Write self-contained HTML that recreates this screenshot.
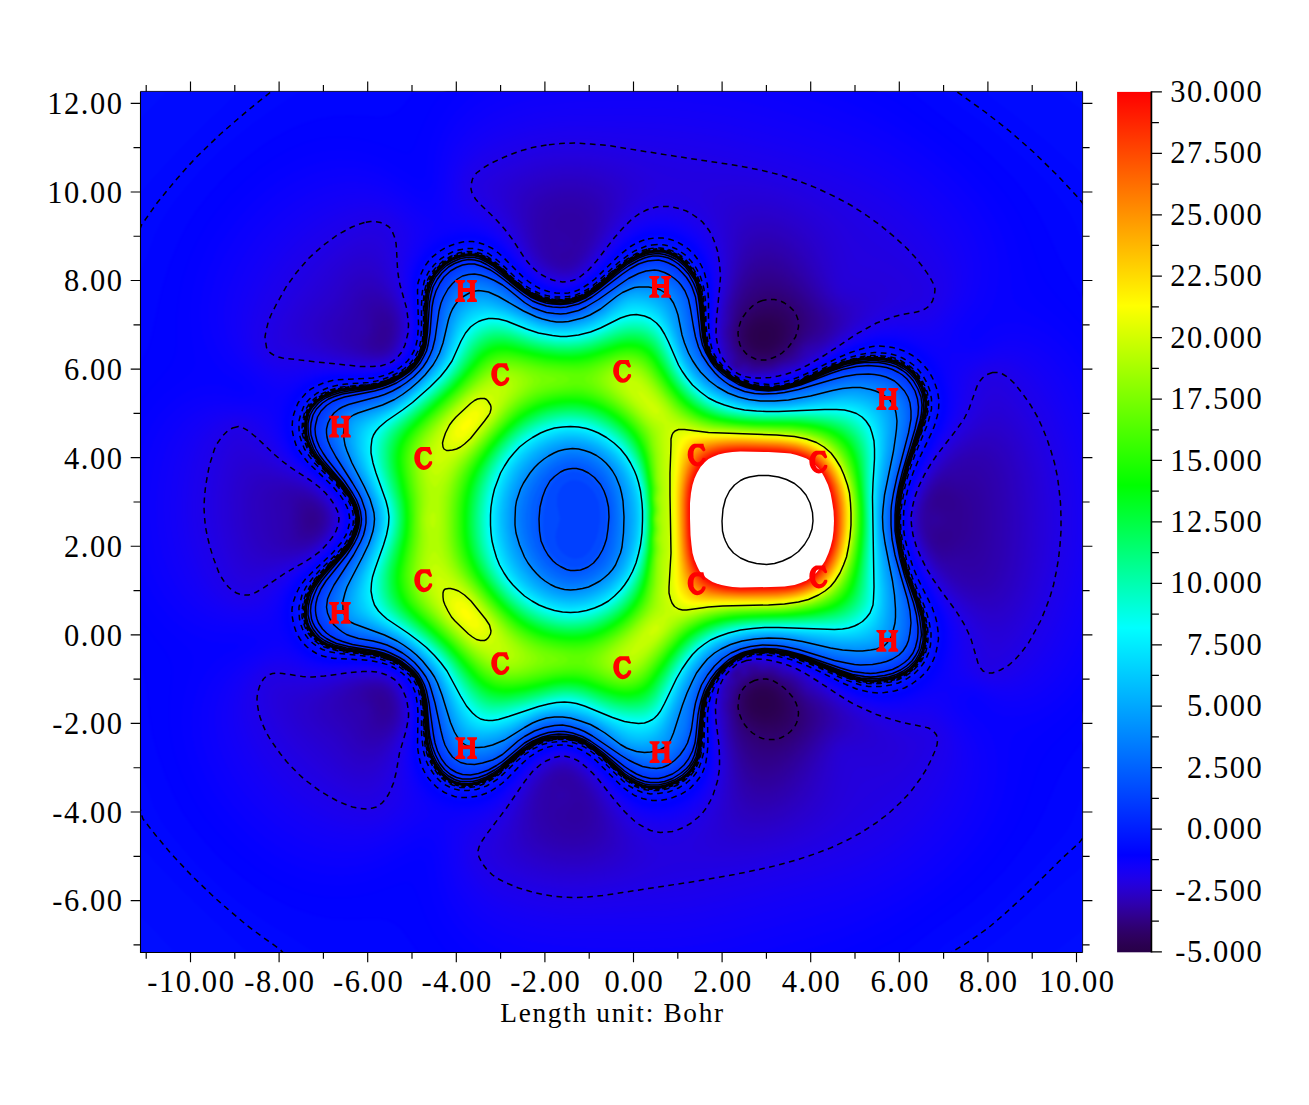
<!DOCTYPE html>
<html><head><meta charset="utf-8"><title>plot</title>
<style>html,body{margin:0;padding:0;background:#fff}svg{display:block}text{font-family:"Liberation Serif",serif;font-size:30.5px;fill:#000;letter-spacing:1.55px}</style>
</head><body>
<svg width="1309" height="1105" viewBox="0 0 1309 1105">
<defs>
<clipPath id="cp"><rect x="140.5" y="91.4" width="942.0999999999999" height="861.1"/></clipPath>
<filter id="bl" x="-5%" y="-5%" width="110%" height="110%" color-interpolation-filters="sRGB"><feGaussianBlur stdDeviation="1.2"/></filter>
<linearGradient id="cb" x1="0" y1="0" x2="0" y2="1"><stop offset="0.0000" stop-color="#ff0000"/><stop offset="0.2486" stop-color="#ffff00"/><stop offset="0.4571" stop-color="#00ff00"/><stop offset="0.6229" stop-color="#00ffff"/><stop offset="0.8871" stop-color="#0000ff"/><stop offset="0.8929" stop-color="#0800fe"/><stop offset="0.9000" stop-color="#1100f9"/><stop offset="0.9071" stop-color="#1800f2"/><stop offset="0.9143" stop-color="#1f00e8"/><stop offset="0.9214" stop-color="#2400dc"/><stop offset="0.9286" stop-color="#2800ce"/><stop offset="0.9357" stop-color="#2b00bf"/><stop offset="0.9429" stop-color="#2e00b0"/><stop offset="0.9500" stop-color="#2f00a0"/><stop offset="0.9571" stop-color="#300090"/><stop offset="0.9643" stop-color="#300080"/><stop offset="0.9714" stop-color="#2f0071"/><stop offset="0.9786" stop-color="#2e0064"/><stop offset="0.9857" stop-color="#2d0059"/><stop offset="0.9929" stop-color="#2a004f"/><stop offset="1.0000" stop-color="#280048"/></linearGradient>
</defs>
<rect width="1309" height="1105" fill="#fff"/>
<g clip-path="url(#cp)">
<rect x="120" y="70" width="990" height="910" fill="#0001ff"/>
<g filter="url(#bl)"><g transform="scale(0.5)" fill-rule="evenodd">
<path fill="#0004ff" d="M257 158l591 0-43 54-11 10-9 6-12 3-12 2-64-3-32 2-28 5-32 10-20 8-24 13-20 11-20 14-20 15-20 16-20 18-20 20-25 28-25 32-20 32-14 28-18 44-15 48-8 32-13 64-7 24-13 28-26 45zM1785 158l404 0 0 468-40-56-17-28-14-28-26-60-17-32-21-32-25-32-35-36-41-37-77-59-51-41-20-15zM1312 470l13 0 12 2 16 5 12 6 10 7 10 8 10 12 8 12 6 12 4 12 5 24 2 24-1 64 2 20 4 16 6 16 10 16 7 8 9 8 16 11 16 7 24 6 24 1 24-3 24-7 16-6 24-11 56-29 28-12 28-9 24-3 16 1 12 2 12 3 16 6 12 7 12 9 11 11 10 12 11 20 7 20 4 20 0 12-1 12-4 16-5 16-39 80-15 40-7 24-2 16-2 20 0 16 2 16 2 16 6 20 5 16 15 36 30 60 8 20 4 16 2 16 0 12-2 16-5 20-6 16-11 16-11 12-15 12-20 11-20 6-20 3-16 1-16-2-16-3-12-4-28-13-48-25-24-11-28-11-24-7-28-4-20 0-20 4-8 3-12 5-15 11-14 16-13 20-8 20-4 20-2 16 1 64-1 20-4 24-6 16-10 16-8 9-8 7-8 6-12 7-20 8-20 3-16 0-20-3-16-7-12-8-12-9-48-49-12-11-16-12-12-7-16-5-16-2-16 1-16 4-16 8-18 12-17 16-26 28-11 10-12 9-16 10-20 7-20 3-20 0-20-5-8-4-12-7-16-14-13-17-10-20-4-16-3-20 3-64-1-16-2-16-3-16-5-12-7-12-7-8-12-10-12-7-12-5-16-5-28-4-60-2-24-4-12-5-12-6-11-8-8-8-6-8-8-12-5-12-3-12-2-12 0-16 2-12 4-12 10-20 12-16 12-12 40-36 11-12 10-12 7-12 7-16 3-12 0-12-1-8-4-12-6-12-8-12-17-20-51-48-10-12-8-12-7-16-4-16-2-16 1-16 6-20 6-12 6-8 12-13 9-7 11-6 16-6 20-5 20-2 48-1 16-1 12-3 16-5 12-6 14-9 10-10 8-10 6-12 3-12 2-12 2-32-3-64 2-16 3-12 4-12 4-8 12-16 17-15 16-10 20-8 20-4 20 0 12 3 8 3 16 8 15 11 47 48 22 17 12 7 16 6 16 3 16 1 12-2 12-4 12-5 10-7 22-19 44-44 12-10 12-8 12-6 12-5 12-3zM257 1282l19 36 10 28 5 24 7 64 5 32 11 40 17 48 17 40 17 32 22 32 31 36 19 20 20 19 24 20 20 15 24 17 20 11 20 11 24 11 36 12 20 5 16 3 32 2 64-1 16 2 12 5 11 8 9 9 34 47 14 17 2 3-598 0zM2187 1454l2-3 0 479-416 0-6 0 26-15 24-16 52-40 48-34 24-18 37-33 20-20 18-20 28-36 25-36 19-36 25-60 14-28 18-28z"/>
<path fill="#0007ff" d="M257 158l390 0-26 13-24 14-56 37-32 23-28 22-32 27-28 27-24 25-24 28-23 28-19 28-12 20-8 16-17 48-27 60-10 24zM1861 158l328 0 0 376 0 2-5-10-12-24-23-56-10-20-16-24-29-36-34-36-39-37-26-23-26-21-70-51-13-12zM1310 474l11 0 16 2 12 4 12 5 12 8 11 9 9 11 8 12 9 21 4 12 2 16 2 24 0 64 2 16 3 16 7 16 10 16 7 8 10 9 16 10 12 6 12 4 20 4 20 1 24-3 16-4 24-9 76-37 28-12 28-9 12-2 16-1 16 1 12 2 12 3 16 7 12 8 12 9 9 9 9 12 11 20 7 20 3 20-1 20-4 16-5 16-33 68-10 24-9 28-6 24-3 16-1 20 0 16 3 28 3 16 8 24 16 40 27 56 8 20 3 12 2 16 0 16-1 12-4 20-7 16-9 15-12 13-16 13-16 9-20 7-20 4-16 0-16-1-16-3-12-4-28-12-44-22-28-14-28-10-28-8-24-3-24 1-20 4-16 8-15 11-15 16-13 20-8 20-4 20-2 16 0 64-1 20-3 20-6 16-10 16-7 8-8 8-8 6-12 7-20 8-20 3-16 1-20-4-16-6-12-8-12-10-58-57-14-11-12-7-16-6-16-3-20 1-16 4-16 7-20 14-19 17-29 30-12 10-16 10-20 9-20 4-20 0-20-5-12-5-8-5-16-13-12-15-11-20-5-17-3-19 0-16 1-56-2-28-3-12-5-12-6-12-7-8-9-8-14-9-12-6-16-5-16-3-16-2-60-3-12-2-12-3-12-4-11-7-9-7-8-8-7-9-7-12-4-12-3-12-2-12 1-12 1-12 4-12 10-20 12-16 11-12 40-37 10-11 10-12 10-16 4-12 3-12 0-12-2-12-3-8-6-12-8-12-18-21-45-43-10-12-9-12-8-16-5-16-2-16 1-16 5-20 6-12 5-8 7-8 8-8 11-8 8-4 16-6 20-5 16-1 48-2 12-1 16-3 16-5 12-6 16-11 9-8 6-8 7-12 4-12 3-12 1-12 1-20-3-64 2-16 4-16 7-16 12-16 15-14 20-12 20-7 20-4 20 1 16 5 14 7 14 10 12 11 36 37 12 10 12 8 12 6 16 6 12 3 16 1 12-1 12-3 8-3 12-7 20-15 48-46 20-17 16-9 12-6 12-3zM257 1494l0-3 36 79 17 48 8 16 13 20 22 28 24 28 22 24 26 25 28 26 28 22 28 21 28 19 45 27 51 34 20 10 28 12-424 0zM2188 1542l1-2 0 390-332 0-7 0 26-28 12-12 11-8 34-22 24-17 26-21 26-24 47-48 61-68 16-20 9-16 27-68z"/>
<path fill="#000aff" d="M257 158l248 0-84 80-45 44-38 40-33 36-30 36-18 24zM1935 158l254 0 0 216-16-18-19-18-62-56-55-45-83-63zM1307 478l14 0 12 1 12 3 12 5 12 8 9 7 11 11 8 11 5 10 5 12 4 12 3 16 2 24 1 68 2 16 5 16 3 8 7 12 12 16 14 12 17 10 20 8 24 4 20 1 22-3 22-6 16-6 72-36 28-11 28-9 16-3 12-1 16 1 12 2 12 3 16 7 12 7 11 8 9 9 9 11 11 20 8 20 3 20-1 20-3 12-5 16-33 72-9 24-8 24-4 16-5 24-2 16 0 24 4 32 9 36 11 28 32 68 7 20 3 12 2 16 0 16-1 12-4 20-7 16-11 16-12 12-16 12-18 9-16 5-20 4-12 0-16-1-16-3-12-4-28-11-45-23-27-12-28-10-28-8-24-3-20 1-20 4-8 2-12 6-16 12-15 16-13 20-8 20-5 20-1 16-1 64-1 20-3 16-5 16-10 16-14 15-8 6-12 8-20 8-20 4-16 0-20-3-16-7-12-7-12-10-46-46-18-16-16-10-13-6-19-4-20 0-20 4-16 7-15 9-15 12-36 36-14 12-16 10-16 7-16 5-16 1-16-1-16-4-16-8-8-6-9-8-13-16-11-20-4-16-3-20 0-68-3-28-2-12-4-12-7-12-6-8-9-8-12-8-13-7-12-4-16-5-16-2-64-4-20-4-12-4-12-5-12-9-8-8-6-8-7-12-5-12-3-12-2-12 0-12 2-12 4-12 9-20 12-16 11-12 41-39 18-21 10-16 5-12 2-12 1-12-3-12-3-8-6-12-8-13-17-19-45-44-13-16-8-12-7-16-3-12-2-16 1-16 6-20 6-12 5-8 13-14 16-10 16-7 20-5 20-2 44-1 12-2 16-3 16-5 16-8 12-9 11-10 7-8 6-12 4-12 3-12 1-28-1-68 2-16 3-12 8-18 12-16 16-14 16-9 20-8 20-4 12 0 8 1 16 5 14 7 14 10 46 46 22 17 14 7 14 5 16 4 16 1 12-1 12-3 8-3 12-6 12-9 10-8 46-44 20-16 12-8 12-5 12-4zM257 1662l0-3 12 17 18 22 33 36 39 40 54 53 85 79 23 24-264 0zM2186 1714l3-4 0 220-252 0-8 0 4-3 52-39 32-26 92-82 60-51z"/>
<path fill="#000dff" d="M257 158l101 0-50 52-51 53zM2082 158l107 0 0 80 0 2zM1304 482l13-1 12 1 12 3 16 6 12 8 8 7 12 12 8 12 9 20 6 24 3 24 1 68 2 16 5 16 7 16 12 16 15 14 16 11 20 8 24 6 20 1 24-2 16-4 24-9 72-35 28-11 28-8 16-3 12 0 16 0 12 3 12 3 12 5 12 7 12 9 9 9 10 12 11 20 6 16 3 20-1 20-3 12-5 16-30 68-16 44-6 24-4 24-2 16 0 24 1 16 4 24 4 16 7 24 12 31 25 53 8 24 2 12 2 16 0 12-1 12-3 16-7 16-10 16-12 13-16 12-16 8-20 7-20 2-24 0-16-3-12-3-24-10-48-23-28-13-28-10-24-6-24-3-24 0-20 4-8 3-12 6-16 11-9 9-7 8-12 20-9 20-5 20-2 16 0 60-2 20-3 20-6 16-10 16-15 14-16 11-20 8-20 4-16 1-20-4-16-6-12-8-16-13-52-51-12-9-12-8-16-6-20-4-20 1-16 4-16 6-20 13-18 15-37 36-13 10-12 7-20 7-20 3-20-1-16-4-16-8-16-14-13-16-9-20-5-16-3-20 0-64-3-28-2-12-4-12-7-12-6-8-8-8-12-8-12-7-16-6-16-5-16-2-60-5-20-3-12-3-12-6-11-7-9-9-6-7-7-12-5-12-4-12-1-12 0-12 2-12 3-12 10-20 11-16 12-12 41-40 17-20 9-16 5-12 2-12 1-12-3-12-2-8-6-12-8-12-17-20-45-44-10-12-8-12-6-12-6-16-2-16 0-16 5-20 6-12 5-8 6-8 9-8 16-10 16-7 16-4 20-2 48-3 12-1 16-4 16-6 13-7 15-10 10-10 6-8 6-12 4-12 3-12 1-28-1-64 2-16 3-12 7-16 11-16 16-15 16-10 20-8 16-4 20 0 16 4 16 8 12 8 12 11 36 36 12 10 12 8 16 7 14 5 14 3 16 1 12-1 12-3 10-4 10-5 21-15 47-45 16-13 12-8 12-6 12-5zM257 1810l0-2 56 57 60 65-116 0zM2188 1842l1-1 0 89-104 0-7 0 49-40z"/>
<path fill="#0010ff" d="M1301 486l12-1 12 0 16 4 12 4 12 7 12 10 8 9 8 11 7 12 5 12 6 24 2 24 2 64 2 16 4 16 8 16 12 16 16 15 16 10 20 9 24 6 24 1 20-2 16-4 20-7 72-34 28-12 32-8 24-3 16 1 12 1 12 3 12 5 12 7 12 8 8 8 10 12 10 16 8 20 3 20-1 20-3 12-5 16-30 71-8 22-8 27-4 16-4 24-1 16-1 20 2 20 2 16 4 20 6 23 12 34 27 59 6 20 3 12 1 16 1 12-1 12-4 16-7 16-10 15-12 13-16 11-16 8-16 5-20 3-16 0-12-1-24-5-24-9-50-24-29-12-25-9-28-7-24-3-20 1-20 4-12 5-8 4-16 11-8 8-9 10-12 20-9 20-4 16-3 20-1 60-2 20-4 20-6 16-10 14-8 9-8 6-16 10-20 7-20 4-16 0-16-3-16-7-12-7-12-10-44-43-16-14-16-11-16-7-20-4-20 0-20 3-16 7-18 10-15 12-39 37-12 10-12 8-16 7-16 4-16 2-16-1-16-5-16-9-15-13-12-16-9-20-5-16-2-16-2-68-2-28-3-12-5-12-5-9-8-10-8-7-12-8-12-7-16-6-16-4-16-3-60-5-20-4-12-4-12-6-10-7-8-8-6-8-7-12-4-8-3-12-2-12 0-12 2-12 4-12 9-20 12-16 15-16 36-36 18-22 8-14 5-12 2-12 1-12-1-8-4-12-6-12-9-14-16-18-44-44-10-12-8-12-8-16-3-12-3-16 1-16 5-20 8-16 6-8 8-8 16-11 16-7 20-5 16-2 48-3 12-1 16-4 16-6 16-9 12-8 12-12 6-8 6-11 3-9 3-12 2-28-1-64 2-16 4-16 7-16 12-15 14-13 18-11 16-6 20-4 16 0 16 4 12 5 16 11 46 45 10 8 12 8 15 8 17 6 16 3 16 1 12-1 12-3 12-5 10-5 22-16 40-38 20-16 12-8 12-6 12-5z"/>
<path fill="#0012ff" d="M1298 490l15-2 12 1 12 2 12 4 12 7 11 8 9 9 8 11 8 12 4 9 4 12 4 15 2 24 2 48 1 20 3 16 5 16 8 16 15 18 16 13 20 11 20 7 20 4 20 1 22-2 18-5 19-7 65-30 28-12 28-8 16-3 12-1 16 1 16 2 12 3 12 5 12 7 11 8 9 9 9 11 9 16 7 20 2 16-1 20-4 16-4 12-26 64-16 49-4 15-5 28-2 24 0 16 1 16 3 24 3 16 8 28 12 35 22 49 8 24 3 16 1 12 0 12-1 12-4 16-7 16-8 12-11 12-15 11-16 8-16 5-20 4-16 0-12-1-24-5-24-9-55-25-25-10-28-9-24-6-24-2-20 0-20 4-12 5-8 4-16 11-8 8-10 11-12 20-9 20-5 16-3 20-1 60-2 20-3 16-6 16-5 8-6 8-14 13-16 10-20 8-20 4-16 0-16-3-16-7-12-7-12-10-44-43-15-13-18-12-19-7-16-3-16-1-16 2-16 5-17 8-18 12-17 14-32 31-12 9-12 7-20 8-16 3-20 0-16-4-16-8-8-6-8-8-12-16-9-18-5-16-3-20-2-68-3-28-4-12-5-12-5-9-6-7-9-8-12-8-13-7-12-5-16-4-16-4-64-6-20-4-12-4-11-6-9-7-8-8-7-9-5-9-4-11-3-12-1-12 0-12 2-12 4-12 8-16 12-16 15-16 35-35 17-21 7-12 5-12 4-12 1-12-1-12-4-12-6-12-7-12-17-20-44-44-12-16-8-12-5-12-5-16-2-16 1-12 6-20 8-16 7-8 7-7 16-10 16-7 16-4 20-3 44-2 16-3 12-3 16-6 16-9 15-10 9-9 8-10 5-9 4-12 3-12 2-28 0-64 2-16 3-12 7-16 11-16 15-13 16-10 16-7 20-4 16 0 16 4 12 6 12 8 12 11 34 33 14 11 12 8 16 8 16 5 16 3 16 1 12-1 12-3 12-4 12-7 20-15 40-36 20-17 12-8 12-6z"/>
<path fill="#0015ff" d="M1295 494l14-2 12-1 12 2 12 4 12 6 12 9 10 10 10 12 10 20 5 12 3 12 3 24 3 68 3 16 5 16 6 12 5 8 13 15 16 13 20 11 24 8 24 4 16 0 24-3 14-4 21-8 61-29 28-11 28-8 16-2 12-1 16 1 12 1 12 3 12 5 12 6 12 9 8 7 9 11 10 16 6 16 3 16-1 20-5 24-30 77-15 47-5 24-2 16-3 24 0 16 1 16 3 24 9 38 10 30 25 60 7 24 4 16 1 12 0 12-1 12-4 16-7 16-9 12-12 12-14 10-16 7-16 5-20 3-24 0-12-2-16-4-20-8-52-23-28-11-28-9-24-6-20-2-24 0-20 5-12 4-8 4-16 12-8 7-11 12-12 20-9 20-5 16-3 20-2 60-2 20-4 18-6 14-10 14-12 11-16 10-20 8-20 4-16 0-16-3-16-6-12-8-12-9-56-53-17-12-18-8-17-4-16-1-20 2-16 5-16 7-18 11-18 15-36 33-12 9-12 6-16 7-20 3-16 0-16-4-16-9-14-12-12-16-9-20-5-16-3-20-2-64-3-28-4-12-4-11-5-9-7-8-9-8-11-8-15-8-13-6-16-4-16-4-60-6-21-4-12-4-11-6-9-6-8-8-7-9-6-11-3-8-3-12-1-12 0-12 3-12 4-12 8-16 11-16 14-16 36-36 16-20 7-12 5-12 4-12 1-12-2-12-3-12-6-12-7-12-18-21-42-43-12-16-7-12-6-12-5-16-1-12 1-16 4-16 3-8 5-9 12-14 16-11 16-7 16-4 20-3 44-3 16-3 12-4 16-5 16-9 12-8 13-12 7-8 5-8 5-12 3-12 3-28 0-64 2-16 4-16 7-16 11-14 16-14 16-10 16-6 16-3 16 1 16 4 12 6 12 8 12 11 35 33 10 8 12 8 16 8 19 6 16 3 16 1 12-1 12-3 12-4 12-7 21-15 39-35 20-16 20-13 12-5z"/>
<path fill="#0018ff" d="M1293 498l12-3 12 0 12 1 12 3 12 6 12 8 10 9 10 12 5 8 7 13 4 11 4 15 3 25 4 64 2 16 5 16 7 12 5 8 14 16 12 10 12 8 12 6 16 6 20 5 12 1 12 1 16-2 16-3 24-8 68-31 28-11 28-7 16-2 12-1 16 1 12 2 12 3 12 4 12 7 10 7 10 10 8 10 9 16 6 16 2 16-1 20-6 24-30 79-12 40-8 41-2 24 0 16 2 28 2 12 6 28 4 16 8 25 26 63 6 20 3 24 0 24-3 16-7 16-8 12-11 12-14 10-16 8-16 5-20 3-16 0-12-1-24-5-20-7-52-23-28-11-28-8-28-6-24-2-20 1-20 5-16 8-12 8-9 7-15 16-12 20-9 20-5 16-4 24-2 52-2 20-4 20-6 14-10 14-14 12-16 10-20 7-16 3-16 0-16-3-16-6-12-8-12-9-53-50-17-12-16-8-18-5-20-2-20 2-16 4-16 7-16 10-20 16-36 33-12 8-12 7-16 6-20 4-16 0-16-5-16-9-13-12-11-16-10-20-4-16-3-16-3-68-3-24-3-12-5-12-5-9-8-10-12-10-11-7-13-7-12-4-16-5-16-4-60-7-20-4-12-4-10-5-10-8-8-8-6-8-6-12-3-8-2-12 0-20 2-12 4-12 8-16 11-16 14-16 34-34 16-20 6-10 6-12 4-14 1-14-1-12-3-12-6-12-7-12-16-20-43-44-12-16-7-12-7-16-3-12-2-12 1-16 4-16 3-8 6-9 12-13 16-10 16-7 16-4 16-3 48-4 12-2 16-5 16-6 16-9 12-9 12-11 8-11 4-8 4-9 3-12 2-24 1-68 2-16 4-13 8-17 11-14 13-12 16-10 16-6 16-4 16 1 16 4 12 7 12 8 44 40 15 12 13 8 16 8 16 5 16 2 16 1 12-1 12-3 12-4 12-6 19-14 45-40 16-12 20-12z"/>
<path fill="#001bff" d="M1310 498l11 0 12 2 12 4 8 4 8 6 10 8 7 8 9 12 10 19 6 21 4 24 3 64 3 16 5 16 9 16 14 17 16 14 20 12 20 8 20 5 24 2 16-2 24-5 16-6 68-30 28-11 28-7 28-2 16 1 12 2 12 3 12 5 11 6 9 6 8 8 8 10 10 16 6 16 2 16-1 20-2 12-5 16-26 70-13 42-3 16-5 28-2 24 0 16 3 40 8 35 12 38 22 55 8 28 3 24 0 12-2 12-4 16-5 12-10 14-12 11-12 8-16 7-16 4-20 3-24 0-24-5-24-9-48-20-28-11-28-9-24-5-20-2-24 1-16 3-20 8-8 4-12 9-17 17-14 20-10 20-5 16-4 16-1 16-3 48-2 20-4 18-6 14-10 14-12 10-16 10-20 8-16 3-16 0-16-3-12-5-12-6-16-12-41-39-23-19-12-7-12-5-20-5-20-1-16 2-16 4-16 7-13 8-15 11-48 41-12 8-16 8-16 5-16 2-16-1-12-4-8-4-8-6-12-12-11-16-8-16-4-16-4-20-3-64-3-24-3-12-5-12-7-12-7-8-9-8-12-8-15-8-13-5-16-5-16-3-60-8-20-5-12-4-8-5-8-5-8-8-11-16-5-12-1-8-2-8 1-12 1-12 4-12 7-16 13-20 14-16 35-36 15-20 5-8 7-16 3-12 1-12-1-12-4-12-6-14-6-10-18-22-40-42-12-16-7-12-7-16-3-12-2-16 1-12 4-16 4-8 5-8 12-12 13-9 16-7 16-5 16-2 48-5 28-7 16-6 19-11 13-10 10-10 6-8 6-12 6-20 3-24 1-64 2-16 5-16 7-16 10-13 16-14 15-9 13-5 16-3 16 0 12 3 12 6 16 10 41 37 15 12 12 8 16 8 16 6 16 3 20 1 12-1 12-3 20-8 21-14 47-41 24-17 12-7 12-5 12-4z"/>
<path fill="#001eff" d="M1303 502l10-1 12 1 8 1 12 5 11 6 9 7 9 9 10 12 11 20 4 12 3 12 3 24 4 60 4 20 4 12 6 12 6 8 14 16 14 12 12 7 12 6 24 9 24 4 16 0 24-3 12-3 22-8 58-26 24-9 28-8 16-2 16-1 16 0 16 3 12 3 12 5 12 7 8 6 8 8 8 10 8 16 6 16 1 16-1 16-6 28-27 76-12 40-5 24-2 16-2 12-1 28 1 13 3 27 9 40 9 28 23 60 7 24 3 24-1 24-3 16-6 13-8 12-12 12-12 8-16 8-16 4-20 3-24 0-24-5-24-8-46-19-30-11-28-9-24-5-20-2-24 1-20 4-8 3-12 6-16 11-18 18-9 12-8 12-9 20-4 14-4 22-5 72-3 16-7 16-9 13-12 12-16 10-20 8-16 3-16 0-16-3-12-5-12-7-12-8-47-43-20-16-14-8-11-5-11-3-17-2-16 0-16 2-16 5-16 7-13 8-20 16-35 30-12 9-12 7-20 7-16 3-16-1-12-3-8-4-8-5-12-11-12-16-7-16-6-16-3-20-2-20-2-44-4-27-4-13-4-10-6-10-7-8-7-6-12-9-12-7-16-8-16-5-16-4-56-7-24-6-12-4-8-4-11-8-8-8-6-8-4-8-3-8-3-12 0-8 0-12 2-12 4-12 8-16 11-16 14-16 32-33 16-21 6-10 6-14 4-14 1-12-1-12-4-13-5-11-7-12-16-21-41-43-9-12-10-16-7-16-3-12-2-16 1-12 5-16 6-12 12-13 16-11 16-6 16-5 60-7 28-7 17-7 15-8 16-12 12-12 8-12 4-8 6-20 3-24 2-64 2-16 5-16 8-16 9-12 13-11 16-10 16-6 12-2 16 0 12 3 16 8 12 9 52 44 20 14 16 7 16 5 16 2 16 1 12-2 12-2 20-8 12-7 12-9 44-38 20-15 12-7 12-6 12-4z"/>
<path fill="#0021ff" d="M1298 506l11-2 12 0 12 2 8 3 12 7 9 6 11 11 8 9 11 20 5 12 3 12 4 24 2 40 2 24 4 16 5 14 11 18 14 16 15 13 12 7 12 6 24 9 24 4 16 0 24-3 28-8 60-27 28-10 28-8 28-3 12 0 16 2 16 4 12 4 12 7 8 5 8 8 8 10 9 16 6 16 2 16-1 16-2 12-4 16-26 74-12 42-7 40-2 24-1 16 2 28 8 41 12 41 22 58 7 28 3 24-1 12-1 12-5 16-6 12-9 12-10 8-12 8-16 7-16 4-16 3-24 0-24-5-24-8-75-29-26-8-31-6-24-2-20 2-16 4-20 8-16 11-8 7-11 12-15 20-9 20-6 16-3 16-3 28-2 36-2 16-4 16-7 16-10 14-12 10-16 9-20 8-12 2-16 0-12-2-16-6-12-7-12-8-44-40-20-16-13-8-11-5-12-4-16-3-16 0-16 1-16 4-16 7-14 8-14 10-48 41-12 7-16 8-16 5-16 2-12-1-12-3-15-9-13-12-11-16-7-16-5-16-3-16-5-68-4-24-3-12-6-12-5-8-7-9-8-7-12-9-12-7-16-8-13-4-16-4-59-9-24-5-12-5-8-5-8-6-8-8-9-14-4-8-3-12 0-8 0-12 2-12 4-12 8-16 11-16 14-16 29-31 16-21 8-12 5-12 3-12 2-16-2-16-4-12-4-9-8-13-16-21-38-41-12-16-7-12-5-12-5-16-1-16 1-12 4-16 7-12 12-12 16-10 12-6 16-4 16-3 44-5 16-4 14-4 18-8 14-8 16-12 10-10 7-10 5-8 4-10 4-14 2-24 2-60 3-16 4-16 8-16 9-12 13-12 15-10 12-5 16-3 16 0 12 3 12 6 12 8 16 12 38 33 11 8 14 8 17 7 12 4 16 2 16 1 12-2 12-2 12-4 11-6 24-16 41-35 20-15 20-11z"/>
<path fill="#0024ff" d="M1292 510l13-3 12 0 12 1 8 3 12 5 8 6 12 10 9 10 5 8 7 12 5 12 3 12 4 24 3 44 2 20 4 16 6 16 4 8 8 11 12 14 16 13 12 7 12 6 16 6 20 5 12 2 12 0 16-1 15-3 26-8 63-27 28-10 24-6 28-3 16 1 12 1 12 3 12 4 12 6 8 6 8 7 9 10 10 16 5 16 3 16-1 16-3 16-5 16-22 66-12 42-8 40-2 28-1 16 3 32 4 24 4 17 8 28 22 59 8 28 3 24 0 24-4 16-4 12-8 12-12 12-13 9-12 6-20 6-16 2-12 1-16-1-24-5-24-8-56-22-24-8-30-8-18-3-24-2-20 2-16 4-20 8-16 11-9 8-12 12-14 20-9 19-6 17-3 16-3 25-3 39-2 16-4 16-5 12-10 14-12 11-16 9-16 7-16 3-16 0-12-2-16-6-12-7-12-8-42-37-20-16-14-9-16-7-16-4-20-2-20 1-18 5-18 8-13 8-15 11-36 31-16 11-12 7-16 6-20 4-16-1-12-4-12-6-12-11-12-16-7-16-6-16-4-20-4-60-4-28-4-12-5-12-6-9-8-10-16-13-12-8-17-8-27-9-18-3-42-6-24-6-11-4-9-5-10-7-8-8-6-8-4-8-3-8-2-12 0-8 1-12 5-20 8-16 11-16 44-49 16-22 8-15 4-11 2-11 1-12-1-12-3-12-7-16-7-12-17-21-38-43-9-12-7-12-7-16-3-12-1-12 0-12 4-16 6-12 11-12 16-11 12-6 16-5 64-9 28-8 19-9 13-7 12-9 12-12 12-17 5-11 3-12 4-28 2-60 3-16 5-16 8-16 10-12 12-11 12-8 16-6 12-2 16 0 12 3 12 6 12 7 16 12 36 31 24 16 16 8 13 4 15 3 16 1 12-1 14-3 12-4 14-7 20-13 48-39 16-12 20-11z"/>
<path fill="#0026ff" d="M1305 510l8-1 12 1 8 2 12 5 12 8 8 7 8 8 8 10 9 16 6 20 4 24 4 48 2 16 4 16 6 16 5 9 7 11 13 14 16 13 12 7 11 6 21 8 16 3 12 2 12 0 16-1 18-4 26-8 64-27 24-8 28-6 24-2 16 0 12 2 12 2 12 5 12 6 8 6 8 7 9 11 9 16 5 16 2 16-2 16-5 24-26 80-12 45-4 21-3 22-1 28 4 40 8 37 12 39 19 52 6 24 2 24 0 12-1 12-4 16-6 12-8 10-11 10-13 9-12 5-16 4-20 3-20 0-24-4-24-7-46-18-35-12-29-8-22-4-24-1-20 1-16 4-20 9-17 11-9 8-10 10-13 18-11 20-7 20-3 16-2 12-4 48-3 20-4 16-6 12-9 12-14 12-16 10-16 5-16 3-12 0-16-4-12-4-12-7-12-9-44-38-22-16-13-8-9-4-12-4-12-3-16-1-16 1-16 4-20 7-12 7-12 8-36 31-16 12-12 7-16 8-16 4-16 2-12-1-12-4-12-7-12-11-11-16-8-16-4-16-4-16-5-64-4-24-4-13-5-11-7-11-8-9-8-8-11-8-13-8-12-5-16-6-16-4-56-9-24-6-12-5-8-5-8-6-8-9-6-9-4-8-4-16 0-16 4-20 8-16 10-16 13-16 31-35 16-22 8-14 4-10 4-15 1-12-1-12-4-13-5-11-7-13-16-22-40-45-11-16-6-12-5-12-4-16-1-12 2-12 5-16 8-12 12-11 12-7 12-6 16-4 56-9 28-7 19-8 14-8 15-11 12-11 8-10 5-8 5-12 4-12 3-24 2-44 1-20 3-16 4-12 8-16 9-13 12-11 16-10 12-4 16-3 12 1 12 3 16 7 12 8 51 42 13 9 11 7 13 6 16 4 12 3 16 0 12 0 12-3 12-3 14-7 25-16 45-37 20-14 20-11 12-4z"/>
<path fill="#0029ff" d="M1296 514l9-2 12 0 8 1 12 3 8 4 12 8 11 10 9 10 11 18 4 12 4 12 3 20 6 63 4 17 4 12 11 20 14 16 19 16 12 7 12 6 19 7 18 4 23 1 18-1 19-4 19-6 68-27 24-8 24-6 28-3 16 1 12 2 12 3 12 4 12 7 7 5 9 8 6 8 9 16 6 16 2 16-1 16-3 16-5 16-22 69-12 44-4 19-3 24-1 32 0 16 4 28 8 36 8 27 19 53 7 28 4 24-1 24-4 16-6 12-8 12-11 10-12 8-16 7-16 4-16 2-24 0-24-4-24-8-73-27-27-8-24-4-28-2-20 2-18 4-18 8-18 12-18 17-14 19-11 20-7 20-3 16-6 60-3 16-4 16-5 12-11 15-12 11-16 9-16 6-12 2-16 0-12-2-16-6-12-7-12-8-42-36-21-16-21-12-16-6-16-3-16-1-16 2-16 4-19 8-14 8-15 12-36 30-12 8-16 9-16 6-16 3-16 0-12-3-12-6-12-10-10-13-9-16-5-16-5-20-6-68-5-24-8-21-7-11-7-8-10-9-12-9-12-7-15-7-26-8-55-9-24-6-11-5-9-5-10-7-7-8-6-8-4-8-4-16-1-8 1-12 6-20 7-16 8-12 13-16 33-38 16-23 7-15 4-12 2-8 1-12-2-15-4-13-12-23-16-22-37-43-9-12-7-12-5-12-5-16-1-12 1-12 4-16 7-12 12-12 12-8 12-5 16-5 59-10 28-8 17-7 15-9 13-9 12-11 9-12 7-12 7-20 3-24 4-60 3-16 4-16 8-16 10-12 13-12 12-7 16-6 12-2 12 1 12 3 12 5 16 11 49 39 24 16 15 7 15 5 13 2 16 1 12-1 12-2 12-4 16-7 25-17 43-35 16-11 20-12z"/>
<path fill="#002cff" d="M1289 518l12-3 12-1 12 1 12 4 12 6 8 6 8 7 11 12 7 12 4 8 7 20 4 24 4 40 2 20 4 16 6 16 7 12 5 8 15 16 16 13 12 7 12 6 16 6 20 5 24 1 21-2 19-4 16-5 64-25 24-9 28-6 28-3 24 2 12 3 12 4 12 6 8 5 9 8 7 9 9 15 6 16 2 16-1 16-6 28-22 70-12 43-5 23-3 24-1 32 2 28 7 40 12 42 19 54 6 24 3 24-1 24-4 16-6 12-9 12-8 7-12 8-16 8-16 4-16 2-24 0-24-4-24-7-59-22-24-8-17-4-24-5-28-2-20 2-20 5-18 8-18 12-16 16-15 20-11 20-6 17-4 17-6 58-3 20-5 16-6 12-8 12-12 11-16 9-16 6-16 3-12 0-16-3-12-5-12-7-12-9-40-33-21-16-21-12-21-8-17-3-16 0-16 2-16 5-16 7-15 9-49 40-16 11-12 6-16 6-16 3-16 0-12-4-12-6-12-11-10-13-8-16-5-16-4-16-6-64-5-24-3-12-6-12-5-9-9-11-7-7-12-10-12-7-16-8-12-5-16-4-52-9-24-6-20-9-10-7-8-8-6-8-4-8-5-16 0-16 5-20 7-16 10-16 12-16 31-36 16-23 8-16 4-12 2-9 1-12-1-12-2-8-4-11-8-16-16-23-42-50-12-20-7-16-3-12-1-12 1-12 4-16 8-12 12-12 12-7 12-6 12-3 60-11 16-4 15-5 17-8 13-8 11-8 13-12 7-8 7-12 5-10 4-14 4-24 3-56 3-16 4-16 8-16 8-12 13-12 13-8 12-5 16-3 16 1 12 4 12 6 16 10 49 39 11 8 12 7 12 6 16 5 13 2 15 1 12-1 16-4 12-4 16-8 23-16 53-42 20-11z"/>
<path fill="#002fff" d="M1297 518l12-2 12 1 12 3 8 3 8 5 12 9 8 8 7 9 10 16 6 20 4 20 5 48 2 16 4 16 6 16 12 19 12 14 18 15 22 13 17 7 19 5 20 2 24-2 24-4 15-5 69-27 24-7 24-6 28-2 16 1 12 2 20 6 12 6 8 6 8 7 8 10 7 12 6 16 2 16-1 16-5 28-25 80-10 40-6 33-2 23 0 16 2 28 8 43 8 29 22 64 5 20 3 28 0 12-1 12-3 12-5 12-8 12-9 9-12 8-12 6-20 6-16 2-24 0-12-1-16-3-24-8-52-19-25-8-31-8-16-2-24-1-20 1-20 5-20 9-17 12-16 16-15 19-11 21-6 16-3 16-3 20-4 36-3 20-4 16-6 13-8 11-12 12-16 10-16 6-12 2-16 1-16-4-12-5-12-6-12-9-48-39-17-12-23-12-20-6-16-3-20 2-16 3-20 7-12 7-12 8-32 27-16 13-16 9-16 7-16 5-12 1-12-1-12-3-12-7-12-11-10-14-7-16-5-16-4-16-6-60-5-24-3-12-5-12-7-11-8-10-8-8-12-9-12-8-12-6-16-6-16-5-48-8-24-6-12-4-12-7-8-6-8-8-9-14-5-16 0-16 4-20 7-16 10-16 41-50 16-23 8-15 4-11 3-13 1-12-1-12-3-11-4-11-8-15-16-23-40-48-8-12-6-12-5-12-3-12-1-12 1-12 3-12 7-12 11-12 13-9 12-5 12-4 60-11 16-5 16-5 18-9 13-8 13-10 10-10 7-8 7-11 4-9 4-12 4-24 5-64 4-16 3-12 8-15 9-13 14-12 13-8 16-5 12-1 12 1 12 4 12 6 16 10 52 41 20 13 16 7 12 3 16 3 12 0 12-1 12-2 12-4 15-7 25-16 44-35 16-11 20-11z"/>
<path fill="#0032ff" d="M1289 522l12-3 12-1 12 2 8 2 12 6 8 5 11 9 9 11 11 17 7 20 4 24 5 44 2 16 4 16 7 17 12 20 16 17 20 15 20 11 16 6 20 4 24 1 16-1 12-2 30-8 66-25 24-8 24-5 24-2 16 0 12 2 12 3 12 4 8 4 10 7 9 8 6 8 8 12 6 16 2 16 0 16-3 16-4 16-22 73-12 47-6 36-1 32 3 33 8 41 8 29 18 53 7 28 4 24-1 24-4 16-5 12-7 10-10 10-12 8-14 6-16 5-16 2-24 1-24-4-28-8-74-26-32-8-18-3-24-1-20 1-20 5-20 9-18 13-17 16-15 20-10 20-6 16-3 16-9 72-5 16-7 16-10 14-11 10-13 8-16 6-16 3-12-1-12-2-16-6-12-7-12-8-47-37-16-12-17-10-16-6-16-5-16-1-20 2-17 4-19 8-12 7-12 9-40 33-12 8-16 8-16 6-16 2-16 0-12-4-12-7-11-10-9-12-7-16-5-16-4-16-8-64-4-22-4-12-4-10-8-12-8-10-10-10-11-8-13-8-14-7-13-5-15-4-52-9-20-6-13-5-11-7-8-6-6-7-6-8-4-8-4-16 0-16 2-8 4-12 5-12 10-16 39-48 17-24 7-14 4-10 4-15 1-13-1-12-4-14-4-10-8-15-16-23-37-46-13-20-5-12-4-12-1-12 0-12 4-16 7-12 9-10 12-9 12-5 16-6 56-10 16-4 16-6 16-7 16-10 12-9 12-12 12-17 5-11 4-12 5-24 4-60 3-16 6-16 8-16 9-12 12-10 12-7 12-5 12-2 12 1 16 4 12 6 16 10 56 43 16 10 12 6 13 4 15 3 16 1 12-1 13-3 12-4 15-7 26-17 42-33 16-11 16-9z"/>
<path fill="#0035ff" d="M1297 522l12-2 8 1 12 2 8 3 12 6 8 6 8 8 8 9 11 19 7 20 3 20 7 58 4 18 7 16 9 16 16 19 20 17 20 11 16 6 20 5 24 2 20-2 15-2 29-8 60-23 24-7 28-7 24-2 24 2 12 2 12 4 12 6 8 6 8 7 8 9 9 15 5 16 2 16-1 16-6 28-25 85-8 32-6 39-2 32 4 38 7 34 9 33 18 55 6 24 3 24-1 24-4 16-5 12-9 12-8 7-12 8-12 5-16 5-16 3-24 0-12-1-16-3-20-6-75-26-31-8-22-4-24-1-20 2-20 5-20 9-19 13-17 16-12 16-12 22-6 18-4 16-7 56-3 16-4 16-8 16-9 12-11 10-12 8-16 6-12 2-16 0-16-3-12-5-24-15-45-35-23-16-16-9-20-7-16-3-16 0-16 2-16 5-19 8-13 8-44 37-12 8-16 9-20 7-16 2-16 0-12-4-12-7-8-8-9-12-8-16-6-16-3-16-8-64-6-24-4-12-6-12-6-10-8-10-8-7-12-10-12-7-15-8-25-8-52-10-20-5-12-5-12-7-8-6-7-7-8-12-4-8-2-8-1-16 1-8 3-12 7-16 10-16 41-51 16-25 6-12 4-12 3-12 1-12-2-16-4-12-4-10-7-14-17-24-35-44-8-12-7-12-4-12-3-12-1-12 0-8 5-16 7-12 10-10 12-9 12-5 12-4 60-12 28-9 16-7 16-10 12-9 12-12 8-10 7-11 5-12 3-12 4-24 4-52 3-16 5-16 8-16 9-12 12-12 12-7 12-5 12-2 12 1 16 4 12 5 16 10 54 42 18 12 12 5 16 5 12 2 16 1 12-1 12-2 12-4 13-6 26-16 49-38 16-11 20-10z"/>
<path fill="#0038ff" d="M1289 526l12-3 12-1 12 2 8 2 12 6 8 6 8 6 9 10 10 16 8 20 4 20 8 64 5 18 8 18 12 19 16 17 16 13 20 11 20 7 16 4 24 1 20-1 17-3 23-6 68-25 24-7 24-5 28-2 24 2 12 3 12 5 8 4 9 7 8 8 7 8 7 12 5 16 2 16 0 16-3 16-4 16-23 78-9 34-6 40-1 32 2 32 6 31 8 31 19 58 7 28 4 24-1 24-3 16-5 12-8 12-8 8-13 9-12 5-16 5-16 3-24 1-28-5-28-8-52-18-24-7-19-5-25-4-24-1-20 1-20 5-20 9-16 10-9 8-11 11-13 17-11 20-7 20-4 16-7 56-3 16-5 16-6 13-8 11-12 12-12 7-16 7-16 3-12-1-12-2-16-6-24-15-60-45-16-10-16-7-16-5-16-3-16 1-20 4-20 7-16 9-12 9-28 24-12 9-12 8-16 8-16 5-16 2-16-1-12-3-12-8-8-8-8-11-7-14-6-16-4-16-8-64-6-24-4-12-6-12-7-11-7-9-9-8-12-10-12-8-12-6-12-5-16-5-48-8-22-6-10-4-12-7-8-5-8-8-9-12-3-8-3-8-1-16 1-8 3-12 5-12 10-16 11-16 30-37 16-25 7-14 4-12 3-12 1-12-3-20-4-12-8-16-16-25-37-47-8-12-7-12-4-12-3-12-1-12 1-8 3-12 6-12 10-12 12-8 12-6 12-4 60-13 29-9 17-8 14-9 12-9 12-12 8-10 8-12 7-20 5-24 5-60 4-16 4-12 6-12 9-13 12-12 12-8 12-5 12-2 12 1 16 4 16 7 16 10 48 38 20 13 16 7 12 3 16 3 12 0 12-1 12-2 12-4 16-7 25-16 59-44 16-10z"/>
<path fill="#0040ff" d="M1301 526l12-1 8 1 8 2 12 5 16 12 8 7 8 10 8 16 6 16 4 20 8 60 4 16 6 16 12 20 16 18 16 13 21 13 19 7 20 5 24 1 19-1 22-4 19-5 68-24 20-6 28-6 24-2 24 2 12 3 12 4 17 10 9 8 6 8 8 12 6 16 2 16 0 16-6 28-25 88-9 40-4 32-1 32 2 28 7 36 8 30 18 58 6 24 2 12 2 16-2 24-3 12-5 12-9 12-9 8-12 8-12 5-16 4-16 3-24 0-28-5-20-5-78-26-18-5-28-4-24-1-20 1-21 5-19 8-18 12-17 16-13 16-12 21-7 19-5 18-7 54-3 16-5 16-5 12-8 12-12 12-12 8-16 7-12 2-12 1-16-3-12-4-12-6-16-11-51-38-19-12-22-11-20-6-16-2-16 2-20 4-16 6-13 7-11 8-32 27-16 12-12 7-16 7-16 4-12 1-12 0-12-3-12-7-8-7-8-10-8-15-6-16-4-16-10-64-5-24-4-12-6-12-5-8-9-12-11-10-12-10-12-7-12-7-15-6-13-4-48-8-20-6-12-5-9-5-10-8-8-8-8-12-3-8-2-8 0-16 4-16 5-12 9-16 38-51 17-25 7-15 4-10 3-15 1-12-1-12-3-12-4-12-8-15-16-24-34-45-8-12-6-12-5-12-3-12-1-12 1-8 3-12 7-12 10-11 12-8 20-8 60-14 16-4 16-6 16-8 12-8 12-9 12-12 8-9 8-13 5-10 4-12 4-24 6-56 4-16 5-16 6-12 10-13 12-11 12-7 12-4 12-2 12 1 16 5 12 6 16 10 20 14 32 26 18 11 10 5 16 4 16 3 12 0 12-1 12-2 12-4 12-5 26-16 50-38 16-10 20-11 12-3z"/>
<path fill="#004aff" d="M1291 534l10-2 8-1 8 1 12 3 12 6 8 5 8 6 9 10 10 16 6 16 5 20 9 60 6 20 7 16 12 20 16 18 20 16 19 10 17 6 20 4 24 1 16-1 16-2 28-7 68-22 24-7 24-4 24-2 24 3 20 6 16 9 9 8 7 8 8 13 6 15 2 16-1 16-6 32-22 80-9 36-4 32-2 20 0 16 3 28 6 32 10 40 15 48 6 24 3 24-1 24-2 12-5 12-7 12-8 9-12 8-12 6-16 5-16 2-24 1-28-4-24-6-76-24-28-6-16-3-28-1-20 3-20 4-20 9-18 13-17 16-13 17-11 19-6 16-5 20-8 52-3 16-5 16-6 12-9 12-12 12-12 8-15 6-12 1-12 0-12-2-16-6-28-17-42-30-22-15-17-9-19-7-16-3-12 0-16 1-18 5-18 7-15 9-13 10-32 27-12 8-12 6-20 6-16 3-16-1-12-4-8-4-8-7-10-12-6-12-6-16-4-16-10-60-6-24-4-12-6-12-7-12-9-11-8-8-12-10-12-8-13-7-15-7-16-5-44-8-20-5-12-6-8-5-10-8-7-8-7-12-4-8-1-8 0-12 3-16 5-12 9-16 36-50 16-26 8-16 4-12 2-12 1-12-1-12-3-12-4-12-7-14-16-26-34-48-12-20-5-12-2-8-1-12 1-8 3-12 6-12 8-10 12-9 8-4 12-4 60-15 28-10 16-8 16-10 12-10 12-12 8-10 6-10 6-12 4-12 4-20 7-56 4-16 4-12 8-16 9-12 8-8 12-8 12-5 12-2 12 1 16 4 16 8 20 12 44 35 18 11 10 5 16 4 16 3 12 0 12-1 15-3 13-5 12-5 22-14 62-44 16-9zM1141 961l-8 4-8 6-5 7-5 12-1 8 0 12 6 28-8 28-1 8 1 8 2 8 4 8 7 8 8 6 8 4 8 2 8-1 8-2 8-6 8-8 6-11 6-13 4-15 3-20 0-16-1-12-2-12-6-12-6-10-8-8-8-6-8-4-12-2z"/>
<path fill="#0054ff" d="M1297 538l12-1 7 1 17 5 8 4 9 7 7 6 8 9 8 13 6 16 5 20 8 52 7 24 7 16 12 20 15 17 17 15 19 12 20 8 20 4 16 1 28-1 16-2 28-7 72-21 20-6 24-4 24-1 24 3 19 6 9 5 8 6 12 13 8 12 5 16 2 16 0 16-6 32-23 84-7 32-4 36-1 28 3 28 6 32 10 40 14 48 6 24 2 24-2 24-3 12-4 12-6 9-8 8-12 8-12 6-16 4-16 3-24 0-28-3-24-6-72-23-28-6-16-2-24-1-20 2-24 5-20 8-18 12-18 16-12 16-12 20-7 16-6 24-7 48-4 16-4 13-8 15-9 12-11 11-12 8-12 5-12 2-12-1-12-2-16-6-28-16-64-43-20-11-20-7-16-2-16 0-16 3-20 7-16 8-13 8-31 27-12 9-12 6-16 7-16 4-12 1-12-1-12-3-11-6-9-8-6-8-6-12-4-12-5-16-12-60-6-24-10-24-7-12-10-12-10-10-12-10-12-9-13-7-15-7-16-5-40-7-20-6-16-8-9-7-8-8-8-12-4-8-1-8-1-12 3-16 5-12 9-16 38-56 14-24 5-12 4-12 2-12 1-12-1-12-3-12-10-24-12-21-39-59-10-20-4-12-2-8 1-16 3-12 7-12 7-8 9-7 8-4 12-5 56-14 28-10 16-8 16-10 12-10 12-12 8-9 8-12 6-11 4-12 5-20 8-56 4-16 4-12 9-16 8-11 9-9 11-7 12-5 12-1 12 1 16 5 16 8 16 9 12 9 32 26 18 11 10 4 16 5 16 3 13 0 11-1 12-2 12-4 12-5 26-16 46-33 20-13 20-9zM1133 946l-12 5-12 11-8 11-6 13-5 20-3 20-1 28 2 20 5 16 6 12 9 12 9 9 12 7 12 4 12 1 12-3 12-6 12-11 9-13 7-16 4-16 4-24 0-20-2-16-4-16-6-15-8-11-12-12-12-8-12-4-12-1z"/>
<path fill="#005eff" d="M1287 546l10-2 8-1 8 0 12 3 12 6 8 5 8 7 8 8 8 13 7 17 3 16 7 40 4 20 6 16 7 16 15 24 15 17 17 15 11 7 10 5 18 6 20 4 16 1 28-1 16-3 28-5 72-21 20-4 24-4 20-1 24 2 18 6 10 5 8 6 13 13 7 12 4 12 3 16 0 16-2 16-5 24-21 80-5 24-5 32-2 24 1 12 2 28 6 32 7 28 17 60 4 18 3 26-2 24-3 12-4 12-6 9-8 8-12 8-12 5-12 4-16 3-24 1-28-3-28-7-72-21-24-5-28-3-20 0-24 3-20 6-18 8-18 12-12 12-14 16-12 20-6 16-5 16-5 24-6 36-2 12-5 12-5 11-9 13-11 12-12 8-12 6-12 2-12-1-16-3-16-6-28-16-60-40-16-9-13-5-15-4-16-1-16 1-16 3-20 7-18 10-17 12-29 25-12 7-8 4-20 6-16 2-16-1-12-3-8-5-8-7-6-8-6-12-9-28-12-56-8-28-5-12-6-12-8-12-8-10-20-19-12-9-16-9-12-6-16-5-44-9-16-5-16-8-9-8-8-8-7-12-4-12-1-12 3-16 5-12 9-16 36-56 13-24 9-24 2-12 1-12-3-20-4-12-6-15-12-22-35-55-12-24-5-16-1-16 3-12 6-12 7-8 9-7 9-5 11-4 56-16 28-10 16-9 13-9 15-12 12-12 14-20 7-12 4-12 5-20 9-56 3-12 5-12 9-16 8-11 10-9 10-6 8-3 12-2 12 1 16 4 16 7 12 7 16 11 32 25 19 12 13 5 12 3 16 3 12 0 12-1 12-2 13-4 15-7 24-14 52-37 20-11zM1133 934l-16 7-12 9-11 12-9 16-8 20-4 20-1 24 1 20 3 16 5 16 9 16 11 14 12 10 16 8 16 4 12-1 12-3 8-4 8-5 12-11 10-16 8-20 4-24 2-24-1-24-3-17-7-19-9-16-11-12-13-10-16-7-12-1z"/>
<path fill="#0068ff" d="M1293 550l12-1 8 1 16 5 16 9 8 7 6 7 7 12 6 16 15 72 5 16 7 16 15 24 13 16 18 16 20 12 16 6 16 5 24 2 20 0 28-3 28-6 92-23 24-4 20 0 20 2 20 6 8 4 8 6 13 13 7 12 4 12 3 16-1 16-2 18-4 20-19 74-7 32-4 28-1 28 1 24 4 28 7 32 17 60 6 28 2 24-1 24-3 12-5 12-5 9-8 8-10 7-14 6-12 4-16 2-28 1-28-4-24-6-64-18-28-6-16-2-28 0-24 2-24 6-20 9-16 10-17 16-13 16-11 20-7 16-6 20-11 60-3 12-8 16-9 12-11 12-12 8-12 5-12 1-12-1-16-3-16-7-24-13-60-40-16-8-16-6-16-4-16-1-16 2-14 3-18 7-20 11-15 10-29 24-8 5-12 6-16 5-16 2-16 0-12-4-8-4-8-7-5-7-7-12-9-24-15-64-8-24-5-12-6-12-9-12-8-10-20-18-12-9-16-9-12-6-16-6-44-9-12-4-16-8-8-7-6-6-8-12-4-12-1-12 3-16 5-12 8-16 34-56 13-24 9-24 2-12 1-12-3-20-4-12-5-13-12-23-34-56-11-24-5-16-1-8 1-8 3-12 4-8 5-8 10-8 8-4 12-5 52-15 28-11 16-9 12-8 15-12 13-13 16-21 6-10 5-12 6-20 9-56 4-12 5-12 9-16 8-10 11-10 9-5 8-3 12-2 12 2 16 4 12 5 16 10 12 8 32 25 16 9 16 7 12 3 16 3 12 0 12 0 12-3 12-3 16-7 24-14 40-29 16-10 20-10zM1129 926l-16 7-13 9-14 16-10 16-9 20-5 20-1 20 0 20 4 20 6 20 10 19 12 16 16 13 15 8 15 4 16 0 18-5 16-9 12-10 6-8 6-10 8-22 4-24 2-28-1-28-5-23-7-17-9-16-12-12-16-11-16-6-16-2z"/>
<path fill="#0072ff" d="M1282 558l19-3 12 1 8 2 16 8 8 6 8 8 8 12 6 14 4 16 7 40 4 16 6 16 9 20 16 24 16 18 17 14 21 12 22 7 20 4 16 1 28-2 48-8 88-21 20-3 20 0 21 2 19 6 16 10 12 12 8 12 4 12 2 16 0 16-6 35-19 77-7 36-4 28 0 20 1 24 5 32 7 28 17 68 3 16 2 24-1 22-3 14-4 12-5 8-7 8-9 7-11 5-13 4-12 2-28 2-28-3-28-5-52-15-24-6-20-3-24-2-28 1-20 3-21 6-18 8-13 8-14 12-11 12-12 16-10 20-7 20-5 20-9 47-4 13-4 9-9 15-11 12-12 9-12 5-12 2-12 0-16-3-16-6-24-12-56-38-12-7-15-6-17-5-16-2-16 0-20 3-16 6-20 10-18 12-30 23-8 5-12 6-16 4-16 2-16-1-11-3-7-4-6-6-5-6-7-12-9-24-17-64-8-24-6-12-7-12-15-20-10-10-12-10-12-8-13-8-15-7-16-6-44-11-12-4-8-4-8-5-11-11-7-12-3-12 0-12 3-12 4-12 8-16 31-52 14-28 9-24 2-12 1-12-3-20-8-24-12-23-31-53-11-24-6-20 0-16 3-12 4-8 7-8 6-5 16-8 56-16 28-12 16-10 12-8 15-13 12-12 15-20 7-12 5-12 6-20 10-52 3-12 5-12 6-11 8-11 11-10 9-6 8-3 12-3 12 1 16 4 16 7 12 7 39 29 21 13 12 5 16 4 12 2 16 1 16-1 12-3 12-3 13-6 23-13 36-27 16-10 16-8zM1129 918l-16 6-16 11-15 15-13 19-10 21-5 20-3 20 1 24 5 24 7 20 11 20 12 16 14 12 16 10 16 5 8 1 12-1 12-2 8-2 12-6 8-5 14-12 6-8 5-8 8-20 4-24 3-28-1-32-4-24-7-20-8-16-6-8-8-8-16-12-7-4-11-4-12-2-8 0z"/>
<path fill="#007cff" d="M1290 562l17 0 15 4 15 8 8 6 5 6 7 11 5 13 4 16 11 52 6 16 9 20 16 24 14 16 18 16 21 12 16 7 20 5 24 2 20 0 28-3 32-5 68-17 20-4 20-2 16 0 20 2 20 6 16 10 12 12 7 11 4 12 2 16-1 16-6 40-17 72-7 32-3 24 0 24 2 28 4 28 19 79 5 25 2 28-1 24-2 12-4 12-5 8-7 8-8 6-12 6-12 4-12 2-28 1-28-3-24-5-72-18-24-4-24-2-24 1-24 3-24 7-20 9-14 9-14 12-10 12-11 16-10 20-8 20-6 24-7 36-4 13-5 11-6 12-9 12-12 10-12 5-12 3-16 0-16-3-16-6-12-6-12-7-48-33-20-10-16-6-16-4-16-1-16 0-16 3-16 6-16 8-21 13-35 25-16 7-16 5-16 1-12-1-12-3-8-5-6-5-6-8-4-8-10-24-17-60-8-24-6-12-7-12-16-21-11-11-13-11-13-9-14-8-13-6-16-6-40-11-14-5-14-8-9-8-5-8-4-12-1-12 3-16 4-12 7-16 30-52 14-28 8-24 2-12 1-12-3-20-8-24-10-20-29-52-12-28-6-20 0-16 3-12 5-8 6-7 7-5 17-8 52-15 24-11 16-10 16-11 14-13 12-12 15-20 7-12 5-12 6-20 10-48 3-12 5-12 7-11 8-10 8-8 12-8 9-3 11-2 12 1 12 4 12 4 12 7 43 30 22 12 15 6 16 4 16 2 12 0 24-4 24-8 24-13 36-27 16-10 20-9zM1137 909l-18 5-18 10-18 14-14 17-11 19-9 22-5 22-1 24 3 24 7 24 11 24 13 19 16 16 16 10 17 7 11 2 8 0 20-2 20-8 8-5 10-7 8-8 7-8 4-8 6-12 5-20 4-28 1-32-3-28-5-24-8-20-10-16-15-14-8-6-12-6-8-3-12-3-12-1z"/>
<path fill="#0086ff" d="M1273 570l20-2 12 0 8 2 8 3 10 5 6 4 8 8 7 12 5 11 5 17 7 36 4 16 8 21 8 15 16 24 15 16 21 16 20 11 20 7 24 5 16 2 28 0 28-3 28-5 80-19 20-2 16 0 20 2 20 7 16 9 7 6 5 6 6 10 3 12 2 16-1 16-6 44-20 92-4 28-1 24 1 16 4 28 19 88 4 24 2 28-1 24-3 12-3 12-4 8-7 8-7 6-8 4-12 4-12 2-28 1-28-2-28-5-64-16-24-3-20-2-28 0-28 4-24 6-21 9-15 9-13 11-11 12-11 16-9 16-10 24-9 28-12 44-7 20-8 12-6 7-8 6-12 5-12 2-16 0-16-3-12-4-20-10-48-33-12-7-16-7-16-5-20-3-20-1-16 2-16 5-16 7-16 10-40 26-20 9-16 5-12 1-12-1-12-3-8-4-5-4-7-8-5-8-10-24-18-60-9-24-6-12-7-12-16-20-22-20-11-8-16-9-28-13-56-18-12-7-10-9-4-8-3-12 0-12 3-16 10-24 28-51 14-29 8-24 2-12 1-12-3-20-8-24-10-20-26-48-12-28-5-20-1-12 0-8 2-8 4-8 6-8 5-4 17-8 50-15 24-11 16-10 12-9 16-14 14-13 16-20 7-12 6-12 7-20 11-52 8-20 7-12 8-9 8-7 12-7 8-3 12-1 8 0 12 3 20 9 48 31 24 12 16 6 12 3 12 1 12 1 16-1 12-3 12-3 16-6 24-14 31-24 13-8 12-7zM1125 906l-12 4-8 4-18 12-16 16-14 19-10 21-7 20-4 24 1 24 4 24 8 24 12 24 16 20 8 8 10 8 18 10 8 3 12 3 17 0 11-2 12-3 12-5 11-6 9-6 8-7 8-10 6-9 8-20 3-12 3-16 2-32-2-36-3-24-8-24-5-10-6-10-14-15-8-6-10-7-10-5-12-4-12-2-8 0-8 0z"/>
<path fill="#0090ff" d="M1277 574l16-1 12 2 8 2 8 3 8 5 10 9 8 12 5 12 17 68 8 20 8 15 16 22 18 19 16 12 22 12 20 8 20 5 24 3 28 0 44-5 92-20 20-2 16 0 20 3 20 8 12 8 12 12 4 8 4 12 1 16-1 16-6 44-18 88-3 28-1 16 1 24 4 28 15 76 4 28 2 28-1 28-2 12-4 12-3 8-6 8-6 5-8 4-8 3-12 2-28 2-28-2-28-4-52-12-24-5-16-2-28-1-28 2-25 4-23 7-19 9-13 8-14 12-10 12-11 16-9 16-11 24-9 25-17 55-5 12-6 9-7 7-9 5-7 3-13 3-12 0-16-2-12-4-20-10-44-31-15-8-17-7-16-5-20-3-20-1-16 2-16 5-12 5-56 34-24 10-16 4-12 2-12-1-12-4-8-5-4-4-7-8-5-9-8-20-17-55-9-24-6-12-8-12-16-20-12-12-12-10-14-10-13-8-25-12-60-22-8-4-8-7-5-7-3-12 1-12 3-16 8-24 28-52 13-28 8-24 2-12 0-12-2-20-6-20-11-24-25-48-10-24-6-24-1-12 0-8 4-12 5-8 5-4 14-8 50-16 24-11 16-10 16-12 16-14 13-13 16-20 7-12 6-12 7-20 11-47 8-21 5-8 7-9 8-7 12-8 8-3 12-2 8 1 12 2 20 9 50 29 25 12 13 4 16 4 12 1 12 0 12-1 16-3 12-3 14-6 22-12 32-25 12-8 16-7zM1137 898l-20 4-20 10-20 15-17 19-13 20-10 24-6 24-1 24 3 28 6 24 11 24 7 12 8 12 16 17 9 7 11 7 11 5 9 3 20 3 12-1 12-2 12-4 12-5 11-6 9-7 8-7 8-10 5-8 6-12 7-24 4-28 1-32-3-32-5-28-8-20-7-12-6-8-7-8-10-8-9-6-12-7-12-4-12-3-12-1z"/>
<path fill="#009aff" d="M1259 582l18-3 12 0 12 1 12 4 8 4 12 9 7 9 6 12 6 16 13 52 8 20 12 22 13 18 19 18 19 14 21 11 20 7 24 6 20 2 28 1 28-2 28-5 76-16 16-2 16 0 20 2 16 6 16 8 7 6 5 5 4 7 5 12 2 16 0 16-5 40-17 92-3 28 0 24 1 20 3 24 12 64 4 28 2 28 0 28-3 16-2 12-3 8-5 8-3 4-8 6-8 3-12 3-28 3-28-1-28-5-64-13-28-4-28-1-28 2-20 3-27 8-21 9-12 8-14 11-11 12-12 16-11 20-11 24-33 88-8 12-8 6-8 4-12 3-12 1-16-2-12-3-11-5-9-5-40-29-12-6-16-7-20-7-20-3-20-2-20 3-15 4-13 5-52 30-24 11-16 4-12 1-12 0-12-3-7-4-5-4-7-8-5-8-9-20-18-56-10-24-7-12-8-12-16-20-23-20-25-17-24-12-57-23-11-6-8-6-4-8-2-12 1-12 3-16 9-24 25-49 12-27 8-24 2-12 0-12-2-20-6-20-10-22-23-46-10-24-7-24-1-12 1-8 1-8 3-8 7-8 5-4 16-7 40-13 24-12 16-10 16-12 16-14 16-16 16-20 7-12 6-12 7-20 11-44 8-20 5-8 8-9 8-7 8-5 12-4 8-1 8 0 12 2 16 6 56 30 24 11 15 5 13 3 12 1 12 0 16-1 13-3 15-5 16-6 20-12 36-28 8-4zM1129 894l-12 3-12 5-20 11-19 17-16 20-13 23-8 23-5 26 0 24 4 28 9 27 13 25 15 21 11 11 9 7 8 6 12 6 20 6 12 2 12 0 12-2 12-3 12-5 12-6 11-7 10-8 7-8 8-11 10-21 4-12 3-16 3-28-1-40-4-32-7-24-10-20-6-8-8-9-8-8-12-9-12-6-9-4-11-3-12-2-12-1z"/>
<path fill="#00a4ff" d="M1259 586l10-2 8-1 20 2 12 4 8 3 12 10 7 8 6 12 6 16 12 44 5 14 8 18 12 20 12 16 17 16 16 12 23 12 22 8 22 5 24 3 28 1 28-2 24-3 80-16 16-2 16 0 16 3 16 5 16 9 9 9 6 8 4 12 2 16 0 16-3 36-16 92-2 28 0 24 4 44 10 64 4 28 2 28-2 24-2 16-3 12-3 8-5 8-5 5-8 5-16 5-24 3-28-1-24-3-77-14-23-2-24-1-32 2-24 5-24 7-19 9-13 8-14 12-11 12-11 15-10 17-10 21-30 75-7 16-3 6-5 6-7 5-8 4-12 3-12 1-12-1-12-3-18-9-40-28-15-8-15-6-20-7-20-3-20-1-16 1-16 4-12 5-15 7-37 21-12 6-16 6-16 3-12 2-12-1-12-4-7-5-5-4-11-16-9-21-16-47-10-24-14-23-17-21-22-20-25-17-24-13-58-26-10-6-7-6-4-8-1-8 0-12 3-16 8-24 25-50 12-28 7-26 2-20-2-20-6-20-9-21-24-47-9-24-5-24-1-12 0-8 4-12 5-8 5-4 16-8 41-15 24-12 16-11 16-13 16-14 15-15 16-20 12-20 7-20 12-44 9-20 5-8 8-9 8-6 8-5 8-3 8-1 8 0 12 2 20 7 56 28 24 10 24 6 24 2 16-2 16-3 16-5 12-5 21-12 37-28zM1125 889l-12 4-12 5-20 12-20 17-9 11-9 12-7 12-5 12-8 24-2 12-2 16 0 28 6 28 4 14 6 14 13 24 9 12 8 9 18 15 10 7 12 5 12 5 12 2 12 1 12-1 12-2 12-3 12-5 12-7 9-6 11-9 8-9 8-12 7-14 5-12 7-28 3-32-1-36-5-30-4-14-5-12-11-21-8-10-8-9-10-8-10-7-12-6-12-5-12-3-12-1-12 0z"/>
<path fill="#00aeff" d="M1260 590l9-2 8 0 17 2 11 3 8 4 12 9 8 10 7 14 24 72 9 18 8 14 12 16 16 16 20 14 20 11 24 9 24 5 24 3 28 1 44-3 88-16 16-1 12 0 16 2 16 6 12 6 12 11 5 8 5 12 2 16 0 16-3 36-13 86-2 30 0 24 2 36 14 96 1 24-1 24-4 24-4 12-4 8-6 7-6 5-9 4-9 3-24 2-24 0-24-3-80-13-24-2-24 0-28 2-28 6-24 7-20 10-12 8-12 10-12 13-9 13-11 18-11 22-26 64-11 23-4 6-6 7-6 4-8 4-8 2-12 2-12-1-12-3-16-7-30-21-13-8-16-8-13-5-20-7-20-3-20-1-16 2-12 2-16 6-13 6-39 22-24 9-16 4-12 1-12 0-12-4-7-4-5-4-7-8-5-8-8-18-19-50-9-22-13-22-17-20-21-20-25-18-20-11-56-27-14-8-6-6-4-6-3-12 1-12 3-16 8-24 23-48 11-28 7-24 2-20-2-20-6-20-8-19-22-45-9-24-6-24 0-20 2-12 5-8 5-4 14-8 43-17 24-14 16-11 16-13 16-15 14-14 16-20 12-20 6-16 13-44 9-20 10-14 8-6 8-5 8-3 8-2 8-1 12 2 20 7 60 28 20 8 24 6 12 1 16 0 13-1 15-3 16-5 12-4 12-7 12-7 36-27zM1121 886l-12 3-11 5-21 12-20 18-9 10-9 12-12 24-6 16-3 12-4 28 0 28 5 28 5 16 5 13 8 15 7 12 17 20 8 8 12 9 12 7 12 6 12 3 12 3 12 0 12 0 16-3 12-4 12-5 12-7 12-9 8-7 8-10 8-11 6-12 6-15 4-14 4-19 3-36-2-32-5-29-5-15-4-12-7-12-8-12-16-17-12-10-12-7-12-6-12-4-12-2-12-1-12 0z"/>
<path fill="#00b8ff" d="M1262 594l15-1 11 1 9 2 16 8 12 10 6 8 6 12 7 16 18 52 7 17 11 19 13 16 17 16 19 13 20 11 23 8 21 5 24 3 28 1 40-2 22-3 66-11 16-2 16 0 16 3 16 5 12 7 11 10 5 8 5 12 2 12 1 12-1 20-1 20-12 84-2 44 0 20 2 28 12 100 1 20-1 20-2 16-3 12-5 11-4 6-6 7-6 4-8 4-12 3-20 2-20 0-24-2-76-12-28-2-24 0-28 2-26 5-26 8-20 9-12 8-14 11-10 11-10 13-10 16-12 23-26 61-12 24-10 13-8 7-8 3-8 3-12 1-12-1-8-2-16-8-30-20-14-8-16-8-16-6-20-5-16-3-20-1-16 2-16 4-14 5-46 24-24 9-16 4-12 2-12 0-12-3-12-8-7-8-5-7-10-21-19-48-9-20-12-20-17-20-21-20-24-18-20-12-51-26-13-8-10-8-5-8-2-8 0-12 3-16 8-24 22-50 10-26 7-24 2-20-2-20-6-20-7-17-22-47-9-24-4-20-1-20 1-8 3-8 8-9 12-8 44-19 24-14 16-12 16-14 29-28 16-20 12-20 6-16 13-42 8-17 6-9 6-6 12-9 8-3 12-3 8 0 12 2 24 8 52 24 24 9 24 5 24 1 12-1 16-3 14-4 14-5 12-6 12-7 36-27 8-4zM1117 882l-12 4-12 5-12 7-12 8-9 8-11 11-16 21-12 25-8 27-4 28 0 16 1 16 5 28 5 16 5 12 8 16 8 12 17 20 11 10 12 8 12 7 12 5 12 4 12 2 12 1 14-1 14-3 12-3 13-6 14-8 11-8 10-10 8-10 8-12 6-12 6-15 4-14 4-19 3-36 0-16-2-20-5-28-6-16-6-14-8-14-6-8-10-11-8-8-12-9-12-7-12-5-12-4-12-2-12-1-12 0z"/>
<path fill="#00c2ff" d="M1265 598l16 0 16 4 12 6 12 9 8 11 8 14 24 65 8 17 8 14 13 16 16 16 16 12 22 12 21 8 20 5 24 4 28 2 20 0 24-2 28-3 64-9 16-2 16 1 16 3 12 4 12 7 11 10 5 8 4 10 2 10 2 16-1 32-11 84-2 44 2 50 11 102 0 20-1 20-2 12-4 12-3 8-5 8-4 5-8 6-8 4-12 4-20 2-20 0-104-12-28-2-24 1-28 3-24 4-24 8-19 9-12 8-13 11-9 9-11 14-9 14-11 20-28 64-12 23-7 9-5 6-8 5-8 4-8 2-12 1-11-2-9-3-12-6-40-24-16-8-18-7-18-5-16-3-16-1-20 1-16 3-16 6-52 25-24 8-16 3-12 1-12-2-8-3-12-8-10-13-10-20-20-48-8-17-11-19-17-20-20-20-20-15-20-13-38-20-20-12-11-8-8-8-4-8-2-8 0-12 2-16 8-24 22-52 9-24 6-20 2-20-3-20-5-20-28-64-9-24-4-20 0-12 0-8 4-12 3-5 7-7 13-8 40-19 21-13 15-11 20-17 28-28 16-20 10-16 6-16 14-40 7-16 11-15 8-7 8-5 8-3 12-2 8 1 12 2 24 8 52 22 20 8 24 5 24 1 28-4 16-4 12-5 24-13 36-25 12-6zM1117 878l-12 3-12 5-14 8-12 8-10 8-12 12-8 10-8 12-12 26-6 16-4 16-3 28 0 16 2 16 2 16 4 16 5 14 6 14 7 12 8 12 9 12 10 10 12 10 12 8 12 6 12 5 12 3 12 2 12 1 15-1 13-2 16-6 12-5 12-7 11-8 9-9 10-11 8-12 6-12 8-20 8-32 3-36 0-16-2-20-3-16-4-16-5-16-6-12-7-12-8-11-8-10-12-11-12-8-12-7-12-5-12-4-12-3-12-1-12 1z"/>
<path fill="#00ccff" d="M1254 606l7-2 8-1 16 1 8 2 9 4 7 4 8 6 8 10 10 16 6 15 20 52 8 16 8 13 13 16 17 16 18 13 20 10 20 7 23 6 25 4 24 1 40-1 92-11 16-2 16 1 16 3 12 4 12 7 11 10 5 8 4 12 3 12 1 16-1 36-9 72-2 44 2 52 9 100 0 32-2 12-3 12-5 12-5 8-4 5-8 6-8 4-12 4-16 2-20 0-104-10-28-2-24 1-24 2-28 5-22 7-22 10-12 8-13 10-11 12-10 12-10 16-11 20-26 60-11 20-12 15-8 6-8 4-8 2-8 1-8 0-12-3-16-7-44-24-28-12-20-6-16-3-16-1-20 2-16 3-16 5-52 24-20 7-16 4-12 0-12-1-8-3-12-8-5-5-7-10-10-18-19-44-10-20-12-20-17-20-17-16-20-16-23-15-45-25-17-12-8-8-5-8-3-12 0-12 2-12 8-28 20-48 9-24 5-20 2-20-1-16-5-20-8-20-19-44-8-24-5-20 0-20 2-8 3-8 9-10 9-6 43-23 20-13 35-28 29-28 15-20 9-16 7-16 13-36 8-17 5-7 7-8 12-9 8-3 12-3 8 0 12 2 24 7 51 22 21 7 24 5 24 1 16-1 16-3 16-5 11-4 21-11 32-22zM1117 873l-12 4-13 5-15 8-12 8-12 10-10 10-10 12-8 12-12 25-5 15-4 16-3 16-1 16 0 16 1 16 3 16 4 16 5 16 5 12 7 13 8 13 8 10 12 12 12 10 12 8 12 7 16 6 12 3 12 2 12 1 16-1 16-3 12-4 12-6 13-7 11-8 12-12 8-9 8-12 8-15 4-12 6-16 4-20 2-16 2-24-2-36-2-16-4-16-6-16-5-12-7-13-8-11-10-12-10-9-12-9-12-7-15-7-13-4-12-2-12-1-12 0z"/>
<path fill="#00d6ff" d="M1257 610l8-2 8 0 16 2 16 7 12 10 8 10 8 13 8 18 20 50 8 16 8 12 13 16 15 14 16 11 20 11 20 7 20 6 24 4 28 1 40 0 92-10 16-1 16 1 16 2 12 4 12 7 8 8 6 7 5 12 4 16 1 16 0 32-8 72-1 40 1 52 8 104 0 28-2 12-3 12-5 12-5 8-5 5-8 6-8 4-12 4-16 2-16 1-108-9-28-1-24 0-28 3-23 5-25 8-17 8-13 8-10 8-12 12-10 12-11 16-11 20-27 60-9 17-12 15-8 7-8 4-8 2-8 1-8 0-12-2-12-5-45-23-28-12-19-6-16-4-16-1-20 1-16 3-20 7-52 23-24 7-12 2-12 1-12-2-7-3-7-4-6-6-11-14-9-17-20-43-10-20-10-16-16-19-18-17-20-16-22-15-43-25-16-12-8-8-5-8-4-12-1-12 1-12 3-12 5-16 22-56 7-20 5-20 1-20-2-16-6-20-25-60-6-20-5-20 0-20 1-8 3-8 5-7 5-5 12-8 43-25 16-11 36-30 27-26 12-16 10-16 8-16 13-36 8-16 10-13 8-7 8-5 8-3 12-2 8 0 12 2 24 7 48 20 20 7 24 5 12 1 16 0 28-4 14-4 14-5 21-11 35-22zM1117 869l-12 4-14 5-14 7-12 8-12 9-9 8-10 12-9 12-8 14-6 14-6 16-4 16-3 16-2 16 0 16 1 20 2 16 4 16 10 28 8 15 8 12 10 13 10 10 12 10 12 8 14 8 14 6 12 3 16 3 12 1 15-1 13-2 16-5 12-5 12-7 12-9 9-8 11-12 8-12 8-14 7-18 9-31 3-21 1-16 1-20-1-20-3-16-3-16-5-16-5-13-8-15-8-12-10-12-10-10-12-9-12-8-12-6-16-6-12-3-16-1-12 0z"/>
<path fill="#00e0ff" d="M1262 614l15-1 16 4 12 6 12 10 8 10 8 14 27 65 9 16 8 12 14 16 14 13 16 11 16 9 19 7 21 6 24 4 27 2 45-1 96-8 28 1 12 2 12 4 11 6 9 8 6 8 6 12 3 16 2 16 0 28-6 64-2 40 1 56 7 108-1 28-2 12-4 12-3 8-6 8-5 6-8 5-9 5-11 3-16 3-16 0-104-7-28-1-28 1-28 3-24 5-20 7-20 9-12 8-11 9-12 12-10 12-10 16-12 20-23 52-10 19-12 15-8 7-8 4-8 3-12 1-8-1-12-3-16-6-48-23-24-10-16-4-16-3-16 0-16 1-16 3-17 5-55 23-20 6-12 3-12 0-12-1-8-3-12-8-12-15-12-21-27-56-13-19-14-17-17-16-19-16-22-15-47-29-10-8-8-8-5-8-5-12-1-12 1-16 3-12 5-16 20-52 7-22 4-18 1-20-2-16-4-16-24-60-6-20-5-20 0-20 1-8 3-9 4-7 8-8 11-8 41-25 16-11 38-32 24-24 12-16 10-16 8-16 12-32 8-15 6-9 6-6 12-9 8-3 12-3 8-1 12 2 24 6 44 19 24 8 24 5 28 0 28-3 24-7 20-10 40-24 8-3zM1117 866l-16 4-12 5-15 7-12 8-13 10-10 10-10 12-8 11-8 14-7 15-5 16-4 16-3 16-2 16 0 20 1 16 2 16 4 16 5 16 6 16 7 13 8 12 9 11 11 12 12 10 12 8 12 7 16 7 12 4 16 4 12 1 16-1 16-3 16-4 12-5 14-8 11-8 11-10 12-14 8-12 8-16 5-12 7-24 3-16 2-16 2-24-1-32-2-16-4-18-4-14-8-20-8-14-7-10-9-11-9-9-15-12-12-7-12-6-16-6-12-2-16-2-12 0z"/>
<path fill="#00eaff" d="M1253 622l8-2 8-1 16 1 8 3 8 3 12 9 8 9 9 14 7 14 23 54 9 16 8 11 12 14 16 15 16 11 18 9 18 7 21 5 23 4 24 2 48-1 88-6 32 0 12 2 12 4 12 7 9 8 8 12 5 12 3 16 1 16 0 24-5 56-2 40 2 60 4 108 0 24-2 12-3 11-4 9-6 8-6 6-8 6-8 4-12 4-12 2-16 1-108-6-28-1-24 1-28 3-24 5-21 7-19 9-12 7-12 10-10 10-11 12-11 16-11 20-26 56-9 16-6 8-7 8-13 8-8 2-12 1-8 0-12-3-20-7-60-27-20-6-16-3-16-1-16 1-16 3-20 5-56 22-20 6-12 2-12 1-8-1-8-3-8-4-5-4-7-7-6-9-12-20-29-56-11-16-13-16-16-16-20-16-21-15-45-29-10-8-8-8-7-12-4-12-1-12 1-16 7-28 20-52 6-20 4-20 1-16-2-16-4-16-23-60-7-20-3-20-1-16 1-8 3-9 4-7 6-8 15-12 35-22 20-14 37-32 24-24 12-16 10-16 19-44 8-16 10-12 8-7 8-4 8-4 12-2 8 0 12 1 20 6 45 18 23 8 24 4 28 1 28-3 24-7 16-7 40-23zM1117 862l-16 4-12 5-15 7-13 8-12 9-12 11-10 12-9 12-7 12-7 16-6 16-5 19-3 17-2 16 0 20 1 16 2 16 4 16 4 16 6 14 7 14 8 12 9 12 11 12 13 12 12 8 13 8 15 7 16 5 12 3 13 1 15 0 16-2 16-4 15-6 13-7 12-8 12-11 12-14 8-11 8-15 7-18 5-15 4-17 4-36 1-20-1-24-5-32-3-12-8-21-8-16-8-12-9-11-11-11-12-10-12-8-15-7-13-5-12-3-16-2-16 0z"/>
<path fill="#00f4ff" d="M1256 626l13-2 16 1 8 3 8 4 12 9 8 9 10 16 26 60 8 14 10 14 14 16 13 12 17 12 18 9 17 7 19 5 24 4 24 2 40 0 92-5 36 0 16 3 12 5 10 6 8 8 8 12 5 12 3 16 1 16 0 24-4 48-1 32 1 56 3 124 0 24-3 12-2 8-4 8-5 8-8 8-8 5-8 4-12 4-12 2-16 1-112-5-48 1-24 3-24 4-20 7-20 9-12 7-13 10-12 12-10 12-11 16-12 20-24 52-9 16-5 7-8 8-12 8-8 2-12 1-12-1-12-3-24-8-52-22-16-6-16-4-16-1-16 1-16 2-20 6-64 23-20 5-12 2-8 0-8-2-8-3-12-8-12-15-12-19-28-53-11-16-13-16-16-16-16-13-24-18-44-29-10-8-7-8-8-12-4-12-2-12 1-16 2-12 4-16 19-52 7-20 4-20 0-16-2-16-4-16-21-56-6-20-4-20 0-20 1-8 3-8 4-8 7-8 15-12 33-22 20-15 36-31 24-24 12-16 8-12 6-12 14-33 8-15 12-14 12-8 8-4 12-3 8 0 12 1 20 5 44 18 24 7 28 5 24 1 28-4 24-6 20-9 36-19zM1121 858l-16 3-14 5-17 8-13 8-12 8-12 11-11 13-9 12-8 13-7 15-6 16-5 16-3 16-3 20-1 20 1 16 5 32 4 16 6 16 8 16 7 12 9 12 11 12 10 10 13 10 15 9 14 7 14 5 16 4 16 2 12 1 16-2 16-3 16-6 12-6 12-7 14-12 10-10 11-14 9-16 5-12 7-19 4-17 4-20 2-24 1-16-1-24-2-20-3-16-5-19-4-11-8-17-8-13-9-12-11-11-12-11-12-8-12-7-16-6-16-5-12-1-16-1z"/>
<path fill="#00fdff" d="M1260 630l13-1 16 2 12 6 12 9 8 9 8 12 8 17 20 46 7 12 9 13 13 15 15 14 16 12 16 8 16 6 20 6 20 4 24 2 44 1 92-4 24 0 16 1 12 3 12 4 11 7 9 8 7 12 5 12 3 16 1 16 0 20-3 48-1 28 3 180 0 24-2 12-3 8-3 8-7 10-8 7-8 5-8 4-12 4-12 2-16 1-112-4-28 1-24 1-24 3-24 6-20 7-16 7-12 8-13 10-11 12-10 12-11 16-11 19-24 51-8 14-6 8-6 6-12 8-8 2-12 1-12-1-16-3-24-8-52-22-16-5-12-3-16-1-16 1-16 3-20 5-60 21-20 5-12 2-8 0-8-1-8-2-8-5-8-7-12-14-12-20-28-50-11-16-13-15-13-13-19-16-20-15-43-29-10-8-7-8-8-12-5-12-2-12 0-16 2-12 4-16 25-72 4-20 1-16-2-16-4-16-20-56-6-20-4-20 0-20 2-8 3-8 5-8 6-8 15-12 32-22 20-16 35-30 21-21 12-15 11-16 18-40 9-16 10-12 8-6 8-5 8-3 12-3 8 0 12 1 16 4 40 16 25 8 27 5 28 1 28-3 24-6 16-7 40-20zM1125 854l-16 3-16 4-12 5-16 9-12 8-13 11-12 12-10 12-9 14-7 14-7 16-6 16-4 18-3 18-1 16 0 20 3 32 4 16 5 16 7 16 8 16 8 12 10 12 12 12 14 12 13 8 14 8 14 6 16 5 16 3 16 1 16-1 16-3 16-5 12-5 15-9 11-8 10-9 12-15 8-12 8-15 8-21 4-14 4-19 3-23 1-24 0-20-4-39-4-17-4-13-4-11-8-16-8-13-13-15-12-12-15-11-16-9-12-5-12-4-16-3-16-1z"/>
<path fill="#00fff6" d="M1259 634l14-1 16 2 12 6 12 9 8 10 8 12 26 58 9 16 9 12 14 16 14 13 16 11 16 8 16 6 20 6 20 3 24 2 36 1 92-3 24 0 20 2 12 2 12 4 12 7 8 8 7 10 5 12 4 16 2 20 0 20-3 64 2 184-1 28-4 17-4 9-4 6-8 8-8 6-11 6-9 3-12 2-20 1-108-2-28 0-24 2-24 3-20 4-20 6-19 9-13 8-12 9-11 11-10 12-12 16-12 20-23 48-9 16-11 14-12 8-8 2-12 1-12 0-16-3-28-9-44-19-16-5-16-4-12-1-16 1-16 2-16 4-68 22-20 5-12 2-8 0-8-1-8-3-12-9-13-15-11-16-32-56-12-16-10-12-14-13-16-14-20-15-43-30-10-8-7-8-8-12-5-12-3-16 1-16 2-12 4-16 23-68 4-20 1-16-2-16-4-16-20-56-5-20-4-20 0-16 3-12 3-8 5-8 7-8 14-12 32-23 20-16 34-29 23-24 11-14 9-14 19-40 8-14 12-13 12-8 8-3 12-4 8 0 12 1 16 4 44 17 24 7 28 5 24 1 24-3 24-6 20-7 40-20zM1137 850l-16 1-16 4-16 5-14 6-14 8-12 8-14 12-11 12-11 15-8 13-8 16-7 16-5 17-4 19-2 16-1 20 0 20 2 16 3 16 4 16 6 16 7 16 7 12 10 13 12 14 12 11 12 10 16 10 12 6 16 7 16 4 16 2 16 1 16-2 16-3 16-6 15-7 13-8 12-10 12-13 12-17 8-15 8-20 4-13 4-17 4-27 2-32-1-24-2-20-3-18-4-16-4-12-8-19-8-13-8-12-12-13-12-10-15-11-13-7-12-5-16-5-16-2z"/>
<path fill="#00ffec" d="M1253 638l16-2 16 1 8 3 8 4 12 9 8 10 8 13 25 54 9 16 10 14 12 14 16 14 16 11 16 8 16 7 16 4 22 4 22 2 40 1 92-3 40 2 16 3 12 5 10 6 8 8 8 12 5 12 4 16 1 16 0 20-2 60 1 108 0 84-1 20-2 12-2 8-4 8-5 8-9 8-8 6-8 4-12 4-12 2-20 1-112-2-44 2-24 3-21 4-19 6-20 9-12 7-13 10-11 11-11 13-12 16-9 16-28 56-7 12-9 11-12 8-12 3-12 0-12-1-16-3-24-7-48-20-16-5-12-3-12-1-16 1-16 3-16 3-68 21-20 6-16 1-8 0-8-3-12-7-8-7-8-10-12-18-30-52-10-14-12-14-16-15-15-13-61-44-10-8-7-8-8-12-5-12-3-16 0-16 2-12 4-16 18-52 5-17 4-19 0-16-2-16-3-16-20-56-5-20-3-20 0-16 3-12 3-8 5-8 7-8 14-12 29-21 20-16 36-31 20-21 12-14 8-13 20-40 10-16 11-12 7-6 8-4 16-5 8-1 12 1 16 4 40 15 25 8 27 5 28 1 24-2 24-6 20-7 36-18zM1117 850l-16 4-16 5-14 7-14 8-12 9-12 11-12 13-11 15-9 14-8 17-6 17-5 16-3 16-3 20 0 20 0 16 2 20 4 16 4 16 6 16 8 16 8 12 8 12 11 12 13 12 13 10 15 10 13 6 16 7 16 4 16 2 13 1 15-1 16-3 16-5 16-7 16-10 12-10 12-12 9-12 7-12 8-17 8-23 4-16 3-20 3-24 0-20 0-28-2-17-4-22-9-29-7-16-8-13-8-11-12-13-12-11-16-11-12-6-16-7-16-4-16-2-16 0z"/>
<path fill="#00ffe2" d="M1248 642l17-3 16 0 8 2 8 3 12 9 8 8 9 13 7 13 21 47 10 16 9 12 14 16 14 12 16 11 16 8 16 6 20 5 20 3 20 2 40 1 88-2 24 0 20 2 12 3 12 4 12 7 8 7 8 11 5 12 4 16 2 20-2 72 1 96-2 116-3 20-4 8-5 9-7 7-9 7-10 5-10 4-16 2-20 1-112-1-44 2-24 3-21 5-19 6-20 10-13 8-11 9-11 11-10 12-11 16-10 16-26 53-6 11-10 12-5 4-7 4-8 3-12 1-12-1-16-2-28-8-40-17-16-6-16-4-12-1-16 0-16 2-16 4-72 21-20 5-16 2-8-1-8-3-12-7-8-8-8-9-12-18-28-49-12-16-12-13-28-26-20-15-41-30-10-8-8-8-8-12-5-12-3-16 0-16 2-12 4-16 22-68 4-20 1-16-2-16-4-16-18-52-5-20-4-20 0-16 2-12 3-8 4-8 6-8 13-12 35-26 20-17 29-25 19-18 12-14 12-16 7-12 17-35 8-12 12-13 12-7 16-5 8-1 12 0 16 4 44 16 24 7 28 5 24 1 24-2 24-6 20-7 32-15zM1137 846l-16 1-16 4-16 5-15 6-14 8-15 10-12 11-11 11-9 12-11 16-8 16-7 16-6 20-4 16-2 16-1 20 0 20 1 16 3 20 5 16 5 16 8 16 9 16 8 11 11 13 13 12 12 10 15 10 16 8 13 5 16 5 16 3 16 1 16-1 16-3 16-5 16-7 12-7 12-9 12-11 8-10 9-13 7-13 8-19 5-16 5-20 2-16 3-28 0-28 0-16-3-23-4-21-5-16-7-19-8-15-8-12-12-14-12-11-12-9-16-9-16-7-16-5-16-2z"/>
<path fill="#00ffd8" d="M1259 642l14-1 16 3 12 5 12 10 8 10 6 9 26 56 8 14 10 14 14 16 12 11 16 11 16 8 16 7 20 5 20 4 20 2 40 1 88-2 24 1 20 2 16 3 12 5 10 6 9 8 8 12 5 12 3 16 2 20-1 72 1 104-3 104-1 12-3 8-3 8-6 8-5 5-8 7-8 4-12 5-15 3-21 1-112 0-48 2-20 3-20 5-20 6-16 7-12 7-12 9-12 11-11 13-12 16-10 16-27 53-8 14-7 9-5 4-12 7-8 2-12 0-12 0-16-3-24-7-44-18-16-6-12-2-12-2-16 1-16 2-16 3-68 20-20 5-12 2-8 0-8-1-8-3-12-8-8-7-8-10-12-18-28-47-10-14-14-15-27-25-60-44-17-16-8-12-5-12-3-16-1-16 2-12 4-16 17-52 6-20 3-16 0-16-2-16-3-16-18-52-5-20-3-20 0-16 2-12 3-8 4-8 6-8 12-12 33-25 24-19 28-25 20-19 12-15 9-13 23-43 8-13 12-12 12-8 16-6 8-1 12 0 16 4 44 16 24 7 28 5 28 0 24-2 20-5 20-7 36-17 12-4zM1117 846l-16 4-16 5-15 7-14 8-15 11-12 11-12 14-9 12-10 16-8 16-6 16-5 16-4 16-2 20-2 20 1 20 2 20 3 16 5 16 6 16 8 16 7 12 10 14 12 13 14 13 14 11 14 9 14 7 16 6 16 4 16 2 14 1 18-1 16-4 16-5 16-8 16-10 12-11 12-13 8-11 8-15 8-18 5-16 5-20 3-16 3-28 0-44-3-24-2-16-5-20-6-16-8-18-8-13-8-10-10-11-14-12-12-9-16-8-16-7-16-4-16-2-16 0z"/>
<path fill="#00ffce" d="M1251 646l18-2 16 1 12 5 12 8 8 9 8 11 8 16 18 40 10 16 8 12 14 16 14 12 16 12 16 8 16 6 16 5 20 3 20 3 40 1 88-2 24 1 20 2 16 3 12 4 12 7 8 8 8 11 5 12 4 16 3 20-1 72 1 92-3 112-4 20-3 8-6 9-8 9-8 5-8 5-12 4-16 3-24 1-108 0-44 2-24 4-20 4-20 7-16 8-12 7-12 10-11 10-10 12-12 16-10 16-33 63-7 9-5 5-12 7-8 2-12 1-12-1-16-2-24-7-42-17-14-5-16-4-12-1-16 0-28 5-68 19-24 6-12 1-8 0-8-1-8-3-13-9-15-17-12-17-28-46-12-16-11-12-26-24-59-44-17-16-8-12-6-12-3-16-1-16 2-12 3-16 18-53 5-19 3-16 1-16-2-16-4-16-17-52-5-20-3-20 0-16 2-12 3-8 5-8 6-8 12-12 34-26 28-23 24-22 16-16 12-13 11-16 21-39 8-13 12-13 12-8 16-6 8-2 12 1 16 3 44 16 24 7 28 4 28 1 24-3 20-4 20-8 36-16zM1141 842l-16 1-16 2-16 5-16 6-16 9-14 9-14 12-12 12-12 15-9 13-8 16-7 16-6 16-5 20-3 16-1 20 0 20 1 16 2 18 4 18 5 16 7 16 8 14 9 14 11 13 12 13 12 10 16 12 16 9 16 7 16 5 16 3 16 2 16-1 16-2 16-4 16-7 15-8 13-9 12-11 12-15 8-12 8-16 5-13 7-22 4-18 4-40 0-44-4-40-5-20-7-20-8-16-8-13-12-15-12-12-12-9-16-10-16-8-16-5-16-3z"/>
<path fill="#00ffc4" d="M1245 650l20-4 16 1 8 2 8 4 12 8 8 9 8 12 27 56 9 15 10 13 14 15 12 11 16 11 16 8 16 6 17 5 19 3 20 3 36 1 92-1 24 1 20 2 16 3 12 5 11 7 9 8 8 12 4 12 4 16 2 20 0 64 1 92-4 112-1 12-3 12-4 8-5 8-6 6-8 7-8 4-12 5-16 3-24 1-116 1-40 3-24 4-20 4-16 6-17 8-13 8-10 8-12 11-11 13-11 16-10 16-32 60-6 8-6 6-12 7-8 3-12 1-12-1-16-2-24-7-37-15-15-6-16-4-12-2-16 0-16 2-16 3-64 18-28 7-12 1-8 0-8-2-8-3-12-8-13-14-11-15-30-49-10-13-13-15-27-25-57-43-17-16-9-12-5-12-4-16 0-16 1-16 4-16 16-48 6-20 3-20 0-16-2-12-3-16-16-48-5-20-4-20 0-16 2-12 2-8 6-12 6-8 13-12 35-27 28-24 35-33 13-14 10-14 8-12 17-32 8-12 11-12 13-8 9-4 8-2 8 0 12 0 16 4 40 15 24 6 28 5 24 1 24-2 24-6 16-5 32-14zM1117 842l-16 3-16 6-16 7-14 8-14 10-12 11-12 13-12 16-9 14-8 16-7 16-6 20-4 16-2 20-2 20 1 20 2 20 3 16 5 16 6 16 7 16 10 16 9 12 11 12 12 12 15 12 13 9 16 8 16 7 16 4 16 3 16 1 16-1 16-3 16-5 17-7 15-9 14-11 12-12 10-14 8-14 8-17 7-23 5-20 5-44 0-44-4-40-5-19-5-17-7-15-8-15-8-11-12-14-12-10-16-12-16-8-16-7-16-4-16-2-16 0z"/>
<path fill="#00ffba" d="M1254 650l15-1 16 2 12 4 12 9 8 9 8 12 26 53 9 16 9 12 15 16 13 12 16 11 16 8 14 5 18 5 20 3 20 3 36 1 88-1 24 1 20 2 16 4 12 4 11 6 9 8 8 10 6 14 4 16 3 20 2 152-2 52-4 64-3 20-3 8-5 8-6 7-8 7-11 6-9 4-16 3-28 2-112 1-44 3-20 3-20 5-19 7-16 8-13 8-10 8-12 12-10 11-12 17-10 16-26 50-6 10-10 11-12 8-8 2-12 1-12 0-16-2-12-3-16-5-39-16-17-6-12-2-12-2-16 1-28 5-60 16-28 7-20 1-8-1-8-2-8-4-6-5-14-14-12-17-28-45-12-15-12-14-25-23-58-44-17-16-8-12-7-16-3-16 0-16 1-12 4-16 16-48 5-20 3-20 0-16-1-12-4-16-15-48-6-20-3-20 0-16 2-12 3-8 6-12 6-8 12-12 33-26 35-30 30-28 11-12 12-16 24-43 8-11 12-12 12-8 16-5 8-1 12 1 16 3 40 14 24 7 28 4 28 1 24-2 20-5 20-7 36-15zM1109 842l-16 4-16 6-16 8-15 10-13 11-12 12-12 14-10 15-10 16-7 16-6 16-5 20-3 16-2 20-1 20 2 20 2 18 4 18 5 16 7 16 8 14 9 14 11 14 13 14 14 12 13 10 16 9 16 8 16 5 16 4 16 2 16 0 16-2 20-5 16-7 15-8 13-9 12-11 12-14 9-14 7-13 8-20 6-23 4-20 3-28 1-16 0-28-2-31-3-21-5-19-4-13-7-16-9-16-8-12-8-9-12-11-12-10-16-9-16-8-16-5-16-3-16-1-16 1z"/>
<path fill="#00ffb0" d="M1247 654l18-3 16 1 8 2 8 4 11 8 9 10 7 10 25 52 10 16 10 14 13 14 15 13 16 11 16 8 16 6 16 4 20 3 20 3 36 1 80-1 24 1 20 2 20 4 12 3 12 7 9 7 9 12 6 12 4 16 3 20 3 148-2 44-3 64-2 16-2 12-3 8-4 8-6 8-8 7-8 5-12 5-16 4-28 3-116 2-40 2-20 3-20 5-20 7-16 8-12 8-12 9-8 8-12 13-11 15-10 16-27 50-8 13-8 9-12 8-8 3-12 1-24-2-24-5-33-13-19-8-16-4-16-3-16 0-28 4-64 17-28 7-20 1-8-1-8-3-12-7-8-7-8-9-12-17-29-46-11-13-12-14-24-22-56-43-17-16-9-12-7-16-3-16 0-16 1-12 4-16 15-48 6-20 3-20 0-16-2-12-3-16-15-48-6-20-3-20 0-16 2-12 3-8 6-12 7-8 12-12 34-27 36-31 27-26 13-15 10-13 22-39 8-12 12-12 12-8 16-6 8-1 12 1 16 3 40 14 24 7 28 4 28 1 24-3 20-4 16-6 36-15zM1121 837l-16 3-16 5-16 7-16 9-14 9-14 12-12 13-12 15-11 16-9 16-7 16-5 16-4 16-3 20-2 20 0 20 1 20 2 16 4 16 5 16 7 16 9 16 9 14 12 15 12 12 16 14 12 9 16 9 16 8 16 5 16 4 16 2 20-1 16-2 16-4 16-7 16-8 14-10 13-12 10-12 10-16 8-16 6-16 6-24 4-20 3-28 1-44-4-44-3-16-7-24-5-13-8-15-8-13-12-14-12-12-16-11-16-9-16-7-16-5-16-2-16-1z"/>
<path fill="#00ffa6" d="M1258 654l15 0 12 2 12 5 12 9 8 9 7 11 26 52 10 16 9 12 12 13 12 11 16 11 16 9 16 6 16 4 16 3 21 3 39 2 84-1 24 1 20 3 18 3 14 5 12 7 9 8 9 12 6 15 4 17 2 20 3 140-2 48-4 64-5 24-3 8-4 8-7 8-8 7-9 5-11 4-18 4-26 2-116 3-40 3-20 3-20 5-16 6-16 8-12 7-12 9-10 10-11 12-12 16-10 16-25 47-8 13-8 9-12 8-8 3-12 2-12 0-16-2-24-6-36-15-16-6-16-4-12-2-16 0-28 5-60 16-32 6-20 1-8-1-8-3-12-7-8-8-8-9-12-16-28-43-12-15-12-13-24-22-54-42-17-16-9-12-7-16-3-16 0-16 1-12 4-16 15-48 5-20 3-20 0-16-1-12-4-16-15-48-5-20-3-20 1-16 2-12 3-8 6-12 6-8 13-12 31-26 36-31 28-26 12-14 11-15 21-35 8-13 12-12 12-9 16-5 8-1 12 0 16 3 40 14 24 6 28 4 28 1 24-2 20-4 19-7 37-15zM1109 838l-16 4-16 6-16 8-15 10-13 10-14 14-10 12-12 16-9 16-8 16-7 18-5 18-4 20-2 20 0 20 1 20 2 20 4 16 5 16 7 16 9 16 11 16 12 15 12 13 14 12 14 10 12 7 16 8 16 6 16 4 16 2 16 1 18-2 18-4 16-6 16-8 16-11 12-10 12-14 10-15 10-20 6-16 6-23 4-21 4-44 0-32-3-28-2-16-5-24-6-18-6-14-9-16-9-12-8-10-12-11-12-9-16-9-16-8-16-5-16-3-16-1-16 1z"/>
<path fill="#00ff9c" d="M1248 658l17-2 16 1 12 4 12 8 8 8 8 11 8 14 20 40 10 16 10 14 13 14 14 12 13 9 16 8 16 6 16 4 36 6 36 2 88-1 40 4 16 3 16 4 12 7 10 8 9 12 6 12 4 16 3 20 4 132-1 40-3 52-4 40-5 20-4 8-7 9-8 7-12 7-8 3-12 3-32 4-36 2-80 1-32 2-28 4-24 6-20 8-16 9-16 12-16 15-12 15-12 17-36 64-8 10-8 7-8 3-12 3-12 1-12-1-12-2-16-4-32-12-20-8-16-5-12-2-16 0-12 1-16 2-64 17-32 6-20 1-8-2-8-3-13-8-15-16-12-16-26-40-13-16-11-12-22-21-55-43-17-16-9-12-7-16-4-16 0-16 1-12 3-16 15-48 5-20 3-20 0-16-1-12-3-16-15-48-5-20-2-16-1-16 2-12 4-12 6-12 7-8 12-12 69-58 24-23 13-15 9-12 26-42 7-10 9-9 12-9 8-4 8-2 8-1 12 0 16 3 40 13 24 7 28 4 28 1 24-2 20-5 20-6 32-13zM1121 834l-16 3-16 4-16 7-16 8-14 10-14 12-12 12-14 16-10 16-10 16-7 16-7 20-4 16-3 20-2 20 0 20 1 20 2 16 5 20 6 16 7 16 9 16 11 15 10 13 14 14 16 14 12 8 16 10 16 7 16 5 16 4 16 1 20 0 16-2 16-4 16-7 16-8 16-12 12-11 12-15 8-12 8-17 7-19 5-20 4-20 4-32 0-44-3-44-4-20-5-17-5-15-8-16-10-16-9-12-13-12-15-12-16-9-16-8-16-5-16-2-16-2z"/>
<path fill="#00ff92" d="M1264 658l13 1 12 3 12 6 8 7 12 16 26 51 10 16 9 12 14 16 13 11 12 9 16 9 16 6 16 5 20 3 20 3 36 2 84-1 24 2 20 2 20 5 13 4 11 6 11 10 8 12 7 16 3 16 2 20 4 132-2 48-5 64-3 16-3 12-4 8-5 8-5 6-8 6-8 5-12 4-20 4-28 3-36 2-76 1-40 3-20 4-20 5-16 6-14 7-13 8-10 8-20 20-12 16-11 16-32 57-12 14-12 7-8 2-12 1-12 0-16-2-24-7-36-14-16-5-12-3-12-2-16 0-28 5-56 14-32 7-12 1-12-1-8-1-8-3-14-10-14-15-36-53-12-15-12-13-28-26-53-42-16-16-8-12-5-12-4-16 0-16 1-12 3-16 15-48 5-20 3-20 0-16-2-12-3-16-14-48-5-20-2-20 0-16 2-12 3-8 7-12 6-8 13-12 70-60 21-20 11-12 12-16 24-39 8-11 12-12 12-7 16-5 8-1 12 1 16 3 36 12 24 6 28 5 28 1 20-2 20-4 20-6 44-17 12-3zM1109 834l-16 4-16 6-16 8-16 10-14 12-14 13-13 15-11 16-9 16-8 16-7 18-5 18-4 20-2 20 0 20 1 20 3 20 3 16 5 16 7 16 9 16 10 16 13 16 12 12 13 12 15 12 16 9 13 7 19 7 16 4 16 2 16 0 20-1 16-4 20-8 16-8 16-11 12-12 11-13 9-14 8-16 8-22 5-20 4-20 4-44 0-36-2-28-3-20-4-19-5-17-7-17-8-15-8-12-8-10-12-12-13-10-15-9-16-8-16-5-16-4-16-1-16 0z"/>
<path fill="#00ff88" d="M1250 662l15-2 16 2 12 4 12 8 8 8 8 12 27 52 9 14 11 14 13 14 12 11 16 11 16 8 16 5 16 5 36 5 36 1 80 0 40 4 16 2 16 5 12 5 12 8 10 12 7 12 5 16 3 20 5 124 0 36-3 44-5 52-3 12-3 11-4 9-6 8-8 8-10 6-8 4-12 4-24 3-40 3-80 2-32 2-32 4-28 7-20 8-15 9-16 12-13 12-12 15-12 17-37 64-11 12-8 5-8 4-12 2-12 0-12-1-12-2-16-4-31-12-17-7-16-4-12-2-16-1-12 1-16 3-60 15-28 6-12 1-12 1-8-2-8-2-8-4-7-5-13-13-12-16-30-43-13-16-11-12-26-23-51-41-13-13-8-11-8-16-4-16 0-16 1-12 3-16 14-48 5-20 3-20 0-16-1-12-3-16-14-48-5-20-2-16 0-16 2-12 4-12 6-12 7-8 12-12 68-59 23-21 13-15 10-13 22-35 8-12 12-12 12-8 8-3 8-2 8-1 12 1 16 3 44 14 20 5 28 4 24 0 24-2 20-4 20-7 32-12zM1121 830l-16 3-16 4-16 7-16 8-15 10-13 11-13 13-14 16-11 16-9 16-9 18-7 18-4 16-4 20-2 20 0 20 1 20 2 16 4 20 5 16 7 16 9 16 10 16 11 14 13 14 15 14 13 10 15 9 16 8 16 7 17 4 19 3 20 0 16-2 20-4 16-7 16-8 16-11 12-11 12-15 8-12 8-17 8-21 6-23 4-20 3-32 1-44-4-48-5-24-5-16-6-16-6-12-8-13-12-15-12-12-16-12-16-9-16-7-16-5-16-3-16-1z"/>
<path fill="#00ff7e" d="M1242 666l19-3 16 0 8 2 8 3 12 9 8 8 6 9 28 52 10 16 12 16 12 12 14 12 14 9 16 8 16 6 16 4 36 5 36 1 76 0 40 3 20 4 14 4 10 4 12 8 11 12 7 12 6 16 3 16 2 24 4 88 0 28 0 28-7 72-2 20-4 16-4 11-6 9-7 8-11 8-8 4-12 4-24 4-44 3-80 2-32 2-32 5-28 7-16 7-18 10-14 11-13 13-14 16-11 16-34 59-8 10-8 7-8 5-8 2-12 2-12 0-24-4-28-9-24-9-16-6-16-3-16-1-16 1-16 3-56 14-32 6-12 1-12 0-8-1-8-3-12-7-8-7-8-8-12-16-28-40-12-15-12-13-24-22-53-42-12-12-9-12-6-12-4-12-2-16 0-12 2-16 4-16 15-52 4-20 1-16-1-16-3-17-16-55-3-16-2-16 0-12 1-12 3-12 6-12 9-12 12-12 70-60 20-20 12-13 12-15 28-44 12-12 12-8 8-4 8-2 8-1 12 1 16 3 40 13 24 5 28 4 24 1 24-2 20-5 16-5zM1113 829l-16 4-16 5-16 8-16 9-14 11-14 12-14 16-12 16-11 16-8 16-7 16-7 20-4 20-3 20-1 20 0 20 2 20 3 16 5 16 6 16 7 16 12 19 12 16 12 14 12 12 16 13 14 10 15 8 15 7 16 5 20 4 16 1 20-1 16-2 20-6 16-8 16-9 14-11 12-12 10-14 8-13 8-19 7-22 5-21 3-19 3-32 0-48-4-40-5-24-5-20-8-19-8-14-8-12-12-13-12-11-16-11-16-9-20-8-16-4-16-2-16 0z"/>
<path fill="#00ff74" d="M1251 666l14-1 16 1 12 5 12 8 8 9 7 10 25 48 10 16 10 13 14 15 14 12 12 8 16 9 16 6 16 4 36 5 36 2 80 0 40 4 20 4 16 5 12 6 9 7 11 12 6 12 5 16 4 20 5 112 0 32-2 36-6 60-3 16-3 12-5 12-5 8-8 8-12 8-8 3-12 4-24 4-44 3-76 2-32 2-32 4-28 8-16 7-16 9-14 10-14 13-13 15-12 16-39 65-8 9-8 6-8 4-12 3-12 0-12-1-24-5-32-11-20-8-16-4-12-2-16-1-28 4-56 14-32 6-12 1-12 0-8-2-8-2-12-8-16-15-12-15-26-38-13-16-12-12-25-23-50-41-16-16-8-12-6-12-3-16-1-16 0-12 3-16 14-48 5-20 3-20 0-16-4-28-14-48-4-20-2-16 0-16 2-12 4-12 7-12 7-8 12-12 68-60 21-20 21-24 25-39 7-9 9-9 12-9 8-3 8-2 8-1 12 0 16 3 40 12 24 6 28 4 28 0 20-2 20-4 16-5 36-13zM1125 826l-20 3-16 4-16 7-16 8-15 10-13 11-14 13-13 16-12 16-10 16-8 16-8 20-5 16-4 20-2 20-1 20 1 20 1 16 4 20 5 16 7 16 8 16 10 16 12 16 13 15 13 13 15 12 16 11 16 9 16 6 16 5 16 3 20 1 16-1 16-2 16-5 16-7 16-9 16-11 12-12 10-12 7-12 8-16 7-18 6-22 5-24 4-48 0-40-3-35-4-22-5-19-7-21-8-16-9-15-11-13-16-14-16-11-20-11-16-6-20-4-16-2z"/>
<path fill="#00ff6a" d="M1242 670l15-3 16 0 8 2 8 2 12 8 8 7 8 11 29 53 11 16 9 12 11 12 14 12 14 10 16 8 16 6 16 4 36 5 36 2 76 0 40 4 20 3 16 5 12 6 10 7 10 10 8 14 5 16 4 16 2 24 4 80 1 28-1 28-6 68-4 24-3 16-5 12-5 8-8 9-10 7-7 4-11 4-28 6-44 3-80 3-32 2-32 4-28 8-16 7-16 10-16 12-12 12-12 15-13 18-35 58-8 9-8 7-8 3-8 3-20 1-24-3-28-9-24-10-16-5-16-3-16-1-12 0-16 3-60 14-32 6-12 1-12 0-8-2-8-3-14-9-14-14-40-54-21-24-21-20-49-40-17-16-9-12-7-12-4-12-2-16 0-12 1-16 4-16 15-52 3-20 1-16-1-16-3-20-13-48-4-20-2-16 0-12 1-12 4-12 6-12 9-12 12-12 64-56 21-20 12-13 12-15 24-36 8-10 12-12 10-6 10-4 8-2 16 0 16 3 40 12 24 6 28 3 24 1 24-2 20-4zM1113 826l-16 3-16 5-16 8-16 9-15 11-13 12-15 16-13 17-10 15-10 18-8 18-5 16-5 20-3 20-2 20 0 20 2 20 3 16 5 20 6 16 8 16 9 16 12 16 13 16 13 13 16 14 12 9 16 10 16 7 16 5 16 4 20 3 20 0 16-3 20-5 16-7 16-9 16-11 12-12 12-15 8-13 8-17 7-21 5-21 4-23 3-36 1-44-4-44-5-24-5-20-6-16-8-16-8-12-12-15-12-11-16-12-16-9-20-9-16-4-20-3-16 0z"/>
<path fill="#00ff60" d="M1252 670l17-1 12 2 12 5 12 9 12 15 27 50 11 16 10 13 14 15 14 11 13 9 15 7 13 5 15 4 20 4 20 2 36 2 76 0 40 4 16 3 17 5 11 5 12 8 11 11 7 12 6 16 3 16 3 28 4 76 1 32-2 32-6 64-3 20-4 15-4 10-7 11-7 8-10 7-10 5-10 3-28 6-44 3-80 3-28 2-32 4-25 7-19 8-14 8-14 10-15 14-13 15-12 17-36 59-8 9-8 7-8 4-8 2-12 2-12 0-24-4-28-10-20-8-16-5-16-3-16-1-12 1-16 2-60 15-32 5-12 1-12-1-8-2-8-3-12-7-16-16-38-51-22-25-24-22-49-41-16-16-9-12-5-12-4-12-1-12-1-12 2-16 4-16 14-52 4-20 1-16-1-16-3-18-14-54-4-16-1-16 0-12 1-12 4-12 6-12 9-12 12-12 63-55 22-21 21-24 33-47 12-12 12-7 8-4 8-1 16-1 16 3 44 13 24 5 28 3 24 1 20-2 20-4 16-5 36-13zM1129 822l-20 2-16 4-16 6-16 8-13 8-15 11-16 15-13 14-12 16-11 16-9 16-9 20-5 16-5 20-3 20-2 24 1 20 2 20 4 20 4 16 7 16 8 16 10 16 12 16 14 16 15 15 16 13 12 9 16 9 16 6 16 5 20 4 20 2 16-1 20-3 16-6 16-7 16-9 16-13 12-12 9-12 10-16 6-16 6-16 5-21 4-23 4-48 0-36-2-32-2-16-4-20-5-20-7-19-8-16-8-12-12-14-16-14-16-11-16-9-16-6-20-6-16-1z"/>
<path fill="#00ff56" d="M1243 674l18-3 16 1 12 4 12 8 8 8 8 10 28 51 8 13 12 15 12 13 15 12 13 9 16 7 12 5 16 4 20 4 20 2 36 2 72 0 40 4 20 4 16 5 14 6 10 8 8 8 8 13 6 15 4 16 3 28 4 64 1 32-1 28-5 60-4 29-4 19-4 12-6 12-7 8-11 9-8 4-12 5-16 3-16 3-44 4-76 2-32 2-32 5-24 7-16 7-17 9-15 12-12 11-12 14-14 19-34 56-8 9-8 7-8 5-8 2-8 1-12 1-24-3-24-8-28-11-16-5-16-3-16-1-12 1-16 2-60 15-28 5-12 1-12 0-16-4-8-4-8-6-12-11-12-15-31-42-22-24-23-21-47-39-12-12-10-12-6-12-5-12-2-16-1-12 2-16 3-16 15-52 3-20 1-16-2-28-5-20-12-48-3-16-1-16 2-12 3-12 5-12 8-12 16-16 64-57 20-19 21-24 31-44 12-12 12-8 8-3 8-2 16-1 16 3 44 13 24 5 28 3 24 0 20-2 20-4zM1113 822l-16 3-16 5-16 8-16 9-16 12-16 15-15 16-12 16-11 16-9 16-7 16-7 20-5 20-3 20-1 20 0 20 1 20 4 20 4 16 6 16 8 16 9 16 12 16 14 17 14 15 14 12 16 12 16 10 16 7 16 5 16 4 20 2 20 0 16-2 20-5 16-7 16-9 16-11 12-11 12-15 8-12 8-17 7-19 6-24 5-28 2-36 1-44-4-44-5-28-4-16-6-16-7-16-10-16-10-12-15-14-16-12-16-9-20-8-16-5-20-2-16 0z"/>
<path fill="#00ff4c" d="M1253 674l16-1 12 3 12 5 8 5 8 8 8 11 27 49 11 16 9 12 13 13 12 11 12 8 16 8 12 5 16 4 20 4 20 3 36 2 76 0 20 2 20 2 20 4 16 5 12 6 9 7 11 11 7 13 6 16 4 16 3 32 5 64 0 32-1 28-6 56-4 28-4 16-4 12-7 12-7 8-11 8-9 5-12 4-32 6-40 4-80 2-28 2-32 5-24 7-16 6-16 9-14 10-14 13-13 15-11 16-36 57-8 10-8 7-8 4-8 3-8 1-12 1-24-3-25-8-39-14-16-4-16-1-16 0-16 3-60 14-28 5-12 1-12-1-16-4-13-7-15-14-12-14-30-40-22-25-24-22-45-37-16-16-8-12-6-12-4-12-2-16 0-12 2-16 17-64 3-20 1-16 0-16-3-20-14-52-3-16-2-16 1-12 2-12 3-12 7-12 9-12 16-16 59-52 21-20 21-24 31-44 10-9 12-8 8-4 8-2 8-1 12 1 16 3 44 12 20 4 28 4 24 0 20-2 20-4 52-17zM1133 818l-20 2-16 3-16 6-16 7-16 9-16 12-14 13-14 14-14 18-11 16-12 20-7 16-6 16-5 20-3 20-2 20 0 20 1 20 3 20 4 16 6 16 7 16 9 16 11 16 12 16 15 16 16 15 16 12 16 10 16 8 16 6 20 5 20 2 20 0 20-3 16-4 20-9 16-9 16-13 12-11 10-13 9-16 7-16 6-16 4-17 5-27 4-48 1-40-3-36-3-21-5-23-7-23-8-17-8-14-11-14-13-13-16-12-20-12-20-8-16-5-16-2z"/>
<path fill="#00ff42" d="M1243 678l18-3 16 2 12 4 12 8 8 8 6 9 27 48 11 16 10 12 11 12 13 12 14 9 16 8 12 5 16 4 36 6 36 3 80 0 36 4 20 4 16 5 12 5 10 7 12 12 7 12 7 16 3 16 4 28 4 56 1 32 0 28-2 32-4 32-5 28-4 20-5 12-7 12-8 8-9 7-8 4-12 4-16 4-16 3-44 4-76 2-32 2-32 6-24 7-16 7-16 9-12 9-12 12-14 16-12 16-36 56-6 8-10 8-6 4-8 3-8 1-12 1-20-2-24-7-44-16-16-4-16-1-16 1-16 2-60 14-28 5-12 1-12-1-16-4-14-9-14-13-12-14-28-37-24-26-20-19-46-39-13-12-9-12-8-14-5-14-2-16 0-12 2-16 17-64 3-20 1-16-1-16-3-20-15-64-2-16-1-12 2-12 3-12 6-12 8-12 15-16 64-57 19-19 21-24 32-43 10-9 10-7 8-3 8-2 8-1 12 0 16 3 40 11 24 5 28 3 24 1 20-2 20-4zM1117 817l-20 4-16 6-16 7-16 9-16 12-16 14-15 17-13 16-12 18-11 18-7 16-6 16-4 16-4 20-2 20 0 24 1 20 3 20 4 16 6 16 7 16 12 20 11 16 14 17 14 15 14 13 16 12 16 10 16 8 16 6 16 4 20 3 20 0 20-2 20-5 16-7 18-10 16-12 14-13 12-15 8-14 8-19 6-19 5-24 4-24 3-36 0-44-3-44-5-28-6-23-5-13-7-16-8-13-12-14-12-12-16-12-16-10-20-9-16-5-20-3-16 0z"/>
<path fill="#00ff38" d="M1254 678l15 0 12 2 12 5 8 6 12 15 30 52 10 14 11 14 13 13 12 10 14 9 14 7 15 5 13 4 36 5 36 2 80 1 36 4 20 4 16 6 13 6 11 8 11 12 6 12 6 16 4 16 4 32 4 56 1 32-1 28-6 56-4 24-5 20-4 12-7 12-7 8-10 8-8 5-12 5-16 4-16 3-44 4-80 3-28 2-32 5-24 7-16 7-16 9-14 10-12 12-11 12-12 16-39 60-8 9-8 6-8 4-8 2-8 1-12 1-20-3-26-8-38-14-16-3-16-2-16 1-16 2-56 14-28 5-12 1-12-1-12-2-8-3-12-7-16-14-41-53-23-24-20-19-44-37-16-16-9-12-6-12-4-12-2-16 0-12 2-16 16-64 3-20 1-16-1-16-2-20-16-64-2-16 0-12 3-16 4-12 6-12 10-12 16-16 74-68 22-24 33-44 12-11 12-7 8-3 8-2 16 0 16 3 40 11 24 5 28 3 24 0 20-1 16-3 20-6 36-12zM1137 814l-20 2-16 3-16 4-16 7-16 8-16 12-14 12-14 14-16 18-12 17-12 19-10 20-6 16-6 20-3 20-2 20-1 20 1 20 3 20 3 16 5 16 7 16 9 16 12 18 14 18 14 16 16 16 16 13 16 10 16 8 16 7 20 5 20 3 20 0 20-2 16-4 20-8 16-9 16-11 16-15 11-13 7-12 8-16 6-18 6-22 5-28 3-44 1-44-2-36-3-16-5-28-6-20-7-18-10-18-10-13-15-15-17-13-16-10-16-7-20-7-16-2z"/>
<path fill="#00ff2e" d="M1242 682l15-2 16 0 12 4 12 7 8 7 8 10 29 50 11 16 10 12 11 12 14 12 13 8 16 8 12 4 16 5 36 5 36 2 76 1 36 4 20 4 16 5 14 6 10 7 9 9 8 12 7 15 4 17 5 28 4 48 2 36-1 28-2 28-3 32-6 32-5 20-4 12-7 12-7 8-11 8-9 5-12 4-16 4-17 3-43 4-76 3-28 2-28 4-28 7-16 7-16 9-12 9-12 11-15 16-12 16-37 57-8 9-8 6-8 5-8 2-16 2-20-2-24-7-44-16-16-3-16-1-16 0-16 3-56 13-28 5-12 1-12-1-12-2-8-3-13-8-15-14-40-50-22-24-22-20-42-36-16-16-8-12-7-12-3-12-3-16 0-12 2-16 16-64 2-20 1-16 0-16-3-20-15-64-2-16 0-12 3-16 4-12 7-12 9-12 16-16 74-68 22-24 31-41 12-11 12-8 8-3 8-2 16 0 16 3 40 10 24 5 28 4 24 0 20-2 20-4zM1117 814l-20 4-16 5-16 7-16 9-16 12-16 14-16 17-13 16-11 16-12 20-8 16-7 20-5 16-3 20-2 20-1 24 2 20 3 20 3 16 6 16 7 16 9 16 14 20 14 17 16 17 16 15 14 11 14 9 16 8 16 6 16 5 20 3 20 1 20-1 20-5 16-6 20-11 16-11 16-15 12-14 8-13 8-18 6-18 5-24 5-32 3-40 0-36-3-48-4-28-5-20-5-16-7-16-10-16-9-12-16-15-16-12-16-10-20-9-16-4-20-4-16 0z"/>
<path fill="#00ff24" d="M1255 682l14 0 12 3 11 5 9 7 12 14 27 47 11 16 10 12 12 13 13 11 12 8 16 8 11 4 16 5 36 6 40 2 76 1 36 4 20 4 16 5 12 6 10 7 12 12 7 12 7 16 4 17 4 31 5 48 1 32-1 32-2 28-5 32-4 24-5 20-5 12-8 12-7 8-9 7-10 5-14 5-32 6-40 4-80 3-28 2-28 4-26 8-14 6-16 9-13 9-13 12-11 12-12 16-39 58-8 9-8 7-8 4-8 3-16 2-20-2-24-7-44-15-16-4-16-1-16 1-16 2-56 13-28 5-12 1-12-1-16-4-13-7-14-12-13-14-30-38-18-20-24-23-43-37-16-16-9-12-6-12-4-12-3-16 0-12 2-16 15-64 2-16 2-20-1-20-3-16-14-64-2-16 0-12 3-16 4-12 7-12 9-12 20-20 69-63 23-25 31-40 10-10 12-7 8-3 8-2 16-1 16 3 40 10 24 5 28 3 28 1 16-2 16-3 16-4 40-14zM1141 810l-16 1-20 3-16 4-16 6-16 8-16 10-12 10-16 15-16 18-14 17-13 20-11 20-7 16-7 20-4 20-2 20-1 24 0 20 2 20 3 16 5 16 7 16 8 16 10 16 15 20 13 16 20 20 16 14 16 11 16 8 16 7 20 6 20 3 16 1 20-1 16-3 16-5 16-7 16-9 16-12 12-11 8-10 9-12 8-16 7-18 5-18 8-48 3-40-1-20 1-16-2-44-6-32-4-19-7-21-7-16-10-16-12-14-16-14-20-14-16-9-20-7-20-5z"/>
<path fill="#00ff1a" d="M1242 686l15-2 16 1 12 3 12 8 8 8 8 10 28 48 20 26 12 13 12 10 12 8 16 8 12 4 16 5 36 6 40 2 72 1 36 3 20 5 16 5 12 5 11 7 9 8 9 12 7 14 6 18 4 24 4 40 3 36 0 32-2 28-3 32-5 28-5 24-6 16-7 12-7 8-10 8-12 7-12 4-32 7-44 4-76 3-28 2-31 5-27 8-14 6-16 10-12 9-12 11-11 12-12 16-37 55-8 10-8 6-12 6-16 4-20-1-20-5-52-18-12-3-16-2-16 1-16 2-60 14-28 4-12 1-12-1-16-4-12-7-12-9-12-13-32-40-18-20-18-17-45-39-16-16-10-12-9-15-4-13-3-16 0-12 1-16 15-64 3-16 1-20-1-16-1-16-15-64-2-16 0-12 2-16 4-12 6-12 8-12 19-20 71-65 21-23 35-44 9-8 11-7 8-3 8-2 8-1 12 1 16 3 40 10 20 4 28 3 24 1 20-2 20-4zM1117 810l-20 4-16 5-16 7-16 9-16 12-16 14-16 17-16 20-14 20-10 16-8 16-7 20-4 16-4 20-2 20 0 24 1 20 3 20 5 20 6 16 8 16 9 16 15 20 14 18 16 17 16 14 12 10 16 10 16 8 20 8 16 4 20 2 20 1 20-2 16-4 20-8 20-11 16-12 12-11 13-16 10-16 7-16 6-20 4-20 6-36 2-40 0-20 1-20-3-44-6-32-4-20-5-16-7-16-8-13-12-15-16-15-16-12-16-10-20-9-16-4-20-4-16 0z"/>
<path fill="#00ff10" d="M1256 686l9 0 12 2 12 5 8 5 8 8 6 8 29 48 11 16 10 12 12 12 12 10 15 10 13 6 12 5 16 4 36 5 36 3 76 1 36 4 20 4 16 5 12 6 12 8 12 12 8 13 6 16 4 16 5 32 4 44 1 32-1 32-2 28-4 28-5 25-5 19-5 12-7 12-7 8-12 9-12 6-12 4-32 7-44 4-72 2-28 2-32 5-24 7-16 7-16 9-12 9-12 11-12 14-13 16-35 52-8 10-8 7-8 4-8 3-16 3-20-2-24-6-44-16-16-3-12-1-16 0-20 3-56 13-24 4-12 1-12-1-12-2-8-3-12-6-12-10-12-13-30-37-18-20-24-23-43-37-16-16-9-12-6-12-4-12-3-16 0-12 1-16 15-64 2-16 1-20-1-20-2-16-13-64-2-16 0-12 3-16 4-12 7-12 10-12 20-20 65-60 22-24 33-41 8-7 12-8 8-4 8-2 8-1 12 1 16 3 36 9 24 5 28 3 28 0 16-1 16-3 16-4 40-14 12-3zM1105 810l-20 5-16 7-16 8-16 11-16 14-16 16-16 19-15 20-12 20-9 16-6 16-5 16-5 20-2 20-1 24 0 20 3 20 4 20 5 16 7 16 9 16 13 20 14 18 16 18 16 16 16 14 12 8 16 9 16 8 16 5 16 3 20 3 20 0 20-3 16-4 20-9 20-12 18-14 14-15 12-17 8-16 8-24 5-24 5-32 3-44-1-20 1-20-2-20 0-16-1-12-6-36-5-20-6-16-8-16-8-12-9-10-12-12-16-12-16-11-20-9-16-5-16-4-16-1-20 1z"/>
<path fill="#00ff06" d="M1242 690l15-2 16 1 12 4 12 8 12 13 32 52 20 26 12 12 12 10 12 8 16 8 12 4 16 4 36 5 36 3 76 1 32 3 20 4 16 5 12 5 12 8 11 10 9 12 7 16 5 16 5 28 4 36 2 36 0 28-2 28-3 32-5 28-7 24-4 12-7 12-7 9-12 10-12 6-12 4-32 7-44 5-76 2-28 3-28 4-28 8-16 8-12 7-12 8-12 11-11 12-13 16-36 53-8 10-8 7-12 7-16 3-16 0-21-4-51-18-16-4-16-1-16 0-16 2-60 14-24 4-12 1-12-1-12-2-8-3-12-7-12-10-12-12-29-35-19-21-20-20-40-35-17-16-11-14-8-14-4-12-3-16 0-12 1-16 14-64 3-16 1-20-2-32-14-64-2-16 0-12 2-16 4-12 6-12 9-12 19-20 73-68 18-20 33-40 10-9 8-5 8-3 8-2 8-1 12 0 16 3 40 9 24 5 28 3 24 0 20-2 16-3zM1117 806l-20 4-16 5-16 7-16 9-16 11-16 15-16 17-17 20-14 20-10 16-9 16-8 20-4 16-4 20-2 20-1 24 1 20 2 20 5 20 6 16 7 16 9 16 14 20 13 17 16 18 16 15 16 14 16 11 16 8 16 7 16 5 20 4 20 1 20-1 20-4 16-5 20-10 20-14 16-14 14-16 10-16 7-16 5-16 5-24 6-40 1-20 2-20-1-20 1-16-3-48-5-32-4-20-5-16-6-16-10-16-9-12-16-16-16-12-16-11-20-9-16-5-20-4-20-1z"/>
<path fill="#04ff00" d="M1258 690l11 1 12 3 8 4 8 6 12 13 30 49 12 16 10 12 12 12 10 8 12 8 14 7 13 5 15 4 36 6 40 3 72 1 36 3 20 5 16 5 12 5 12 8 12 12 8 12 7 16 5 20 5 32 4 40 2 32-1 32-3 28-4 28-5 24-6 19-6 13-6 10-10 10-10 7-12 6-12 4-32 7-40 4-76 3-28 2-28 4-25 7-15 6-16 9-12 9-12 10-13 14-12 16-39 56-8 8-8 6-8 4-8 3-16 2-20-3-24-7-40-14-12-3-16-1-16 0-16 2-60 14-24 4-12 1-12-1-12-2-8-3-12-7-12-10-12-13-30-36-18-19-20-20-42-37-16-16-10-13-7-15-4-12-2-16 0-12 2-16 14-64 2-32-1-20-2-16-13-64-1-16 0-12 3-16 5-12 7-12 9-12 20-20 69-64 14-16 25-30 12-13 11-9 9-5 8-3 8-2 16 0 16 3 40 9 24 5 28 3 24 0 16-1 16-3 16-5 40-13 12-3zM1105 806l-20 5-16 7-16 8-16 11-16 14-19 19-17 20-14 20-13 20-8 16-7 16-5 16-4 16-2 20-2 20 1 24 1 20 4 20 5 16 6 16 8 16 13 20 15 20 18 20 16 17 16 14 12 9 16 10 16 7 16 6 16 4 20 2 20 1 20-2 20-5 20-9 20-12 18-14 16-16 11-16 8-16 7-20 6-28 5-32 1-28 2-20 0-20 1-20-2-20 0-16-7-48-5-20-6-16-7-16-8-12-9-12-13-12-18-15-16-10-20-9-16-6-16-3-16-1-20 1z"/>
<path fill="#0eff00" d="M1245 694l16-1 12 1 12 4 11 8 13 15 28 45 12 16 10 12 10 11 12 10 12 8 16 8 12 4 16 5 36 5 40 3 72 1 32 3 20 4 16 5 12 5 12 8 12 11 10 13 6 14 6 18 4 24 5 36 2 32 0 28-1 28-3 28-5 28-6 24-6 16-6 12-10 12-11 8-13 7-12 4-32 8-44 4-76 3-28 2-28 4-28 9-15 7-13 8-12 9-12 11-23 28-34 48-7 9-8 7-12 7-12 4-16 1-20-3-16-5-40-15-16-3-12-1-16 0-20 2-60 14-24 3-20 1-12-2-8-3-15-8-13-10-58-66-73-68-13-16-7-12-5-12-3-16 0-12 1-16 14-64 2-16 1-20-2-32-13-64-2-24 2-16 3-12 8-16 9-12 23-24 68-64 49-56 10-8 10-6 8-3 8-2 16 0 16 2 40 10 24 4 28 3 24 1 20-2 16-4 48-15zM1113 802l-20 4-16 6-16 7-16 10-16 12-16 15-20 22-16 20-14 20-10 16-8 16-6 16-5 20-4 20-2 20 0 24 1 20 3 20 5 20 6 16 8 16 10 16 14 20 14 18 16 17 16 16 16 14 16 11 16 8 16 7 16 4 20 4 20 2 20-1 20-4 20-8 20-10 20-14 16-15 14-17 9-16 7-16 4-16 5-24 6-40 0-20 2-20-1-20 1-20-1-16-1-28-6-36-5-24-5-16-7-16-7-12-10-12-16-16-17-13-20-12-20-9-16-5-20-3-20 0z"/>
<path fill="#18ff00" d="M1238 698l15-3 16 1 12 3 12 8 8 7 6 8 31 48 11 15 11 13 12 12 11 8 12 8 14 7 12 4 16 4 35 5 37 2 76 2 32 4 16 3 16 4 12 5 13 8 11 9 9 11 8 16 6 16 5 24 5 32 3 32 1 28-2 28-2 28-6 32-6 24-5 16-8 15-8 10-12 10-12 6-12 5-16 4-20 4-40 4-76 3-28 2-32 5-25 8-15 7-12 7-12 8-12 11-23 27-37 53-12 12-12 7-12 4-16 1-16-2-16-4-44-16-16-4-12-1-16 0-20 3-60 13-24 4-20 0-12-2-8-3-16-9-12-10-56-62-72-68-12-14-8-14-5-12-3-16-1-12 2-16 13-64 2-16 0-20 0-20-2-16-11-60-2-24 1-16 4-12 6-13 11-15 23-24 67-64 47-52 9-8 11-7 8-3 8-2 16-1 16 3 40 9 24 5 28 3 24 0 16-1 20-4zM1125 798l-20 3-16 4-20 7-16 9-16 11-12 10-16 15-18 21-16 20-14 20-12 20-8 16-6 16-5 20-3 20-1 24 0 20 1 20 3 20 5 16 6 16 7 16 10 16 15 20 16 20 20 22 16 15 16 13 16 11 16 8 16 6 22 5 22 3 20 0 16-1 16-5 20-8 20-11 20-15 16-15 12-15 7-13 7-16 5-16 6-28 4-32 1-28 2-20-1-20 1-20-2-20 0-20-5-36-4-24-6-20-7-16-8-13-16-19-16-15-20-14-20-11-16-7-20-5-20-1z"/>
<path fill="#22ff00" d="M1254 698l11 0 12 3 8 3 8 6 8 8 7 8 28 44 21 28 12 11 11 9 12 8 13 7 15 5 13 3 32 5 44 4 76 1 32 4 16 3 16 5 15 7 12 8 12 12 8 12 8 16 6 20 5 28 4 36 1 32 0 28-2 24-4 28-6 28-6 20-5 12-8 13-8 9-12 9-12 6-12 4-16 4-20 4-40 4-72 2-28 2-28 5-28 8-14 6-15 8-11 8-12 11-12 13-13 16-35 49-8 9-8 7-12 6-16 4-20-1-20-6-44-16-12-3-16-2-16 1-20 2-60 14-24 3-20 0-12-2-8-3-12-6-16-13-56-61-57-54-16-16-11-14-7-14-4-12-3-16 0-12 1-12 12-60 2-20 1-20-1-32-3-20-9-44-2-16 0-12 3-16 4-12 7-12 12-16 24-24 59-56 48-53 12-10 8-5 8-3 8-2 8-1 12 0 16 3 36 9 24 4 32 3 24 1 12-1 16-3 56-18zM1141 794l-20 1-16 3-16 4-16 6-16 8-16 10-12 10-16 15-20 21-18 22-17 24-12 20-7 16-7 20-5 20-2 20-2 20 1 24 1 20 3 16 4 16 6 16 6 12 9 16 17 24 19 23 20 22 20 19 16 12 16 10 20 9 18 5 22 4 20 2 16 0 16-2 16-5 20-9 20-12 16-12 15-14 10-12 8-12 7-14 6-18 4-16 9-56 0-24 2-20-1-20 1-16-2-24 0-24-5-36-5-24-6-20-7-16-10-16-15-16-19-17-20-13-20-11-20-7-16-3z"/>
<path fill="#2cff00" d="M1243 702l14-1 12 1 12 3 12 8 12 13 31 48 21 26 12 12 12 9 12 8 12 5 24 8 36 6 44 3 72 1 32 4 20 4 16 5 12 6 12 7 12 11 8 11 8 16 6 18 5 24 4 28 3 28 0 28-1 28-3 28-5 28-6 24-7 19-7 13-9 11-11 9-13 7-12 4-16 5-20 4-40 4-76 3-28 2-28 4-28 9-14 6-14 8-11 8-9 8-24 28-36 49-8 9-8 7-8 5-12 5-12 1-16-1-20-5-44-17-16-3-12-1-16 0-20 3-56 12-24 4-20 1-12-2-8-2-16-8-16-13-55-60-67-64-14-16-7-12-6-16-2-16-1-12 2-16 9-44 3-20 2-36-2-32-10-56-2-24 1-16 4-16 6-12 12-16 22-24 63-60 46-50 12-10 8-5 8-3 8-2 8-1 12 0 16 3 40 9 20 4 28 3 28 1 16-2 12-2 50-17zM1113 794l-16 3-20 6-20 10-16 10-16 13-16 16-20 22-19 24-14 20-10 16-8 16-6 16-6 20-3 20-2 20 0 24 1 20 3 20 5 20 6 16 8 16 10 16 14 20 17 21 16 18 20 20 12 11 16 11 16 9 16 7 20 6 20 4 20 2 20 0 20-4 20-8 24-14 20-14 18-17 12-16 8-12 6-16 6-20 4-24 6-40-1-24 3-20-2-20 2-20-2-20 0-16 0-8-5-36-5-28-6-18-6-14-7-12-9-12-16-16-18-14-24-15-20-10-20-6-16-2-20 0z"/>
<path fill="#36ff00" d="M1237 706l16-3 12 1 12 3 12 6 8 7 8 10 29 44 12 16 11 13 12 11 10 8 13 8 13 6 24 7 36 6 40 3 76 2 32 3 16 3 16 5 12 5 12 8 10 8 10 12 8 14 7 18 5 20 5 28 3 28 1 28 0 28-3 28-4 28-7 28-7 19-7 13-9 12-12 10-12 7-12 5-16 4-20 4-40 5-80 3-28 2-28 5-28 9-24 12-12 9-10 9-24 28-34 46-8 9-8 7-10 6-10 4-12 1-12 0-21-5-47-18-12-3-12-1-16 0-24 3-60 14-24 3-12 0-12-1-12-3-8-4-12-7-12-11-53-56-59-56-14-16-10-13-7-15-5-16-1-16 2-24 11-56 2-36-1-20-1-20-11-64-1-12 1-12 4-16 5-12 10-16 14-16 75-72 47-50 12-9 12-6 13-3 17 0 14 2 36 9 24 5 32 3 24 1 16-2 16-3zM1121 790l-20 3-20 6-16 7-16 9-12 8-16 14-16 17-20 22-17 22-17 24-10 16-7 16-6 16-5 20-3 20-1 24 0 20 1 20 3 20 4 16 6 16 8 16 10 16 12 16 19 24 19 22 20 20 16 14 16 11 20 10 16 6 20 5 24 4 20 1 16-2 16-5 20-8 24-14 20-16 16-16 12-15 8-13 5-12 5-20 5-28 6-40-1-24 3-20-2-20 2-16-3-24 1-20-5-40-4-24-5-20-7-16-8-14-16-19-20-18-20-14-24-13-20-8-16-4-16 0z"/>
<path fill="#40ff00" d="M1256 706l9 1 12 3 8 4 8 6 12 14 33 48 19 24 9 8 11 9 12 7 12 6 12 5 16 4 32 4 44 4 72 2 33 3 19 4 16 5 12 5 12 8 11 10 10 12 8 16 7 20 6 24 4 32 2 32 0 28-2 24-3 28-5 24-7 24-7 15-8 13-8 9-12 10-12 6-12 5-16 4-20 4-40 4-76 2-28 3-28 4-24 7-16 7-12 7-12 8-9 8-11 12-14 16-38 51-8 8-8 7-12 6-12 2-12 1-16-3-16-5-40-16-12-3-12-2-16 1-24 3-60 14-20 3-20 0-12-2-8-2-16-9-16-13-54-57-62-60-14-16-7-12-6-16-3-16-1-12 2-16 8-44 3-20 2-36-2-32-10-60-1-24 2-16 6-16 7-12 12-16 23-24 58-56 41-43 12-10 12-7 8-3 8-2 16 0 16 2 40 10 20 3 36 4 24 1 12-1 12-3 55-19 13-3zM1125 786l-20 3-20 5-16 7-16 8-16 11-12 11-16 16-20 22-17 21-21 28-10 16-8 16-6 16-6 20-3 20-2 24 0 24 1 20 3 16 3 16 4 12 7 16 9 16 11 16 22 28 17 20 24 25 16 14 16 12 20 11 16 7 20 5 24 5 20 1 16-1 12-3 20-7 20-11 20-13 20-17 11-12 10-12 7-12 5-12 5-16 4-16 8-64-1-20 2-20-1-20 2-16-3-24 1-16 0-8-9-64-7-24-8-16-11-16-19-20-24-19-24-15-20-9-20-6-16-1z"/>
<path fill="#4aff00" d="M1243 710l14-1 12 1 11 4 9 6 13 14 33 48 22 26 10 10 10 7 12 7 12 6 24 7 32 5 48 4 72 2 32 3 16 3 16 5 12 5 12 7 13 11 9 12 9 16 6 16 7 24 4 28 3 28 0 28-1 28-3 28-5 24-6 24-8 19-7 13-9 11-11 9-13 7-12 5-16 5-20 4-40 4-76 2-28 2-28 5-28 8-16 7-12 7-11 8-9 8-21 24-39 51-8 9-8 6-8 5-12 4-12 1-16-2-19-6-41-17-12-3-12-2-16 1-24 4-56 13-22 4-22 0-12-2-8-2-16-9-16-13-52-54-61-60-13-16-8-12-6-16-3-16-1-12 1-16 9-44 2-20 2-40-2-32-9-52-2-24 2-16 5-16 6-12 12-16 22-24 58-56 42-43 12-11 12-7 8-3 8-2 8-1 12 1 13 2 39 10 20 4 40 4 20 1 12-1 12-3 48-18zM1129 782l-20 3-20 5-16 6-16 8-16 10-16 13-16 17-20 22-16 20-22 28-13 20-8 16-6 16-5 20-4 20-1 24 0 24 1 20 2 16 4 16 5 16 6 12 9 16 11 16 22 28 19 22 24 26 16 15 16 11 20 11 20 8 20 6 24 4 16 1 16-1 16-4 20-9 20-11 20-14 19-17 11-12 9-12 7-12 5-12 8-32 8-64-1-20 2-20-1-20 2-20-3-20 1-16 0-8-9-64-6-24-7-16-13-18-20-21-24-19-24-15-20-9-20-7-16-1z"/>
<path fill="#54ff00" d="M1237 714l16-2 12 0 12 4 10 6 6 5 8 9 35 50 20 24 9 8 12 9 12 7 12 6 24 7 32 4 44 3 76 3 28 3 16 3 16 4 12 5 12 7 14 11 10 12 8 13 8 19 6 24 5 24 2 24 1 28 0 28-3 28-5 28-6 22-6 18-9 16-9 12-12 10-12 7-12 5-16 5-20 4-20 3-24 2-76 2-28 2-28 5-28 9-24 12-12 9-8 7-23 26-37 47-12 13-8 6-12 5-12 2-12 0-12-3-12-4-44-20-12-3-8-1-16 1-28 4-60 15-20 3-12 1-12-1-12-3-8-3-12-7-16-14-52-53-50-49-15-16-12-16-7-16-4-16-1-16 2-20 9-56 1-44 0-20-1-16-9-60-1-12 1-12 4-16 8-16 12-16 18-20 105-103 16-13 12-5 12-2 16 0 16 3 36 9 20 4 44 6 16 0 12-1 12-3 44-18zM1129 778l-28 5-12 3-16 6-16 8-16 11-16 13-16 17-20 22-22 27-21 28-10 16-9 16-6 16-5 20-3 20-2 24 0 24 1 20 2 16 4 16 5 16 8 16 7 12 12 16 23 30 20 23 24 26 16 15 20 14 20 11 20 7 20 5 28 5 12 1 16-2 12-4 24-12 28-17 22-18 19-20 11-15 6-13 4-12 5-20 9-68-1-24 2-20-2-20 3-16-3-24 2-20-8-60-7-32-5-12-7-12-14-18-20-19-24-18-24-15-20-10-16-5-16-2z"/>
<path fill="#5eff00" d="M1233 718l16-3 12 0 12 2 12 7 8 7 8 9 32 46 13 16 11 12 9 8 11 8 12 6 12 5 24 7 28 4 48 3 72 3 32 3 16 3 16 5 12 5 12 7 12 10 12 14 8 14 8 19 6 24 4 24 3 24 0 28-1 28-3 28-4 24-7 24-6 16-9 16-10 12-13 11-12 6-12 5-16 5-20 4-40 4-76 2-28 2-29 5-26 8-25 12-12 8-8 7-23 25-37 48-8 8-8 7-8 5-12 5-12 1-16-2-12-3-11-5-41-21-8-3-8-1-12 1-40 9-48 13-20 4-12 1-12-1-12-2-12-5-16-10-16-14-91-91-19-20-11-16-8-16-4-16-1-16 1-20 7-36 2-20 2-52-2-32-9-56 0-12 1-12 4-16 8-16 12-16 18-20 102-100 16-12 12-6 16-2 16 0 16 4 48 12 64 10 8-1 12-3 39-18zM1145 770l-48 10-24 8-16 9-12 8-12 9-12 11-44 50-28 35-14 20-9 16-8 20-5 20-3 20-1 20-1 24 1 20 2 16 3 16 5 16 7 16 7 12 14 20 30 38 32 36 16 16 16 13 16 11 16 8 20 8 52 13 12 1 8-2 20-8 28-16 24-16 16-13 13-13 14-16 8-12 6-12 5-16 4-20 5-48 2-16-1-24 3-20-3-20 3-16-1-8-2-16 2-16-1-8-2-16-1-16-4-32-6-24-6-16-10-16-16-18-20-18-20-15-24-15-24-13-16-5-8-1z"/>
<path fill="#68ff00" d="M1247 718l10 0 12 1 8 3 11 8 13 14 30 42 22 27 10 9 10 7 12 7 12 6 24 7 28 4 52 4 72 2 24 2 28 6 12 3 12 6 11 6 9 7 8 8 7 9 10 20 10 28 6 32 3 32 0 36-3 36-7 32-8 28-6 12-7 12-13 15-12 8-12 6-16 6-20 5-20 3-24 3-84 2-32 3-32 6-16 5-16 7-18 11-14 12-21 24-31 39-11 13-13 11-12 5-8 2-12 1-12-2-12-4-12-5-20-12-11-8-5-4-3-4 1-4 3-4 10-8 41-26 16-12 20-17 15-17 12-16 7-12 5-16 5-28 4-44 3-16 0-8-2-16 3-20-3-20 2-12 1-8-3-20 2-20-3-20-1-16-4-32-7-32-6-12-8-12-10-12-12-13-16-14-16-12-54-37-4-4-2-4 2-4 5-4 27-16 26-12zM1000 726l13-1 20 2 56 16 38 7 9 4 3 4-2 4-7 4-12 4-25 6-20 8-20 11-16 12-20 19-32 36-29 36-21 28-9 16-8 16-6 20-4 20-2 24 0 32 1 24 3 20 5 16 4 12 9 16 7 12 42 52 44 50 20 17 24 15 24 11 36 11 7 4 4 4-1 4-5 4-10 4-27 6-44 14-20 3-16 1-16-3-12-5-16-10-16-14-99-100-13-15-8-12-6-13-4-12-1-12 0-16 8-56 2-28 0-60-8-52-1-16 1-20 4-16 6-12 11-16 17-20 24-24 83-80 16-11z"/>
<path fill="#72ff00" d="M1242 722l11-1 12 1 12 4 8 5 8 7 8 10 30 42 18 22 16 15 19 11 25 9 24 5 56 5 96 4 24 3 24 7 12 4 12 7 10 8 8 8 6 8 8 12 7 16 5 15 7 29 4 36 0 36-3 36-6 32-8 28-6 13-6 11-6 8-8 8-12 9-16 9-16 5-20 5-20 3-24 2-80 2-28 2-32 6-28 9-12 5-12 7-15 12-18 20-46 56-13 11-9 5-11 3-8 1-12-1-12-4-15-7-13-8-9-8-3-4-1-4 0-4 2-4 8-8 47-35 20-17 19-20 11-16 8-16 7-32 4-36 0-16 2-12 1-12-2-16 3-20-3-20 3-20-3-20 2-20-3-20-1-16-3-32-5-24-3-12-4-8-7-12-22-24-24-21-46-35-8-8-2-4-1-4 2-4 3-4 9-8 21-12 10-4zM997 730l16-2 20 3 24 7 28 10 20 6 10 4-4 4-26 10-20 11-20 14-16 13-16 16-37 44-35 44-14 20-8 16-7 16-4 16-3 16-2 24 0 32 1 20 2 20 4 16 5 12 7 16 8 12 43 55 40 46 16 16 20 15 28 17 34 15 6 4-2 4-9 4-44 16-13 4-16 3-12 1-12 0-12-3-12-4-16-11-20-17-65-65-27-28-13-16-8-12-7-15-3-13-2-12 1-16 8-48 2-24 0-68-8-56-1-16 1-16 4-16 6-12 11-16 17-20 24-24 80-76 16-11z"/>
<path fill="#7cff00" d="M1239 726l14-2 12 1 12 4 8 6 12 12 35 47 17 21 16 14 16 10 24 9 28 6 56 4 92 4 24 3 24 6 12 4 13 7 11 8 8 8 8 10 6 10 10 24 9 32 4 32 1 36-2 36-6 36-8 28-6 14-6 10-12 16-14 12-16 8-20 7-20 4-20 3-24 2-100 4-24 3-23 5-17 6-14 6-10 5-12 9-16 16-52 63-8 7-12 8-8 3-12 2-8-1-12-3-11-5-13-8-8-8-2-4-1-4 0-4 4-8 13-12 34-26 16-14 22-24 9-12 4-8 6-16 6-28 3-36 1-16 2-16 0-8-2-16 3-20-3-20 3-12 0-8-3-20 3-20-3-20-1-16-3-32-8-36-5-12-5-8-17-20-24-22-42-34-8-8-4-8-1-4 2-4 2-4 8-8 15-9zM996 734l9-2 12 0 12 2 16 4 27 12 6 4 3 4 1 4-3 4-4 4-38 29-20 19-40 48-39 48-17 24-6 12-6 16-4 16-3 16-2 20 0 28 0 20 2 20 5 24 8 20 9 16 15 20 39 48 43 49 24 21 33 22 10 8 2 4-1 4-4 4-8 4-17 8-12 4-15 4-12 1-12-1-12-2-8-3-12-7-16-12-28-26-50-50-26-28-13-16-7-12-5-12-4-16-1-12 1-12 7-48 2-20 0-72-2-20-5-36-1-16 1-16 5-16 6-12 11-16 17-20 23-24 41-40 36-32 12-9z"/>
<path fill="#87ff00" d="M1237 730l12-3 12 1 12 3 11 7 13 13 35 47 17 21 13 11 19 11 24 9 24 4 56 5 96 4 24 3 20 5 12 4 12 6 8 5 10 8 7 8 7 9 6 11 6 12 9 28 6 32 2 36-1 36-5 36-8 32-10 24-7 12-6 7-12 12-16 10-19 7-21 5-20 4-24 2-88 2-32 3-24 4-20 6-20 8-16 10-8 6-10 10-54 64-12 11-12 7-8 2-8 1-8-1-8-1-12-6-8-5-5-4-5-8-1-8 1-4 6-8 13-12 27-22 16-15 21-23 9-12 5-8 4-12 6-32 3-52 3-16 0-8-3-16 3-12 0-8-3-20 3-12 1-8-4-20 3-12 0-12-3-16 0-16-3-32-7-36-7-16-16-20-23-23-43-37-7-8-4-8 0-4 1-4 6-8 10-8zM995 738l10-2 12 0 12 2 14 4 8 4 12 8 3 4 1 4-1 4-6 8-31 28-16 17-81 99-9 12-7 12-6 12-6 16-5 28-2 44 1 40 4 20 4 16 8 16 7 12 11 16 85 101 16 15 29 24 9 8 3 4 1 4-2 4-3 4-6 4-15 7-12 4-12 2-12 0-9-1-11-3-10-5-10-7-16-12-24-22-43-43-26-28-13-16-10-16-6-12-3-16-1-12 0-12 7-48 2-20-1-32 2-28-1-16-7-52-1-16 1-16 4-13 7-15 9-13 16-19 22-24 42-41 32-28 16-12z"/>
<path fill="#91ff00" d="M1237 734l12-3 12 0 10 3 10 6 8 7 8 9 38 50 13 16 13 11 17 9 27 9 24 5 56 4 92 4 24 3 20 4 12 4 12 5 9 6 10 8 14 16 8 12 5 12 10 28 6 32 2 32-1 36-4 36-8 32-10 24-6 12-7 9-12 12-16 10-20 8-24 6-20 3-24 2-84 2-32 3-24 4-19 5-21 8-16 8-8 7-8 7-60 70-9 8-11 6-12 3-8 0-8-1-9-4-7-4-5-4-5-8-1-8 1-4 5-8 7-8 30-25 16-16 24-27 10-16 4-12 5-32 3-52 3-16 0-8-3-16 3-16 0-8-3-16 3-12 0-8-3-20 3-20-3-20-3-48-5-32-5-16-5-8-10-12-26-27-37-33-7-8-5-8-2-8 4-8 8-8zM995 742l10-2 8-1 12 2 12 4 9 5 5 4 4 4 1 4 0 4-2 4-6 8-31 32-29 36-60 72-9 12-7 12-10 24-3 12-4 16-2 32 1 52 3 20 6 20 7 16 10 16 70 84 27 33 12 13 24 22 7 8 2 4 0 4-1 4-4 4-8 5-8 4-13 3-11 1-12-1-12-3-8-4-12-8-12-9-24-20-37-36-19-20-17-20-12-16-9-16-6-15-2-13 0-20 6-44 2-20-1-36 2-28 0-16-2-16-6-36-1-16 2-16 3-12 8-16 11-16 20-24 19-20 35-34 28-24 20-15z"/>
<path fill="#9bff00" d="M1237 738l12-3 12 0 10 3 10 6 8 8 8 9 48 61 13 12 19 10 24 8 24 5 56 4 96 4 24 3 20 4 12 4 12 6 17 12 8 8 7 9 7 11 6 12 10 28 6 32 2 32-1 36-4 36-8 32-10 24-7 12-6 8-13 12-14 9-20 9-20 5-24 4-24 2-80 2-28 2-25 3-23 5-28 10-16 9-12 10-60 69-10 9-10 6-12 3-13-1-10-4-5-3-4-5-3-4-1-8 1-4 4-8 8-8 27-25 16-16 24-27 5-8 5-8 3-12 5-36 2-44 3-20 0-8-3-16 3-16 0-8-3-16 3-12 0-8-3-20 2-12 1-8-3-20-2-48-5-36-3-8-4-8-9-12-25-28-39-36-10-12-2-8 1-8 6-8 5-4zM996 746l9-2 8 0 11 2 10 4 6 4 4 4 1 4 1 4-1 4-5 8-27 31-24 33-40 49-28 31-8 12-7 12-9 24-6 24-1 24 0 60 3 20 6 20 7 16 10 16 33 38 38 46 26 34 29 30 6 8 3 8 0 4-3 4-3 3-8 5-12 4-12 1-8-1-12-3-9-5-11-7-32-25-49-48-30-36-11-16-6-12-5-12-2-16 1-20 6-36 1-20-2-40 3-28 0-16-1-16-6-36-1-16 1-16 4-12 8-16 11-16 19-24 19-20 29-28 19-16 31-24z"/>
<path fill="#a5ff00" d="M1240 742l9-3 12 0 9 3 11 7 8 8 8 9 47 60 13 11 12 6 28 10 24 5 52 3 100 5 24 2 20 5 12 3 12 6 8 4 11 8 14 16 8 12 6 12 11 28 5 28 3 32 0 36-4 32-7 32-5 16-6 12-6 12-6 8-12 13-16 11-19 8-21 6-24 4-24 2-100 3-28 3-24 5-31 9-17 8-8 6-6 6-22 26-36 40-12 10-8 5-12 4-10-1-9-4-5-4-3-4-2-8 1-4 4-8 7-8 25-23 16-17 27-32 7-12 3-12 4-36 2-44 3-20-3-24 2-16 0-8-2-16 2-20-2-20 3-20-3-20-2-48-5-40-5-12-9-12-30-32-33-32-9-12-2-8 1-8 7-8zM999 750l6-1 8 0 8 2 6 3 5 4 3 4 1 4-2 8-4 8-21 27-20 29-40 49-32 35-8 12-7 12-10 24-6 24-1 16 0 64 2 20 4 16 8 20 10 16 9 12 31 33 35 43 25 34 25 30 5 8 1 8-1 4-6 6-8 3-8 2-12 0-8-2-8-3-12-7-20-14-16-12-12-11-37-38-14-16-15-20-10-16-6-12-3-12-2-12 1-20 6-36 2-16 0-12-3-32 4-32 0-16-1-12-7-36-1-16 1-16 4-12 9-17 16-23 16-20 19-20 25-24 20-16 28-20 8-4z"/>
<path fill="#afff00" d="M1244 746l9-2 8 0 8 3 12 7 16 18 46 58 9 8 13 6 29 10 27 5 152 8 24 3 20 4 22 8 10 6 8 6 9 8 7 9 8 11 6 12 10 27 6 29 3 32 0 36-4 32-7 32-10 26-12 20-12 13-16 11-16 8-20 6-24 4-28 3-84 2-32 2-24 3-28 7-28 9-8 4-8 6-28 34-32 34-14 12-10 5-12 2-9-3-5-4-2-4 0-8 1-4 6-8 33-34 33-38 9-12 2-8 1-8 1-20 3-20 1-40 3-20-3-24 2-20-2-16 2-24-2-20 2-16 0-8-2-20-1-44-5-44-3-8-6-8-35-37-27-27-10-12-3-8 0-8 4-7zM992 758l13-3 8 1 5 2 5 4 2 4 1 8-6 12-34 52-41 50-33 34-8 12-9 16-11 24-5 20 0 12 1 36-2 36 3 16 6 20 7 16 10 16 9 12 32 32 36 44 10 12 18 29 16 23 4 8 1 4-1 4-4 4-7 4-9 1-8 0-16-7-36-22-12-10-12-11-34-35-24-32-9-16-6-12-4-12-1-12 1-20 9-44 0-16-5-28 0-8 7-40-2-16-8-38-2-14 1-16 3-12 8-16 12-20 18-24 15-16 25-25 16-13 32-22z"/>
<path fill="#b9ff00" d="M1255 750l6 0 8 3 8 4 5 5 11 11 24 29 23 32 9 7 8 4 36 11 24 4 152 8 28 3 20 4 12 4 12 6 16 11 8 7 8 10 12 21 6 12 5 16 6 28 3 32 0 32-3 32-7 32-10 27-12 20-12 14-15 11-17 8-20 6-24 5-24 3-28 1-52 1-36 1-28 4-28 6-36 10-8 5-4 3-16 23-8 9-32 32-12 11-12 6-8 2-4-1-4-3-2-4-1-4 1-4 5-8 25-27 24-29 16-16 7-8 3-12 0-24 3-28 1-36 3-20-2-24 1-20-1-16 1-24-1-20 1-24-2-24-1-40-4-48-3-8-3-4-23-21-40-43-9-12-3-8-1-4 2-4 3-4 4-3zM990 766l11-3 8 2 4 3 2 6 0 4-3 8-21 40-11 16-35 43-12 12-19 17-11 12-28 44-2 3-4 1-4-4-4-7-4-11-4-22-1-12 2-8 4-12 8-16 12-20 15-20 12-14 24-23 12-11 12-8 28-16zM864 1026l1-2 4 1 2 5 1 12-3 13-4 1-4-6-1-4 0-12 1-4zM864 1106l1-1 4-2 4 3 22 36 9 12 41 39 40 50 7 11 24 44 1 8-1 4-3 3-4 2-4 0-8-1-12-4-24-13-16-10-16-14-27-27-10-12-12-16-10-16-9-16-5-12-3-12-1-12 2-16 3-12 4-10z"/>
<path fill="#c3ff00" d="M1253 762l4-3 8 0 8 4 8 6 36 40 6 9 10 20 4 4 4 2 12 4 36 9 24 4 20 2 132 5 24 3 20 3 20 7 12 5 8 5 8 7 8 8 12 16 12 23 8 25 5 28 2 28-1 36-4 32-8 32-10 24-10 16-11 12-15 11-16 8-20 6-24 5-28 3-32 1-60 1-36 3-24 3-53 11-11 3-7 5-9 20-6 8-6 7-40 34-8 4-5-1-1-4 2-4 32-44 12-13 22-15 3-8-2-40 7-84-2-120-4-96 0-24-1-8-3-4-16-10-8-6-40-44-8-12-2-8zM980 778l9-2 8 0 3 2 1 4-1 8-8 24-7 16-8 12-32 39-12 12-30 25-23 28-3 3-4 1-4 0-4-4-4-10-2-14 1-12 4-12 17-32 10-16 10-13 12-13 24-23 16-11zM867 1130l2-1 4 0 4 2 23 27 37 31 12 13 32 40 9 16 12 32 1 8-2 3-4 2-8 0-8-3-20-8-12-6-12-9-16-16-15-15-11-12-11-16-9-16-9-20-5-12-2-12 1-12 2-8 3-6z"/>
<path fill="#cdff00" d="M1275 782l2-1 8 5 24 23 8 9 1 4 0 4-1 1-4 2-4-2-7-5-21-28-5-8zM964 790l9-1 8 0 4 2 2 3 1 8 0 12-3 8-3 8-29 37-16 19-12 10-23 14-13 10-8 7-4 1-4-1-3-5-1-8 3-12 5-16 7-16 6-12 8-12 7-9 28-28 16-13 8-4zM1348 854l17 1 36 6 16 2 140 6 40 4 21 5 19 8 13 8 14 12 9 12 10 16 7 16 6 20 4 20 3 20 0 20 0 24-2 24-4 20-5 20-5 16-8 16-7 12-11 13-12 10-16 9-16 6-20 5-24 3-32 3-72 1-28 1-24 3-40 7-12 1-8 0-8-1-4-2-3-3-4-8-3-8-2-20 6-88-3-216 0-8 2-8 3-5 4-2zM873 1154l4-2 4 2 17 12 23 14 12 9 16 17 29 36 7 12 2 8 2 12-1 8-3 5-4 2-4 1-8-1-12-3-8-4-16-13-28-28-9-11-7-12-6-12-5-12-7-24 0-8zM1311 1250l2-1 4 1 1 4 0 4-5 6-8 6-4 1-3-1 0-4 3-7 4-5z"/>
<path fill="#d7ff00" d="M955 798l6-1 8 0 4 2 3 3 5 8 1 4 0 4-2 8-11 16-28 35-12 11-8 6-8 4-8 2-8 1-4 0-5-3-2-4-1-8 2-8 4-12 8-16 13-16 29-27 8-6zM1350 862l7-3 12 0 48 6 136 5 36 3 24 5 20 7 15 9 14 12 9 12 10 16 7 16 7 20 4 16 2 20 1 20 0 24-2 24-3 20-4 20-6 16-7 16-10 16-9 11-11 9-13 8-20 9-20 5-28 4-32 2-92 2-28 2-44 6-8 0-8-2-8-5-5-7-3-8-3-12 0-12 4-68-2-116 2-100 0-12 2-8 2-4zM891 1178l6-1 4 0 8 2 8 3 12 8 13 12 29 36 8 12 3 12-1 6-4 7-4 4-4 2-8 0-8-2-8-5-8-6-27-26-7-8-7-12-9-20-1-8 0-8 1-4z"/>
<path fill="#e1ff00" d="M950 806l7-3 4 0 4 1 4 3 6 7 1 4-1 8-10 16-24 31-12 11-11 6-5 1-8 1-4-1-4-3-3-6 0-4 1-8 3-8 6-12 9-12 24-23zM1356 866l9-3 12-1 40 4 132 5 36 2 24 5 20 7 16 8 15 13 10 12 10 16 7 16 6 16 4 17 3 19 1 20 0 20-1 24-2 20-4 20-7 20-6 16-8 14-8 10-12 12-16 11-20 8-24 6-24 4-36 2-88 1-68 7-8-1-8-2-8-6-5-6-3-8-2-8-1-12 2-80-2-120 2-52 3-36 3-12 2-4zM904 1186l5 0 8 2 8 4 8 6 12 12 24 32 6 12 0 8-1 4-4 4-5 4-4 1-8-1-12-8-24-21-12-15-8-16-3-12 1-8 2-4 4-3z"/>
<path fill="#ebff00" d="M947 814l6-3 4 0 4 1 4 2 2 4 2 4-2 8-10 16-12 16-12 13-11 7-9 2-4 0-4-3-2-3-1-8 3-12 4-8 9-12 15-14zM1372 866l9-1 36 2 68 2 72 3 32 3 24 5 20 8 16 10 13 12 9 12 9 16 7 16 7 20 3 16 3 20 1 20-1 24-2 24-4 20-5 20-6 16-8 16-8 12-10 11-12 10-16 9-20 7-24 5-24 2-32 2-80 1-68 5-8-1-8-2-8-6-5-7-3-8-2-8-2-12 1-64-2-116 2-40 2-40 2-16 3-12 4-8 4-4 4-2zM909 1194l8 0 12 6 12 11 12 15 13 20 2 8 0 4-2 4-5 4-4 1-4 0-8-4-17-13-15-16-7-12-4-12 0-8 2-4z"/>
<path fill="#f5ff00" d="M948 822l6 0 3 2 1 2 0 4-2 8-7 12-8 10-8 8-8 6-8 2-4-2-3-4 0-8 3-8 8-12 8-8 12-9zM1372 870l13-2 80 1 88 4 32 3 24 4 20 7 18 11 14 13 8 11 10 16 7 16 7 20 3 16 3 20 1 20-1 24-2 20-3 20-5 20-5 16-8 16-8 12-11 13-12 10-16 9-20 8-24 5-24 2-32 2-80 1-64 3-8 0-8-3-9-6-5-8-3-8-4-20 0-60-2-88 1-44 3-52 4-28 3-10 3-6 5-5zM911 1206l2-2 4-2 4 1 8 3 8 7 8 10 10 15 3 8 0 4-1 4-4 2-8-1-12-8-10-9-7-8-4-8-2-8 0-4z"/>
<path fill="#ffff00" d="M937 838l4-1 1 1 2 4-1 4-6 9-8 6-5 1-2-4 0-4 3-6 4-4zM1372 874l9-3 8-1 68 0 92 4 32 2 24 4 20 7 16 8 9 7 8 8 10 12 10 16 7 16 5 16 4 16 3 20 2 20-1 20-1 24-3 20-5 20-5 16-7 16-8 13-9 11-13 12-18 11-20 7-24 6-28 3-32 1-76 1-60 2-8-1-8-2-7-4-4-4-5-8-3-8-3-20-3-144 0-40 3-44 5-32 3-12 4-8 3-4zM922 1218l3-2 4 1 4 2 4 4 4 6 2 5 1 4-3 3-4-1-8-5-4-5-2-4-2-4z"/>
<path fill="#fff500" d="M1384 874l17-2 68 0 88 3 32 3 24 6 20 8 15 10 13 13 8 11 9 16 7 16 6 20 4 16 2 20 1 20-1 24-2 20-4 20-5 20-7 16-8 16-9 12-9 9-12 10-16 8-20 7-24 5-32 3-156 2-8 0-8-3-8-4-4-4-5-9-3-8-3-12-1-12-3-132 1-56 4-44 3-16 4-12 3-7 4-6 8-5z"/>
<path fill="#ffeb00" d="M1411 874l42-1 36 0 72 4 36 4 24 7 16 8 16 13 14 17 10 16 7 16 5 16 4 20 3 20 0 24-1 24-3 24-4 20-5 16-7 16-10 16-10 12-11 10-12 8-12 6-12 4-16 4-36 4-36 2-108 1-16-1-13-2-9-4-8-8-5-8-4-12-2-16-2-24-3-128 1-32 4-36 3-20 3-12 4-8 5-8 6-6 8-3 12-2z"/>
<path fill="#ffe100" d="M1455 874l38 1 76 3 28 4 20 6 12 5 9 5 10 8 8 8 15 20 11 24 6 16 4 20 3 20 0 24-1 24-3 24-4 20-7 20-8 16-8 12-10 12-9 8-12 8-12 6-16 6-19 4-25 3-32 1-128 0-12-2-12-5-8-8-5-9-4-16-3-28-3-48-1-76 0-28 2-24 4-28 4-20 4-12 5-8 5-5 8-5 8-2 12-2z"/>
<path fill="#ffd700" d="M1409 878l36-2 36 0 76 3 36 4 24 6 18 9 15 12 14 16 10 16 7 16 5 16 5 20 2 20 1 20-1 24-2 20-4 20-4 16-6 15-7 13-7 12-11 12-11 10-12 7-20 8-24 6-28 3-40 1-88 0-28-1-8-2-8-2-8-5-4-5-7-12-4-12-2-16-2-24-2-48-2-60 1-32 2-28 7-36 3-12 6-11 4-5 8-6 8-3z"/>
<path fill="#ffcd00" d="M1428 878l45-1 72 2 32 3 24 4 20 6 11 6 9 6 15 14 14 20 8 16 6 16 4 16 3 20 2 24-1 24-2 24-4 20-4 16-7 16-9 16-8 12-9 9-12 10-12 7-16 6-28 6-32 3-60 1-72-1-16-2-12-3-8-4-4-4-6-8-5-12-4-20-3-28-2-36-1-56 0-36 2-28 4-28 4-16 4-12 5-8 6-8 8-5 8-3 12-2z"/>
<path fill="#ffc300" d="M1452 878l37 0 76 4 28 3 20 6 20 9 16 13 14 17 8 12 5 12 7 16 5 20 2 16 2 20-1 24-2 24-3 20-6 20-6 16-7 12-8 12-11 12-11 9-12 7-16 7-16 4-28 4-32 2-68 0-52-2-16-3-12-5-8-8-7-11-5-20-4-28-2-36-2-60 0-32 2-24 4-28 4-20 4-12 6-11 4-5 8-6 8-3 12-3 20-3z"/>
<path fill="#ffb900" d="M1420 882l33-3 32 0 72 3 36 5 20 5 12 5 8 4 16 13 13 16 9 16 7 16 6 16 4 20 2 20 0 20-1 24-2 20-4 20-6 16-7 16-7 12-9 12-9 9-12 9-12 7-12 4-12 4-32 5-44 2-64 0-36-2-20-3-8-3-7-4-9-9-6-11-4-16-3-20-3-24-2-40-1-56 1-28 3-24 3-20 5-16 4-12 7-11 8-8 8-4 8-2z"/>
<path fill="#ffaf00" d="M1434 882l39-2 72 3 32 2 24 5 12 3 11 5 17 11 13 13 14 20 7 16 6 16 4 16 3 20 1 24 0 24-3 20-4 20-4 16-7 16-7 12-8 12-11 11-11 9-13 7-12 5-12 4-16 3-32 3-64 1-52-2-20-2-16-4-12-7-8-10-6-14-4-16-3-24-2-28-2-52 0-40 2-28 3-24 5-20 5-12 4-8 6-8 8-6 8-4 12-3z"/>
<path fill="#ffa500" d="M1452 882l37 0 72 3 28 3 20 5 20 9 16 12 14 16 7 12 6 12 7 16 5 20 3 16 1 20 0 24-2 24-4 20-5 18-6 14-8 16-10 13-11 11-9 7-12 7-16 6-15 4-29 4-40 1-56 0-44-3-16-3-12-5-8-6-3-4-7-12-6-19-4-25-2-32-2-40 0-36 1-28 3-24 5-24 4-12 5-12 6-8 9-8 11-5 12-3z"/>
<path fill="#ff9b00" d="M1426 886l31-3 36 0 68 3 20 2 16 3 20 6 16 9 8 6 8 8 13 18 9 16 6 16 5 16 3 20 2 20 0 24-2 20-3 20-4 16-6 16-7 14-8 12-8 10-12 11-12 8-12 5-24 7-32 4-60 1-48-1-28-2-16-4-12-6-8-7-4-5-6-11-4-16-4-20-3-28-1-36-1-48 1-24 3-24 4-20 4-16 6-12 5-8 8-8 8-5 12-4z"/>
<path fill="#ff9100" d="M1437 886l36-2 64 2 36 2 24 4 20 7 12 6 7 5 13 12 8 10 6 10 8 16 6 16 4 16 4 20 1 20-1 24-2 20-3 20-5 16-6 16-9 16-9 12-10 10-12 9-12 6-12 5-24 5-32 3-64 1-44-2-24-3-16-5-12-8-8-10-6-15-4-16-4-24-2-24-2-44 0-40 2-24 4-24 4-18 5-14 7-12 6-8 10-7 8-3 12-3z"/>
<path fill="#ff8700" d="M1452 886l37-1 68 3 28 3 20 5 20 8 16 12 8 8 8 10 11 20 7 16 4 16 3 16 2 20 0 24-1 20-3 20-5 20-6 16-6 12-8 12-10 12-12 11-12 7-12 5-17 5-27 4-32 2-60 0-40-3-20-4-8-2-8-4-10-9-7-12-6-16-4-20-3-24-2-28-1-48 1-28 2-24 5-24 5-16 5-12 7-10 8-8 8-4 12-5 16-3z"/>
<path fill="#ff7d00" d="M1431 890l26-3 36 0 68 2 32 5 20 6 8 3 11 7 14 12 7 9 7 11 8 16 7 16 4 16 3 16 1 20 0 24-1 20-4 20-4 16-6 16-7 13-8 12-10 11-10 9-12 8-12 5-24 6-28 3-68 2-40-2-26-3-18-6-12-7-9-11-5-12-5-16-4-20-2-24-2-36 0-44 1-24 2-20 3-16 5-16 5-12 8-12 7-7 8-5 12-5z"/>
<path fill="#ff7300" d="M1440 890l37-2 60 1 36 3 24 4 20 7 16 9 14 14 14 20 8 16 5 16 4 16 3 18 1 22 0 20-2 20-4 20-5 16-6 15-7 13-9 12-8 9-12 9-12 7-12 5-24 6-28 3-68 1-40-2-24-4-16-6-12-8-9-12-6-16-4-16-4-20-2-24-1-44 0-36 2-24 3-20 4-16 5-13 6-11 6-8 9-8 11-6 12-3z"/>
<path fill="#ff6900" d="M1453 890l32-1 68 2 28 3 20 4 20 8 16 11 8 8 7 9 12 20 7 16 4 16 4 16 2 20 0 24-1 20-3 20-4 16-6 16-8 16-8 12-10 11-11 9-9 6-12 5-15 5-25 4-28 2-60 0-40-2-20-4-16-6-12-9-9-13-6-16-4-16-3-20-2-28-1-48 0-28 2-24 4-20 5-16 6-13 7-11 8-8 9-6 12-4 16-4z"/>
<path fill="#ff5f00" d="M1434 894l27-3 32-1 64 3 20 2 16 2 20 7 16 9 15 13 13 18 7 14 7 16 4 16 3 20 2 20 0 20-2 20-3 20-5 16-5 13-8 15-8 12-11 12-9 7-12 7-13 6-23 5-28 3-68 1-36-2-24-4-16-5-12-8-5-6-6-8-5-12-5-16-3-20-2-20-2-72 1-24 2-20 4-16 5-16 5-12 7-10 8-8 8-6 12-5z"/>
<path fill="#ff5500" d="M1443 894l26-2 36 0 56 2 32 5 20 6 16 9 8 7 8 8 12 17 8 16 5 16 5 16 2 20 2 20-1 24-2 20-3 16-6 16-6 15-8 13-8 11-9 9-11 9-12 6-13 5-23 5-28 2-64 1-36-2-24-4-15-6-12-8-9-12-6-12-5-16-4-20-2-20-2-32 0-44 1-24 3-20 4-16 6-16 7-12 6-8 8-7 9-5 11-4z"/>
<path fill="#ff4b00" d="M1454 894l35-1 64 2 28 3 20 4 20 8 16 12 12 14 11 18 7 16 4 16 4 16 2 20 1 20-1 20-3 20-4 16-5 15-6 13-7 12-11 13-8 8-12 9-12 5-16 6-24 4-28 1-60 1-20-1-17-2-23-5-15-7-5-4-7-8-8-12-5-14-4-18-3-20-2-24-1-68 2-24 4-20 6-16 6-14 7-10 8-8 9-6 12-5 12-3z"/>
<path fill="#ff4100" d="M1476 894l57 1 32 2 24 3 20 6 12 6 8 5 14 13 6 8 7 12 11 24 4 16 4 20 1 20 0 20-1 20-3 16-4 16-7 17-8 15-8 11-8 9-12 10-12 6-12 5-16 4-16 2-28 2-64 1-24-2-24-5-16-5-8-5-5-5-7-8-4-6-7-18-5-20-3-24-1-32-1-40 1-20 2-20 4-16 5-16 6-12 7-10 8-8 9-6 11-5 16-4 16-2z"/>
<path fill="#ff3700" d="M1445 898l32-3 56 1 36 2 24 4 20 7 16 10 8 7 7 8 11 16 6 12 6 16 4 16 3 20 1 20 0 20-2 20-3 16-5 16-7 16-7 12-9 12-7 8-10 8-12 7-12 5-20 5-28 2-68 2-32-2-24-5-16-6-12-9-6-7-5-8-5-12-5-16-3-20-2-20-2-36 0-36 2-20 3-20 5-16 5-12 5-10 8-10 8-7 8-5 12-4z"/>
<path fill="#ff2d00" d="M1455 898l34-2 60 2 28 3 20 4 20 7 14 10 14 15 10 17 6 12 5 16 4 16 3 20 1 20-1 20-2 20-3 16-6 16-7 16-8 12-10 12-9 8-11 8-12 5-12 4-20 4-28 1-64 1-32-2-21-5-10-4-7-4-6-4-8-8-7-12-5-12-5-16-3-20-2-24-1-44 1-24 1-20 4-20 5-14 6-14 6-9 8-9 9-6 11-5 12-4z"/>
<path fill="#ff2300" d="M1473 898l32 0 56 2 24 3 20 5 12 6 7 4 14 12 12 16 6 12 5 12 5 16 4 16 2 20 1 20-1 20-2 16-4 16-5 16-8 16-8 12-8 10-11 10-9 6-12 6-16 5-16 2-28 2-64 1-24-2-20-3-12-4-8-3-12-9-5-5-6-8-8-16-5-19-3-21-2-24-1-40 1-20 1-20 4-20 4-14 6-14 6-10 8-9 8-6 12-7 12-3 16-3z"/>
<path fill="#ff1900" d="M1447 902l18-2 16-1 56 1 32 2 24 4 20 7 14 9 14 14 12 18 7 16 5 16 3 16 3 20 1 20-1 20-2 16-4 16-4 12-7 16-7 12-10 12-8 8-12 9-12 6-12 3-20 4-28 2-60 1-32-3-20-4-16-6-12-9-6-7-6-9-5-11-5-16-3-16-2-20-1-28-1-40 2-20 3-20 4-14 6-14 6-11 8-10 8-6 8-5 12-5z"/>
<path fill="#ff0f00" d="M1457 902l32-2 60 2 28 2 20 4 12 5 8 4 13 9 11 12 12 20 7 16 4 16 4 16 2 20 0 20-1 20-2 16-4 16-6 15-7 13-8 12-9 11-11 9-9 6-12 5-12 3-16 3-16 1-60 2-28-1-20-3-20-5-14-7-6-4-8-8-8-12-5-12-5-16-2-16-2-24-1-64 2-24 3-16 4-12 6-13 8-12 8-9 8-6 12-6 12-3z"/>
<path fill="#ff0500" d="M1474 902l31 0 56 2 24 3 20 5 16 9 8 6 7 7 12 16 9 20 5 16 4 20 2 16 1 20-1 20-2 16-3 16-6 16-6 12-7 12-10 12-9 8-8 6-12 6-16 5-16 3-24 1-68 1-20-1-20-4-16-5-8-5-8-5-6-6-6-8-8-17-4-15-4-24-2-24 0-40 0-20 2-19 4-17 4-12 5-12 7-10 8-9 8-7 12-6 12-4 16-3z"/>
<path fill="#0200ff" d="M910 162l4-4 789 0 30 14 32 17 28 16 28 19 64 47 36 28 31 27 28 28 17 20 16 20 13 20 12 20 9 20 9 20 23 68 7 16 7 12 15 20 53 59 16 21 12 19 0 703-12 18-16 20-20 22-38 38-10 12-8 12-6 12-6 13-19 59-13 32-16 32-21 32-25 32-26 28-28 26-32 25-72 51-40 25-48 24-59 25-205 0-546 0-14-13-15-15-12-16-11-16-9-16-9-20-20-53-6-11-6-5-8-2-12 2-56 19-32 7-28 3-28-1-16-2-20-4-20-6-16-6-16-7-20-10-36-23-28-22-25-23-23-24-23-28-17-25-15-27-15-32-12-32-6-20-4-20-5-36 0-36 6-60 0-12-2-12-5-12-7-12-37-48-17-24-11-20-10-21 0-339 12-24 13-20 19-25 34-39 9-12 5-12 4-12 1-12 1-60 4-36 8-40 8-24 7-20 15-32 18-32 22-30 25-30 29-28 30-25 32-22 28-15 28-12 24-7 28-4 24-1 28 3 24 5 24 7 44 16 8 2 8-2 4-4 4-6 21-51 16-32 21-28zM1317 466l-12 1-12 2-16 6-12 7-12 8-12 10-45 46-23 19-8 5-12 6-12 4-12 2-16-1-12-2-16-6-13-7-12-8-13-12-34-36-12-11-16-12-16-9-8-2-12-3-20 0-20 3-20 7-20 13-16 15-12 17-8 18-3 16-2 16 4 64-1 28-3 16-3 12-7 12-5 8-12 11-12 8-12 6-16 5-16 3-12 1-48 1-20 1-20 4-20 8-19 12-9 8-7 8-9 16-3 8-3 12-1 20 2 16 4 16 8 16 8 12 10 12 51 48 18 20 8 12 6 12 4 12 2 12-2 12-3 12-6 12-7 12-10 12-10 10-42 38-12 12-13 16-10 20-4 12-2 12-1 16 1 12 3 12 5 12 8 12 6 8 9 9 12 9 12 6 12 5 24 4 64 2 28 4 16 4 12 6 12 7 12 10 8 10 6 12 4 12 3 16 2 28-3 52 0 16 2 20 5 16 9 19 12 17 16 14 12 8 8 4 16 4 20 2 20-2 16-4 20-9 16-11 16-15 24-27 13-12 14-12 13-8 16-7 20-4 12 0 8 1 16 5 16 8 16 13 16 15 40 41 16 14 12 7 16 7 20 4 16 0 20-3 20-8 12-6 8-6 8-7 8-9 7-9 5-10 7-18 3-20 1-24-1-64 1-16 4-20 8-20 7-12 5-8 15-16 14-10 12-6 8-3 20-3 20 0 28 4 24 7 27 11 25 12 52 28 28 12 16 4 12 3 16 1 16 0 20-4 20-6 20-11 16-13 13-14 9-16 6-16 5-20 1-16 0-12-2-12-3-16-10-24-31-60-15-36-6-16-5-20-3-16-1-16-1-16 2-20 3-16 6-24 9-24 9-20 39-76 5-16 4-16 1-20-1-12-2-12-3-12-5-12-11-20-9-11-9-9-15-11-12-7-15-6-13-4-16-2-16 0-24 3-28 10-28 12-72 37-24 10-24 7-24 3-24-1-20-5-20-8-15-10-9-8-7-8-10-16-6-16-4-16-1-20 0-64-1-24-2-16-3-12-5-12-5-11-8-13-8-9-8-8-12-8-12-6-12-5-12-3z"/>
<path fill="#0400ff" d="M950 162l6-4 683 0 38 15 40 17 36 17 32 18 32 21 36 25 36 27 30 24 26 24 22 24 17 20 14 20 12 20 12 24 8 20 6 20 17 67 4 11 5 10 7 10 9 10 47 40 23 24 22 28 19 32 0 630-20 32-12 16-12 13-24 23-48 38-8 8-8 10-5 10-4 12-15 64-10 32-8 20-8 16-12 20-10 16-25 32-27 28-28 26-36 27-48 33-44 27-40 20-48 20-44 16-46 15-246 0-385 0-25-16-22-19-19-21-16-24-10-20-10-24-7-28-7-44-3-9-4-4-8-2-12 3-56 28-16 7-20 6-16 4-16 3-16 1-16 0-20-1-16-3-20-5-20-7-20-9-20-10-20-12-16-12-20-15-20-18-20-21-16-18-16-21-14-21-11-20-11-24-11-28-8-28-6-28-2-28 1-20 3-24 6-24 13-44 1-8-1-8-3-8-6-8-47-43-16-18-15-19-12-20-12-24-9-24-8-28 0-209 2-7 7-24 10-24 11-20 14-20 13-16 15-15 16-13 26-20 9-8 5-6 3-6 2-8-1-8-7-48-3-32 1-28 4-28 9-36 14-36 16-32 22-34 20-26 23-24 25-24 24-19 24-15 28-15 24-10 24-7 24-4 24-1 20 1 24 5 24 7 20 9 20 11 36 23 8 3 4 0 4-1 4-4 2-7 4-40 5-24 7-20 9-20 15-24 16-20 21-20zM1297 466l-12 3-12 6-20 12-20 18-40 42-12 10-11 9-9 5-12 6-8 2-12 1-12 0-16-3-16-5-12-7-12-8-12-11-36-39-12-11-16-12-16-9-20-5-20-1-12 1-12 3-20 8-12 7-8 7-15 15-11 16-8 20-3 12-1 16 4 68-1 28-3 16-4 12-6 12-6 8-10 10-12 8-12 6-16 5-12 2-16 2-48 0-20 1-20 4-20 7-19 11-10 8-7 8-6 8-7 12-3 8-2 12-1 20 3 16 4 16 8 16 8 12 10 12 50 46 20 22 9 12 6 12 4 12 1 12-1 12-3 12-6 12-8 12-10 12-12 12-41 36-12 12-12 16-11 20-4 12-2 12-2 16 1 12 2 8 4 12 6 12 10 12 9 9 12 9 12 7 12 5 12 3 16 2 64 1 28 4 16 5 12 5 12 7 12 11 6 8 7 12 4 12 3 16 2 16 0 16-4 48 0 16 2 19 4 17 9 20 7 11 8 10 16 14 12 8 8 3 20 5 20 1 12-2 12-3 20-7 16-10 16-13 39-41 17-16 16-10 16-7 20-5 16 1 16 4 16 7 12 9 15 13 53 54 12 10 12 8 16 7 20 4 20 0 20-4 20-8 12-8 8-6 8-8 8-9 9-16 7-19 4-21 0-24-1-64 1-16 3-16 7-20 11-20 13-16 18-14 12-5 8-3 20-4 20 0 28 5 24 7 25 10 27 13 52 28 28 12 16 5 12 3 16 1 16 0 20-3 22-7 22-11 16-13 11-12 10-16 7-20 4-20 1-16 0-12-2-12-4-16-9-24-32-60-16-36-5-16-6-20-3-16-2-16 0-16 2-20 3-16 7-24 9-24 11-24 37-72 6-16 4-16 1-12 0-12-3-24-9-24-11-20-10-12-9-8-12-9-16-8-12-5-16-5-12-1-16-1-24 3-12 4-16 5-32 15-72 37-24 10-20 6-16 3-12 1-20-1-12-1-12-3-20-8-14-10-9-8-7-8-10-16-7-16-3-16-2-20 2-68-2-28-3-16-4-12-5-12-7-12-9-12-12-12-12-8-12-6-16-6-16-2-16 0z"/>
<path fill="#0700fe" d="M996 162l9-4 559 0 53 17 48 17 40 16 40 19 32 17 28 17 32 21 32 23 26 21 23 20 20 20 18 20 15 20 15 24 13 24 8 20 6 20 4 20 4 24 3 44 3 12 3 8 6 8 5 4 56 33 20 16 16 15 14 16 15 20 14 24 13 25 0 556-14 27-14 23-16 21-16 17-16 14-16 11-20 12-38 18-6 4-7 8-4 8-2 8-4 52-4 28-5 24-7 20-12 28-13 24-17 24-20 24-15 16-16 16-19 16-20 16-51 35-48 27-44 21-48 19-60 20-80 24-24 6-360 0-130 0-22-8-20-10-16-9-16-12-16-13-16-17-12-16-11-19-9-20-8-24-4-20-5-36-3-12-4-9-4-4-8-5-8-1-12 4-60 32-20 8-16 5-16 4-20 3-16 1-20-1-20-3-24-6-20-7-24-11-24-13-20-14-24-19-20-18-24-26-19-24-16-24-15-28-12-28-9-28-6-28-2-28 2-28 5-24 8-24 11-20 11-16 14-15 16-11 21-10 6-4 1-4-8-3-24-1-16-1-16-4-16-6-20-10-16-11-16-13-14-15-14-17-12-19-11-20-8-20-8-24-6-24-4-24-3-24-1-32 0-32 3-32 6-32 8-28 9-24 13-24 14-21 16-17 20-17 20-12 24-10 16-3 16-1 16 2 29 11 7 0 4-4 0-4-3-4-4-4-25-15-12-9-10-12-8-12-10-20-7-20-4-20-3-24 1-24 3-24 7-28 8-24 11-24 12-24 16-24 18-24 21-24 20-20 21-18 24-17 24-14 24-11 24-8 24-6 20-2 24 1 20 3 20 5 20 7 20 11 52 33 12 4 4 0 4-1 4-4 4-5 4-10 4-48 7-28 9-24 12-20 8-12 10-12 22-21 12-9 16-10zM1301 462l-12 3-12 5-12 6-12 9-20 18-41 43-11 10-12 9-8 5-12 5-8 2-12 2-12 0-16-3-16-6-14-8-11-8-13-12-34-38-12-12-16-12-16-8-20-5-12-2-12 0-20 3-12 4-8 3-8 5-12 9-16 17-12 18-8 18-3 16-1 16 5 64 0 16-1 16-3 16-4 12-7 12-6 8-8 8-12 9-12 6-16 5-12 2-16 2-48 0-20 0-20 4-20 6-20 11-10 7-9 8-7 8-5 8-4 8-3 12-1 20 3 20 5 20 8 16 8 12 11 12 52 47 19 21 8 12 6 12 4 12 2 12-1 12-4 12-6 12-7 12-10 12-12 12-42 36-13 12-12 16-9 16-5 12-4 16-2 16 0 12 2 12 3 8 4 8 9 12 12 12 10 9 12 7 16 7 12 3 16 3 68 1 28 3 16 5 12 5 12 8 10 9 9 12 6 12 4 12 2 16 2 28-5 64 2 20 5 20 8 20 13 18 16 16 12 8 8 4 12 4 8 1 12 1 12-1 12-1 12-3 20-8 16-10 16-13 37-40 17-16 14-10 16-8 16-5 16-2 16 3 17 6 13 8 14 11 17 17 39 41 16 14 12 7 16 8 20 4 20 0 20-4 20-8 12-7 8-6 8-8 8-9 8-12 4-8 6-20 3-20 1-24-2-64 1-20 4-16 7-20 9-16 14-16 17-13 12-6 8-3 20-3 20 0 28 4 24 8 28 11 24 12 52 29 28 12 16 5 16 4 16 1 16 0 20-3 20-7 22-11 18-13 10-11 10-16 7-20 4-20 1-16 0-16-2-12-4-16-10-24-32-60-17-36-7-20-5-20-2-16-2-16 1-20 2-16 4-20 5-16 7-20 11-24 41-76 6-16 4-16 1-12 1-12-4-24-4-16-4-12-6-11-6-9-10-12-10-8-12-8-15-8-15-6-16-4-12-1-16 0-24 3-28 9-28 13-76 40-24 10-20 6-16 3-12 1-20 0-12-2-12-3-20-8-14-9-9-8-6-8-11-16-6-16-3-16-2-20 2-68-2-28-3-16-3-12-4-12-7-12-8-12-12-12-12-9-12-7-16-6-16-3-16-1z"/>
<path fill="#0a00fd" d="M1061 162l19-4 393 0 40 9 44 12 44 13 48 16 40 16 32 13 32 16 28 15 36 22 36 25 32 25 28 26 22 24 19 24 17 28 12 24 9 28 3 16 3 16 0 28-3 28-7 24-5 12-5 8-9 11-20 18-6 7-3 8 1 4 2 4 2 2 4 1 4-1 8-5 16-15 12-8 8-3 12-3 16-1 20 2 16 5 20 9 16 9 16 13 16 15 13 16 14 20 11 20 12 24 10 26 0 475-11 27-11 24-12 20-14 19-14 17-14 13-16 12-20 11-16 6-20 5-16 1-16-1-12-4-12-6-23-21-9-7-4-2-4 0-4 1-5 4-2 4-1 4 1 4 3 8 8 9 25 23 6 8 7 12 5 12 4 16 2 16 1 20-1 20-3 20-5 20-6 20-9 20-11 20-13 20-14 19-20 23-24 23-28 22-32 23-32 20-36 19-36 17-36 14-56 18-92 27-60 16-48 10-30 5-126 0-152 0-24-3-40-8-32-8-28-11-28-15-20-14-20-18-16-19-12-20-10-20-6-20-5-20-6-40-5-16-4-10-4-6-4-5-4-1-4-1-8 1-12 4-56 31-16 7-16 6-16 5-16 3-16 2-20 0-20-2-20-3-20-6-24-9-20-10-20-12-20-14-20-16-24-23-22-25-20-28-16-28-15-32-9-28-6-28-1-28 1-24 5-20 9-24 10-17 9-11 12-12 11-8 32-20 11-8 9-8 3-4 1-4-3-4-5-3-16-5-12-2-44-3-24-6-16-7-12-7-12-8-13-11-15-16-12-15-10-17-10-20-8-20-8-24-5-24-4-24-3-32 0-36 3-32 5-32 8-28 9-24 12-24 14-20 15-16 15-12 19-11 16-6 16-4 16-1 16 1 28 5 12 1 16-4 4-1 5-4 1-4-1-4-9-12-9-8-34-28-12-12-8-12-8-16-6-16-5-20-2-20 1-24 3-24 7-24 8-24 11-24 14-25 15-23 19-24 22-23 20-19 20-16 24-16 24-12 20-9 24-7 24-4 20-1 20 1 20 4 16 5 16 6 16 9 48 31 12 7 12 4 4 0 4-1 4-5 3-6 5-16 2-16 5-36 3-16 4-12 6-16 6-12 8-12 10-13 12-13 16-14 16-11 16-10 20-10 20-8 20-7zM1309 458l-16 3-12 4-12 6-12 8-20 17-47 50-21 17-11 7-9 4-12 3-12 1-12-1-16-4-16-7-12-7-12-10-11-11-41-45-16-13-16-9-20-7-24-3-24 1-8 2-12 5-16 10-12 11-8 10-12 18-9 20-4 16-1 16 1 16 5 52 0 16-1 16-3 16-5 12-6 12-6 8-11 10-12 8-12 5-16 4-24 3-52 0-20 1-20 3-19 6-13 6-10 6-20 16-8 8-5 8-4 12-1 20 3 24 6 20 10 20 8 12 10 12 51 45 12 12 9 11 9 12 6 12 4 12 2 12-2 12-3 12-8 16-9 12-20 21-42 35-12 12-11 12-10 16-6 16-4 12-4 16-1 16-1 8 2 8 3 8 6 8 15 16 15 12 14 9 16 7 16 5 16 2 64 0 16 1 16 2 16 5 12 6 12 7 8 8 10 12 5 12 4 12 3 16 1 28-4 52-1 16 2 20 4 18 4 11 5 11 7 11 8 11 16 16 8 5 8 4 16 5 12 1 12-1 24-3 20-7 20-11 16-12 12-12 36-40 16-14 12-8 16-7 8-3 12-2 12 0 8 1 16 5 16 9 15 12 17 16 40 43 16 14 12 8 16 7 20 5 20 0 20-4 20-8 12-7 8-6 8-7 8-9 8-12 4-8 7-20 4-24 0-24-2-64 1-20 4-16 7-20 9-16 13-16 17-13 12-6 8-2 20-4 20 0 27 5 25 7 28 12 25 13 47 27 32 14 16 5 16 4 16 2 16 0 20-3 24-8 24-11 10-6 10-8 10-12 6-12 6-20 4-20 2-16-1-16-1-12-4-16-4-12-8-16-33-60-18-40-7-20-4-16-2-16-2-20 1-16 2-20 5-20 7-20 18-40 38-68 8-20 4-16 2-12 0-12-2-24-8-28-5-12-6-11-8-9-12-10-16-10-16-8-16-5-16-4-12-1-16 0-24 4-28 10-32 15-69 37-23 10-20 6-28 5-24 0-12-1-12-3-20-8-13-9-9-8-7-8-10-16-6-16-3-16-2-20 2-68-1-28-3-16-3-12-4-12-6-12-8-12-10-12-9-8-12-7-12-6-16-5-16-3z"/>
<path fill="#0c00fc" d="M1185 166l72-3 56-1 48 2 44 4 44 7 48 10 56 14 56 17 56 19 44 18 40 18 40 22 40 26 36 27 32 28 26 28 12 16 11 16 9 16 10 20 6 16 5 20 3 20 0 16-2 24-2 12-4 12-6 12-7 12-29 36-8 12-3 12 1 8 2 4 4 4 7 4 9 2 8 0 12-4 24-14 12-6 16-5 16-2 16 2 12 2 16 7 12 6 16 11 16 15 15 18 13 19 12 21 11 24 11 28 10 30 0 387-9 27-9 24-10 24-11 20-10 16-11 15-12 13-12 11-12 10-12 7-12 6-16 5-12 2-12 1-12-1-12-2-20-9-28-17-8-3-8-1-8 1-7 2-6 4-3 4-1 8 2 12 8 12 20 24 12 16 8 16 6 16 3 16 2 20-1 20-3 20-6 24-10 24-12 24-16 24-19 24-19 20-22 20-24 19-40 27-40 22-44 20-48 17-96 29-104 27-60 12-52 7-44 2-56 1-80-3-56-4-40-5-32-7-32-10-28-12-24-14-20-15-20-21-13-20-11-21-8-23-5-20-8-44-6-24-5-11-4-4-4-2-8-1-12 4-16 8-40 23-20 10-28 10-24 6-28 2-16-1-16-2-16-3-16-5-28-11-32-18-32-23-28-25-26-29-22-32-18-32-13-32-8-32-2-16-1-16 1-16 2-12 4-16 4-12 5-12 8-12 13-16 18-16 31-21 26-15 14-13 4-2 4-1 8 3 8 5 39 28 13 7 12 4 16 4 16 2 64-1 28 3 16 4 12 5 12 7 11 9 9 12 6 12 4 12 3 16 1 16 0 16-5 48-1 16 2 24 5 20 9 22 16 24 16 18 8 6 8 3 16 2 28-2 16-3 12-3 20-9 16-10 16-14 41-46 13-12 10-8 12-7 12-6 16-4 12-1 12 1 12 4 12 6 12 8 22 19 50 54 12 10 12 8 16 7 16 4 16 2 20-2 16-5 16-7 16-11 12-12 10-12 8-16 6-16 3-20 1-28-3-68 2-20 4-20 9-20 4-8 9-12 7-8 10-8 6-4 12-6 20-5 20-2 20 2 27 7 22 8 26 12 61 34 28 14 28 9 24 5 16 1 16-2 16-2 16-5 20-8 20-10 11-8 7-8 5-8 4-12 7-36 1-24-2-24-4-16-8-20-40-72-10-20-8-20-7-20-4-20-3-20 0-16 2-20 3-16 4-16 8-20 18-38 35-62 11-24 3-12 3-12 0-24-3-24-6-28-6-16-9-12-8-6-9-6-24-12-27-9-20-4-16 0-16 1-16 4-16 5-36 16-56 31-24 12-24 10-20 6-16 3-12 2-20 0-12-2-12-3-20-8-13-8-8-8-7-8-10-16-7-20-3-16-1-20 2-64 0-24-4-24-6-20-10-20-13-17-16-13-20-11-20-5-20-2-20 3-20 7-16 9-16 13-16 16-37 40-19 17-10 7-10 5-12 4-12 1-12 0-16-3-16-7-12-7-12-9-13-12-35-40-12-12-16-12-20-10-12-4-16-3-20-1-16 0-12 2-8 3-8 6-8 7-12 13-13 19-9 16-7 20-2 12-1 16 1 16 5 48 1 16-1 16-3 16-5 16-7 12-7 9-8 8-12 8-12 5-16 4-24 3-68 0-20 2-16 4-15 5-16 8-43 28-5 4-1 4 0 4 11 52 6 20 8 16 11 16 11 12 53 47 20 21 8 12 7 12 4 12 1 12-1 12-4 12-7 15-10 13-10 12-12 11-49 41-11 12-9 12-7 12-5 12-15 46-4 9-4 5-4 2-8-1-72-8-20-3-16-4-12-4-16-9-12-8-15-13-11-12-12-16-12-20-10-20-7-20-6-20-5-24-4-32-2-36 2-36 4-32 7-28 10-28 12-24 14-20 15-16 15-12 17-9 16-6 12-2 16-1 44 3 40-1 8-1 8-3 3-4-1-4-3-4-6-8-55-48-11-12-9-12-9-16-7-16-3-16-3-20 1-24 3-24 7-24 11-28 14-28 15-24 17-24 21-24 19-18 21-18 23-16 20-11 24-11 20-7 20-4 20-3 20 0 16 2 16 4 16 5 16 7 16 9 56 38 12 5 8-1 4-2 3-3 5-12 11-72 5-20 6-16 8-16 11-16 15-17 16-14 20-14 24-13 24-10 28-9 28-6 32-6 36-4z"/>
<path fill="#0f00fa" d="M1260 182l61 0 48 2 48 5 48 9 60 14 72 21 64 21 52 20 40 19 40 22 36 24 35 27 29 27 24 28 19 29 14 28 8 24 4 24 1 24-4 24-7 20-8 16-35 48-5 12-7 23-4 4-8 0-8-2-52-18-20-5-20-2-24 1-24 6-24 9-28 14-69 38-19 9-20 7-20 5-24 3-20 0-19-4-21-8-12-8-9-8-6-8-6-8-6-12-6-16-3-24 0-24 2-48 1-20-2-20-3-20-4-12-5-12-5-9-8-11-8-10-7-6-17-11-20-8-12-3-12-1-12 0-12 1-20 7-16 9-20 15-16 16-39 43-21 18-12 8-12 4-12 3-12 0-12-2-16-5-12-5-13-9-11-9-11-11-29-35-12-13-12-10-12-8-16-8-12-4-16-4-38-6-12-4-4-4-1-4 4-24 6-60 4-20 6-20 10-20 13-18 16-17 20-15 24-15 28-12 28-9 32-8 32-5 40-4 48-3zM675 366l26-3 24 2 20 4 24 8 16 8 16 10 44 33 22 14 2 4 0 4-6 12-22 34-8 14-7 16-5 16-2 12 0 16 7 60 1 16-1 16-2 16-3 12-5 12-8 12-11 11-12 8-12 6-16 4-12 1-16 1-48-1-20 1-20 2-16 4-20 7-36 17-12 3-8-2-8-4-24-17-20-17-17-16-12-16-9-16-6-16-4-20-2-20 1-20 4-20 5-20 8-20 9-20 11-20 13-20 14-20 17-20 16-16 18-16 18-14 20-13 20-11 16-7 20-7zM2006 682l11-2 12-1 12 2 12 2 12 5 12 6 20 15 10 9 10 12 20 28 16 32 15 36 12 36 9 37 0 286-14 53-10 28-10 24-9 20-12 20-11 16-13 16-13 12-16 12-12 7-16 6-16 3-16 1-16-2-12-4-12-5-20-10-12-5-16-2-28-2-5-3-1-8-1-12 5-44 1-20-1-16-3-16-5-16-9-20-37-65-18-39-7-20-5-20-3-20-1-16 1-16 3-20 6-20 7-20 20-40 37-64 7-16 6-16 3-16 0-16-1-20-5-44 0-12 2-9 4-3 32 0 16-3 12-4 24-11zM427 810l14-2 12 0 48 2 24 3 8 3 4 2 4 4 5 8 17 48 8 16 8 12 18 20 44 37 20 19 15 20 6 12 3 8 3 16-1 12-4 12-8 16-13 16-13 14-16 14-36 28-16 16-9 12-7 12-16 37-6 11-6 6-8 4-12 2-32-1-32-4-20-5-20-8-16-9-12-10-12-11-13-16-10-16-9-16-8-20-7-20-6-24-5-28-2-24-1-28 2-28 3-24 4-24 7-24 7-20 10-19 12-17 10-12 14-12 16-10 16-6zM546 1294l7-1 4 0 8 2 8 4 36 21 13 6 15 4 12 2 16 1 68-1 20 2 16 4 16 7 13 9 11 12 7 12 7 20 2 12 1 16-1 24-6 52 0 16 2 16 3 16 5 14 8 18 17 32 3 8 1 8-2 4-9 8-46 30-28 15-28 11-16 4-20 2-20 1-20-2-20-4-20-6-20-8-22-11-18-11-20-14-20-17-18-18-18-20-15-20-13-20-11-20-9-20-7-20-4-16-3-20-2-20 1-16 3-16 5-16 7-16 7-12 10-12 12-12 15-12 16-11 28-15zM1517 1314l16 1 20 3 17 4 19 7 37 17 51 30 24 12 24 10 24 6 28 3 24-1 24-6 52-17 12-1 4 1 4 6 6 17 5 12 27 36 12 20 7 16 5 16 2 12 0 16-2 28-3 16-5 16-12 28-16 28-21 28-22 24-27 25-31 23-33 20-36 19-36 15-44 16-52 15-132 36-60 14-44 7-44 4-44 2-64-1-60-1-40-3-36-4-28-4-28-7-28-10-24-11-24-16-16-13-16-18-13-20-10-20-6-20-7-28-9-64 0-8 1-4 4-5 8-5 56-15 12-5 16-9 12-9 12-11 40-45 12-12 9-8 12-8 15-7 12-4 12-2 12 1 12 3 12 5 13 8 23 20 40 44 16 16 16 12 16 9 20 6 12 1 12 0 12-2 12-3 20-8 16-11 8-7 8-9 12-18 9-22 3-20 2-20-3-68 0-24 4-24 4-12 5-12 5-8 8-12 11-11 12-9 12-6 8-2 12-3z"/>
<path fill="#1100f9" d="M1157 202l64-2 80-1 48 2 44 4 44 6 48 10 56 14 60 17 56 19 48 18 40 18 40 22 36 23 33 26 29 28 24 28 11 16 9 16 8 16 6 16 4 16 3 16 1 16-1 12-2 12-3 12-4 12-6 12-10 16-34 49-4 4-8 5-12 1-16-2-36-10-16-2-24 0-24 4-20 6-24 11-75 42-21 11-20 8-20 7-20 4-20 2-20-2-16-3-19-7-13-8-8-8-10-12-5-8-5-12-4-12-2-16-2-28 4-56 0-20-2-24-5-20-4-12-5-11-12-18-8-9-8-7-16-10-20-8-12-2-12-2-12 0-12 2-20 7-16 9-20 16-16 16-37 41-12 12-10 8-13 8-12 5-12 2-12 1-12-2-16-5-16-9-12-8-20-20-36-43-12-11-12-9-12-7-12-5-48-15-8-5-4-4-2-5-2-8-2-28 3-32 4-24 7-18 9-18 11-14 16-17 20-15 20-11 24-11 24-9 28-7 28-5 32-4zM682 378l23-3 20 1 24 4 20 7 24 12 21 15 26 24 7 8 2 4 2 8-2 8-4 12-12 23-8 18-5 15-3 16 0 24 8 64 0 20-2 16-2 12-4 10-5 10-5 8-14 13-8 5-12 5-16 4-16 2-80 0-20 2-20 4-48 17-8 2-8-1-8-2-12-6-12-7-16-13-14-13-11-12-10-16-7-16-5-16-2-16 0-16 2-20 3-16 6-20 8-20 10-21 11-19 13-20 16-20 14-16 16-16 18-16 16-12 18-12 18-10 20-9 16-5zM1998 694l15-3 16 0 16 3 16 6 16 9 12 10 15 15 13 17 12 19 12 24 12 28 10 28 9 28 7 32 6 28 4 33 0 144-2 15-7 40-9 40-12 36-14 36-14 28-14 23-16 20-16 15-20 13-20 8-20 4-20-1-16-4-36-15-28-8-8-5-6-6-3-8-2-12 2-40 0-16-2-12-4-16-6-16-7-16-38-64-18-38-7-18-6-20-3-19-1-17 0-16 3-20 5-20 8-20 9-21 12-23 39-64 7-16 5-12 3-12 2-16 0-16-1-40 1-8 3-8 5-7 8-5 32-9zM430 818l11-2 16-2 32 2 28 4 8 3 8 4 7 7 4 8 17 40 7 12 8 12 18 20 47 39 18 17 16 20 6 12 3 8 3 16-1 12-6 16-9 16-10 12-16 16-46 36-18 16-15 20-13 24-8 15-8 10-8 6-12 4-20 1-24-2-24-5-20-7-16-8-12-8-12-11-12-14-9-13-10-16-9-20-7-20-6-24-5-24-3-24-2-28 1-28 3-24 4-24 6-24 6-20 10-20 10-16 10-12 13-12 12-8 12-6zM549 1302l8-1 12 3 40 20 12 5 16 4 12 1 16 1 48-2 20 0 16 2 16 3 16 6 15 10 11 12 8 12 7 20 2 12 1 16-1 24-7 52 0 28 3 16 4 16 16 44 2 8-1 8-3 8-7 8-9 8-17 12-16 10-16 8-26 10-18 4-20 2-16 0-20-2-16-3-20-6-20-8-20-10-20-13-17-12-19-15-17-17-15-16-16-20-13-20-12-20-9-20-8-20-5-20-3-16-1-16 1-16 2-16 5-16 7-16 7-12 9-12 12-12 16-12 16-10 20-10zM1493 1318l16-3 20 0 24 3 27 8 20 8 24 12 57 33 20 11 24 10 24 7 24 3 20 0 20-3 48-11 12 0 8 3 8 7 38 52 10 20 7 20 4 24 0 12-2 16-6 28-10 28-15 28-18 26-22 26-26 24-28 22-32 21-32 17-36 15-40 15-44 13-156 42-56 13-40 6-40 4-44 2-60 0-96-2-32-2-32-5-28-6-28-8-24-10-24-13-20-16-16-16-14-20-10-20-9-28-5-28-2-32 0-12 3-8 5-8 6-4 8-4 38-14 16-8 12-8 12-10 12-11 38-45 18-17 12-9 12-6 12-5 12-2 16 0 12 3 12 5 12 8 12 10 12 11 40 45 16 16 16 12 16 9 20 6 12 1 12 0 12-1 12-3 12-5 12-6 16-11 8-8 8-10 11-19 7-20 4-20 1-20-3-68 0-24 3-20 6-20 11-20 6-8 7-8 15-12 12-5z"/>
<path fill="#1300f7" d="M1130 218l51-2 88-1 56 1 44 3 40 5 44 7 44 10 56 15 68 20 52 18 44 17 40 20 36 20 36 26 29 25 27 29 12 15 11 16 15 28 6 16 4 16 3 16 0 12-1 16-2 12-4 12-5 12-14 24-25 33-7 7-5 3-12 3-12 0-40-8-20-1-20 1-24 5-16 6-20 9-89 50-23 11-20 7-20 6-20 2-20 1-20-3-8-2-12-5-12-7-12-10-9-12-7-12-5-12-3-13-2-15-1-28 4-52 0-20-1-24-4-20-8-21-6-11-6-9-8-10-8-7-8-6-12-7-20-7-12-3-12-1-12 0-12 2-20 6-20 12-16 14-16 16-39 44-21 19-12 8-12 5-12 2-12 0-12-1-12-4-12-6-12-7-12-10-11-10-37-46-20-19-12-8-16-9-40-15-8-5-6-6-6-12-3-20 1-24 2-20 6-20 8-16 10-16 12-13 16-13 20-13 20-10 24-10 24-7 28-7 28-4zM711 386l18 0 16 2 20 6 16 7 16 10 19 15 15 16 7 12 2 8-2 12-18 48-4 16-1 12 0 24 7 48 2 20-1 24-4 20-6 16-5 8-6 8-9 8-7 4-17 7-16 4-16 1-64-1-24 1-24 3-20 5-32 9-12 1-8-2-12-5-16-9-16-13-12-13-9-12-8-16-4-12-4-16-1-16 1-16 3-16 4-16 6-20 8-18 9-18 12-20 14-20 12-16 14-16 17-16 18-16 16-11 16-11 20-11 20-8 16-5 16-4zM1998 702l19-2 16 2 16 5 16 8 14 11 16 16 15 20 14 24 13 28 12 28 10 32 8 32 7 36 5 32 2 36 1 32-1 36-2 32-5 32-7 36-8 32-10 32-11 28-13 28-12 20-14 20-15 16-15 12-16 9-16 6-16 3-20-1-12-2-12-3-40-16-13-8-7-8-3-8-1-8-2-52-2-16-4-12-6-16-8-16-38-64-11-20-9-21-7-19-6-20-3-20 0-16 1-16 3-20 6-20 7-20 10-20 11-20 39-64 8-16 5-12 3-12 3-16 2-48 1-8 3-8 7-8 11-7 40-15zM445 822l24-2 24 2 20 4 8 3 8 5 8 8 4 6 18 38 8 12 9 12 15 16 46 37 20 19 11 12 8 12 5 12 3 8 2 12-3 16-6 16-11 16-10 12-15 14-45 34-14 12-8 8-9 12-15 24-9 13-8 9-8 5-12 4-20 1-20-1-20-5-20-8-16-9-11-9-12-12-10-12-10-16-8-16-8-20-6-20-6-24-4-24-2-24-1-24 2-24 3-28 4-24 6-20 7-20 9-16 7-12 12-14 11-10 13-9 16-7zM545 1310l12-2 12 2 44 19 12 4 12 2 24 2 68-3 16 1 16 3 16 5 12 7 14 12 8 12 4 8 4 12 5 24 0 12-1 16-8 52-1 24 1 16 3 16 11 44 2 8-1 8-2 8-5 8-8 8-14 12-13 8-15 8-12 5-16 5-16 3-16 2-16 0-20-3-18-4-18-6-20-8-18-10-18-11-18-13-18-15-16-15-16-18-13-16-11-17-12-19-9-20-7-16-5-16-4-16-2-16 0-16 1-16 4-16 6-16 6-12 9-12 11-12 14-12 12-8 16-8zM1495 1318l18-3 16 0 24 4 25 7 20 8 24 12 59 35 20 11 24 10 24 7 24 4 20 1 20-2 32-6 12-2 12 2 8 3 12 11 16 20 10 14 11 20 4 12 3 12 3 24-2 24-7 28-11 28-15 27-18 25-21 24-25 23-27 21-29 18-32 17-36 15-36 13-44 12-160 43-56 12-40 7-40 4-40 1-68 1-56 0-36-2-32-2-28-4-28-7-28-9-24-10-20-12-17-13-16-16-13-20-10-20-7-24-4-28 0-24 1-8 3-8 7-8 4-4 8-5 40-19 12-7 12-10 20-20 36-43 20-19 12-8 11-5 9-3 12-3 12 0 12 2 12 5 16 10 12 9 12 12 40 45 12 12 20 17 16 9 20 6 12 2 12 0 12-2 12-2 12-5 12-6 16-11 8-8 8-9 12-20 5-12 3-12 4-20 1-20-4-64-1-24 4-24 6-20 10-20 6-8 8-8 14-11 12-6z"/>
<path fill="#1500f5" d="M1144 230l53-1 104 2 48 2 40 4 44 7 44 9 56 14 60 17 52 16 48 18 40 17 36 19 32 20 31 24 26 24 24 28 19 28 8 15 6 13 5 16 3 12 1 12 1 12-1 12-2 12-4 12-5 12-7 12-9 13-12 16-7 7-5 4-8 4-12 3-12-1-36-4-16-1-20 2-24 6-20 8-20 9-72 42-24 13-28 11-28 8-16 2-16 0-16-1-16-4-13-5-13-8-13-12-8-12-6-12-4-12-4-24-1-28 4-52 1-20-1-24-4-20-8-24-6-11-6-9-14-15-8-7-12-7-12-6-12-3-12-3-12-1-12 0-12 2-8 2-12 5-16 9-20 17-16 17-37 42-11 12-12 10-12 7-12 5-12 3-12 0-12-2-12-4-12-5-12-8-12-10-8-8-11-12-25-33-20-20-12-9-12-8-44-21-10-9-6-12-3-8-1-12-1-20 3-20 6-17 8-15 12-16 12-12 16-11 20-12 24-11 24-8 24-7 28-5 28-4zM698 398l19-2 20 0 20 4 16 6 16 8 17 12 15 16 7 12 3 12-1 12-13 44-4 16-1 12 1 24 8 44 2 20 0 20-3 20-6 20-10 16-8 8-7 5-16 8-16 4-16 2-20 0-60-2-20 1-20 2-40 10-12 1-8 0-12-4-12-5-12-8-12-10-11-12-8-12-5-12-4-12-2-12-1-16 1-16 2-16 5-16 7-20 8-17 10-19 12-20 11-16 13-16 14-16 16-16 14-12 18-13 16-11 20-11 16-7 16-6zM1992 710l17-2 16 1 16 5 16 8 15 12 15 16 14 19 12 20 12 25 12 28 10 28 8 32 7 32 5 32 4 32 1 36 0 36-3 32-4 32-6 32-7 32-10 32-11 28-12 28-11 20-14 20-13 16-16 14-16 10-16 7-16 3-16 1-12-2-12-2-24-9-18-10-6-5-5-7-4-8-1-8-4-48-3-16-4-12-4-12-8-16-39-64-12-22-9-18-8-20-6-20-3-16-1-20 0-20 4-20 6-20 8-20 9-19 12-22 42-67 11-24 4-12 2-12 4-48 5-14 8-9 12-8 24-10zM456 826l21-1 20 3 19 6 12 8 9 11 21 37 15 20 16 16 48 38 19 18 10 12 7 10 5 10 5 12 1 12-2 16-7 16-10 16-12 13-16 15-44 32-14 12-15 16-15 20-12 17-8 7-8 5-12 3-16 1-20-1-20-6-16-7-12-7-14-12-11-12-8-12-9-16-9-20-7-20-6-20-5-24-3-20-1-24 0-24 2-28 3-24 6-24 6-20 6-16 9-16 9-12 12-12 10-8 14-8 12-5zM539 1318l14-3 12 0 12 3 36 15 12 3 16 2 24 1 60-3 16 0 16 2 16 5 14 7 10 8 10 12 7 12 4 12 3 12 2 16 0 12-1 16-8 44-2 24 2 32 7 44 1 8-1 8-3 8-5 8-12 12-20 14-12 6-12 5-16 5-16 2-16 0-16-1-16-3-16-4-16-6-20-9-17-9-19-12-16-12-16-13-15-15-15-16-14-18-12-18-10-16-9-20-7-16-5-16-3-16-2-16 0-16 2-16 4-16 5-12 7-12 9-12 9-10 12-9 12-7zM1496 1318l21-2 24 1 22 5 22 7 35 17 77 45 24 11 24 8 24 5 20 2 20-1 36-4 12 0 12 3 8 4 8 7 8 9 9 11 8 12 9 20 5 20 1 24-4 27-7 25-13 28-16 26-20 26-20 21-24 21-28 20-28 17-32 15-32 13-36 12-40 11-164 43-56 12-36 6-36 3-36 1-84 2-44 0-32 0-28-3-28-3-28-7-28-8-24-10-20-11-16-12-16-16-13-19-10-20-6-20-3-24 1-20 2-8 3-8 6-8 8-7 40-23 12-8 12-11 16-16 34-43 12-12 9-8 11-8 10-5 12-5 12-2 12-1 12 2 16 7 12 8 12 10 12 12 40 46 16 16 16 13 20 11 20 6 12 1 12-1 12-1 12-4 12-5 12-6 16-13 8-8 8-10 10-19 5-12 3-12 3-20 1-20-4-64-1-24 3-23 6-21 10-19 7-9 7-8 14-11 12-6z"/>
<path fill="#1700f3" d="M1135 242l50-1 96 3 56 3 44 4 44 6 44 9 56 14 56 15 52 16 48 17 40 17 36 18 32 20 31 23 26 24 23 26 20 28 14 26 8 24 2 12 1 12 0 12-2 12-6 20-6 12-7 11-8 10-8 9-12 9-12 4-16 1-32-3-16 0-24 4-20 5-20 9-16 7-70 42-30 16-32 13-28 7-16 1-16 0-16-1-14-4-11-4-13-8-12-12-8-12-6-12-4-12-5-24 0-28 4-52 1-24-1-24-4-20-8-24-11-19-8-9-8-8-16-11-12-6-12-4-12-3-12-2-12 0-12 2-20 6-20 11-20 17-16 17-38 45-12 12-10 8-12 8-12 5-12 3-12 0-12-2-16-6-12-6-12-9-18-17-34-44-20-21-12-9-12-8-36-20-12-10-6-12-4-12-1-16 1-20 5-16 8-16 9-12 12-12 16-12 20-12 20-9 24-9 28-7 24-5 28-4zM709 406l20-2 16 1 16 4 16 6 16 10 11 9 11 12 6 12 2 8 0 12-2 12-9 36-3 24 2 24 8 44 3 20 0 24-2 12-3 12-7 16-5 8-6 8-14 11-16 6-16 3-16 2-80-3-24 1-20 2-36 6-12 0-8-1-12-4-12-6-12-9-8-8-6-8-7-12-5-12-3-12-1-12 0-16 3-16 3-14 6-18 7-16 10-20 11-20 23-32 13-16 14-15 16-14 16-13 16-12 17-10 15-8 16-7 16-5zM1983 718l18-3 16 1 16 4 12 6 16 12 12 12 16 20 12 20 13 24 12 28 10 28 9 32 7 32 6 32 3 32 2 32 0 32-2 32-4 32-6 32-7 32-9 28-10 28-12 28-12 24-12 18-14 18-13 12-13 10-16 8-16 5-16 2-12-1-12-2-20-7-8-4-10-7-6-6-4-6-3-8-2-8-5-44-3-16-4-12-14-28-41-66-20-39-8-20-6-19-3-16-2-20 1-20 4-20 6-20 8-20 12-24 12-21 41-63 12-24 6-24 5-40 2-8 3-8 7-9 12-9 16-8zM466 830l15 0 16 3 16 6 12 9 12 14 23 36 13 16 17 16 47 36 21 20 7 8 8 12 6 12 3 8 1 12-2 16-7 16-11 16-10 12-16 14-47 34-15 12-12 12-14 17-12 15-8 8-12 7-12 3-16 1-16-2-16-5-16-7-13-9-11-11-11-13-7-12-8-16-8-20-7-20-5-20-4-20-3-24-1-20 0-24 2-24 4-24 5-24 6-20 7-16 6-12 8-12 12-12 12-10 12-6 16-6zM1498 1318l19-2 24 2 19 4 24 8 18 8 23 12 56 34 20 11 20 9 24 9 20 5 24 2 20 1 32-3 12 0 12 3 12 7 8 8 8 9 12 17 3 8 4 12 3 20-1 24-5 23-9 25-12 24-15 24-19 24-21 22-24 20-24 17-28 17-32 15-32 12-32 10-44 13-160 41-52 12-36 5-36 4-124 4-40 1-32 0-28-2-28-4-28-6-24-7-24-10-20-10-16-12-16-15-12-17-9-18-6-20-2-20 1-16 2-8 4-8 5-8 9-8 36-24 20-17 16-17 33-42 19-20 12-9 13-7 15-6 12-2 12 1 12 3 12 6 12 8 12 10 12 12 40 46 16 17 20 16 16 8 8 3 12 3 12 2 12-1 12-1 12-4 12-4 12-7 16-12 8-8 8-11 7-11 5-11 7-21 3-20 1-20 0-20-5-52 0-24 3-20 6-20 5-12 8-12 12-13 8-7 8-4 8-4zM544 1322l13-2 12 1 44 15 24 4 24 1 64-4 16 0 16 3 16 4 12 6 11 8 10 12 6 12 5 12 3 16 2 16-2 24-8 44-3 24 1 28 4 40-1 16-2 8-4 8-10 12-9 8-11 7-19 9-13 4-16 2-12 1-16-1-16-3-16-4-18-7-18-8-20-11-16-10-16-12-16-14-14-13-14-16-13-16-11-16-10-16-10-19-7-17-6-16-4-16-2-16 0-16 2-12 3-16 5-12 6-12 9-12 10-10 12-8 12-7z"/>
<path fill="#1900f0" d="M1112 254l37-2 44 1 116 5 56 5 40 5 44 8 48 11 52 13 56 16 48 17 44 17 36 16 35 20 29 20 28 23 24 24 20 25 18 28 11 24 4 12 2 12 1 20-4 20-9 20-7 10-8 10-12 10-8 4-8 2-12 2-32-1-20 1-20 4-24 7-20 9-16 9-68 41-22 12-27 12-25 8-18 3-20 2-20-1-16-4-12-4-13-8-13-12-8-12-6-12-4-12-2-12-2-16 0-28 5-48 1-24-1-24-5-24-8-24-7-12-5-8-8-10-7-6-17-12-12-6-12-4-12-2-12-2-12 0-12 2-8 2-12 4-20 12-20 17-16 18-40 47-20 19-12 8-12 5-12 2-12 1-12-3-13-4-15-8-12-8-9-8-11-12-32-43-16-18-20-16-36-23-12-10-7-10-5-12-2-16 1-16 3-12 6-14 8-11 12-13 16-12 16-9 20-10 20-7 20-7 24-6 24-4zM717 414l16-1 16 1 16 3 12 5 13 8 11 10 8 10 6 12 1 8 1 12-9 48-1 20 2 20 9 44 3 24-1 24-1 12-3 12-7 16-5 8-7 8-8 7-8 5-16 5-16 3-16 0-76-3-40 1-36 5-12 0-8-1-12-4-8-3-11-7-9-8-7-8-7-12-3-8-3-12-1-12 0-16 2-12 4-16 6-16 8-20 20-36 22-32 13-16 14-14 16-15 16-13 16-11 17-11 15-8 18-8 14-5zM1991 722l14-1 16 3 14 6 14 10 15 14 13 17 15 23 13 24 11 24 10 28 9 28 7 28 5 28 4 32 2 32 1 32-1 32-3 32-5 32-6 28-8 28-11 32-12 28-12 24-12 20-11 16-15 16-13 10-16 9-13 5-15 3-16 0-16-3-16-8-10-8-9-12-5-16-7-44-7-24-12-24-42-66-12-21-10-21-10-24-5-16-4-20-1-20 2-20 4-20 6-20 9-20 9-18 12-20 44-66 12-24 6-20 8-44 5-12 5-8 4-4 11-8 17-8zM452 838l17-4 16 1 12 3 8 3 14 9 10 10 27 38 18 20 18 16 41 30 12 10 12 12 12 16 7 12 3 8 2 8 1 8 0 8-2 8-7 16-11 16-11 12-14 13-16 12-40 27-10 8-13 12-25 28-8 7-8 5-12 3-12 2-12-1-16-4-12-5-12-7-10-8-11-12-8-12-9-16-7-16-7-20-7-24-4-20-3-24-2-20 0-20 2-24 3-24 4-24 6-20 5-16 8-16 8-12 11-12 9-8 12-8zM1500 1318l17-1 24 1 17 4 24 8 19 8 22 12 54 33 24 14 24 11 20 7 20 5 24 4 16 1 32-1 12 1 12 2 12 7 14 12 11 16 6 16 2 20-1 20-6 24-10 27-13 25-16 24-19 23-21 21-23 19-24 16-28 16-28 13-32 12-40 13-48 13-144 36-56 12-32 5-36 4-132 7-32 1-28 0-28-2-24-4-28-6-28-8-24-9-16-9-16-11-15-14-12-16-9-16-5-20-2-16 3-16 4-12 6-8 8-8 34-26 20-19 12-14 31-41 11-12 10-10 13-10 15-8 12-4 12-2 12 0 12 3 12 6 13 9 14 12 11 12 38 45 16 16 20 17 16 9 8 3 12 3 12 2 12 0 12-2 12-3 12-5 12-6 16-12 8-9 8-10 12-21 6-15 3-12 3-20 1-20-1-20-5-52 0-24 3-20 5-20 9-17 8-11 8-9 9-7 7-4 8-4zM550 1326l11 0 8 0 44 13 20 4 24 0 64-5 16 0 16 2 16 4 14 6 11 8 11 13 6 11 6 16 3 16 1 16-2 24-9 40-3 20-1 24 1 44-1 16-3 8-4 8-10 12-16 12-8 5-12 4-12 3-16 2-12-1-16-2-16-4-16-5-32-15-32-20-16-12-16-14-13-13-14-16-13-16-11-16-17-32-7-16-5-16-4-15-2-13 0-16 1-12 3-12 4-12 7-12 8-12 9-8 11-8 11-5z"/>
<path fill="#1b00ee" d="M1133 262l36 0 44 2 108 8 60 6 44 7 48 10 56 13 48 13 48 15 44 16 41 18 35 18 29 18 27 20 26 24 22 24 18 24 14 22 10 22 4 20 1 12 0 8-4 16-6 12-5 8-12 14-12 8-12 4-12 2-28 0-16 1-20 4-20 7-16 6-24 13-74 45-30 16-19 8-13 5-16 4-16 2-20 1-16-1-16-3-12-4-13-8-8-8-7-8-7-12-5-12-4-12-3-24 0-28 5-52 1-24-1-24-3-20-8-24-11-20-8-11-8-8-16-11-12-7-12-4-12-3-12-2-12 0-12 1-12 3-12 4-20 12-16 14-20 22-38 46-11 12-11 9-12 8-12 6-12 2-12 0-12-2-16-6-16-9-10-8-9-8-10-12-27-38-16-18-20-19-36-25-13-12-7-12-3-12-1-16 1-12 5-12 6-11 8-9 12-11 16-10 20-10 20-9 24-8 24-7 24-4 24-3zM720 422l13-1 16 0 12 2 12 4 12 7 9 8 7 8 6 12 3 12 0 12-5 44-1 24 3 20 10 44 3 24-1 24-4 20-7 16-5 8-7 8-7 6-8 4-16 6-16 3-16 0-76-4-40 0-36 2-20-1-12-4-8-3-8-5-8-7-7-9-4-8-3-8-3-12 0-12 0-12 2-12 5-16 6-17 9-19 20-36 23-32 24-27 16-15 16-13 32-21 16-9 16-7 12-4zM1979 730l14-3 16 1 16 5 12 8 14 13 14 16 14 20 12 20 12 24 10 24 9 28 8 28 6 28 5 32 3 28 1 32 0 32-2 28-4 32-5 28-6 28-9 28-10 28-11 24-12 24-12 20-13 16-11 12-16 12-13 7-16 5-16 2-16-1-12-5-11-8-10-12-4-12-9-44-7-24-14-28-45-69-20-36-10-23-6-20-4-20-1-16 0-16 4-20 5-19 7-17 9-20 12-21 16-25 35-50 11-20 7-20 9-40 5-16 6-8 8-8 11-7zM456 842l13-3 8 0 8 1 16 5 14 9 10 10 30 38 15 16 20 16 43 31 20 19 15 18 5 8 5 12 2 8 1 8-1 8-1 8-7 16-11 16-12 13-16 13-16 12-34 22-21 16-29 29-8 7-8 5-8 3-12 2-12 0-13-2-11-4-12-7-11-9-7-8-9-12-9-16-7-16-7-20-7-24-4-20-3-20-2-20 0-20 1-24 3-24 4-24 5-20 5-16 8-16 7-12 10-12 9-8 10-7zM1503 1318l22-1 16 2 28 7 16 6 14 6 22 12 76 47 24 11 20 8 24 7 24 5 60 3 12 4 12 7 12 11 8 13 5 16 0 16-3 20-7 24-11 24-13 24-17 24-18 21-20 19-24 20-25 16-27 15-30 13-34 12-40 13-52 13-128 32-52 11-32 5-36 4-144 10-28 1-28 0-24-2-24-4-24-5-28-9-24-9-16-9-16-11-12-12-12-16-8-16-4-16 0-12 3-16 6-12 10-12 33-29 16-16 12-14 33-45 19-20 12-10 12-7 16-6 12-2 12 0 12 4 12 5 12 9 13 11 12 12 39 47 16 17 16 14 20 12 8 4 12 3 12 2 12 0 12-2 12-3 12-4 12-7 16-12 8-8 9-11 7-11 6-13 8-24 3-20 1-24-1-20-5-52 0-24 2-20 6-20 8-16 8-12 8-9 12-9 12-6zM537 1334l12-3 16 0 12 2 36 10 24 2 20 0 60-5 16-1 16 2 16 3 16 6 12 8 8 9 8 13 6 14 3 16 2 20-3 24-9 40-3 16-2 20-2 53-4 17-8 14-12 12-12 8-12 5-12 3-12 1-12 0-12-2-16-4-16-5-15-6-33-18-32-23-28-25-24-28-20-30-9-16-7-16-10-28-3-16-1-12 1-16 2-12 4-12 6-12 6-8 7-8 11-8z"/>
<path fill="#1c00ec" d="M1094 274l39-3 44 0 52 4 104 10 52 7 48 7 56 12 52 12 44 12 44 15 41 16 39 18 32 17 28 18 25 19 26 24 21 23 20 26 14 23 9 20 3 16 0 16-5 16-4 8-5 8-12 11-8 5-8 3-12 2-28 2-20 3-20 5-20 7-16 8-20 11-62 39-28 16-25 12-25 9-20 4-20 2-20 0-18-3-14-5-12-7-13-12-7-11-6-13-4-12-3-12-2-16 1-28 5-52 2-24-2-28-4-24-5-16-5-12-7-12-6-8-8-9-8-7-12-8-12-5-12-5-12-3-12-1-12 0-12 1-12 3-12 4-8 5-16 11-16 15-16 18-36 45-15 16-17 14-16 8-11 2-9 0-12-1-10-3-10-4-12-7-12-9-8-7-14-17-26-37-16-19-20-19-32-25-12-12-5-8-5-12-1-12 0-8 2-8 3-8 8-12 6-7 8-7 16-10 28-14 32-12 32-9zM722 430l15-2 12 0 12 2 12 4 8 5 8 7 7 8 5 12 2 8 1 12-3 48 1 20 3 20 11 44 3 24-1 24-5 20-4 11-4 8-11 13-5 4-8 5-16 6-16 2-20 1-72-5-36-1-40 0-16-1-12-3-8-3-13-9-7-8-4-7-3-9-2-8-1-12 1-12 6-24 6-16 9-20 20-36 20-29 24-28 28-25 32-23 16-9 16-8 16-7zM1983 734l14-1 12 2 12 4 14 11 15 16 15 19 13 21 13 24 11 24 9 24 9 28 6 28 5 28 4 28 2 28 1 32-2 32-2 28-5 28-5 28-8 28-10 28-11 28-12 24-12 20-11 16-14 16-13 12-13 8-15 6-16 4-12-1-12-3-8-5-8-9-4-8-4-12-10-44-4-12-7-16-17-28-42-63-12-21-12-25-7-19-5-16-3-20-1-16 1-16 3-18 5-18 7-17 12-24 12-20 16-24 31-43 12-20 6-12 4-12 11-40 4-12 8-11 8-7 10-6zM460 846l13-3 12 1 14 6 12 8 14 14 30 34 16 16 15 12 43 30 20 17 8 9 10 12 6 11 4 9 2 8 1 8-1 8-1 8-7 16-12 16-14 15-16 13-50 32-14 10-36 32-12 8-8 4-12 3-8 0-12-2-12-4-12-7-9-8-7-8-8-12-6-12-13-32-8-24-4-20-4-20-2-20 0-20 0-20 6-44 5-24 5-16 6-16 6-12 8-12 12-12 11-8zM1506 1318l19 0 20 2 22 6 21 8 32 16 57 36 24 14 24 12 20 8 24 7 20 5 60 6 12 4 12 7 8 9 7 12 3 12-1 16-5 20-8 22-11 22-13 22-16 22-20 23-20 19-24 18-25 16-27 14-32 14-36 13-44 14-60 15-100 24-56 11-32 6-32 3-152 14-28 1-24-1-24-2-20-4-24-5-24-8-24-9-16-8-16-11-12-12-10-13-7-12-5-16 0-12 3-12 6-12 9-12 32-32 16-18 40-54 18-20 14-12 12-7 12-6 16-3 12 0 12 4 12 6 14 10 13 12 12 12 37 46 16 17 16 14 20 13 12 5 12 4 12 1 12-1 12-2 12-3 12-5 12-7 16-13 8-9 8-11 7-13 5-11 8-25 3-20 0-24-6-72 0-24 3-24 5-16 7-16 8-11 8-9 12-9 12-6 12-4zM540 1338l13-2 12 0 44 10 24 2 20-1 64-6 16 0 16 1 16 3 12 4 12 7 10 10 10 16 6 16 2 12 2 12-1 20-3 16-11 48-7 62-3 18-5 12-4 8-6 8-6 6-9 6-11 5-8 2-12 2-12-1-16-2-28-9-32-15-16-10-18-12-29-24-25-27-22-29-18-32-12-28-4-16-1-12-1-16 1-12 3-12 5-12 5-8 8-9 8-6z"/>
<path fill="#1e00e9" d="M1093 282l32-3 32-1 36 2 40 4 136 18 56 8 68 13 56 13 40 12 36 12 40 17 35 17 29 16 31 20 25 19 24 22 20 20 20 25 16 23 10 19 4 16 0 12-1 8-3 8-8 12-10 9-12 6-12 3-28 3-20 4-16 5-20 8-16 7-20 12-88 55-33 16-23 8-20 5-16 2-20 0-21-3-15-5-12-7-12-12-8-12-6-12-4-12-2-12-2-16 1-28 6-56 1-24-1-28-5-25-5-15-5-12-6-11-8-11-8-9-8-6-12-8-12-6-12-4-12-3-12-1-12 0-12 1-12 3-12 5-8 5-16 12-16 15-16 19-34 43-18 19-16 13-16 8-12 3-8 0-8-1-12-3-12-5-11-6-11-8-9-8-14-16-27-41-12-15-20-20-36-32-8-9-5-7-3-9-2-11 1-8 3-12 8-12 14-12 16-10 28-13 28-11 28-8zM723 438l14-2 12-1 12 2 8 3 8 4 7 6 6 8 4 8 3 12 2 12-1 48 1 16 4 20 11 40 4 24-1 24-1 12-4 12-7 17-5 7-7 8-12 8-16 6-16 2-20 1-100-8-48-3-16-1-16-5-12-7-5-5-5-8-3-8-1-8 0-20 5-20 5-14 8-18 22-40 19-28 24-28 27-25 31-23 17-10 16-9 13-5zM1975 742l14-3 12 0 12 4 10 7 13 12 17 21 15 23 14 24 10 20 9 24 8 24 8 28 5 28 4 28 3 28 1 28 0 28-2 28-4 28-5 28-6 28-8 24-9 24-10 24-13 24-12 20-11 16-13 14-12 10-16 10-16 6-12 1-8-1-8-3-7-5-5-8-7-16-11-44-12-28-14-24-44-63-20-35-12-27-6-19-4-20-2-20 2-20 4-20 9-24 9-19 12-22 12-18 42-57 13-20 11-24 10-36 7-16 5-7 5-5 5-4zM464 850l9-2 12 1 11 5 11 8 14 13 34 35 13 12 15 12 42 28 20 17 11 11 9 11 8 13 3 8 2 8 1 8-1 8-2 8-7 16-11 16-13 13-16 14-16 10-44 27-44 34-12 8-8 3-8 2-8 0-8-1-12-4-8-5-7-5-8-8-6-8-7-12-7-16-6-16-12-40-4-20-3-20-1-16 0-20 1-20 3-24 5-24 5-20 5-16 7-16 8-12 11-12 10-8zM1512 1318l17 0 22 4 18 5 18 7 16 8 21 12 73 46 24 12 24 11 20 6 24 7 60 9 12 5 8 4 8 8 4 8 3 12-2 12-6 20-10 24-11 20-14 22-20 25-20 21-20 17-24 18-28 17-28 14-33 14-35 12-44 14-52 13-72 16-68 14-76 11-112 13-41 3-23 1-24-1-20-2-20-4-24-6-28-9-20-7-16-9-15-11-12-12-8-12-6-12-3-12 0-8 4-12 7-12 13-16 36-41 39-55 17-21 13-11 15-10 14-6 14-3 12 1 12 3 12 6 13 9 13 12 11 12 39 48 16 18 20 18 20 12 12 5 8 2 12 2 12-1 12-2 12-3 12-5 12-7 16-13 8-9 8-11 12-22 4-12 5-16 3-20 1-24-2-24-5-52 0-24 2-22 5-18 7-15 8-12 8-9 11-8 17-8 12-3zM543 1342l10-1 12 0 44 8 20 2 24-2 60-7 16 0 16 0 16 3 15 5 13 8 8 7 9 13 4 8 4 12 3 20 0 20-3 20-12 48-8 52-4 16-5 16-4 8-5 8-7 7-8 6-8 4-12 3-12 1-12-1-24-7-16-6-16-7-16-9-20-13-28-22-16-15-12-13-22-28-20-32-12-28-5-16-3-12-1-16 1-12 3-12 5-12 4-8 8-8 6-4z"/>
<path fill="#1f00e7" d="M1127 286l42 0 48 5 128 20 96 14 44 7 36 7 32 8 32 10 36 13 36 16 32 16 33 20 30 20 30 24 27 24 24 26 14 18 12 16 6 12 5 12 1 8-2 12-5 12-7 8-8 5-8 4-52 10-20 7-20 9-36 20-76 49-21 12-19 9-17 7-19 6-16 3-16 1-20 0-14-2-6-1-16-7-12-8-8-8-7-12-4-8-7-20-2-12-1-16 1-24 6-56 2-24-1-28-4-24-5-16-4-12-6-12-8-12-8-9-8-7-8-6-12-7-12-5-12-4-16-2-12-1-12 1-12 3-8 3-12 6-16 11-20 20-16 19-36 46-16 18-16 13-8 5-8 3-12 3-8 0-12-2-12-4-12-5-12-8-12-10-8-9-12-16-24-36-12-16-20-22-31-30-9-10-5-10-2-8-1-8 2-8 2-6 4-6 12-11 20-12 32-15 28-11 28-7 28-5zM723 446l10-2 12-1 12 0 8 2 8 4 6 5 6 8 3 8 4 12 2 12 1 44 2 16 3 16 13 44 3 20 1 24-4 24-8 19-9 13-7 6-8 5-16 6-20 2-20 0-88-8-72-8-12-3-12-7-5-5-3-6-2-6-1-8 1-16 4-20 6-15 8-17 20-36 20-29 24-29 28-26 27-20 29-17 15-7zM1980 746l9-2 12 2 10 4 10 8 18 20 17 24 15 24 12 24 9 20 9 24 6 24 7 28 4 24 3 28 1 28 1 28-1 28-3 24-4 28-5 24-6 24-8 24-9 24-12 24-10 20-13 20-12 16-12 12-15 12-15 8-13 4-8 1-4-1-8-4-4-5-4-7-4-11-12-41-6-16-8-16-16-24-42-59-12-19-12-22-9-20-8-24-4-20-2-20 3-24 4-18 8-22 12-25 12-20 12-18 41-53 13-20 11-20 13-40 8-16 6-7 4-3zM469 854l8-1 4 0 8 3 8 5 16 13 51 48 16 12 37 24 16 12 16 14 12 14 8 12 6 12 2 8 1 8-1 8-2 8-7 16-11 16-16 16-16 12-16 10-36 20-15 10-33 24-12 7-14 5-14 0-8-2-8-3-8-6-8-8-12-18-11-27-8-24-6-20-6-36-2-16 0-20 3-40 9-44 4-16 7-16 9-16 9-11 11-9zM1490 1322l19-3 20 0 19 3 27 8 19 8 15 8 20 12 64 41 16 9 24 12 20 8 24 9 28 7 44 9 8 3 8 4 6 6 3 4 2 8-1 8-5 16-8 20-9 18-11 18-17 22-20 23-24 22-27 21-31 20-30 16-32 15-32 12-36 12-40 11-40 9-52 10-60 11-77 12-99 15-48 5-24 1-24 0-20-2-20-3-24-5-24-7-24-9-16-8-16-11-12-11-10-13-5-12-2-8 1-11 4-9 7-12 12-16 33-42 36-54 16-19 15-13 12-8 17-7 12-3 12 1 12 3 12 6 16 12 12 12 11 12 37 47 16 18 20 19 20 13 12 5 8 2 12 2 12 0 12-2 12-3 12-5 12-7 12-10 8-7 8-10 7-10 6-12 5-12 5-12 4-16 2-20 1-24-1-24-6-48-1-24 2-20 4-20 9-20 7-10 8-9 12-10zM550 1346l15 0 40 6 24 1 20-1 60-8 20-1 16 0 16 3 13 4 14 8 8 8 6 8 5 8 6 17 4 23-1 20-3 16-13 48-8 40-5 20-8 20-10 16-8 8-7 4-9 3-8 1-8 0-12-1-12-3-16-5-16-7-14-8-34-22-28-23-26-27-22-29-18-31-8-16-4-12-3-12-2-12 0-12 1-12 3-12 3-8 5-8 7-6 8-4z"/>
<path fill="#2000e4" d="M1109 294l24-2 28 1 28 2 32 4 36 6 96 20 112 14 36 6 40 9 36 10 32 12 28 12 27 14 27 16 33 24 57 44 24 21 20 19 23 28 7 12 3 8 2 12-1 8-4 8-6 6-8 5-8 3-32 8-16 5-32 14-36 21-82 54-21 12-16 8-20 8-17 5-16 3-16 2-16 0-12-1-12-3-12-4-15-10-8-8-10-16-7-20-3-16-1-12 0-28 7-60 2-24-1-28-4-26-8-26-6-12-8-12-10-12-8-8-8-5-12-7-12-5-16-4-12-2-12 0-12 2-12 3-12 5-8 4-16 12-20 20-16 20-34 45-18 20-16 14-8 5-8 3-8 2-12 1-8-1-12-3-12-6-12-7-11-8-8-8-13-16-24-38-12-17-16-19-41-46-5-8-2-6-1-6 1-8 4-10 10-10 18-11 26-13 26-11 24-7 28-7zM724 454l9-2 12-2 8 1 8 1 8 4 4 3 5 7 4 8 4 12 3 12 3 40 2 16 4 16 12 40 5 20 1 16 0 12-2 12-3 12-6 16-4 8-7 8-5 5-8 5-16 6-16 2-24 0-84-9-72-12-16-5-7-4-6-8-3-12 1-16 4-16 12-28 20-36 22-32 24-28 25-24 25-20 31-19zM1978 754l11-3 8 1 5 2 7 4 9 8 19 23 16 22 14 23 12 24 9 20 8 24 6 24 5 24 4 24 3 28 2 28 0 28-2 28-2 24-4 28-6 24-6 24-9 24-10 24-12 24-12 21-14 19-13 16-13 11-16 10-8 3-8 2-8-1-4-2-3-3-5-12-13-40-13-28-15-24-51-70-12-18-13-24-10-24-5-16-5-20-1-20 2-20 4-20 8-22 12-25 12-20 16-23 43-54 11-16 11-20 19-46 8-11zM466 862l7-3 4 0 8 2 8 4 12 10 60 51 64 42 16 14 12 12 9 12 6 12 3 8 1 8 0 12-5 16-10 17-16 18-16 13-20 13-29 15-21 12-30 19-16 9-12 5-12 1-8-2-8-3-11-9-12-16-10-20-13-40-8-36-3-20-1-16 2-36 7-44 4-20 5-16 8-16 8-12 8-9zM1491 1322l18-3 20 1 16 2 28 8 19 8 22 12 75 49 40 22 24 11 32 12 28 8 32 9 12 5 5 4 3 4 1 4-1 8-4 12-7 16-8 16-9 14-20 26-20 21-27 23-31 24-29 20-27 16-33 16-33 13-28 10-28 8-32 8-32 6-44 8-100 14-128 24-52 6-32 1-32-2-28-4-32-9-28-10-20-10-10-7-9-8-7-8-6-8-5-12 0-8 1-8 4-8 14-24 34-48 29-44 11-16 11-12 9-8 12-9 12-6 12-4 12-2 12 2 9 3 11 6 12 8 11 10 18 20 35 46 16 18 20 20 16 12 12 6 8 3 12 3 12 1 20-3 12-4 12-6 12-7 8-7 12-13 8-10 8-14 6-13 9-28 4-24 1-24-2-24-6-54-1-26 1-16 3-12 3-12 6-12 4-7 12-16 12-9 12-6zM703 1346l30-2 24 2 12 3 8 3 8 5 6 5 7 8 5 8 6 12 4 12 2 12 1 12-1 12-1 12-5 18-11 34-9 41-6 19-6 14-6 10-6 9-8 7-8 5-8 2-12 1-12-1-12-3-16-6-16-8-16-9-30-21-28-24-26-28-20-26-16-27-11-27-3-12-2-12 0-12 1-12 4-12 5-8 6-6 8-3 16-2 44 5 20 0 20-1z"/>
<path fill="#2100e1" d="M1096 302l25-3 28 0 28 1 28 3 48 9 76 21 28 6 32 5 68 5 36 4 40 8 40 11 28 10 24 11 24 13 20 12 26 20 50 45 48 34 25 21 11 12 8 11 6 9 3 8 0 8 0 4-5 8-4 4-12 6-40 15-28 14-32 19-79 54-34 20-16 8-21 8-14 4-21 4-19 1-16 0-16-3-12-4-12-8-7-6-6-8-7-12-4-9-4-13-4-26 1-28 8-64 2-24-1-28-5-28-4-16-5-12-6-12-6-10-8-10-8-9-12-9-12-7-12-5-12-3-12-2-12 0-12 2-12 3-12 5-12 7-16 13-20 21-52 68-14 16-17 16-15 8-10 3-8 1-12-1-10-3-10-4-12-7-12-8-8-8-8-9-8-11-32-51-53-66-6-12-2-8 0-4 1-4 4-7 8-8 13-9 19-10 24-11 24-8 24-7zM725 462l12-3 8 0 8 0 8 3 7 4 3 4 7 12 3 9 4 15 7 48 17 56 5 20 1 16 0 12-2 12-3 12-6 16-5 8-6 8-12 9-8 4-8 2-16 2-24 0-74-9-34-6-40-9-15-5-7-4-5-4-2-4-2-8 0-12 3-16 4-12 8-16 18-32 22-32 27-32 24-24 25-19 24-15 12-6zM1982 762l7-1 4 0 8 3 8 5 12 12 16 20 16 23 13 22 11 24 8 20 6 20 6 24 5 24 4 24 2 28 1 52-2 28-3 28-4 24-5 24-7 24-8 20-10 24-11 20-14 24-12 16-15 16-14 12-15 8-8 2-4-1-4-3-6-10-13-36-15-28-16-24-50-66-16-25-12-22-9-19-7-22-4-20-1-18 1-20 6-24 10-24 12-24 12-18 16-23 51-63 15-24 14-30 8-14 6-8zM468 870l5-2 8 0 12 5 74 57 58 36 16 13 11 11 10 12 7 12 6 16 1 12-2 8-2 8-9 16-13 16-17 15-20 14-24 12-29 15-43 24-12 5-8 2-8-1-8-2-12-7-11-13-8-16-7-16-7-20-5-20-4-20-4-32 0-36 2-20 4-24 4-20 5-16 7-16 7-12 9-11zM1493 1322l20-3 28 3 18 4 22 8 17 8 21 12 70 46 32 19 44 21 36 15 32 12 12 6 4 5 2 4 0 4-1 8-9 21-14 23-14 16-20 20-102 80-18 12-24 14-22 10-26 10-48 15-48 11-48 7-76 7-24 3-24 5-64 17-40 8-40 7-34 2-30 0-28-4-28-6-32-10-24-11-16-10-8-7-8-8-7-12-2-8 0-8 3-8 5-12 14-24 59-92 9-12 12-12 11-9 12-7 12-5 12-2 12 0 8 2 11 5 9 6 8 6 12 11 18 21 34 45 16 19 20 20 16 13 8 5 12 5 8 3 12 2 12 0 12-2 12-3 8-4 12-8 12-9 8-9 10-13 8-12 8-16 9-28 5-28 1-28-2-24-6-56-1-24 2-20 5-20 5-12 7-12 11-12 10-8 12-6zM716 1346l29 0 20 3 12 4 8 5 5 4 7 8 5 8 6 12 4 12 2 12 1 12-1 12-1 12-4 12-13 40-11 41-6 15-10 20-8 10-8 7-8 4-8 2-12 0-12-2-12-3-16-7-16-8-16-11-28-21-28-26-24-26-19-27-13-24-9-24-3-12-1-12 1-12 2-8 3-8 7-8 4-2 8-2 16-1 40 3 16 0 20-3 48-8z"/>
<path fill="#2300df" d="M1112 306l25-1 28 0 28 3 32 6 24 5 22 7 22 8 44 18 12 4 12 3 20 2 68-2 36 2 24 4 24 4 24 6 20 7 20 7 20 10 20 11 19 12 15 12 17 16 13 16 20 26 12 12 12 8 28 13 16 9 15 12 12 12 8 12 3 8-1 8-1 4-4 4-11 8-29 15-24 15-89 62-30 20-35 20-30 12-16 4-20 4-20 1-16-1-12-3-12-4-14-9-11-12-6-12-5-11-5-21-2-20 1-24 8-64 2-24-1-32-4-28-4-16-6-16-5-11-8-13-8-11-12-13-12-10-12-7-12-5-8-2-8 0-12 1-16 4-12 5-20 11-20 17-16 17-16 20-39 53-16 20-13 12-16 10-8 3-12 1-8 0-12-3-12-5-12-6-12-9-11-11-12-16-29-48-49-68-5-12-1-8 0-4 4-8 11-10 16-10 24-12 20-8 24-8 24-5zM726 470l11-2 8 0 12 2 4 3 5 5 6 8 3 8 6 20 9 44 17 48 5 24 2 12 0 16-2 12-3 12-6 16-5 8-5 6-6 6-6 4-12 5-16 3-24 0-35-4-37-5-32-7-30-8-18-6-12-6-5-4-3-4-2-8 0-12 2-12 10-24 18-31 24-33 28-34 23-22 21-17 24-15zM1983 774l6-2 4 1 8 3 12 9 12 13 16 21 12 18 12 21 9 20 7 20 6 20 5 20 4 24 6 48 1 52-2 28-2 24-4 24-6 24-7 24-7 20-10 23-11 21-13 21-16 20-16 16-12 8-8 3-4 1-4-1-4-3-3-5-6-12-12-24-18-28-61-79-16-23-12-21-12-26-7-19-5-24 0-20 2-20 6-23 12-28 12-21 12-18 16-21 52-61 13-20 19-34 8-10zM473 878l4-1 8 1 12 6 65 46 47 27 16 11 16 13 12 12 8 10 8 13 5 14 1 8-1 8-5 16-7 12-13 16-16 14-16 11-24 12-72 35-12 5-12 2-12-2-8-4-4-3-8-10-9-16-13-32-5-20-4-20-4-32 0-36 5-40 5-20 5-17 6-15 6-10 8-9zM1494 1322l19-2 28 2 16 4 12 4 20 8 28 16 68 46 28 17 28 16 80 41 10 8 2 4 1 8-2 8-3 8-4 8-8 12-12 13-16 14-40 24-12 9-12 11-31 33-23 20-18 12-20 11-20 10-24 9-24 8-28 7-24 5-28 5-44 3-68 0-20 2-20 6-58 22-42 12-24 4-24 4-24 2-24 0-28-2-24-4-24-7-28-10-20-10-13-9-12-12-6-12-1-8 0-8 4-12 8-16 49-84 19-28 11-12 9-8 12-8 12-6 12-4 8 0 8 0 12 4 17 10 19 17 17 19 31 42 20 26 20 21 20 17 20 11 12 5 8 2 12 0 8-1 8-2 8-4 12-8 8-6 12-12 8-10 8-11 8-14 10-24 5-16 4-16 2-20 1-16-1-28-8-76 0-20 3-20 3-12 6-12 7-12 6-8 15-12 11-5zM695 1350l30-3 24 0 20 4 8 4 8 5 7 6 6 8 5 8 5 12 5 21 1 11-1 12-4 21-28 84-5 11-7 13-12 14-8 6-8 4-8 2-8 0-12-2-12-4-13-5-15-8-28-20-28-24-28-28-20-24-16-24-11-24-5-20-1-12 0-8 2-8 3-8 4-4 8-5 16-2 36 1 20-1 20-3z"/>
<path fill="#2400dc" d="M1095 314l30-3 32 0 36 3 32 6 32 10 27 12 18 12 8 8 2 4 0 4-1 4-2 4-8 8-28 25-20 21-16 20-44 62-21 24-11 10-11 6-9 4-12 1-12-1-13-4-15-7-12-8-13-13-12-16-27-47-38-57-6-12-4-8-1-8 0-4 3-8 7-8 15-11 20-10 24-10 24-8zM1428 374l21-3 20-1 24 1 24 3 24 5 24 7 24 9 20 9 18 10 17 12 15 12 12 12 9 12 8 12 7 12 14 30 8 11 4 3 8 4 28 7 16 6 12 7 9 8 6 8 3 8-2 8-6 8-13 12-89 69-44 31-40 24-27 12-27 8-18 3-16 1-16 0-12-2-18-6-10-6-9-10-8-12-7-16-4-18-2-18 0-16 2-22 7-50 3-28 0-28-3-24-4-24-7-21-8-19-17-32-3-8 0-4 1-4 3-4 7-4zM728 478l9-1 8 0 8 2 4 3 8 8 8 15 4 12 9 37 19 51 6 21 2 16 0 12-1 12-3 14-7 18-8 12-9 8-8 5-8 3-16 3-20 0-27-3-45-7-23-5-27-8-22-8-15-8-7-8-3-8 0-8 2-12 4-12 5-12 17-28 21-28 33-40 20-20 21-16 22-13zM1981 790l8-3 8 1 8 4 12 10 16 18 12 17 12 20 10 21 7 20 7 20 5 20 4 24 3 24 3 28 0 52-1 28-3 24-4 24-6 24-7 24-8 20-10 21-11 19-13 19-12 14-12 11-12 8-8 1-4-1-4-3-8-9-8-12-25-36-59-72-16-22-12-20-12-23-10-27-5-24-1-20 4-24 7-24 9-21 16-27 24-33 53-59 12-16 19-27 8-10zM473 890l4-2 8 0 8 3 8 3 20 12 43 28 53 30 16 11 12 11 11 12 9 12 7 16 2 12-1 8-2 8-6 14-12 16-14 14-18 13-20 11-76 33-12 4-12 2-12-1-8-4-10-10-8-12-5-12-6-16-10-36-5-36-1-32 1-20 3-20 5-20 4-15 5-13 7-12 7-8zM1496 1322l17-2 28 3 14 3 12 4 28 12 27 16 79 54 89 54 16 12 6 8 2 4 1 8-1 8-5 9-8 11-12 10-12 8-12 5-28 10-12 7-8 9-21 35-13 16-15 16-23 18-28 16-36 15-36 11-40 8-40 4-20 0-16-1-16-2-12-3-11-6-3-4 0-4 0-4 3-8 23-36 14-28 9-24 6-28 2-24 0-24-1-24-7-52-2-24 2-20 4-20 4-12 4-8 5-8 8-9 13-11 11-5zM704 1350l29-2 20 1 12 2 8 3 14 8 7 8 6 8 5 10 3 10 3 12 2 12-1 20-3 12-3 12-25 67-6 13-6 11-12 15-8 6-8 4-8 2-12 0-12-2-12-4-24-13-25-19-31-28-24-23-17-21-15-22-11-22-5-20-1-16 2-8 3-6 4-4 8-4 12-2 36-2 20-3zM1115 1518l14-1 8 1 8 3 15 9 15 12 21 24 37 51 24 30 20 22 32 29 6 8 1 4-1 4-5 8-15 12-15 8-19 8-24 8-24 5-24 5-32 2-32 0-32-4-28-7-32-13-20-11-8-6-7-7-5-8-3-8-1-8 1-8 3-12 5-12 14-28 29-52 10-16 15-20 15-14 16-11 8-4z"/>
<path fill="#2500d9" d="M1105 318l28-2 32 1 28 3 28 6 25 8 23 11 12 9 7 8 2 4 1 4-1 8-7 12-38 47-57 81-14 16-13 12-12 7-8 3-8 2-12 0-12-3-12-5-13-8-10-8-12-12-11-16-22-40-31-52-6-12-5-12-1-12 2-8 9-10 13-10 19-10 24-10 24-7zM1456 382l17-2 20 0 20 2 24 4 24 6 20 8 20 9 16 9 18 12 14 12 11 12 9 12 7 12 6 12 6 16 9 32 4 8 4 4 4 3 8 3 28 5 12 3 8 4 7 6 4 8-1 8-6 12-10 12-15 16-18 16-53 42-32 22-34 20-26 12-29 8-15 2-20 1-12 0-12-2-17-5-11-7-9-9-7-12-5-12-4-12-4-20 0-16 1-16 10-80 2-24 0-20-2-24-4-20-5-20-10-36-2-12 2-8 3-4 4-4 10-5zM735 486l10 1 7 3 5 4 8 10 8 17 14 41 18 47 5 17 2 16 0 12-2 16-3 12-6 16-5 8-7 8-12 8-12 4-16 2-20-1-36-4-28-5-20-5-22-7-20-8-18-11-6-5-4-8-2-12 3-12 8-20 14-24 42-52 20-24 21-19 19-13 17-8 8-3zM1985 802l8-2 8 2 12 8 12 12 12 15 11 17 9 17 8 19 7 20 6 20 4 20 4 24 4 48 0 52-2 28-3 24-5 24-5 20-8 24-8 20-10 19-11 17-9 12-12 13-12 9-8 4-8 0-8-4-8-7-12-14-72-85-16-21-16-24-14-27-10-25-5-23-2-24 3-22 8-27 12-25 16-26 16-21 16-19 42-44 34-40 8-6zM474 902l7-3 8 0 16 5 16 8 46 26 42 23 16 10 16 12 12 13 11 14 7 16 2 12-2 12-6 16-11 16-13 13-16 12-19 11-21 9-48 19-16 5-12 3-12-1-10-3-9-8-9-12-6-12-6-16-9-32-5-32-1-32 4-36 7-32 4-12 6-12 6-8zM1497 1322l16-1 12 0 27 5 33 12 16 8 19 12 65 45 76 51 19 16 8 8 5 8 3 8 0 4-3 8-5 8-9 8-10 5-8 3-12 2-28 2-8 3-4 3-6 10-12 36-12 24-14 20-12 12-10 8-26 17-32 15-36 12-36 8-36 3-16 0-16-1-12-3-10-3-6-4-4-4-2-4-2-8 2-8 18-46 6-18 7-28 3-24 1-20 0-20-9-72-2-20 1-20 2-16 3-12 6-12 7-12 7-9 14-11 10-5zM715 1350l26-1 20 2 16 6 12 9 7 8 5 8 8 20 2 12 1 12-2 20-6 20-27 67-12 21-12 12-8 5-8 4-8 1-12-1-8-1-12-5-12-6-12-8-22-17-38-35-17-17-15-18-12-18-10-20-5-16 0-8 0-8 2-8 3-4 4-4 8-4 14-3 40-6 64-15zM1125 1518l12 2 8 2 8 4 16 12 15 16 17 20 44 62 40 50 7 12 2 8 0 4-3 8-6 8-11 8-14 8-21 8-22 6-24 5-24 3-28 1-28-2-28-5-28-8-24-11-16-9-12-12-5-8-2-8-1-8 1-12 9-24 30-60 19-32 16-20 8-8 9-7 17-9 11-3z"/>
<path fill="#2500d7" d="M1118 322l27-1 28 2 28 4 24 6 21 9 15 9 11 11 3 4 2 8 0 4-2 8-6 12-74 108-15 20-11 12-10 8-10 6-8 3-12 2-8-1-10-2-10-4-12-6-8-6-12-10-8-10-8-12-44-80-9-20-5-16 0-12 4-8 6-7 6-5 14-9 20-10 24-8 24-6zM1473 390l16-1 20 0 20 3 20 4 20 7 18 7 18 10 16 10 15 12 11 12 10 12 7 12 10 24 12 44 3 10 4 6 4 4 8 4 24 5 12 4 8 5 4 6 1 8-3 12-8 12-10 12-16 16-18 16-25 20-21 15-33 21-23 12-12 5-20 7-24 5-28 2-24-3-12-4-12-7-11-13-6-12-6-16-4-20-2-12 2-28 10-72 3-36-1-20-1-20-9-56-1-16 2-8 2-4 6-7 9-5zM718 498l15-3 12 2 8 4 4 4 8 11 8 18 32 80 4 15 2 13 0 12-1 12-5 20-8 16-10 12-6 5-7 3-13 4-20 1-24-2-32-5-27-6-21-7-22-9-15-8-9-8-6-8-2-8 0-12 2-8 5-12 12-20 11-15 46-57 16-16 14-12 16-10zM1985 814l8-1 4 0 8 3 8 6 12 12 10 12 10 16 8 16 9 20 6 20 6 20 7 44 3 48 0 52-2 24-4 24-5 24-5 20-7 20-8 18-10 18-10 16-10 12-10 9-12 7-8 1-8-1-8-5-20-19-44-47-20-22-20-26-16-24-15-29-9-24-5-24-1-24 2-14 3-14 9-24 12-23 16-24 20-26 20-21 60-60 8-6zM481 910l4-1 8-1 8 1 12 4 16 8 80 41 16 10 16 13 12 12 9 13 7 14 3 14-1 8-2 8-5 12-11 15-13 13-15 12-20 11-24 10-40 13-20 6-12 1-12-2-8-4-8-7-8-11-6-13-5-12-8-32-5-32 0-32 3-32 7-28 5-12 5-9 6-7zM1500 1322l13-1 12 1 25 4 23 8 26 12 48 32 90 64 14 12 12 12 6 8 4 8 2 8-2 8-4 5-8 6-8 3-8 1-36 1-8 2-4 3-4 5-2 6-10 44-8 24-7 12-8 12-10 12-11 10-24 17-28 14-32 11-36 8-32 3-16 0-12-2-12-2-8-4-8-6-3-5-3-8 1-12 13-47 5-21 4-24 1-20 1-16-1-20-8-56-3-32 1-20 2-16 3-12 5-12 7-12 7-8 4-4 11-8 9-4zM729 1350l20 0 20 4 8 4 6 4 10 10 5 6 6 12 5 20 2 12 0 12-4 20-10 26-16 37-8 16-12 17-12 11-8 4-8 2-8 1-8-1-8-1-12-5-12-7-12-8-14-12-50-47-13-13-11-14-12-18-6-16-3-16 1-12 4-7 4-3 13-6 43-10 60-16 20-4zM1110 1522l15-3 8 1 8 2 16 8 10 8 10 10 13 14 12 16 64 92 10 16 4 12 1 8-1 4-4 8-7 8-12 8-15 8-21 7-24 6-24 3-28 2-28-2-28-4-24-7-24-10-17-11-12-12-6-12-2-8 0-8 2-12 4-12 15-36 25-48 13-20 15-16 15-12z"/>
<path fill="#2600d4" d="M1096 330l29-3 28-1 28 3 24 5 24 8 16 8 8 6 6 6 3 4 4 8 0 8-3 12-13 24-38 60-18 28-17 22-14 14-10 7-8 4-8 2-12 0-12-2-12-4-12-7-11-8-13-13-12-19-37-72-10-24-3-12 0-12 2-5 4-7 8-8 16-11 20-9 20-7zM1484 398l17-1 16 1 16 2 20 5 20 7 16 7 16 9 14 10 13 12 9 10 10 14 7 12 9 24 13 48 5 11 5 5 7 4 24 8 8 3 6 5 3 4 2 8-3 12-6 12-10 12-16 16-18 16-21 16-21 15-34 21-25 12-29 9-12 3-12 1-28 1-14-2-14-4-13-8-7-8-7-12-5-12-4-14-3-18-1-12 3-36 9-60 3-32 0-36-4-52 0-16 3-12 6-8 4-4 8-4zM719 506l14-2 12 3 8 5 4 4 8 11 32 69 8 22 3 12 2 12 0 12-1 12-4 17-8 18-8 10-4 4-8 5-8 3-8 1-16 2-24-2-32-5-21-5-26-8-18-8-13-8-10-8-6-8-3-8 0-12 5-16 11-20 61-76 12-12 12-10 12-8zM1980 826l9-2 4 0 8 1 8 5 12 10 11 14 9 13 8 15 8 20 7 20 5 20 7 44 3 48-1 52-3 24-3 24-5 20-5 20-7 20-8 16-9 16-9 14-9 10-11 9-8 4-8 1-8-1-8-3-12-9-12-11-32-32-24-25-20-25-20-30-8-14-8-16-8-23-4-21-1-24 1-12 4-16 8-22 12-23 16-24 20-25 24-25 48-44 12-9zM488 918l5-1 8 0 8 1 12 4 84 39 16 10 16 12 12 11 12 15 6 13 3 12 0 12-2 8-3 8-8 13-12 13-16 14-16 9-16 8-24 8-32 9-20 4-12 0-12-3-8-5-8-10-7-12-5-12-8-28-5-36-1-32 3-32 7-24 6-12 5-8 5-4zM1504 1322l21 1 16 2 12 3 28 10 23 12 53 36 64 48 21 20 7 8 4 8 2 8 0 4-1 4-3 4-5 4-13 4-33 4-10 4-4 4-5 12-9 48-8 24-6 12-9 13-9 11-13 12-23 16-27 13-32 11-32 6-16 2-16 0-12-2-10-2-10-4-6-4-4-4-4-8-2-8 1-12 12-64 2-20 1-20-1-32-7-52-4-36 0-16 3-20 3-12 5-12 7-12 6-8 4-4 12-8 8-4zM706 1354l23-3 20 0 16 3 8 3 9 5 7 6 5 6 5 8 5 12 5 20 1 20-2 12-4 12-19 44-8 17-8 13-12 15-12 8-8 4-8 1-8 0-8-1-12-5-9-4-11-8-12-10-28-27-28-25-16-17-9-13-9-16-4-12-1-12 2-8 5-7 6-5 9-4 76-24zM1114 1522l7-1 8 0 8 1 8 3 9 5 11 8 16 16 22 28 47 72 14 24 4 8 2 8 0 12-4 8-9 10-12 9-16 7-20 7-20 4-24 3-28 1-24-2-28-6-24-8-20-9-16-12-10-12-4-12 0-8 1-12 7-24 18-44 17-32 14-20 13-13 16-12z"/>
<path fill="#2700d1" d="M1103 334l26-3 28 1 24 2 24 6 20 7 16 9 10 10 3 4 3 8 0 12-5 16-8 16-19 32-20 32-20 30-15 18-13 11-8 5-8 3-8 1-12 0-12-3-11-5-13-8-10-8-10-12-13-20-32-68-9-24-1-12 2-12 5-10 11-10 13-8 20-9 20-6zM1491 406l14-1 16 0 16 3 20 5 16 6 16 8 16 10 12 9 8 8 11 12 8 12 7 12 9 24 13 45 4 10 4 7 8 6 28 13 8 6 3 5 2 8-2 8-5 12-9 12-16 16-18 16-21 16-22 15-28 17-25 12-35 10-12 2-20 2-12-1-12-1-16-5-12-7-4-4-6-8-6-12-5-12-3-14-2-14-1-16 3-32 10-60 3-28 1-28-1-52 1-16 2-12 4-7 4-5 4-4 8-4zM720 514l13-1 12 3 8 5 4 5 8 11 28 54 10 23 3 12 2 12 1 12-1 12-4 20-7 16-8 12-5 4-7 5-12 4-20 1-20-1-28-5-20-4-20-6-16-6-15-8-11-8-4-4-7-8-3-8-1-12 2-8 3-8 9-16 9-12 25-28 27-36 10-11 12-9 12-8zM1984 834l9-1 8 2 8 5 12 11 9 11 10 16 8 16 7 20 6 20 4 20 6 44 2 52-2 48-3 24-4 20-9 36-7 16-7 16-10 16-10 12-8 8-8 5-8 3-8 1-8-2-8-4-12-8-13-11-27-25-24-25-24-30-16-24-13-24-10-28-5-24 0-22 5-26 4-12 7-16 12-22 20-27 24-28 32-29 32-25 12-7zM493 926l12-1 8 1 12 3 20 8 56 24 16 9 16 11 15 13 10 12 7 13 4 15 0 12-4 12-8 15-11 13-13 11-16 11-16 7-24 8-32 9-20 3-12-1-12-4-8-5-8-10-5-9-5-12-8-28-5-32-1-32 3-28 3-12 4-12 4-8 6-8 4-4zM1487 1326l14-3 8-1 32 3 18 5 22 9 15 7 13 8 40 28 53 40 22 20 7 8 5 8 3 8 1 4-1 4-1 4-4 4-5 3-8 3-28 7-8 4-4 4-4 7-3 8-10 48-8 24-11 20-8 11-8 9-20 16-12 8-15 8-29 11-28 7-28 3-12-1-12-2-9-2-8-4-7-6-4-6-4-12 0-12 8-64 2-40-2-28-7-48-4-32 0-16 1-12 2-15 4-13 10-20 7-8 9-8 6-4zM715 1354l22-2 20 1 16 5 12 8 7 8 5 7 7 17 4 20 0 20-2 12-5 13-20 42-12 20-8 10-8 8-12 7-8 2-8 1-8-1-8-2-9-4-11-7-16-13-24-25-32-28-14-15-8-12-6-12-4-12 0-8 1-8 3-4 8-8 7-4 19-8 44-16 28-8zM1121 1522l8 0 8 1 15 7 16 12 15 16 21 28 38 60 13 24 5 12 1 8 0 12-3 8-9 11-12 8-16 8-16 5-20 4-24 3-28 0-24-2-24-5-22-8-18-9-15-11-9-12-4-12 0-8 1-12 6-24 18-44 15-30 13-18 7-8 9-8 11-7 8-4z"/>
<path fill="#2800ce" d="M1110 338l27-2 24 1 24 3 20 6 20 8 11 8 8 8 2 4 3 8 0 12-4 16-9 20-18 32-17 28-20 28-13 16-15 12-8 4-8 2-8 1-12-1-12-4-11-6-12-8-9-8-12-16-9-16-27-60-7-24-2-12 2-12 3-6 4-6 8-8 12-8 20-9 23-7zM1495 414l14-2 16 1 16 3 16 4 16 6 15 8 13 9 12 9 17 18 8 12 7 12 10 24 13 44 8 16 4 4 5 4 20 10 8 6 5 4 2 4 2 8-2 12-7 12-10 12-16 16-19 16-22 16-17 10-29 18-19 8-24 8-12 3-32 2-20-2-13-3-7-3-8-5-7-8-8-16-5-12-4-18-2-14 0-12 4-40 9-48 3-28 2-28 2-48 1-16 5-15 6-9 10-7zM721 522l12-1 12 3 8 6 4 4 8 11 24 42 12 26 6 21 1 12 0 12-4 20-7 19-4 6-6 7-10 8-12 4-16 1-20-1-25-4-23-5-20-6-12-5-15-8-11-8-10-12-3-8-1-12 3-12 9-16 9-12 23-26 28-38 8-9 12-10 9-5zM1985 842l12 1 8 4 8 6 9 9 9 12 9 16 7 16 6 19 5 21 4 20 4 44 1 52-3 48-7 40-5 20-6 16-8 16-7 12-8 12-10 10-8 6-8 3-8 1-8-1-8-3-8-5-24-18-28-25-20-21-24-31-16-25-12-24-8-25-3-22 0-20 5-24 10-26 16-28 20-26 16-18 12-11 32-27 24-17 12-5zM496 934l5-2 8 0 8 0 12 3 20 7 48 19 20 10 16 11 13 12 11 13 8 15 3 12 0 12-4 12-7 13-12 14-12 11-16 10-16 8-24 7-28 6-20 2-12-1-12-4-8-5-7-9-5-8-5-12-7-26-5-30 0-32 2-24 3-12 4-11 8-13 4-4zM1488 1326l13-3 8 0 33 3 15 4 24 10 13 6 13 8 45 32 42 32 21 20 7 8 4 8 2 8 0 4-1 4-3 4-5 4-6 3-28 11-7 6-3 4-7 16-10 44-7 20-5 12-7 12-14 17-11 11-9 7-21 13-27 11-28 8-16 2-12 1-12-1-12-2-8-3-8-4-4-4-6-8-3-12-1-12 5-64 0-36-2-24-7-48-4-32 0-16 0-12 2-12 4-15 4-9 7-12 6-8 10-8zM725 1354l20-1 16 2 8 3 8 3 11 9 6 8 4 8 7 18 3 18-2 20-3 12-5 12-17 34-8 13-8 11-12 12-8 5-8 3-8 1-8 0-8-2-8-3-16-10-13-12-23-25-28-24-14-15-6-8-7-12-3-12 0-8 3-8 7-8 12-8 17-8 29-12 23-8 19-5zM1110 1526l7-2 8-1 8 1 8 2 8 4 8 5 17 15 20 24 23 36 26 44 5 12 5 12 1 12-1 12-4 7-4 5-8 7-12 8-16 6-20 6-20 3-24 1-24-2-24-4-24-7-20-9-13-9-11-12-5-12-2-16 2-12 2-12 11-32 17-36 12-20 13-16 15-12z"/>
<path fill="#2900cc" d="M1119 342l22-1 24 1 20 4 20 5 16 8 12 10 7 9 3 12 0 8-2 8-5 16-14 28-21 36-16 25-15 19-13 12-12 7-8 2-8 1-12-2-8-2-12-6-8-5-9-7-8-8-11-16-12-24-20-48-4-12-2-12-1-12 4-12 7-11 11-9 14-8 19-8 20-5zM1497 422l12-2 12 0 16 2 16 4 16 6 12 6 16 10 12 10 16 17 8 11 7 12 8 20 15 44 8 16 6 7 4 3 20 13 7 5 6 8 2 8-3 12-7 12-9 12-17 16-19 16-17 12-20 12-25 16-19 8-35 10-12 1-24 2-12-1-16-4-8-4-7-4-10-12-7-15-4-13-4-19-1-21 5-44 12-68 7-84 4-16 8-12 9-7zM720 530l13-1 12 3 8 6 12 14 20 32 12 23 4 11 4 14 2 10 0 12-2 16-6 20-6 12-7 8-5 4-12 6-16 2-16 0-24-4-20-4-24-7-12-5-15-8-11-8-7-8-5-8-2-12 2-12 3-8 5-8 9-12 22-24 25-36 10-11 8-7 9-6zM1982 850l11 1 8 3 8 5 11 11 9 13 8 15 6 16 6 16 4 20 4 20 4 44 1 52-4 48-3 20-4 20-5 16-6 16-7 14-8 13-8 10-8 7-8 5-8 2-8 1-8-2-16-7-24-17-24-21-20-21-24-30-16-25-12-25-8-24-3-20 1-20 2-12 3-12 9-24 8-15 8-13 20-26 16-17 12-11 28-23 16-11 12-7 8-3zM499 942l6-2 8-2 16 2 24 7 36 12 20 9 16 10 16 12 12 13 9 15 4 12 1 12-2 12-6 12-10 14-12 11-15 11-17 8-20 7-24 5-20 2-12 0-12-2-12-6-8-8-8-14-8-24-5-28-2-32 2-24 4-20 4-8 5-8 4-4zM1489 1326l12-2 8-1 32 4 14 3 38 16 13 8 44 32 36 28 21 20 6 8 4 8 2 8 0 4-2 4-3 4-9 6-24 13-5 5-6 8-7 16-12 44-7 20-11 20-8 11-8 9-19 16-21 13-24 9-28 7-24 2-12-1-8-2-8-3-7-5-5-5-5-7-3-12-1-12 2-60 0-32-3-24-7-44-4-40-1-12 1-12 5-24 4-11 7-13 7-8 10-9zM709 1358l24-3 20 0 16 4 12 6 9 9 9 16 6 19 2 17-1 12-2 8-7 19-16 30-16 23-12 12-8 4-8 3-12 1-8-1-8-3-12-7-8-7-31-34-25-21-11-11-7-8-5-8-3-8-2-8 1-8 4-8 7-8 11-8 23-12 19-8 23-8zM1114 1526l7-1 8-1 8 2 8 3 14 9 17 16 19 24 22 36 20 36 5 12 4 12 2 12-2 12-4 8-3 4-8 8-14 8-16 6-20 5-20 2-24 1-20-2-24-5-20-6-16-8-12-9-11-12-5-13-1-7 0-12 4-24 13-36 12-27 11-17 13-16 16-12 8-5z"/>
<path fill="#2900c9" d="M1130 346l23 0 20 2 20 5 16 6 11 7 9 9 6 11 2 12-1 8-3 12-10 24-17 32-21 34-13 18-12 12-12 8-7 3-8 1-8 0-8-1-17-7-18-12-13-14-6-10-7-12-17-44-8-24-3-12 0-8 2-12 6-12 7-8 11-8 17-8 18-6 20-4zM1498 430l11-2 16-1 12 2 16 4 16 6 12 6 12 8 11 9 15 16 14 21 9 19 17 44 8 16 10 12 24 17 6 7 2 4 1 8-3 12-7 12-10 12-16 16-15 12-17 12-25 15-13 9-15 8-36 11-16 3-32 2-12-2-12-3-8-3-6-4-10-12-8-16-3-12-4-20-1-20 4-40 14-76 8-68 4-16 6-13 8-8 8-5zM720 538l5-1 8-1 12 4 12 9 12 14 16 25 12 23 4 11 3 12 2 20-3 20-5 16-7 12-6 7-4 4-11 5-13 3-16 0-24-4-24-5-19-6-10-4-15-8-10-8-7-8-5-8-2-12 2-12 6-12 9-12 23-24 23-36 9-10 8-6 8-5zM1975 858l10-1 8 2 12 6 8 7 8 10 8 13 7 15 6 16 4 16 4 20 5 44 1 52-2 48-3 20-4 20-4 16-6 16-5 12-7 12-8 11-8 8-8 5-8 3-8 1-8 0-16-6-24-16-24-20-20-21-24-29-16-25-12-25-7-22-3-20 1-20 5-24 8-22 12-21 20-27 24-26 24-21 28-18 12-6zM510 946l7-1 8 0 16 2 32 9 28 10 16 8 16 11 12 11 12 14 6 12 3 12 0 12-4 12-7 12-10 13-12 10-14 9-18 8-16 5-24 4-20 1-12-1-12-4-8-5-8-9-4-7-6-12-6-24-4-28 0-28 2-20 6-17 8-12 4-3zM1491 1326l18-2 32 3 12 3 38 16 13 8 49 36 21 16 13 12 12 12 7 8 4 8 2 8-1 4-4 8-6 6-24 15-6 7-5 8-7 16-13 40-7 20-11 20-15 19-10 9-10 8-20 12-24 10-24 5-12 1-12 0-12-2-7-2-8-4-5-4-4-5-4-7-3-12-2-12 0-60-1-28-10-68-4-34 0-22 4-28 4-9 8-15 6-8 10-8zM717 1358l20-2 16 0 16 4 12 7 8 8 9 15 3 8 3 12 2 16-2 16-7 20-16 29-16 22-12 10-12 7-12 1-8-1-8-2-11-6-9-8-8-8-20-25-24-19-12-12-6-8-5-8-3-12 1-8 2-4 5-8 9-8 12-8 14-8 18-8 24-8zM1120 1526l13 0 8 3 8 4 16 12 16 17 20 28 21 36 13 28 6 20 1 12-3 12-5 8-9 8-13 8-15 6-20 5-20 2-24 0-20-2-20-5-20-7-16-9-12-10-8-12-4-12 0-8 0-12 5-24 11-32 13-28 11-16 15-16 9-7 8-4z"/>
<path fill="#2a00c6" d="M1104 354l21-3 20 0 20 1 20 4 16 6 14 8 8 8 6 12 2 12-1 12-5 16-11 24-12 24-17 28-15 20-13 12-8 6-8 3-8 2-8 0-12-3-8-3-9-5-12-8-11-12-12-19-12-29-11-32-4-16 0-16 2-12 5-8 4-5 8-7 12-7 20-8zM1520 434l21 2 12 3 12 5 20 11 10 7 10 9 13 15 13 20 7 16 19 44 8 15 8 10 24 19 4 5 3 7 1 8-3 12-8 12-10 12-13 12-14 12-48 32-14 8-9 4-37 12-16 2-28 1-12-1-16-4-10-6-4-4-6-8-8-20-7-32-1-8 1-12 5-40 12-60 9-60 4-20 5-16 6-8 6-6 12-7 8-2zM719 546l10-2 12 1 12 7 12 12 16 21 14 25 7 20 3 20-2 20-5 16-8 16-9 9-12 6-12 3-16-1-20-3-26-6-13-4-10-4-16-8-10-8-7-8-4-8-2-12 2-12 6-11 7-9 23-24 22-35 12-13 8-5zM1968 866l9-2 12 1 8 3 8 6 8 8 8 11 7 13 6 16 5 16 5 20 5 40 2 52-2 48-5 36-8 32-7 16-6 12-6 9-8 9-8 6-8 4-8 1-8 0-8-2-12-5-20-12-24-19-20-20-20-24-16-23-12-23-8-22-5-23 0-12 1-12 4-22 8-22 12-21 20-27 24-25 20-17 24-16 12-6zM510 954l7-3 8-1 16 1 24 5 28 9 20 9 14 8 14 11 12 13 7 12 4 12 1 12-1 8-5 12-10 15-12 12-12 8-16 8-16 6-20 4-20 1-16-1-12-4-9-5-8-8-5-8-4-8-6-19-4-25-2-28 2-20 4-16 7-12 5-5zM1493 1326l8-1 12-1 32 5 12 4 32 13 14 8 18 15 25 17 20 16 14 12 12 12 7 8 4 8 2 8 0 4-3 8-8 8-21 16-9 12-10 20-13 39-7 17-9 17-12 17-16 15-21 15-23 10-24 6-20 2-12-1-8-2-8-4-8-6-4-5-4-7-3-9-2-12-3-80-3-24-7-44-5-40 0-20 2-20 2-8 3-8 9-16 6-8 9-8 8-4zM726 1358l19-1 16 2 12 4 10 7 10 12 7 16 4 20 0 16-3 14-8 19-16 25-8 11-8 8-12 9-12 4-8 1-8-2-12-5-8-6-8-7-24-31-24-19-9-9-5-8-4-8-2-12 2-8 5-8 9-8 17-12 15-8 20-8 13-4zM1111 1530l14-3 8 1 8 2 8 4 8 6 15 14 17 21 19 31 17 32 9 24 2 12 0 12-5 12-6 8-12 9-15 7-17 5-20 3-24 0-20-2-20-4-17-6-15-7-12-10-9-11-5-12-2-16 1-12 2-12 8-28 10-24 11-20 13-16 14-12z"/>
<path fill="#2a00c3" d="M1109 358l24-2 20 0 20 3 16 4 15 7 10 8 7 8 4 12 1 12-4 16-7 20-11 24-15 26-15 22-13 15-12 9-8 4-8 1-8 0-8-1-11-4-8-4-9-6-8-7-12-15-8-16-12-32-8-28-2-16 0-12 4-12 6-8 8-8 16-9 16-6zM1511 442l10-1 12 0 12 3 12 3 12 5 12 7 19 15 13 15 12 18 10 19 18 40 9 16 10 12 21 19 6 9 2 8-3 12-6 12-10 12-13 12-14 12-14 10-20 11-14 11-14 8-8 3-36 12-12 2-20 1-16 0-24-5-9-5-4-4-6-8-8-20-7-32 0-16 5-48 11-52 13-68 5-18 8-14 4-5 8-6 8-3zM718 554l11-3 12 1 12 6 12 11 16 20 12 20 8 21 2 16 0 16-3 16-6 16-9 12-11 8-13 4-16 0-16-2-16-3-23-7-11-4-15-8-11-8-7-8-4-8-2-8 2-12 4-8 5-8 24-28 15-24 8-12 11-10zM1959 874l10-3 12 0 8 2 8 4 8 6 8 9 8 13 6 13 5 16 5 16 3 20 3 20 2 48-1 52-4 36-8 32-9 24-6 10-8 10-8 7-8 5-8 2-8 1-8-1-12-5-20-11-20-15-20-19-24-27-16-23-12-23-8-23-4-20 0-20 4-23 8-21 12-23 12-17 20-23 24-22 24-16 12-7zM519 958l14-2 16 0 24 5 24 7 16 7 16 10 12 10 10 11 8 12 4 12 1 8-1 12-5 12-9 13-12 12-12 9-12 6-16 6-16 3-20 1-16-1-12-3-11-6-8-8-5-8-4-8-6-20-4-28-1-24 3-20 5-12 7-10zM1495 1326l10-1 8 0 34 5 34 13 14 7 11 8 15 12 28 20 20 16 20 20 6 8 3 8 2 8-3 8-6 8-22 20-9 12-8 16-17 44-7 16-9 16-12 16-18 16-20 13-20 8-12 4-12 2-20 0-8-1-8-3-6-3-6-5-5-7-4-8-3-10-2-14-5-68-11-72-5-40 1-16 2-20 2-8 6-14 8-14 4-5 9-7 11-5zM740 1358l17 1 12 3 12 7 8 9 7 12 5 16 2 16-1 16-5 17-12 22-16 21-12 11-12 7-12 2-12-2-12-6-13-12-22-28-23-20-7-8-6-8-3-8-1-8 1-4 3-8 6-8 14-12 13-8 17-8 17-6 16-4zM1115 1530l6-1 8 0 8 1 8 3 13 9 15 15 16 21 17 28 14 28 9 24 2 12 0 12-5 12-6 8-9 8-14 7-16 5-20 3-20 1-20-2-20-4-20-7-13-7-11-9-9-11-4-12-2-16 3-24 7-28 10-24 11-19 12-14 13-11 7-4z"/>
<path fill="#2b00c0" d="M1116 362l17-2 20 1 20 3 16 5 12 6 9 7 6 8 4 12 1 8-1 8-4 16-7 20-12 24-16 28-12 16-12 13-12 8-8 2-8 1-8-1-8-2-11-5-7-4-14-12-12-16-8-16-10-32-6-24-2-16 2-12 4-10 8-10 11-8 13-7 16-5zM1509 450l8-2 12 0 12 1 12 3 12 5 12 7 18 14 14 15 12 17 9 16 19 40 9 16 11 13 20 19 4 6 3 6 0 8-3 12-7 12-10 12-23 20-12 8-20 12-16 12-8 5-12 5-36 12-12 2-20 2-16 0-24-5-8-5-5-4-5-8-8-20-7-32-1-16 7-48 22-104 5-20 8-18 5-6 7-6zM728 558l5-1 8 1 12 6 12 10 12 13 12 18 8 17 4 16 2 16-2 16-5 16-7 14-8 9-12 6-12 2-16 0-16-3-28-8-11-4-15-8-11-8-7-8-4-8-1-8 1-8 5-12 26-32 21-33 12-12 8-5zM1964 878l9-1 8 1 8 2 9 6 7 7 8 10 6 11 6 16 5 16 3 16 5 40 2 52-3 48-4 32-8 28-5 12-6 12-6 8-7 7-12 7-8 2-8 0-8-1-12-4-20-11-20-16-20-19-20-23-16-23-12-23-8-24-3-20 0-20 2-12 4-12 9-23 12-20 16-20 24-24 20-16 24-14 12-5zM530 962l15-1 16 1 24 5 20 6 16 8 12 8 12 11 8 10 5 8 4 12 1 12-2 10-4 10-8 12-12 12-12 8-12 7-16 5-16 2-16 1-16-2-12-4-9-5-8-8-5-8-3-8-6-20-4-28 0-24 3-16 6-12 9-8zM1498 1326l15 0 12 2 20 2 12 4 36 16 12 8 16 14 26 18 19 16 16 16 6 8 5 8 1 8 0 4-3 8-6 8-20 20-9 12-8 16-24 56-11 19-12 15-16 14-20 13-12 5-12 4-20 3-16 0-8-2-8-4-8-6-4-4-6-13-4-12-2-12-6-64-10-64-6-44 0-12 3-24 2-8 9-20 4-8 4-4 10-8 10-5zM720 1362l17-2 16 0 12 2 12 6 8 7 8 12 6 15 3 16 0 16-4 16-9 17-12 17-12 14-12 9-12 4-12 0-8-2-6-3-6-4-8-8-20-26-23-22-7-8-6-11-2-9 2-8 4-8 7-8 9-8 13-8 16-8zM1123 1530l6 0 8 2 13 6 15 12 14 16 14 21 17 31 10 24 6 20 0 12-2 12-5 8-7 8-11 7-12 5-16 4-20 3-20-1-20-2-16-5-18-7-12-8-10-10-6-10-4-12-1-16 4-24 8-28 11-24 10-16 14-14 8-6 8-4 8-3z"/>
<path fill="#2c00be" d="M1124 366l17-1 20 2 16 3 12 5 12 7 8 8 4 8 3 12-1 16-6 20-8 20-13 24-12 20-12 16-11 10-12 7-12 1-8 0-8-3-8-3-12-8-13-12-11-16-7-16-8-28-5-24-1-12 2-12 5-12 7-8 11-9 15-7 17-5zM1507 458l10-3 8-1 12 1 12 2 12 5 12 6 19 14 13 14 12 17 10 17 18 36 9 16 11 13 19 19 5 7 2 5 2 8-3 12-7 12-10 12-12 12-10 8-12 8-18 10-18 14-18 9-36 12-12 2-32 2-11-1-17-4-8-4-7-8-9-20-4-12-4-23-1-9 5-46 4-21 20-87 7-22 5-11 6-9 6-6zM724 566l9-2 12 1 12 7 12 10 12 14 12 20 5 14 3 16 0 16-3 16-5 13-8 12-8 7-12 5-12 1-16-1-16-4-17-5-10-4-16-8-6-4-9-8-5-8-2-8 1-12 6-12 22-28 20-32 8-9zM1953 886l12-3 8 0 8 2 8 3 8 6 8 9 7 11 6 12 5 16 4 16 5 36 2 48-1 48-4 36-7 28-9 21-4 7-8 10-12 8-8 3-8 1-8-1-12-3-20-10-20-15-20-19-20-22-16-23-12-24-6-17-4-20 0-20 3-20 7-20 12-23 12-17 20-21 24-21 20-13zM541 966l16-1 16 2 20 4 16 6 12 6 12 8 12 11 8 10 5 10 4 12-1 12-2 8-6 12-8 10-12 11-10 7-14 6-12 4-16 2-16-1-16-3-9-4-10-8-5-7-6-13-5-20-4-28 0-20 3-14 6-10 3-4 6-4zM1501 1326l10 0 14 3 20 2 10 3 10 5 18 7 10 5 10 7 18 16 23 16 20 16 15 16 6 8 4 8 1 8-1 4-3 8-6 8-16 16-9 12-11 20-17 40-8 16-10 16-12 14-16 14-20 13-20 7-20 3-16-1-8-2-7-4-9-8-4-6-4-9-5-21-8-68-10-56-2-24-4-20 1-16 3-28 9-20 5-8 3-4 11-8 9-4zM728 1362l17-2 12 1 12 4 9 5 8 8 7 12 6 16 2 16-1 16-6 16-9 16-12 15-12 11-12 7-12 3-8-1-12-6-12-10-20-26-20-21-7-8-4-8-2-8 1-8 3-8 7-8 9-8 12-8 16-8 12-4zM1113 1534l12-3 8 1 6 2 14 8 13 12 17 20 14 23 12 25 9 24 3 16 0 12-2 8-6 10-8 8-12 7-12 4-16 4-16 1-20-1-20-3-17-6-15-8-11-8-9-12-4-11-2-17 1-20 5-21 8-23 8-16 12-16 13-12z"/>
<path fill="#2c00bb" d="M1107 374l18-3 16-1 16 1 16 4 12 4 12 8 8 9 5 10 1 12-2 16-4 16-9 20-11 22-14 22-10 13-12 10-12 5-8 1-8-1-16-6-15-10-11-12-7-12-7-16-7-24-4-16-1-16 1-12 4-12 7-11 11-9 13-6zM1516 462l9-1 8 0 8 1 12 3 20 10 10 7 10 9 12 13 10 14 36 64 10 13 21 23 5 8 1 4 1 8-4 12-7 12-11 12-18 16-12 7-17 9-14 12-9 7-12 6-40 12-32 4-12-1-24-4-8-5-4-3-5-8-7-20-7-32-1-16 3-16 2-20 3-16 20-83 8-26 8-16 6-7 6-5 8-5zM723 574l10-4 12 1 8 3 12 8 12 13 12 17 8 18 2 12 1 16-2 16-6 16-7 11-8 8-12 5-12 1-12-1-16-3-14-5-10-4-16-8-6-4-8-8-5-8-2-8 0-8 5-12 20-27 17-29 7-8zM1958 890l11-1 8 2 8 3 8 6 8 8 6 10 6 12 4 12 7 32 3 36 1 52-2 44-5 28-7 24-9 18-4 6-8 8-12 6-8 2-8 0-8-2-12-4-20-11-20-16-20-20-16-19-12-17-11-23-7-20-3-20 0-20 5-22 8-20 12-21 12-15 20-20 24-19 20-12 12-5zM551 970l14-1 16 2 16 3 16 6 12 7 12 9 10 10 8 12 5 12 1 8-1 8-4 12-7 12-8 9-8 7-13 8-11 5-16 3-12 1-13-1-14-4-8-4-9-8-6-8-6-16-4-24-3-24 1-16 5-12 7-8 10-6zM1487 1330l18-4 8 1 12 3 16 1 12 3 12 7 24 9 12 8 17 16 24 16 15 12 16 16 6 8 4 8 2 8 0 4-2 8-5 8-21 24-8 12-8 16-23 48-16 24-14 16-19 14-20 10-20 4-16 1-8-2-8-3-7-4-5-5-8-13-4-11-4-20-7-51-11-60-6-52 4-35 11-25 5-7 6-5 6-4zM740 1362l13 0 12 3 11 5 9 8 7 12 5 12 3 16 0 12-3 13-7 15-9 14-12 13-12 9-12 5-12 0-8-2-8-6-6-5-22-29-21-23-6-12-2-8 2-8 4-8 7-8 10-8 14-8 12-5 16-5zM1118 1534l7-1 8 1 11 4 12 8 13 13 14 19 14 24 11 24 7 20 2 12 0 12-4 12-6 8-9 8-13 7-12 3-16 3-16 0-20-2-16-4-16-6-12-8-10-9-6-9-4-11-2-16 1-20 5-21 8-23 12-20 10-12 14-11z"/>
<path fill="#2c00b8" d="M1113 378l16-2 16 0 16 1 12 3 12 6 8 5 8 10 4 9 1 12-1 12-4 16-7 20-12 24-13 20-10 12-10 9-12 5-12 1-8-2-8-3-16-10-11-12-7-12-7-16-7-24-3-16 0-16 1-12 5-12 7-8 10-8 16-8zM1512 470l9-3 8 0 8 0 12 3 11 4 9 5 11 7 9 8 11 12 9 11 11 17 28 48 9 13 21 23 6 12 1 8-2 12-5 8-9 12-13 12-10 8-9 6-20 10-13 12-5 4-15 8-19 5-17 7-11 2-28 2-8 0-12-4-12-1-6-3-5-4-5-8-2-8-7-16-6-32 1-12 3-16 1-16 2-16 20-78 10-30 6-12 8-10 8-7zM729 578l8-2 12 2 12 6 12 10 8 9 9 15 7 16 2 12-1 16-3 16-6 15-6 9-10 7-8 3-12 2-12-2-11-2-13-4-10-4-15-8-6-4-8-8-4-8-2-8 1-8 3-8 17-25 15-27 9-12 5-4zM1946 898l11-2 8-1 8 2 8 3 8 5 8 9 5 8 6 12 4 12 4 16 4 32 3 48-2 48-3 32-6 24-8 20-7 10-6 6-6 5-7 3-13 2-8-1-8-2-12-5-10-6-18-13-24-23-16-18-12-17-9-17-7-21-4-19 0-20 4-22 6-18 10-19 12-16 16-17 24-20 20-13zM560 974l13-1 12 1 16 4 12 4 12 6 12 9 9 9 8 12 4 8 2 12-2 12-3 8-6 10-8 9-8 7-12 8-12 5-12 3-12 0-12-1-12-4-8-4-6-5-6-8-5-12-3-16-5-32 0-16 4-12 7-8 10-5zM1489 1330l12-3 8 0 16 4 12 0 8 2 8 2 12 7 22 8 13 8 17 17 23 15 14 12 16 16 8 12 3 12 0 5-2 7-5 8-17 20-9 12-9 16-24 48-14 22-16 17-16 13-16 8-20 6-16 1-8-1-8-3-6-3-6-5-5-7-5-8-4-12-3-12-9-56-9-48-4-36-4-16 0-8 3-16 0-16 3-8 4-8 5-12 6-8 6-5 4-3zM725 1366l16-3 12 0 12 3 8 3 8 7 8 10 5 12 3 12 2 12-1 12-4 12-5 11-8 12-12 12-12 9-12 4-8 0-8-3-8-5-4-3-8-9-16-23-18-21-6-12 0-8 2-8 9-12 9-8 14-8zM1112 1538l13-3 12 2 12 6 13 11 13 16 14 21 12 23 8 24 3 12 1 12-3 12-5 10-8 8-12 7-12 4-16 3-16 0-16-2-16-3-16-6-12-8-8-7-7-10-5-12-2-16 2-20 4-20 7-20 9-16 9-12 11-10z"/>
<path fill="#2d00b5" d="M1122 382l15-1 16 1 12 2 12 4 8 5 8 7 4 6 4 12 1 12-3 16-6 19-8 18-12 21-12 17-8 9-12 7-12 2-12-2-15-7-14-12-8-12-7-14-7-22-3-20-1-12 1-12 4-12 6-9 8-8 12-7 12-4zM1520 474l9-1 8 0 16 4 11 5 9 5 16 14 9 9 11 15 35 57 12 16 18 20 7 12 1 8-2 12-4 8-9 12-13 12-11 8-10 6-16 7-14 15-10 7-12 5-16 4-20 8-32 3-12 0-12-4-12-1-5-2-5-4-6-8-2-12-5-12-7-32 1-12 3-16 1-20 3-16 18-66 10-30 10-18 6-6 6-5 8-5zM739 582l10 1 12 5 12 10 8 9 8 12 4 9 4 14 1 12-1 12-4 16-6 12-6 8-8 6-8 3-12 1-12-1-16-5-11-4-8-4-12-8-5-4-6-8-1-4-1-8 3-12 13-22 11-22 7-12 10-10 8-5zM1952 902l9-1 8 2 8 3 8 5 6 7 6 9 5 11 5 12 6 28 3 36 1 52-3 40-4 24-6 20-8 16-6 8-5 4-6 4-6 2-8 2-8-1-16-4-20-11-20-16-20-19-12-14-12-17-9-18-7-21-3-19 1-20 2-16 8-21 12-22 12-15 20-18 24-18 20-10zM566 978l11-1 16 1 12 3 12 5 8 4 12 9 8 8 8 11 3 8 2 8 0 12-2 8-4 8-7 9-8 8-12 9-12 6-8 2-12 2-12-1-11-3-8-4-5-4-6-8-4-8-3-12-5-40 0-16 2-8 6-8 6-4zM1491 1330l10-2 8 0 8 2 8 3 12-1 8 1 8 3 12 7 16 5 8 4 14 10 14 15 20 13 15 12 15 16 8 12 3 12-1 5-2 7-6 8-16 20-8 12-32 59-17 25-15 16-16 12-17 8-11 3-8 2-16-1-12-4-6-4-6-6-8-13-4-11-4-16-18-94-3-16-1-20-3-16-1-8 3-16 1-16 2-8 5-8 3-12 6-8 6-5zM733 1366l12-1 12 0 12 4 8 5 8 8 5 8 4 12 3 12 0 12-2 12-4 12-6 10-8 10-8 7-12 8-8 3-8 0-8-2-7-4-5-4-7-8-15-24-16-20-4-8-2-4 1-8 2-8 6-8 4-4 11-8 8-4 9-4zM1117 1538l12-1 12 3 9 6 13 12 14 18 12 20 10 22 7 20 2 12 0 12-3 10-6 10-9 8-9 4-12 4-16 3-16-1-16-2-15-4-13-6-12-9-8-9-4-8-4-12-1-16 1-16 4-20 8-20 6-12 10-12 12-10z"/>
<path fill="#2d00b2" d="M1112 390l13-3 16-1 12 1 13 3 11 5 8 6 8 9 3 8 1 12-1 12-3 12-5 16-8 16-11 21-11 15-9 8-8 5-12 2-12-2-11-5-10-8-11-12-6-12-6-16-4-20-2-16 1-12 2-12 7-12 8-8 12-7zM1515 482l6-2 8-1 8 0 12 3 11 4 9 5 16 12 10 11 10 12 36 56 12 16 17 20 7 12 2 8-2 12-4 8-9 12-11 11-12 9-26 12-10 12-12 9-12 6-16 4-12 6-8 2-36 4-12-2-8-4-8 1-8-2-6-4-5-8-1-12-5-8-2-8-2-12-3-12-1-8 1-8 3-16 1-20 3-16 17-59 12-33 4-8 8-11 8-8zM733 590l8-2 8 0 8 2 12 8 8 8 8 10 7 14 3 12 1 12-1 16-4 12-5 12-5 6-8 6-8 4-12 1-8-1-12-3-13-5-8-4-6-4-9-8-3-4-4-8 0-4 1-8 12-24 12-28 8-12 6-6zM1940 910l9-2 8 0 8 1 8 3 8 6 4 4 6 8 6 12 7 24 5 32 2 44-1 44-3 28-6 24-8 20-8 10-7 6-5 3-12 2-8 0-8-2-8-3-12-6-20-14-24-22-12-13-12-17-8-16-6-20-3-16-1-20 4-20 6-19 8-15 12-17 16-15 20-16 20-12zM571 982l10-2 12 1 12 2 12 4 12 7 8 7 8 8 6 9 4 8 2 8 0 8-1 8-3 8-8 11-8 9-8 6-11 6-9 3-8 2-12 0-8-2-9-3-5-4-7-8-4-12-3-28-4-24 0-8 2-8 5-8 5-4zM1494 1330l7-1 8 0 6 1 10 4 12-1 8 1 10 4 10 6 16 5 8 4 12 9 15 16 18 12 15 12 15 16 8 12 2 8 0 4-1 4-3 8-28 40-33 58-16 22-16 17-16 11-16 7-16 4-8 0-8-1-12-5-7-5-5-6-8-15-8-29-16-78-3-20-2-20-3-16-1-8 3-16 0-12 2-8 4-8 3-4 1-8 4-8 8-8zM725 1370l12-3 12-1 12 1 8 3 8 6 6 6 6 10 4 10 3 12 0 12-2 12-3 8-6 11-8 9-8 8-12 6-8 2-8 0-8-3-7-5-6-8-15-26-14-18-4-8-1-4 0-8 4-8 3-4 8-8 6-4zM1112 1542l13-3 8 0 12 6 12 9 12 14 12 18 12 23 6 17 3 12 2 12-1 12-3 8-5 8-10 8-12 5-12 3-16 1-16-1-16-4-11-4-9-5-9-7-7-9-5-11-3-16 0-16 3-20 5-16 7-16 8-12 9-9z"/>
<path fill="#2e00af" d="M1122 394l15-2 12 1 12 2 12 5 8 6 7 8 3 8 1 8 0 12-3 16-8 20-8 17-9 15-9 12-10 8-8 4-12 1-12-4-8-5-12-11-7-9-5-12-4-12-4-20-1-16 1-10 3-10 5-10 8-8 8-5 12-6zM1522 486l7-1 8 0 16 4 16 8 16 13 11 12 9 11 35 53 29 36 6 12 1 8-4 12-7 12-7 8-9 8-12 8-24 11-10 13-4 4-14 8-20 6-16 7-12 3-28 2-12-2-8-5-8 2-4 0-8-4-4-5-2-4-1-12-4-8-3-8-2-12-3-12-1-12 5-20 0-16 3-16 12-44 12-35 6-13 6-11 4-5 8-8 8-5zM740 594l9-1 8 2 8 4 8 6 8 9 7 12 5 12 1 8 1 12-2 12-3 12-5 11-4 5-8 7-8 3-8 1-8 0-12-3-11-4-7-4-6-4-8-8-3-4-2-8 1-8 10-20 5-20 4-12 4-8 5-5 4-4zM1932 918l17-4 8 1 8 2 8 4 6 5 6 8 4 8 5 12 3 12 5 28 2 32 0 48-2 28-5 26-6 18-4 8-6 7-5 5-7 4-12 3-8-1-8-2-18-8-18-13-20-16-12-12-12-15-9-16-7-19-4-20-1-17 2-16 6-20 9-20 8-11 12-14 12-10 24-15zM575 986l10-2 12 0 12 2 8 3 9 5 11 8 7 8 6 8 4 8 2 8 0 8-2 8-3 8-6 9-8 9-8 6-8 5-8 3-12 2-8 0-10-2-6-3-6-5-3-4-2-4-1-8-2-36-3-24 2-8 2-4 4-4zM1497 1330l8-1 7 1 13 5 12-1 8 1 8 3 12 8 15 4 9 4 10 8 14 16 24 16 14 12 11 12 6 12 2 8 0 4-3 12-29 40-33 56-18 24-14 14-16 10-8 4-12 4-16 1-12-3-8-4-4-3-8-9-8-17-8-30-16-71-2-16-2-20-3-12-1-12 4-16 0-16 4-10 5-6 0-8 3-8 4-4 5-4 11-3zM732 1370l9-2 12 0 12 2 8 4 8 8 4 5 4 8 4 11 2 12-1 8-1 9-4 11-4 7-8 10-8 7-8 4-8 3-8 0-8-3-6-4-3-4-5-8-10-24-4-6-9-10-4-8-1-4 0-8 5-8 3-4 10-8 8-4zM1119 1542l10-1 5 1 7 3 8 5 12 12 12 16 12 20 7 16 5 16 2 12 0 12-2 8-4 8-7 8-6 4-11 5-12 2-12 1-16-2-12-3-12-5-10-6-9-8-6-8-4-12-3-16 1-16 3-16 7-20 6-12 9-12 10-8z"/>
<path fill="#2e00ad" d="M1117 402l12-2 12-1 12 1 8 2 9 4 7 5 5 7 4 8 1 8 0 12-2 12-4 12-8 18-12 22-8 10-6 6-10 5-8 1-11-2-9-5-9-7-7-8-8-16-4-12-2-16-1-12 0-12 4-12 4-8 7-8 12-8zM1516 494l9-3 8 0 16 2 16 8 16 11 12 12 12 15 35 51 25 32 6 12 1 8-2 12-5 8-9 12-9 8-10 6-24 10-4 4-8 12-8 7-8 4-20 6-20 8-8 2-28 2-9-1-11-6-8 2-5 0-7-4-3-4-2-4 0-12-7-13-2-15-4-12-1-8 1-8 4-16 0-16 3-16 11-39 8-23 8-19 8-15 6-8 9-8zM737 602l8-3 8 0 8 2 8 5 8 7 4 5 7 12 3 8 2 9 0 11-1 12-3 11-4 9-6 8-6 5-7 3-9 1-8 0-8-2-9-3-13-8-4-4-5-8 0-8 1-4 8-12 2-4 1-20 2-12 5-12zM1941 922l8-1 8 2 8 3 4 3 6 5 6 8 4 9 4 10 5 21 3 28 1 48-2 32-3 24-5 20-7 14-9 10-5 4-6 2-12 2-8-2-8-3-16-8-28-20-12-10-12-14-8-13-8-17-4-13-3-20 0-20 3-16 8-21 8-14 12-15 12-11 20-12 20-10zM579 990l6-2 8-1 8 0 12 3 16 8 8 6 9 10 5 8 3 8 1 8-1 8-5 13-5 7-7 8-8 6-8 5-12 4-8 1-8-1-8-3-6-4-3-4-2-4-2-8-1-40-2-20 2-8 3-4zM1503 1330l10 1 12 5 12-1 8 1 8 3 12 8 12 3 12 6 12 9 12 15 21 14 15 12 10 12 6 12 2 12-2 8-4 8-26 36-34 55-9 13-11 12-12 10-16 10-16 6-8 1-8 0-12-3-7-4-5-4-8-11-8-18-8-29-14-62-3-16-1-20-4-16 0-8 3-16 0-16 3-7 8-9-2-8 1-4 2-4 7-6 4-3 4 0 6 1 0 4 2 1 1-1-1-4 2-4zM741 1370l8-1 9 1 7 2 8 4 6 6 6 8 4 9 3 11 1 12-1 8-2 8-3 8-10 13-8 7-8 4-8 2-8-1-8-5-4-4-6-12-5-24-3-4-12-12-4-8 0-4 3-8 7-8 14-8zM1115 1546l10-2 8 0 5 2 7 4 8 7 8 9 12 17 8 15 9 20 3 12 1 12-1 12-2 8-6 8-5 4-7 4-12 4-12 2-12-1-12-2-12-4-12-7-8-7-7-9-4-8-3-12 0-16 2-16 4-16 5-12 6-12 9-9z"/>
<path fill="#2e00aa" d="M1116 410l9-2 12-2 12 1 8 1 8 4 8 6 4 5 3 7 2 8-1 12-5 20-7 17-8 16-7 11-7 8-6 4-8 3-8 0-9-3-7-5-8-7-7-12-5-13-3-15-2-12 0-12 3-12 3-8 7-8 8-7zM1522 498l11-1 8 0 8 2 16 8 16 12 12 12 12 14 32 45 25 32 6 12 1 8-2 12-7 12-7 8-8 7-8 5-24 10-4 4-6 10-6 6-8 6-9 4-15 4-16 7-12 3-24 2-8 0-8-3-8-5-8 3-4 0-7-3-3-4-2-4 0-12-4-8-4-8-1-12-4-16 0-8 4-20 1-16 1-12 7-26 16-44 12-23 12-14 8-6zM743 606l6-2 8 0 12 6 8 7 4 5 5 8 4 12 2 8 0 12-2 12-3 8-4 8-6 8-5 4-7 3-12 1-8-2-8-2-7-4-5-4-4-4-3-8 1-8 9-12 2-4-2-24 2-12 3-6 4-5zM1937 930l8-1 8 2 8 3 4 3 5 5 6 8 7 16 5 24 3 24 0 48-2 28-4 24-5 16-7 14-8 8-4 2-8 3-12 0-12-4-16-9-24-15-12-9-12-14-8-13-8-18-4-16-2-17 1-20 4-16 5-14 8-15 12-15 12-10 12-7 26-11zM594 990l7 0 8 1 8 2 9 5 7 5 8 7 6 8 4 8 2 12 0 8-3 8-4 8-5 6-12 10-8 5-8 3-12 1-8-2-7-3-4-4-2-4-2-8-1-24 1-20-1-16 3-8 4-4 5-3zM1494 1334l7-3 4 0 8 1 12 6 12-2 8 1 8 3 12 8 12 3 8 4 12 8 16 19 20 13 13 11 10 12 5 8 2 12-1 8-3 8-27 40-31 48-19 24-13 12-16 10-16 6-8 1-8 0-12-4-8-5-4-4-8-11-6-13-6-19-16-65-4-20-1-20-4-16 0-8 3-16 1-16 1-4 7-8 2-4-2-8 1-4 4-6 8-6 4 0 4 5 4 1 3-2 0-4zM734 1374l11-3 8 0 8 1 8 3 8 6 4 5 4 7 4 9 2 12 1 8-1 8-3 8-3 7-7 9-5 5-8 5-8 2-8 0-7-4-4-4-2-4-3-8-2-20-2-7-12-11-5-6-1-4 1-4 4-8 9-8zM1114 1550l7-3 8-1 8 3 9 5 8 8 11 14 9 14 7 16 5 12 3 12 1 12-2 8-3 8-4 6-7 6-9 4-12 3-12 0-12-2-12-4-9-5-9-8-6-8-4-8-3-12 0-12 1-16 4-16 4-12 6-12 7-8z"/>
<path fill="#2f00a7" d="M1121 418l12-3 8 0 8 0 8 3 8 4 4 4 4 7 2 5 0 8 0 8-2 10-4 10-13 28-7 12-3 4-6 4-7 3-8 0-7-3-10-8-4-8-3-8-7-36-1-8 2-8 2-8 6-8 9-8zM1121 481l-3 1-3 4 1 4 5 4 4 0 4-2 2-2 0-4-4-4-2-1zM1516 506l5-2 8-2 8 0 8 2 16 6 16 11 12 11 16 19 28 39 22 28 6 8 4 8 1 8-1 8-5 12-6 8-8 8-9 6-24 10-4 4-12 16-4 4-8 5-8 3-12 3-20 9-32 3-12-1-12-7-4 1-4 2-4 0-4-1-4-3-3-6 1-12-8-16-2-12-4-12-1-8 1-8 4-16 1-16 2-16 5-17 8-23 8-20 8-16 12-17 8-7zM750 610l7 0 4 0 8 4 4 3 5 5 6 8 3 8 2 8 1 8 0 12-5 17-4 8-4 5-4 3-8 4-12 1-9-2-7-3-7-5-3-4-3-8 2-8 7-9 2-7-1-24 3-12 6-8zM1922 942l11-3 8 0 12 2 7 5 4 4 8 12 7 20 4 20 1 20 0 44-2 24-4 20-6 16-8 12-7 6-4 2-8 2-12-2-17-8-23-10-8-5-12-10-11-15-9-16-4-12-3-20-1-19 2-17 5-16 8-16 9-13 8-8 12-8 8-3zM594 994l7-1 8 0 8 3 8 3 8 6 6 5 6 8 4 7 3 13-2 12-6 12-7 8-5 4-7 5-8 3-12 2-8-1-4-2-4-3-3-4-2-8-2-24 1-20 0-12 2-9 4-4zM1497 1334l8-2 8 2 8 4 4 1 12-2 8 1 8 4 12 7 12 3 8 4 12 9 12 15 4 4 20 13 10 9 10 12 4 8 3 8 0 8-3 8-4 8-52 78-20 25-16 14-16 9-16 5-12 0-12-4-9-7-9-12-8-16-10-34-12-46-2-16-2-20-4-16 0-8 4-16 0-16 2-4 7-8 1-4-2-8 1-4 2-4 5-5 4-1 4 0 4 5 4 1 4-4 1-4zM742 1374l7-1 8 0 12 4 6 5 6 7 6 13 2 8 1 8 0 8-2 8-3 7-4 6-8 8-5 3-7 3-8-1-5-2-5-4-2-4-3-8-2-20-1-4-2-4-12-12-2-4 0-4 0-4 3-4 3-4 6-4zM1115 1554l6-3 8-1 8 2 8 6 8 8 8 11 8 13 8 16 4 12 3 12 0 8-1 8-2 5-4 7-8 6-8 4-8 1-12 0-12-2-8-4-8-4-5-5-7-8-4-8-1-8-1-12 2-11 4-13 1-20 2-8 3-4zM1117 1586l-4 4-1 4 5 4 5 0 3-1 4-3 1-4-1-4-4-2-4 0z"/>
<path fill="#2f00a4" d="M1136 426l10 0 11 4 4 3 3 5 3 8-1 12-1 6-4 11-8 12-3 3-1 3-2-3-3-8-6-8-5-5-19-11-3-4-1-4 2-8 6-8 7-5zM1145 494l2 4-1 4-1 5-4 6-7 5-8 0-6-4-1-4 5-4 13-5zM1520 510l13-2 8 0 8 2 16 8 16 12 20 21 51 67 7 12 3 8 1 8-2 8-4 8-6 8-6 6-8 6-26 12-4 4-11 16-7 5-8 4-16 5-20 9-8 1-24 2-8 0-4-1-12-7-12 3-4-1-5-4-1-4 1-12-8-16-5-24-1-8 0-8 4-16 2-20 2-12 11-35 8-19 8-16 8-12 8-9 8-6zM748 618l5-2 4-1 4 0 8 3 8 7 4 5 5 12 2 8 1 8-3 16-5 13-4 6-6 5-10 4-12-1-8-3-5-4-4-4-2-4 1-8 6-12 3-8 0-20 1-8 3-8zM1928 950l13 0 8 2 4 2 8 8 4 6 5 10 4 16 3 20 0 40-1 20-3 20-4 13-7 15-8 8-9 4-8 1-8-2-12-5-8-1-12-2-12-5-12-10-12-16-8-16-4-16-2-20 1-20 3-16 6-16 8-13 12-13 8-5 8-4 8-2 16-1zM596 998l5-2 8 0 12 3 8 5 8 6 9 12 4 12 0 12-5 12-10 12-6 4-8 5-12 2-8-1-4-1-6-5-2-4-2-8-1-20 1-28 2-8 2-4zM1500 1334l9 0 12 5 4 1 12-2 8 1 7 3 13 8 12 4 9 4 10 8 13 16 22 16 9 8 10 12 4 8 2 8 0 8-2 8-4 8-49 72-12 15-11 13-17 14-16 8-8 2-8 1-12-1-12-6-8-8-8-13-8-20-12-40-6-25-3-16-2-20-4-16 0-8 4-16 1-16 2-4 6-8 2-4-2-8 0-4 2-4 4-4 4-1 4 2 4 4 4 0 4-2 4-8zM738 1378l7-2 8-1 12 2 8 5 4 5 5 7 3 8 2 8 1 8-1 8-2 9-4 7-8 9-8 4-8 0-4-1-4-3-4-5-2-8-4-20-2-5-9-11-2-4-1-4 0-4 2-4 4-4zM1119 1558l6-2 4 0 8 2 5 4 7 8 16 24 8 16 3 8 1 8 0 8-1 8-3 7-5 5-7 4-12 2-12-1-12-5-9-8-4-8-2-8 2-8 4-4 17-12 6-8 2-8-1-4-2-4-4-4-17-6-2-2-1-4 2-4z"/>
<path fill="#2f00a1" d="M1525 514l12-1 8 2 8 2 12 6 16 13 12 12 12 14 40 52 9 12 5 12 1 8-2 8-5 10-8 9-12 9-16 7-8 5-4 4-8 12-8 8-8 4-12 4-8 3-12 5-8 3-28 2-11-1-9-6-4-1-4 0-8 3-4-1-3-3-2-4 1-12-8-16-5-24-1-12 4-20 3-28 7-23 8-21 12-24 12-17 12-10zM755 622l6-1 4 1 8 4 8 10 3 6 2 8 0 16-1 8-3 8-5 8-4 4-6 4-10 2-9-2-7-4-4-4-2-4 1-8 5-13 2-7 3-24 3-7zM1885 962l8-3 8-1 12 2 20 0 8 1 8 4 5 5 6 8 5 12 3 16 2 16-1 40-2 20-5 16-7 12-6 6-4 2-8 2-24-2-8 2-8 0-12-4-12-9-7-9-7-12-5-12-4-16-1-24 1-16 2-12 5-12 8-14 8-9zM598 1002l7-3 4 0 12 3 8 4 5 4 7 7 4 7 4 10-1 12-5 12-6 8-5 4-11 6-12 2-8-1-4-3-3-4-3-12-2-12 0-12 3-24 2-4zM1499 1338l2-2 4-1 4 0 12 5 4 1 12-2 8 1 4 2 13 8 15 5 8 3 10 8 14 18 28 22 7 8 7 12 2 8 0 8-2 8-4 8-42 60-12 16-14 16-14 13-12 8-8 3-8 3-12 0-12-3-7-4-5-4-8-11-8-17-8-23-12-41-3-16-3-24-3-16-1-8 4-16 2-16 8-12 1-4-2-8 1-6 4-4 4-1 8 5 4 1 5-3zM747 1378l12 0 10 4 8 8 5 8 3 12 1 8-1 8-4 11-4 6-4 3-8 4-4 0-4-1-4-3-5-8-6-24-10-16-1-4 0-4 2-4 5-4zM1149 1606l4-3 4 0 4 3 5 8 2 12 0 8-3 6-4 4-8 3-4 1-8-2-6-4-3-4-1-4 1-4 4-8z"/>
<path fill="#2f009e" d="M1517 522l12-3 8 0 8 1 16 6 16 12 20 19 20 25 31 40 4 8 3 8 1 8-1 8-4 8-6 8-10 8-18 9-8 5-4 4-8 12-5 6-7 5-12 5-32 12-28 3-8-1-12-7-4-1-4 0-8 3-4-1-2-2-2-4 1-12-8-16-5-24-1-8 1-8 3-16 2-20 3-12 8-25 8-18 8-16 12-17 8-7zM755 630l6-3 4 0 8 4 4 4 4 7 2 8 1 12-3 16-4 8-8 8-8 3-8-1-8-4-2-2-3-4 0-8 6-16 3-20 3-8zM1884 966l9-3 8 0 12 3 16 2 8 2 6 4 6 5 5 7 5 12 3 20 0 28-1 20-3 16-5 12-8 9-8 5-11 2-13 2-16 3-8-1-4-2-8-5-8-8-8-12-5-13-3-12-1-8 0-32 1-12 4-12 8-15 8-9zM600 1006l5-3 8-1 12 4 12 9 7 11 3 8-1 12-5 12-8 9-12 7-8 1-8-1-4-2-4-5-3-13-1-20 3-20 1-4zM1501 1338l4-2 4 0 12 5 4 1 12-2 8 1 4 2 12 7 16 6 8 4 8 6 16 20 21 16 8 8 6 8 4 8 2 8 0 8-3 8-4 8-10 16-28 39-16 20-12 13-14 12-14 9-8 3-8 1-12 0-12-5-8-7-4-5-8-14-8-20-8-24-8-28-5-34-3-16-1-8 6-32 8-12 1-4-1-12 2-4 5-1 8 5 4 0 7-4zM745 1382l8-2 4 0 8 2 8 6 6 10 4 12 0 12-2 8-2 4-2 3-6 5-6 2-4 0-4-3-5-7-5-16-8-16-2-8 0-4 2-4z"/>
<path fill="#2f009c" d="M1521 526l12-2 8 0 8 2 12 6 16 11 20 19 20 24 27 36 5 8 3 8 1 8-1 8-4 8-3 4-4 5-8 6-24 13-4 4-11 16-4 4-6 4-7 3-12 4-16 8-8 2-28 3-8-1-12-7-4-1-4 0-8 2-4-1-2-4 0-12-8-20-5-20-1-8 1-8 4-16 3-28 4-13 8-21 8-16 8-14 12-14 8-6zM764 634l5 1 4 2 4 5 3 8 2 8-1 12-4 12-4 5-4 4-4 2-8 1-4-1-4-3-3-4-1-4 1-8 9-32 2-4 4-3zM1883 970l10-3 8 1 22 6 10 4 5 4 7 7 5 9 2 8 2 16 1 24-2 18-3 14-5 9-8 9-8 5-12 4-20 5-8 0-8-4-8-6-8-10-4-8-4-12-1-8 0-8 1-7 2-5 0-4-2-5-2-11 0-8 1-8 5-12 8-12 8-8zM611 1006l6 0 4 1 8 4 8 7 4 6 3 6 1 4 0 8-2 8-6 10-8 7-5 3-7 2-8-1-4-1-4-4-3-8-2-16 2-20 2-8 3-4 2-2zM1500 1342l5-4 4 0 12 4 4 0 12 0 8 1 16 9 16 5 8 4 10 9 14 18 18 14 8 8 6 8 4 8 2 8-1 8-2 8-4 8-10 16-21 29-16 20-12 13-16 15-12 8-8 4-8 2-12 0-12-3-10-8-10-14-8-16-12-34-7-24-5-32-3-16 0-8 5-28 1-4 8-12 1-4 0-13 4-1 8 4 4-1 4-1zM747 1386l6-2 8 0 8 4 5 6 4 8 3 12-1 8-3 9-4 4-4 2-4 1-4-2-4-4-14-34-1-4 1-4z"/>
<path fill="#300099" d="M1526 530l11-1 8 1 8 3 12 6 16 12 20 20 24 30 16 21 4 8 4 8 1 8-2 8-3 8-3 4-9 8-24 14-6 6-10 15-5 5-7 4-9 4-11 4-16 7-12 2-24 1-4-1-12-6-4-1-4 0-8 1-4-3-1-12-8-20-5-20-1-12 5-20 3-24 7-23 12-26 12-19 12-12 8-5zM765 642l4 0 5 4 3 6 2 10-1 8-3 8-5 8-5 3-4 1-4-1-4-2-3-5 0-4 7-26 4-7zM1883 974l6-2 8 0 12 3 16 8 8 6 4 5 5 8 3 12 1 16 0 20-2 12-3 12-4 8-7 8-9 6-14 6-6 2-8 2-4-1-8-3-8-6-4-6-5-8-4-12-1-8 2-8 4-5 8-4 3-3 0-4-3-5-8-3-5-4-2-8 1-12 5-12 5-8 8-9zM611 1010l6-1 4 1 8 4 8 7 5 9 1 8-2 12-5 8-7 6-8 4-8 0-6-2-3-4-2-4-2-8-1-8 1-16 3-8 2-4zM1503 1342l2-2 4 0 12 3 16 0 8 1 16 9 16 6 7 3 9 8 16 19 23 21 6 8 4 8 1 8 0 8-2 8-7 12-13 20-16 21-16 19-12 13-16 13-12 7-8 3-8 2-12-1-12-6-8-8-10-15-10-23-8-22-6-23-8-44 0-12 5-24 1-4 8-12 3-12 1-1 8 0 8-2zM751 1390l6-2 4 0 4 1 4 4 4 4 4 9 1 8-2 8-3 6-4 2-4 0-4-3-4-6-7-15-2-8 0-4z"/>
<path fill="#300096" d="M1517 538l12-3 8-1 8 2 16 6 16 11 20 19 20 23 20 27 5 8 3 8 1 8-1 8-4 8-3 4-10 8-19 12-8 8-12 17-8 6-8 3-32 13-8 1-24 1-4-1-12-6-4-1-12 0-1-1-4-16-7-16-5-20 0-12 4-20 3-20 4-16 10-25 12-20 12-14zM764 654l1-1 4-1 4 5 1 5-1 12-4 7-2 1-2 1-4 1-4-2-1-4 0-4 2-8 3-8zM1883 978l6-2 8 1 8 2 12 7 6 4 6 8 4 8 3 12 1 16-1 16-1 12-5 12-5 8-4 4-11 8-9 5-8 1-4 0-7-2-5-3-8-10-4-7-2-8 1-8 1-3 4-4 8-5 4-4 2-4 0-4-1-4-4-4-13-8-2-4-1-4 0-8 3-8 4-8 8-8zM613 1014l8 0 8 3 5 5 5 8 2 8-1 8-3 7-4 5-8 5-8 2-4-1-4-2-4-7-2-13 0-12 2-7 3-5zM1507 1342l2 0 16 2 12 0 8 1 16 9 20 8 10 8 14 17 24 23 6 8 4 8 1 8 0 8-3 8-6 12-14 21-16 20-16 18-12 12-16 12-8 4-8 3-8 2-8 0-12-5-8-6-4-4-8-12-8-17-12-31-6-21-7-40 0-12 5-23 2-5 7-12 4-8 3-3 12-3 12-9zM761 1394l4 2 3 2 4 8 0 8-3 6-4 0-4-4-5-10-1-8 2-3z"/>
<path fill="#300093" d="M1520 542l13-3 12 2 16 6 16 11 20 18 20 23 17 23 4 8 3 8 2 8-2 8-4 8-3 4-29 22-14 18-6 6-8 5-8 4-28 11-24 2-8 0-4-1-12-6-12-2-4-3-4-12-7-16-5-20 0-12 7-40 5-17 12-26 12-19 12-12zM1885 982l8-1 8 3 8 5 6 5 3 4 5 8 2 8 1 8-3 36-1 8-3 8-6 8-9 8-11 4-7 0-8-4-5-6-3-6-2-8 1-4 2-4 14-9 6-7 2-4 0-4-2-4-3-4-4-4-15-9-2-3-1-4 0-4 2-8 5-7 5-5zM616 1018l5 0 8 3 5 5 3 6 1 6-1 8-4 7-4 4-8 4-4-1-5-2-3-4-1-4-2-8 1-12 4-8zM1503 1346l6-3 16 2 16 0 8 3 12 7 20 8 8 7 16 19 21 21 8 12 3 8-1 12-2 8-6 12-11 16-16 20-12 14-15 14-13 11-16 8-12 3-12-1-8-4-4-3-8-8-8-12-12-25-8-22-4-15-8-40 1-12 5-24 11-20 3-4 12-5z"/>
<path fill="#300090" d="M1524 546l13-1 12 2 16 7 16 12 16 15 20 23 13 18 5 8 3 8 0 12-2 8-3 4-8 8-20 16-19 24-5 4-12 5-28 12-20 2-12 0-16-8-12-3-4-5-11-27-4-16 0-12 8-40 6-20 9-18 12-18 12-12 8-5zM1881 990l8-2 8 2 6 4 6 8 2 8-1 8-5 5-4 0-8-2-12-5-4-2-4-4-1-4 1-6 4-6zM615 1026l2-2 4-1 4 1 4 2 4 5 2 7 0 4-2 5-4 5-4 3-4 1-4-1-4-5-2-4 0-8 1-8zM1888 1062l9-2 4 0 3 2 2 4-1 8-2 4-4 4-6 4-4 0-4 0-4-2-4-6-1-4 1-5 4-4zM1506 1346l7-1 12 1 16 0 8 3 12 7 20 9 8 7 16 19 18 19 8 12 2 8 1 8-2 8-5 12-10 15-12 16-12 14-16 15-16 13-16 8-12 3-12-1-8-4-4-3-8-8-8-12-12-25-8-22-4-15-6-34 0-12 5-24 12-20 5-4 8-3z"/>
<path fill="#30008d" d="M1530 550l11 0 16 5 12 7 16 12 16 15 17 21 11 16 4 8 2 8 0 8-1 4-5 8-3 4-21 18-16 20-5 6-7 5-17 7-19 8-8 1-16 1-8 0-4-2-12-6-8-2-5-4-10-20-3-8-3-16-1-8 1-8 7-36 6-17 8-16 8-13 12-14 12-8zM618 1034l3-3 4 0 3 3 2 4-1 4-2 4-2 1-4 1-2-2-2-4 0-4zM1502 1350l7-3 4-1 28 1 8 3 28 14 8 6 4 4 13 16 18 20 8 12 2 8 0 12-3 8-6 12-8 12-12 15-12 13-16 15-16 11-12 5-12 3-12-2-8-3-4-3-8-9-8-12-12-24-6-17-5-16-6-32 0-12 5-24 10-16 2-3 4-3z"/>
<path fill="#30008a" d="M1519 558l6-2 8-1 12 1 16 6 16 10 16 13 19 21 11 16 4 8 3 8 1 12-3 8-3 4-24 24-16 21-8 6-12 6-16 7-12 4-20 1-8-1-27-12-9-16-5-12-3-16-1-12 8-36 5-16 8-17 12-17 12-12zM1505 1350l4-2 4 0 28 1 8 2 29 15 11 10 28 34 7 12 3 8-1 12-2 8-6 12-9 13-12 14-12 12-15 13-17 10-12 5-12 1-12-3-12-10-8-10-12-21-7-16-6-20-7-32 0-12 3-16 5-12 8-13 4-4z"/>
<path fill="#300088" d="M1522 562l7-2 8 0 12 2 12 4 16 10 16 13 15 17 11 16 5 8 2 8 1 12-3 8-3 4-20 22-17 22-11 8-12 5-16 8-8 2-16 1-12-1-24-11-4-4-9-16-4-12-3-16 1-12 7-30 6-18 10-18 12-16 12-10zM1508 1350l5-1 28 1 8 3 28 14 8 7 4 4 25 32 7 12 3 8-1 12-2 8-7 12-9 13-12 14-12 11-12 10-16 9-12 4-12 1-12-4-12-9-8-10-12-20-8-19-5-16-6-28 0-12 3-16 5-12 8-12 4-4z"/>
<path fill="#300085" d="M1526 566l11-1 8 1 8 2 12 5 16 10 12 11 14 16 11 16 5 12 0 8-1 8-8 12-13 15-19 25-9 6-16 8-12 6-12 2-16 1-12-3-16-8-4-2-4-5-9-17-4-16-1-12 1-12 7-28 9-20 9-15 12-13 12-9zM1517 1350l20 0 8 2 28 14 6 4 10 10 20 26 7 12 3 8 2 8-2 12-4 8-7 12-11 14-12 12-12 10-12 7-16 7-12 2-12-2-8-4-12-12-12-18-8-15-8-23-4-18-2-12 2-16 4-16 8-13 8-7 16-9 4-2z"/>
<path fill="#300082" d="M1532 570l13 1 12 3 12 6 16 11 12 11 12 16 7 12 3 12 0 8-1 4-4 8-29 38-11 10-23 12-14 5-20 1-9-2-16-8-7-4-8-12-5-12-4-16 0-8 1-8 5-24 7-18 8-14 8-11 12-12 12-6zM1505 1354l4-2 8-1 16 0 8 1 8 3 21 11 7 4 8 8 21 28 7 12 3 8 1 12-2 8-5 12-8 12-9 10-12 11-12 9-16 8-12 4-12 0-8-2-12-8-8-8-12-17-8-15-6-16-6-24-1-12 3-16 3-12 8-12 7-7z"/>
<path fill="#30007f" d="M1521 578l12-3 12 0 12 3 16 8 15 12 12 12 10 16 5 12 1 8-2 8-3 8-9 12-21 28-10 8-14 8-12 5-12 3-16 1-8-2-15-7-9-7-8-12-5-13-3-16 1-12 5-20 6-17 8-15 8-10 12-11zM1508 1354l5-1 8-1 12 0 8 1 8 3 20 11 10 7 8 8 17 24 7 12 2 8 1 8-1 8-4 12-8 12-8 10-12 11-12 8-12 6-12 4-12 1-12-2-12-8-8-8-12-16-8-15-7-19-4-20 0-12 3-16 5-12 7-10 8-6z"/>
<path fill="#30007c" d="M1524 582l13-2 12 1 12 3 12 7 12 8 12 13 10 14 4 12 1 12-3 8-6 12-14 20-8 10-7 6-20 12-13 5-12 2-12 0-12-3-15-8-5-5-8-13-5-14-2-12 1-12 6-22 6-14 6-11 12-14 12-10zM1513 1354l16-1 12 2 12 5 18 10 10 8 7 8 14 20 6 12 3 12-1 8-2 8-5 12-9 12-9 9-8 6-12 8-12 5-12 2-12 0-12-4-12-9-12-14-8-13-8-18-5-16-1-12 0-12 4-16 6-11 8-9 16-9z"/>
<path fill="#300079" d="M1527 586l14-2 12 2 12 4 12 7 12 10 9 11 7 12 3 12 0 8-4 12-6 12-13 19-13 13-11 7-12 6-12 4-16 1-12-2-9-4-11-7-7-9-6-12-3-12-1-12 1-12 5-16 7-16 8-12 12-12 12-8zM1505 1358l12-3 20 0 8 2 16 8 13 9 9 8 11 16 7 12 5 12 1 8 0 8-4 12-6 11-8 10-8 7-12 8-12 6-12 3-12 0-12-3-12-7-12-12-8-11-8-14-5-14-4-16 0-12 2-12 4-12 7-10 7-6z"/>
<path fill="#300076" d="M1530 590l11-1 12 1 12 5 12 7 12 10 8 10 6 12 1 8 0 12-4 12-7 12-11 16-8 8-10 8-15 8-8 3-12 2-15-1-9-3-12-7-7-6-5-8-5-12-3-12 0-12 4-16 4-12 8-14 8-10 12-11 12-6zM1508 1358l13-2 16 0 8 2 15 8 12 8 9 9 11 15 7 12 4 12 1 8 0 8-3 9-6 11-6 8-9 8-12 8-11 5-12 3-12 0-12-4-12-7-12-11-8-10-8-14-6-18-2-12 1-12 2-12 5-10 8-10 11-8z"/>
<path fill="#300073" d="M1533 594l12-1 12 3 12 5 8 5 8 7 8 9 6 12 2 8 0 8-2 12-6 12-8 13-8 10-10 9-10 6-11 6-13 3-12 1-12-3-11-5-9-7-7-9-5-12-2-12 0-12 2-12 4-12 8-14 8-10 12-10 12-7zM1512 1358l13-1 12 0 12 5 12 6 8 6 12 11 9 13 6 12 4 12 1 8-1 8-3 10-6 10-7 8-7 6-12 7-12 5-12 1-12-1-12-5-12-8-8-7-8-10-8-14-5-14-2-12 1-12 3-12 6-12 7-8 12-8z"/>
<path fill="#2f0071" d="M1535 598l10 0 12 2 12 5 8 5 8 8 6 8 4 8 3 12 0 8-3 12-6 12-8 12-7 8-10 8-11 7-12 5-12 2-12 0-12-4-10-6-8-8-6-9-4-11-1-12 1-12 4-15 4-9 8-11 8-9 12-8 12-6zM1521 1358l12 0 8 2 14 6 10 7 11 9 6 8 8 12 5 12 3 12-1 8-1 8-4 8-7 10-8 8-8 5-12 5-12 2-12 0-12-4-12-6-12-10-8-10-7-12-4-12-2-12 0-12 3-12 4-8 6-9 9-7 11-6z"/>
<path fill="#2f006e" d="M1536 602l9 0 12 2 12 5 8 6 7 7 5 8 4 8 2 12-1 8-3 12-7 12-7 10-10 10-10 7-12 6-8 3-12 1-12-2-8-3-12-8-7-8-5-8-2-8-2-12 1-12 3-11 4-9 8-11 8-9 12-8 12-6zM1509 1362l12-3 12 0 8 2 11 5 12 8 9 8 7 8 8 12 3 8 3 12 0 12-2 8-4 8-7 9-8 7-8 5-8 3-12 2-12-1-12-3-12-6-8-6-8-9-8-11-4-10-3-12-1-12 2-12 5-12 6-8 11-8z"/>
<path fill="#2f006b" d="M1536 606l9 0 12 2 8 3 8 5 6 6 6 8 4 8 2 12 0 8-3 12-4 8-8 12-7 8-10 8-14 8-8 2-12 1-12-1-8-4-10-6-7-8-5-8-3-8-1-12 1-12 2-8 3-8 8-12 8-8 12-8 12-6zM1513 1362l12-2 12 2 8 2 11 6 11 8 7 8 7 8 6 12 4 12 0 8-1 12-4 8-5 8-8 7-8 5-9 4-11 2-12-1-12-3-8-4-12-8-8-8-7-10-3-8-4-12 0-12 2-12 3-8 5-8 8-8 8-5z"/>
<path fill="#2f0068" d="M1534 610l11 0 8 1 12 5 8 5 8 9 4 8 2 8 1 8-1 12-3 8-5 8-6 9-8 8-9 7-11 6-12 3-8 1-12-2-8-3-8-6-7-7-5-8-3-8-2-12 1-12 4-11 4-8 7-9 9-8 8-5 12-5zM1523 1362l10 0 8 2 12 6 6 4 9 8 10 12 7 12 2 8 1 12-1 8-3 8-5 8-6 7-8 5-8 3-12 3-8 0-12-2-12-5-8-5-8-7-8-10-4-9-4-12-1-8 1-12 4-11 4-7 6-6 10-7 8-3z"/>
<path fill="#2e0065" d="M1532 614l9-1 12 2 8 3 8 5 7 7 5 8 3 8 1 8-1 12-3 8-4 8-6 8-8 8-10 8-8 4-12 4-9 0-11-2-8-3-8-6-8-9-4-8-2-8-1-8 1-12 3-8 4-8 7-9 8-7 8-5 8-4zM1511 1366l10-2 8-1 12 3 8 4 8 4 9 8 7 8 7 12 3 8 2 12-1 8-2 8-4 8-5 5-8 6-8 4-8 2-12 1-8-1-12-4-12-7-7-6-7-8-4-8-3-8-2-12 1-12 2-7 5-9 7-8 8-5z"/>
<path fill="#2e0062" d="M1531 618l10-1 8 1 8 3 8 4 6 5 6 8 3 8 2 8-1 8-1 8-4 8-5 8-7 8-8 8-11 6-8 3-8 1-12-1-8-3-8-4-6-6-6-8-3-8-2-8 1-12 2-8 3-8 6-8 9-9 8-5 8-3zM1517 1366l8-1 10 1 10 3 8 5 10 8 7 8 5 8 4 8 2 8 1 8-1 8-3 8-5 7-5 5-7 5-8 3-8 2-12 0-12-3-8-3-8-5-8-8-6-7-4-8-2-8-1-12 1-10 4-10 6-8 6-5 8-4z"/>
<path fill="#2e0060" d="M1530 622l11-1 8 1 8 3 8 5 4 4 5 8 3 8 1 8 0 8-3 8-4 8-6 8-8 8-8 6-8 4-8 2-8 0-8-1-8-3-8-5-7-7-5-8-2-8-1-8 1-8 2-8 4-8 4-5 8-8 8-5 8-4zM1510 1370l7-2 8-1 8 1 9 2 8 4 7 5 10 11 5 8 4 8 2 8 0 8-1 8-4 8-4 6-8 6-8 4-8 2-8 0-12-1-8-3-8-4-8-6-7-8-4-8-3-8-1-8 0-8 2-8 3-8 6-7 6-5z"/>
<path fill="#2d005d" d="M1529 626l8-1 8 1 8 2 8 5 9 9 3 8 2 8-2 13-3 7-5 8-12 13-8 5-8 3-8 1-8 0-8-3-8-4-8-7-3-4-4-8-2-8 1-8 1-8 3-7 4-6 4-4 8-7 8-4zM1516 1370l9-1 8 1 12 4 8 5 7 7 7 8 4 8 3 8 1 8-3 12-3 7-5 5-7 5-8 4-8 1-8 0-12-2-8-4-8-5-8-7-7-12-2-8 0-8 1-8 2-8 6-8 4-4 8-5z"/>
<path fill="#2d005a" d="M1529 630l8-1 8 1 12 5 4 4 6 7 2 5 2 7 0 8-2 6-2 6-5 8-12 12-13 6-8 2-8-1-8-2-8-5-5-4-6-8-3-12 0-8 2-8 4-8 3-4 5-5 8-5 8-4zM1512 1374l5-2 8-1 8 1 8 2 12 8 7 8 6 8 3 8 2 8-2 12-4 8-3 4-5 4-8 4-8 2-8 0-8-1-8-3-8-4-8-6-4-5-4-7-2-8-1-8 2-12 4-8 4-4 5-4z"/>
<path fill="#2c0057" d="M1530 634l7 0 8 1 7 3 5 3 7 9 1 4 2 8-2 12-4 8-4 5-7 7-5 4-12 4-12 0-12-4-8-7-3-5-4-12 1-12 2-5 4-7 4-4 8-6 8-4zM1520 1374l13 0 8 3 8 5 4 4 7 8 5 12 1 12-1 6-3 6-3 4-6 5-12 4-8 1-8-1-8-3-8-4-10-10-2-4-3-8-1-12 4-12 6-8 6-4z"/>
<path fill="#2c0054" d="M1518 642l11-3 12 0 7 3 5 3 4 4 3 5 1 4 1 8-3 12-6 8-3 4-9 6-4 2-8 2-12-2-8-4-4-4-6-8-1-4-1-8 3-12 6-8 5-4zM1516 1378l5-1 8 0 6 1 6 3 8 5 3 4 8 12 2 12-1 5-3 7-3 4-5 4-9 4-12 1-12-3-8-5-4-3-7-10-1-4-1-8 1-8 1-4 3-5 4-4 4-4z"/>
<path fill="#2b0051" d="M1521 646l12-2 8 1 8 5 4 4 2 4 1 8 0 4-3 8-5 8-5 4-6 4-8 2-8-1-4-1-6-4-4-4-5-8-1-8 1-4 3-7 8-9zM1515 1382l10-2 8 1 4 2 6 3 4 4 6 8 3 12-1 8-5 8-5 4-4 2-8 2-12-2-11-6-7-8-3-8 0-8 1-4 4-8 4-4z"/>
<path fill="#2a004f" d="M1518 654l7-3 8 0 8 2 6 5 2 4 1 4-1 8-5 8-7 6-8 3-8-1-7-4-5-6-2-6 1-8 5-8zM1517 1386l8-2 8 2 8 5 6 7 3 8-1 8-4 7-8 5-8 1-8-1-8-4-4-4-2-4-3-8 2-8 5-8z"/>
<path fill="#2a004c" d="M1522 662l7-2 4 1 4 2 2 3 1 4-1 4-2 4-7 4-6 0-3-1-4-4-1-7 2-4zM1517 1394l4-2 8 0 5 2 4 4 3 8-1 4-2 4-5 4-4 1-8-2-4-2-4-5-1-4 0-4 1-4z"/>
</g></g>
<g transform="scale(0.5)" fill-rule="evenodd"><path fill="#fff" d="M1450 906l15-2 16-1 56 1 32 2 12 1 12 3 12 4 8 3 8 5 5 4 7 7 5 5 6 8 5 9 7 15 5 16 3 16 3 20 1 20-1 20-2 16-4 16-4 12-7 16-8 12-9 11-10 9-10 7-12 5-12 4-20 3-28 1-60 1-16-1-12-2-10-2-10-3-8-3-8-5-7-5-5-5-6-7-4-8-6-14-4-14-2-16-2-20-1-32 0-32 2-20 3-16 4-13 5-11 7-12 8-9 8-7 8-4 12-5z"/></g>
<g transform="scale(0.5)" fill="none" stroke="#000" stroke-linejoin="round">
<path stroke-width="2.9" d="M1293 510l12-2 12-1 12 2 12 4 12 6 8 6 10 9 9 12 8 12 4 8 6 20 4 24 3 46 2 18 4 16 6 16 4 8 8 12 12 13 16 13 12 7 12 6 16 7 20 4 12 2 12 0 16-1 16-3 26-8 62-26 28-11 24-5 28-3 12 0 16 2 12 2 12 4 12 7 8 5 8 7 9 10 7 12 7 16 3 16 0 8 0 12-3 16-5 16-22 66-12 42-4 16-4 24-3 28 0 16 3 33 4 23 4 17 12 40 19 51 7 24 3 24 0 12 0 12-4 16-5 12-7 12-12 12-13 9-12 6-16 5-20 3-24 0-12-1-16-4-24-8-56-22-23-8-30-8-19-3-24-2-20 2-16 4-12 4-8 4-16 11-9 8-11 11-12 17-7 12-5 11-6 17-3 16-3 24-3 40-2 16-4 16-6 12-9 13-12 11-16 10-16 6-16 4-16 0-12-2-16-6-12-7-12-8-42-37-20-16-18-11-16-7-16-3-20-1-20 2-14 4-18 8-13 8-15 11-36 31-16 11-12 7-16 6-12 3-8 0-16 0-12-4-12-7-12-10-11-16-8-16-5-16-4-20-2-20-3-40-2-16-2-12-4-12-5-12-6-9-8-10-10-9-10-7-8-5-16-8-12-4-16-5-17-3-43-6-24-6-12-5-8-4-10-7-7-8-6-8-4-8-3-8-3-12 0-8 1-12 2-8 3-12 8-16 11-16 10-12 34-37 8-10 8-12 8-15 4-11 3-11 1-12-2-12-3-12-7-16-7-12-17-22-38-42-9-12-7-12-5-12-4-12-2-16 0-12 2-8 2-8 7-12 10-12 8-6 8-5 12-5 16-5 16-3 44-6 16-4 16-5 20-9 12-7 12-9 12-12 8-10 4-7 4-9 4-14 4-28 1-40 2-20 2-16 5-16 8-16 10-12 12-11 12-7 16-7 12-2 8 0 8 0 12 3 12 6 12 7 16 13 36 30 16 12 8 5 16 7 12 4 16 3 16 1 12-1 15-3 12-4 13-6 21-14 47-39 16-12 20-11zM1296 514l9-2 12 0 8 1 12 3 8 4 12 8 11 10 9 10 10 18 5 12 4 12 3 20 4 44 2 19 4 17 4 12 6 12 5 8 14 16 19 16 12 7 12 6 18 7 19 4 11 1 12 0 18-1 19-4 19-6 17-6 51-21 24-8 24-6 16-2 12 0 16 0 12 2 12 3 12 4 12 7 7 5 8 8 7 8 9 16 6 16 2 16-1 16-3 16-5 16-22 69-12 44-4 19-3 24-1 16 0 16 0 16 4 28 8 36 8 27 19 53 7 28 3 24 1 12-2 12-3 16-6 12-8 12-11 10-12 8-16 7-16 4-16 2-12 1-12-1-24-4-24-8-73-27-27-8-24-4-16-2-12 0-20 2-18 4-10 4-8 4-18 12-10 8-8 9-14 19-11 20-7 20-3 16-6 60-3 16-4 16-5 12-5 8-6 7-12 10-16 10-16 6-12 2-16 0-12-2-16-6-12-7-12-8-42-36-21-16-13-8-8-4-16-6-16-3-16-1-16 2-16 4-19 8-14 8-15 12-36 30-12 8-16 9-16 6-16 3-16 0-12-3-12-6-12-10-10-13-8-16-6-16-5-20-2-16-4-52-5-24-4-12-4-9-7-11-7-8-10-9-12-9-12-7-15-7-11-4-15-4-55-9-24-6-11-5-9-5-10-7-7-8-6-8-4-8-3-8-1-8-1-8 1-12 2-8 4-12 7-16 8-12 13-16 33-38 8-10 8-13 7-15 4-12 2-8 1-12-2-15-4-13-4-9-8-14-16-22-37-43-9-12-7-12-5-12-5-16-1-12 1-12 2-8 2-8 7-12 12-12 12-8 12-5 16-5 59-10 16-4 12-4 17-7 15-9 13-9 12-11 9-12 7-12 4-10 3-10 3-24 4-60 3-16 4-16 9-16 9-12 13-12 12-7 16-6 12-2 12 1 12 3 12 6 16 10 16 12 33 27 11 8 12 8 16 7 15 5 13 2 16 1 12-1 12-2 12-4 16-7 14-9 11-8 43-35 16-11 20-11 12-5zM1296 522l9-1 12-1 12 3 8 3 12 6 8 6 8 8 8 9 7 11 4 8 7 20 3 20 7 58 4 18 7 16 9 16 8 11 8 8 10 9 10 7 20 12 16 6 20 5 12 1 12 1 20-2 14-2 30-8 60-23 24-8 28-6 24-2 24 2 12 2 12 4 12 6 8 5 9 8 7 9 9 15 5 16 2 16-1 16-6 28-25 85-8 32-4 22-2 17-1 16 0 16 0 16 3 20 7 36 9 33 18 55 6 24 3 24 0 12-1 12-4 16-5 12-9 12-8 7-12 8-12 6-16 4-16 3-12 1-12-1-24-3-24-7-76-26-30-8-22-4-24-1-20 2-20 5-8 3-12 6-12 7-7 6-17 16-12 16-7 12-5 10-6 18-4 16-3 16-4 40-2 16-5 16-8 16-9 12-11 10-12 8-16 6-12 3-16 0-16-4-12-5-12-7-12-8-45-35-23-16-16-9-20-7-16-3-16 0-16 2-16 5-16 7-16 9-44 37-12 8-16 9-20 7-16 3-16-1-12-4-12-7-9-8-9-12-8-16-5-16-3-16-9-64-5-24-4-12-6-12-6-10-8-9-8-8-12-10-12-7-16-8-12-5-12-3-52-9-20-6-13-5-11-6-8-6-8-8-8-12-3-8-2-8-1-8 0-8 1-8 3-12 7-16 10-16 41-51 8-12 8-13 6-12 4-12 3-12 1-12-2-15-4-13-4-10-8-14-16-24-35-44-8-12-7-12-5-12-3-12-1-12 1-8 2-8 2-8 7-12 11-11 12-8 12-5 12-4 60-12 14-4 14-5 16-7 16-10 12-9 12-12 8-10 6-11 6-12 3-12 4-24 4-52 3-16 5-16 8-16 8-12 13-12 12-7 12-5 12-2 12 0 16 5 16 7 12 8 16 12 38 30 18 12 12 5 16 5 12 2 16 1 12-1 12-3 12-3 13-6 14-8 11-8 50-38 16-11 16-9 12-4zM1292 542l9-1 8-1 8 1 12 4 10 5 10 7 8 7 5 6 8 12 7 17 4 19 6 36 4 20 6 20 7 16 13 20 13 16 8 8 11 9 10 7 10 5 20 8 20 4 16 1 28-1 16-2 28-6 72-21 20-5 24-4 24-1 12 1 12 2 11 3 9 4 8 4 8 7 12 13 7 12 4 12 2 16 0 16-5 28-23 88-7 32-4 24-1 12 0 28 2 28 6 32 11 40 14 48 5 24 2 24-2 20-3 15-4 10-7 11-8 8-13 8-12 5-12 3-16 3-24 1-12-1-16-3-24-5-72-22-28-6-16-2-28-1-24 3-20 5-19 8-17 11-16 15-14 18-12 20-6 16-6 20-3 16-5 36-3 12-5 16-6 11-9 13-11 11-12 9-12 5-12 2-12-1-16-3-16-7-12-6-16-10-56-38-16-9-12-5-16-5-16-3-16 1-20 4-20 7-20 11-13 9-31 27-12 7-8 4-20 6-16 3-16-1-12-3-8-5-8-6-8-11-7-13-4-12-4-16-12-56-8-28-4-12-6-12-7-10-8-10-8-9-13-11-11-8-16-9-15-7-13-4-15-4-29-5-16-5-8-3-8-5-8-6-9-8-8-12-5-12-2-12 1-8 1-8 5-12 8-16 39-60 14-26 6-14 3-12 2-12 0-12-1-12-4-12-4-12-6-12-12-20-33-52-11-20-5-12-2-8-1-8 0-8 3-12 6-12 6-8 10-8 7-4 12-5 60-16 12-4 16-7 16-9 12-8 14-11 12-12 7-8 8-12 6-12 5-12 5-20 8-56 4-16 5-12 9-16 9-11 10-9 10-6 12-3 12-1 12 2 12 4 16 7 16 9 12 9 32 26 16 10 16 6 12 4 16 2 12 1 12-1 12-3 12-3 15-7 25-15 44-31 16-11 20-10zM1137 938l-8 2-8 4-12 9-9 9-9 16-6 16-5 20-2 24 1 24 3 20 7 16 7 12 10 12 7 6 8 5 12 6 8 2 8 0 12-1 8-3 7-3 11-8 10-12 8-14 4-10 4-12 3-20 2-24-1-20-4-18-5-14-7-13-12-14-12-9-12-6-12-3-8 0zM1278 574l11 0 8 0 16 3 8 3 8 5 10 9 8 12 5 12 4 12 8 40 5 16 8 20 8 15 8 12 8 11 10 10 8 8 16 12 21 12 21 8 20 5 24 3 28 0 28-2 16-3 28-5 44-11 20-4 20-2 16 0 20 4 10 3 9 4 13 8 5 4 6 8 5 8 3 12 2 16-1 16-2 16-4 28-18 88-3 28-1 16 1 24 4 28 15 76 4 28 2 28 0 16-1 12-3 12-3 12-4 8-6 8-5 5-8 4-8 3-12 2-16 2-12 0-28-2-24-4-56-13-24-4-16-2-28-1-28 2-25 4-23 7-19 9-13 8-14 12-10 12-12 16-8 16-11 24-9 24-18 56-5 12-5 9-7 7-9 5-8 3-12 2-12 1-16-2-12-4-8-3-12-7-31-23-13-8-16-9-20-7-20-6-16-2-16 0-16 2-16 5-12 5-16 9-40 25-12 5-12 5-16 4-12 1-12 0-12-4-8-5-4-4-6-8-6-10-8-19-17-55-9-24-6-12-8-12-16-20-12-12-12-10-14-10-13-8-25-12-60-22-8-4-8-7-4-7-3-12 0-16 4-16 4-12 6-12 25-48 12-25 4-11 5-16 2-12 1-12-1-12-2-8-6-20-11-24-25-48-10-24-4-12-2-12-1-12 1-8 3-12 6-8 4-4 6-4 9-4 49-16 24-11 16-10 16-12 16-14 13-13 16-20 7-12 6-12 7-20 11-47 4-12 4-9 5-8 7-9 8-7 12-7 8-4 12-2 8 1 12 2 20 9 50 29 26 12 12 4 16 4 12 2 12 0 12-1 16-4 12-3 15-6 21-12 32-25 12-8 16-7 8-3zM1137 898l-8 1-12 3-9 4-11 6-9 6-11 9-8 8-9 11-13 20-6 12-4 12-4 12-2 12-1 24 0 12 2 16 7 24 10 24 7 12 9 12 8 9 8 8 9 7 11 7 10 5 10 3 8 2 12 1 12-1 12-2 12-3 12-6 11-6 9-7 8-7 8-9 6-9 5-12 5-12 3-12 3-28 1-32-2-32-3-16-3-12-8-20-7-12-6-8-7-8-9-8-10-7-12-6-12-4-12-3-12-1zM1261 630l12-1 16 3 12 5 12 9 8 9 8 13 8 16 20 46 7 12 9 13 12 15 16 14 16 12 16 8 16 6 20 6 20 4 24 2 20 1 24 0 92-4 24 0 16 1 12 3 12 4 11 7 8 8 8 12 4 12 4 16 1 16 0 20-3 48-1 28 3 180-1 24-1 12-3 8-3 8-7 9-8 8-8 5-8 4-12 4-12 2-16 1-112-4-28 0-24 2-24 3-24 6-20 7-16 7-12 8-13 10-11 11-10 13-11 16-11 19-24 50-8 15-6 8-6 6-4 3-8 4-8 3-12 1-16-2-12-2-24-8-56-23-16-5-12-2-12-1-16 1-16 3-20 5-60 20-20 6-12 2-8 0-8-1-8-2-8-5-8-7-12-14-12-20-27-50-12-16-13-15-16-16-16-13-20-15-43-29-9-8-8-8-8-12-4-12-3-16 1-16 2-12 5-16 17-48 6-20 4-20 1-16-2-16-4-16-20-56-6-20-4-20 0-12 1-8 1-8 3-8 5-8 7-8 14-12 32-22 20-15 35-31 21-21 12-15 11-16 18-40 9-16 10-12 8-6 8-5 8-3 12-3 8 0 12 1 16 4 40 16 24 8 28 5 16 2 12 0 24-3 24-6 20-8 40-20 12-4zM1125 854l-16 2-16 5-12 5-16 9-12 8-14 11-11 12-10 12-9 14-8 14-6 16-6 16-4 17-3 19-1 16 0 20 1 16 2 16 4 16 5 17 6 15 9 16 8 12 10 12 11 11 12 11 15 10 14 8 15 6 16 5 16 3 16 1 16-1 16-3 16-5 14-6 14-8 12-10 12-12 8-10 8-12 8-15 7-17 5-18 4-18 3-24 1-24 0-20-1-16-3-24-4-17-4-13-4-10-8-16-8-13-12-15-13-12-15-11-16-9-12-5-12-4-16-3-16-1zM955 798l6-1 8 0 4 2 3 3 5 8 1 4 0 4-2 8-3 5-8 11-28 35-12 11-8 6-8 4-8 2-8 1-4 0-5-3-2-4-1-8 2-8 4-12 8-16 6-8 7-8 29-27 8-6zM1350 862l7-3 12 0 48 6 136 5 36 3 24 5 20 7 15 9 14 12 9 12 10 16 7 16 7 20 4 16 2 20 1 20 0 24-2 24-3 20-4 20-6 16-7 16-10 16-9 11-11 9-13 8-20 9-20 5-28 4-32 2-92 2-28 2-44 6-8 0-8-2-8-5-5-7-3-8-3-12 0-12 4-68-2-116 0-44 2-56 0-12 2-8 2-4zM891 1178l6-1 4 0 8 2 8 3 12 8 13 12 29 36 8 12 2 8 1 4-1 6-4 7-4 4-4 2-8 0-8-2-8-5-8-6-27-26-7-8-7-12-6-12-3-8-1-8 0-8 1-4 2-3zM1499 954l18-3 20 0 20 3 16 5 16 8 12 10 11 13 8 16 5 19 1 17-2 16-6 16-9 15-12 14-15 11-17 8-16 5-16 2-20-2-16-4-16-7-14-10-10-12-6-12-3-8-3-12-1-20 2-24 5-20 4-8 4-8 10-12 12-9 8-4z"/>
<path stroke-width="3" stroke-dasharray="11.5 9" d="M1525 601l-8 3-12 8-12 12-7 10-5 10-4 13-1 9 1 12 3 12 5 9 8 9 8 5 10 5 10 2 12 0 12-4 12-5 7-5 13-12 6-8 8-12 4-12 2-8 0-12-4-11-5-9-8-8-11-8-8-4-12-3-12 0zM1509 1361l-10 5-10 8-6 8-4 8-2 12-1 12 2 12 5 12 6 11 8 10 8 7 12 8 8 3 12 2 12 0 12-3 12-6 8-7 8-9 4-8 3-8 1-12-1-8-4-12-7-12-10-12-9-8-12-8-9-5-12-3-12 0zM1093 290l-28 5-28 8-28 11-28 13-16 10-12 9-4 5-4 7-3 12 0 8 2 8 7 12 7 8 35 34 16 18 16 21 24 37 8 10 7 8 9 8 11 8 9 5 12 5 8 2 12 2 12-1 8-2 8-3 8-5 16-13 16-18 36-47 16-18 20-20 16-11 12-6 8-3 12-3 12-1 12 0 12 2 12 3 12 4 12 7 12 8 8 7 8 10 6 8 6 12 5 12 5 16 4 24 2 28-2 24-6 60-1 28 1 12 3 16 4 12 6 12 8 12 11 11 12 7 12 5 16 3 16 0 20-1 16-3 16-4 12-4 15-6 16-8 34-20 63-42 20-11 20-11 16-6 20-7 16-4 24-4 12-3 9-4 7-5 4-5 4-6 4-12 1-12-4-12-9-16-12-17-16-20-16-17-24-22-29-24-28-20-31-20-32-17-36-17-36-14-36-12-40-10-48-9-132-20-88-14-36-6-36-3-32-2-28 1zM729 445l-12 4-13 5-15 8-16 9-28 21-16 14-12 11-24 28-21 29-20 36-10 20-5 12-5 20-2 12 1 8 2 13 4 7 4 4 8 5 8 3 8 2 60 7 96 10 24 0 16-1 16-5 8-4 6-5 6-6 5-6 8-16 3-12 3-12 1-16-1-12-3-22-13-46-3-16-2-16-2-40-1-12-3-12-4-10-4-7-4-4-8-5-8-3-12-2-8 0zM1985 745l-8 3-5 2-7 6-5 6-5 8-3 8-14 40-10 20-14 20-41 53-12 18-12 20-12 25-8 22-4 18-3 20 1 16 3 20 7 24 8 19 12 24 12 20 16 23 31 42 15 24 8 16 7 16 14 48 5 10 5 6 10 4 9 0 16-6 17-10 13-12 11-12 15-20 11-20 13-24 10-24 9-24 7-24 5-24 5-28 3-28 2-28 0-28-1-28-3-28-3-24-6-28-7-24-8-24-8-20-11-24-14-24-16-23-17-21-13-12-10-6-8-3zM473 854l-8 2-10 6-10 10-10 14-6 12-5 16-5 16-4 20-4 24-2 20-1 20 1 20 2 20 4 20 5 20 6 20 12 32 7 12 5 8 7 8 8 7 8 5 8 3 8 1 8 0 8-2 8-4 12-7 44-30 40-23 16-10 16-12 16-17 11-15 4-8 3-8 2-8 1-8-1-8-2-8-6-12-8-12-10-12-14-13-16-12-41-27-16-12-14-12-37-35-16-13-12-7-8-2zM1493 1321l-8 3-12 5-12 10-8 9-7 10-5 10-4 10-4 20-2 20 1 24 6 48 1 24 0 24-4 24-5 16-4 12-5 11-7 13-9 12-8 8-16 13-12 7-12 5-12 4-12 1-12 1-12-2-8-2-12-6-12-7-8-6-20-19-20-23-33-42-11-12-13-12-15-12-12-6-12-3-12-1-12 3-17 7-12 8-15 13-15 19-37 54-41 54-8 12-6 12-2 8 1 7 1 5 6 12 9 12 12 12 12 8 16 8 24 10 24 7 24 6 20 3 20 2 24 1 24-1 32-3 40-6 144-22 80-14 44-9 40-9 40-11 36-12 32-12 32-15 28-15 31-20 25-19 24-22 20-21 20-27 12-19 8-16 8-18 5-14 1-8-1-8-1-4-3-4-5-5-8-5-8-2-44-9-28-8-24-8-20-9-24-11-16-9-58-38-26-16-15-8-19-8-27-8-19-3-16-1-12 2zM693 1346l-44 6-24 2-20-1-40-6-12-1-8 1-8 3-6 4-4 4-7 12-5 16-1 12 1 12 2 12 3 12 5 14 6 14 9 16 11 16 10 14 12 15 24 25 12 11 16 12 15 11 17 10 16 9 16 7 16 6 16 3 12 1 12-2 8-2 6-4 5-4 7-8 6-9 5-11 5-12 5-20 7-40 13-44 3-16 2-12 0-12-2-12-2-12-5-12-6-12-6-8-7-7-8-5-8-4-8-3-12-3-12-1-16 0zM571 158l-26 23-52 42-52 45-48 46-22 24-21 24-36 44-31 44-3 8-3 24-3 8-5 13-12 22M2189 467l-13-37-5-12-6-12-8-10-39-42-49-48-50-44-50-39-56-40-9-9-12-16M1296 478l13-2 16 0 16 3 12 4 12 7 12 8 12 12 8 11 5 9 6 12 3 12 4 16 2 28 0 44 1 24 2 16 4 16 3 8 7 12 13 16 14 12 16 10 20 7 20 4 20 2 12-1 12-2 24-7 16-6 23-11 49-25 28-12 28-9 16-3 12-1 16 1 12 2 12 3 16 6 12 7 12 9 10 10 10 12 7 12 4 8 7 20 3 20-1 20-3 12-5 17-4 11-29 60-10 24-9 27-6 25-3 16-1 20 0 16 1 16 3 16 5 20 5 17 5 15 10 24 28 56 7 20 3 12 2 16 1 16-2 12-4 20-7 16-10 16-13 13-16 12-16 9-20 6-20 3-12 1-16-1-16-4-12-3-28-12-44-22-28-13-28-11-28-7-24-3-12-1-12 1-12 3-8 2-16 8-16 11-8 8-7 8-5 8-7 12-8 20-4 16-3 20 0 16 1 48-2 20-3 20-6 15-5 9-6 8-13 14-8 6-12 7-20 8-20 4-16 0-12-2-8-2-16-6-12-8-12-9-52-52-14-12-14-9-16-7-12-3-8-1-8 0-12 1-16 4-16 7-18 12-18 16-28 29-8 7-12 9-16 10-20 7-20 3-16 0-12-2-8-3-12-5-8-5-8-6-8-8-7-8-6-8-4-8-6-12-4-16-3-20 1-68-1-16-2-12-2-12-5-12-6-12-7-8-9-8-15-10-12-6-16-5-16-3-16-2-60-3-12-2-12-3-12-5-8-5-11-8-8-8-6-8-7-12-4-12-3-12-2-12 0-12 2-12 4-12 5-12 4-8 12-16 12-12 42-40 17-20 10-16 4-12 3-12 0-12-2-12-3-8-6-12-8-12-17-20-46-44-10-12-8-12-7-12-5-16-3-16 1-16 2-12 4-12 5-12 5-7 12-14 9-7 11-6 16-7 20-5 16-1 48-2 12-1 16-3 16-5 16-8 12-9 10-9 6-8 7-12 4-12 3-12 2-28-2-68 1-16 5-16 8-17 12-16 16-13 16-10 20-7 12-3 8-1 12 0 8 1 16 5 16 8 12 9 12 11 36 36 12 10 10 7 14 8 16 5 15 3 13 1 12-1 12-3 8-3 12-7 8-5 13-10 47-46 16-13 8-6 12-7 12-5zM257 1554l12 22 6 14 2 8 5 28 4 12 25 32 30 36 44 47 44 42 32 28 32 27 28 21 38 27 12 12 16 20M1884 1930l11-16 10-11 24-14 28-19 24-18 28-24 37-34 79-78 33-30 7-9 8-15 7-20 9-29M1304 490l13-1 12 1 12 3 12 5 12 8 8 6 9 10 9 12 6 11 4 9 4 12 3 12 3 24 1 48 2 20 2 16 5 16 9 16 6 8 9 10 16 13 12 7 8 4 20 8 12 2 12 2 20 1 20-3 16-4 20-8 64-30 28-11 28-8 12-2 16-2 16 1 12 1 16 4 12 5 12 7 10 7 10 10 8 10 9 16 6 16 3 16 0 8 0 12-4 16-3 12-27 66-8 23-8 26-4 17-5 28-3 24 0 16 1 16 3 22 8 36 12 36 26 62 7 24 4 24 0 12-1 12-4 16-7 16-9 13-12 12-16 11-16 8-16 4-20 3-12 0-12 0-12-2-16-5-20-7-54-25-26-10-28-10-24-5-24-3-20 1-20 4-12 5-8 4-16 11-8 8-10 11-13 20-8 20-5 16-3 20-1 20-1 40-1 20-4 16-6 16-5 8-6 8-13 12-16 10-20 8-20 3-16 1-16-3-16-7-12-7-12-10-44-43-16-13-16-11-8-4-12-4-16-3-16 0-16 2-16 4-19 9-18 12-14 12-37 35-12 8-12 7-20 7-16 2-16 0-16-4-8-4-8-4-8-6-8-8-7-9-5-8-5-8-5-12-4-16-2-16-2-20 0-48-2-16-2-12-2-9-4-11-7-12-7-8-9-8-11-8-14-7-12-5-16-5-16-3-20-3-44-4-20-4-12-4-9-5-11-8-8-8-6-8-6-12-3-8-3-12-1-12 0-12 3-12 3-12 8-16 12-16 14-16 35-34 9-10 9-12 7-12 5-12 3-12 1-12-1-12-3-12-6-12-8-12-16-20-44-44-12-16-8-12-5-12-5-16-1-12 0-16 3-12 3-8 3-8 5-8 7-8 6-5 8-6 8-5 16-7 16-4 20-3 44-3 16-3 12-3 16-6 16-8 12-8 12-11 8-10 5-10 4-8 3-14 2-26 0-48 1-20 2-16 3-13 3-7 5-10 11-14 13-12 16-10 8-4 12-4 16-3 16 0 8 2 8 2 12 6 12 9 12 10 33 32 15 12 12 8 16 8 16 5 16 3 16 0 12-1 12-2 12-5 8-4 12-7 11-9 45-41 20-15 12-8 12-5 12-5zM1296 498l13-2 12 0 12 2 12 4 12 6 8 6 12 11 8 10 7 11 5 11 5 13 3 12 3 24 2 44 1 20 3 16 5 16 6 12 6 8 14 16 12 10 12 8 12 6 16 6 20 5 12 2 12 0 16-1 17-4 23-8 68-31 28-10 28-7 16-3 12 0 16 1 12 1 12 3 12 5 12 7 9 6 8 8 10 12 9 16 6 16 2 16 0 8-1 12-6 24-29 78-12 40-4 17-4 25-2 24 0 16 2 28 2 12 2 16 8 28 12 36 20 48 7 24 3 16 1 12 0 12-1 12-4 16-6 12-8 12-12 12-12 9-16 8-16 5-20 3-12 1-12-1-16-2-12-4-24-8-48-21-28-11-28-9-28-6-24-1-20 1-12 3-8 2-16 8-16 11-9 8-8 8-9 12-5 8-6 12-5 12-4 16-4 24-2 52-2 20-3 16-7 16-5 8-6 8-13 11-16 10-20 7-16 3-16 0-16-2-16-7-12-8-12-9-43-41-14-12-19-12-12-5-8-3-16-3-16 0-16 2-19 5-17 8-18 12-15 12-35 32-12 8-12 7-8 4-12 4-16 2-16 0-8-2-8-3-8-4-7-4-13-12-11-16-10-20-5-16-2-16-2-20-1-48-3-24-3-12-5-12-6-10-8-9-12-10-10-7-14-7-12-5-16-5-16-3-60-7-20-5-12-4-8-4-11-8-8-8-6-8-6-12-3-8-3-12 0-8 1-12 2-12 4-12 8-16 11-16 14-16 33-34 16-19 7-11 5-12 4-12 2-16-1-12-4-12-5-12-8-13-16-19-42-44-12-16-8-12-6-16-4-12-1-12 1-16 4-16 3-8 5-8 7-8 5-5 8-6 8-4 16-7 16-5 16-2 48-4 13-3 15-4 16-7 16-9 12-8 12-12 8-10 4-8 4-10 3-12 3-24 0-64 2-16 4-16 3-8 5-9 5-7 7-8 12-11 16-10 16-7 16-3 16 1 12 3 12 5 16 11 12 10 31 29 15 12 13 8 17 8 16 5 16 3 16 0 12-1 12-3 12-4 12-6 20-14 44-39 16-12 20-12 12-6z"/>
<path stroke-width="6.2" d="M1291 506l14-3 12-1 12 1 12 4 12 6 8 6 12 11 8 10 11 18 5 12 3 12 4 24 3 44 2 24 4 16 4 13 6 11 5 8 14 16 15 12 12 8 12 6 12 5 12 3 8 2 16 2 16 1 24-4 13-3 15-5 68-30 20-8 16-4 16-4 16-2 12 0 16 0 12 2 12 3 12 4 12 7 8 5 9 8 9 12 9 16 5 16 3 16-1 16-3 12-4 16-27 76-11 40-5 24-3 16-1 12-1 28 1 16 3 24 5 28 4 14 8 26 23 60 7 24 3 24 0 12-1 12-3 16-6 12-8 12-11 12-12 8-16 8-16 4-20 3-12 1-12-1-24-4-24-8-45-19-31-12-27-8-29-6-24-1-20 1-16 4-8 3-12 6-16 11-8 7-11 11-9 12-5 8-10 20-5 16-3 16-3 28-2 36-2 16-3 16-7 16-8 12-8 8-8 6-16 9-16 6-16 4-16 0-16-3-12-5-12-7-12-8-46-42-20-16-14-8-8-4-12-4-16-3-16 0-20 2-16 5-16 7-14 9-20 16-34 29-12 9-12 6-16 7-12 3-8 1-16-1-12-3-13-7-7-6-7-6-11-16-8-16-6-16-4-20-1-20-3-48-4-24-3-12-5-11-6-9-6-8-8-7-12-9-12-7-16-7-16-6-16-3-56-8-24-6-12-4-8-4-9-7-8-8-6-8-5-8-3-8-3-12 0-8 0-12 3-12 3-12 8-16 11-16 14-16 31-32 16-21 6-11 6-12 4-14 1-14-1-12-4-14-5-10-7-13-16-20-33-35-10-12-9-12-7-12-7-16-3-12-1-16 1-12 4-16 7-12 11-12 15-10 16-7 16-5 16-2 44-5 13-3 15-5 18-7 15-8 15-11 12-12 8-12 4-7 4-10 3-12 2-24 2-60 2-16 4-16 8-16 5-8 6-7 12-11 16-10 16-6 12-2 8 0 8 0 12 3 12 6 12 8 16 12 40 35 12 9 12 6 12 6 16 5 16 2 16 0 12-1 16-4 12-4 12-7 17-12 39-33 20-16 20-12z"/>
<path stroke-width="4.4" stroke-dasharray="9 5" d="M1292 502l13-3 12-1 12 2 12 3 12 6 12 9 9 8 10 12 5 8 6 12 5 12 3 12 3 24 2 44 2 20 3 16 5 16 6 12 6 8 14 16 13 11 12 8 12 6 16 6 20 5 12 1 12 1 19-2 21-5 16-6 68-30 24-9 28-7 16-3 12 0 16 0 12 2 12 2 12 5 12 6 8 5 9 8 11 12 9 16 6 16 2 16 0 16-3 16-3 12-27 74-13 42-6 28-2 16-2 24-1 16 1 16 3 24 3 16 6 24 11 34 21 54 7 24 3 12 1 12 0 12-1 12-3 16-5 12-7 12-12 13-12 9-16 8-16 5-20 3-12 1-16-1-24-5-24-8-48-21-28-10-28-9-28-6-24-1-20 1-12 3-12 4-16 8-18 14-15 16-6 8-7 12-9 20-5 16-3 24-3 52-2 20-4 16-5 12-4 8-6 8-13 12-16 9-8 4-12 4-16 3-16 0-16-3-16-6-12-8-12-9-40-38-14-12-18-12-18-8-18-4-16-1-20 2-16 4-17 7-19 12-20 16-32 29-12 8-12 7-16 6-16 4-16 0-8-1-8-2-8-4-8-5-12-10-12-16-5-8-5-12-5-16-3-20-2-20-2-44-3-24-3-13-4-11-8-12-7-8-9-8-11-8-13-7-12-5-16-5-16-4-64-9-20-4-12-5-8-5-8-5-8-8-8-11-4-8-3-8-2-12-1-8 1-12 2-12 4-12 8-16 11-16 14-16 34-35 16-21 4-8 7-16 3-12 2-12-2-12-3-12-6-12-7-12-9-12-9-11-39-41-12-16-7-12-7-16-4-12-1-16 1-12 4-16 4-8 5-8 12-12 16-10 14-6 14-4 16-3 48-5 16-3 12-4 16-6 13-7 15-10 12-11 8-11 4-6 4-10 4-12 2-12 1-16 2-64 2-16 4-16 8-16 9-12 8-8 8-6 16-10 16-6 12-2 16 1 12 3 12 5 12 8 16 13 28 26 10 8 14 10 8 5 16 7 16 5 16 3 16 0 12-1 12-3 12-4 12-6 20-14 44-38 16-12 20-12z"/>
</g>
<g fill="#f00"><path transform="translate(466.00 291.00)" d="M-10.9-10.9H-.9V-9.2L-3.1-7.4V-2.9H3.85V-7.4L1.1-9.2V-10.9H10.9V-9.2L8.9-7.4V6.8L10.9 8.9V10.9H1.1V8.9L3.85 6.8V1.1H-3.1V6.8L-.9 8.9V10.9H-10.9V8.9L-8.15 6.8V-7.4L-10.9-9.2Z"/>
<path transform="translate(466.10 748.20)" d="M-10.9-10.9H-.9V-9.2L-3.1-7.4V-2.9H3.85V-7.4L1.1-9.2V-10.9H10.9V-9.2L8.9-7.4V6.8L10.9 8.9V10.9H1.1V8.9L3.85 6.8V1.1H-3.1V6.8L-.9 8.9V10.9H-10.9V8.9L-8.15 6.8V-7.4L-10.9-9.2Z"/>
<path transform="translate(660.15 286.90)" d="M-10.9-10.9H-.9V-9.2L-3.1-7.4V-2.9H3.85V-7.4L1.1-9.2V-10.9H10.9V-9.2L8.9-7.4V6.8L10.9 8.9V10.9H1.1V8.9L3.85 6.8V1.1H-3.1V6.8L-.9 8.9V10.9H-10.9V8.9L-8.15 6.8V-7.4L-10.9-9.2Z"/>
<path transform="translate(660.50 752.20)" d="M-10.9-10.9H-.9V-9.2L-3.1-7.4V-2.9H3.85V-7.4L1.1-9.2V-10.9H10.9V-9.2L8.9-7.4V6.8L10.9 8.9V10.9H1.1V8.9L3.85 6.8V1.1H-3.1V6.8L-.9 8.9V10.9H-10.9V8.9L-8.15 6.8V-7.4L-10.9-9.2Z"/>
<path transform="translate(339.85 426.70)" d="M-10.9-10.9H-.9V-9.2L-3.1-7.4V-2.9H3.85V-7.4L1.1-9.2V-10.9H10.9V-9.2L8.9-7.4V6.8L10.9 8.9V10.9H1.1V8.9L3.85 6.8V1.1H-3.1V6.8L-.9 8.9V10.9H-10.9V8.9L-8.15 6.8V-7.4L-10.9-9.2Z"/>
<path transform="translate(339.85 612.90)" d="M-10.9-10.9H-.9V-9.2L-3.1-7.4V-2.9H3.85V-7.4L1.1-9.2V-10.9H10.9V-9.2L8.9-7.4V6.8L10.9 8.9V10.9H1.1V8.9L3.85 6.8V1.1H-3.1V6.8L-.9 8.9V10.9H-10.9V8.9L-8.15 6.8V-7.4L-10.9-9.2Z"/>
<path transform="translate(887.30 399.00)" d="M-10.9-10.9H-.9V-9.2L-3.1-7.4V-2.9H3.85V-7.4L1.1-9.2V-10.9H10.9V-9.2L8.9-7.4V6.8L10.9 8.9V10.9H1.1V8.9L3.85 6.8V1.1H-3.1V6.8L-.9 8.9V10.9H-10.9V8.9L-8.15 6.8V-7.4L-10.9-9.2Z"/>
<path transform="translate(887.30 640.80)" d="M-10.9-10.9H-.9V-9.2L-3.1-7.4V-2.9H3.85V-7.4L1.1-9.2V-10.9H10.9V-9.2L8.9-7.4V6.8L10.9 8.9V10.9H1.1V8.9L3.85 6.8V1.1H-3.1V6.8L-.9 8.9V10.9H-10.9V8.9L-8.15 6.8V-7.4L-10.9-9.2Z"/>
<path transform="translate(501.20 374.70)" d="M-3.5 -11.4L5.85 -11.4L6.3 -9.1L7.1 -7.25L7.85 -5.35L7.5 -4.3L6 -3.65L4.9 -4.4L3.5 -6.2L2 -7.3L0.15 -7.5L-1.7 -7.3L-3.2 -5.95L-4 -3.5L-4.15 -0.4L-4 3L-2.9 5.1L-1.4 6.65L0.15 7.3L2 6.65L3.5 5.45L4.45 3.9L5.2 2.65L7.85 2.8L8.05 4.5L7.5 6.05L6 8.2L4.1 10.05L2 11L-0.5 11.45L-2.9 11L-5.1 9.75L-6.9 7.9L-8.5 5.45L-9.55 2.65L-9.95 -0.4L-9.7 -3.5L-8.95 -5.95L-7.55 -8.4L-5.7 -10.25Z"/>
<path transform="translate(501.20 663.65)" d="M-3.5 -11.4L5.85 -11.4L6.3 -9.1L7.1 -7.25L7.85 -5.35L7.5 -4.3L6 -3.65L4.9 -4.4L3.5 -6.2L2 -7.3L0.15 -7.5L-1.7 -7.3L-3.2 -5.95L-4 -3.5L-4.15 -0.4L-4 3L-2.9 5.1L-1.4 6.65L0.15 7.3L2 6.65L3.5 5.45L4.45 3.9L5.2 2.65L7.85 2.8L8.05 4.5L7.5 6.05L6 8.2L4.1 10.05L2 11L-0.5 11.45L-2.9 11L-5.1 9.75L-6.9 7.9L-8.5 5.45L-9.55 2.65L-9.95 -0.4L-9.7 -3.5L-8.95 -5.95L-7.55 -8.4L-5.7 -10.25Z"/>
<path transform="translate(623.10 371.40)" d="M-3.5 -11.4L5.85 -11.4L6.3 -9.1L7.1 -7.25L7.85 -5.35L7.5 -4.3L6 -3.65L4.9 -4.4L3.5 -6.2L2 -7.3L0.15 -7.5L-1.7 -7.3L-3.2 -5.95L-4 -3.5L-4.15 -0.4L-4 3L-2.9 5.1L-1.4 6.65L0.15 7.3L2 6.65L3.5 5.45L4.45 3.9L5.2 2.65L7.85 2.8L8.05 4.5L7.5 6.05L6 8.2L4.1 10.05L2 11L-0.5 11.45L-2.9 11L-5.1 9.75L-6.9 7.9L-8.5 5.45L-9.55 2.65L-9.95 -0.4L-9.7 -3.5L-8.95 -5.95L-7.55 -8.4L-5.7 -10.25Z"/>
<path transform="translate(623.20 667.70)" d="M-3.5 -11.4L5.85 -11.4L6.3 -9.1L7.1 -7.25L7.85 -5.35L7.5 -4.3L6 -3.65L4.9 -4.4L3.5 -6.2L2 -7.3L0.15 -7.5L-1.7 -7.3L-3.2 -5.95L-4 -3.5L-4.15 -0.4L-4 3L-2.9 5.1L-1.4 6.65L0.15 7.3L2 6.65L3.5 5.45L4.45 3.9L5.2 2.65L7.85 2.8L8.05 4.5L7.5 6.05L6 8.2L4.1 10.05L2 11L-0.5 11.45L-2.9 11L-5.1 9.75L-6.9 7.9L-8.5 5.45L-9.55 2.65L-9.95 -0.4L-9.7 -3.5L-8.95 -5.95L-7.55 -8.4L-5.7 -10.25Z"/>
<path transform="translate(424.20 458.50)" d="M-3.5 -11.4L5.85 -11.4L6.3 -9.1L7.1 -7.25L7.85 -5.35L7.5 -4.3L6 -3.65L4.9 -4.4L3.5 -6.2L2 -7.3L0.15 -7.5L-1.7 -7.3L-3.2 -5.95L-4 -3.5L-4.15 -0.4L-4 3L-2.9 5.1L-1.4 6.65L0.15 7.3L2 6.65L3.5 5.45L4.45 3.9L5.2 2.65L7.85 2.8L8.05 4.5L7.5 6.05L6 8.2L4.1 10.05L2 11L-0.5 11.45L-2.9 11L-5.1 9.75L-6.9 7.9L-8.5 5.45L-9.55 2.65L-9.95 -0.4L-9.7 -3.5L-8.95 -5.95L-7.55 -8.4L-5.7 -10.25Z"/>
<path transform="translate(424.20 580.70)" d="M-3.5 -11.4L5.85 -11.4L6.3 -9.1L7.1 -7.25L7.85 -5.35L7.5 -4.3L6 -3.65L4.9 -4.4L3.5 -6.2L2 -7.3L0.15 -7.5L-1.7 -7.3L-3.2 -5.95L-4 -3.5L-4.15 -0.4L-4 3L-2.9 5.1L-1.4 6.65L0.15 7.3L2 6.65L3.5 5.45L4.45 3.9L5.2 2.65L7.85 2.8L8.05 4.5L7.5 6.05L6 8.2L4.1 10.05L2 11L-0.5 11.45L-2.9 11L-5.1 9.75L-6.9 7.9L-8.5 5.45L-9.55 2.65L-9.95 -0.4L-9.7 -3.5L-8.95 -5.95L-7.55 -8.4L-5.7 -10.25Z"/>
<path transform="translate(697.60 455.10)" d="M-3.5 -11.4L5.85 -11.4L6.3 -9.1L7.1 -7.25L7.85 -5.35L7.5 -4.3L6 -3.65L4.9 -4.4L3.5 -6.2L2 -7.3L0.15 -7.5L-1.7 -7.3L-3.2 -5.95L-4 -3.5L-4.15 -0.4L-4 3L-2.9 5.1L-1.4 6.65L0.15 7.3L2 6.65L3.5 5.45L4.45 3.9L5.2 2.65L7.85 2.8L8.05 4.5L7.5 6.05L6 8.2L4.1 10.05L2 11L-0.5 11.45L-2.9 11L-5.1 9.75L-6.9 7.9L-8.5 5.45L-9.55 2.65L-9.95 -0.4L-9.7 -3.5L-8.95 -5.95L-7.55 -8.4L-5.7 -10.25Z"/>
<path transform="translate(697.60 583.70)" d="M-3.5 -11.4L5.85 -11.4L6.3 -9.1L7.1 -7.25L7.85 -5.35L7.5 -4.3L6 -3.65L4.9 -4.4L3.5 -6.2L2 -7.3L0.15 -7.5L-1.7 -7.3L-3.2 -5.95L-4 -3.5L-4.15 -0.4L-4 3L-2.9 5.1L-1.4 6.65L0.15 7.3L2 6.65L3.5 5.45L4.45 3.9L5.2 2.65L7.85 2.8L8.05 4.5L7.5 6.05L6 8.2L4.1 10.05L2 11L-0.5 11.45L-2.9 11L-5.1 9.75L-6.9 7.9L-8.5 5.45L-9.55 2.65L-9.95 -0.4L-9.7 -3.5L-8.95 -5.95L-7.55 -8.4L-5.7 -10.25Z"/>
<path transform="translate(819.30 462.10)" d="M-3.5 -11.4L5.85 -11.4L6.3 -9.1L7.1 -7.25L7.85 -5.35L7.5 -4.3L6 -3.65L4.9 -4.4L3.5 -6.2L2 -7.3L0.15 -7.5L-1.7 -7.3L-3.2 -5.95L-4 -3.5L-4.15 -0.4L-4 3L-2.9 5.1L-1.4 6.65L0.15 7.3L2 6.65L3.5 5.45L4.45 3.9L5.2 2.65L7.85 2.8L8.05 4.5L7.5 6.05L6 8.2L4.1 10.05L2 11L-0.5 11.45L-2.9 11L-5.1 9.75L-6.9 7.9L-8.5 5.45L-9.55 2.65L-9.95 -0.4L-9.7 -3.5L-8.95 -5.95L-7.55 -8.4L-5.7 -10.25Z"/>
<path transform="translate(819.30 577.00)" d="M-3.5 -11.4L5.85 -11.4L6.3 -9.1L7.1 -7.25L7.85 -5.35L7.5 -4.3L6 -3.65L4.9 -4.4L3.5 -6.2L2 -7.3L0.15 -7.5L-1.7 -7.3L-3.2 -5.95L-4 -3.5L-4.15 -0.4L-4 3L-2.9 5.1L-1.4 6.65L0.15 7.3L2 6.65L3.5 5.45L4.45 3.9L5.2 2.65L7.85 2.8L8.05 4.5L7.5 6.05L6 8.2L4.1 10.05L2 11L-0.5 11.45L-2.9 11L-5.1 9.75L-6.9 7.9L-8.5 5.45L-9.55 2.65L-9.95 -0.4L-9.7 -3.5L-8.95 -5.95L-7.55 -8.4L-5.7 -10.25Z"/></g>
</g>
<path d="M140.5 91.4V952.5H1082.6" fill="none" stroke="#000" stroke-width="1.1"/>
<path d="M140.5 91.4H1082.6V952.5" fill="none" stroke="#111" stroke-width="0.85"/>
<path d="M146.20 91.40v-6.3M146.20 952.50v6.3M190.50 91.40v-9.8M190.50 952.50v9.8M234.80 91.40v-6.3M234.80 952.50v6.3M279.10 91.40v-9.8M279.10 952.50v9.8M323.40 91.40v-6.3M323.40 952.50v6.3M367.70 91.40v-9.8M367.70 952.50v9.8M412.00 91.40v-6.3M412.00 952.50v6.3M456.30 91.40v-9.8M456.30 952.50v9.8M500.60 91.40v-6.3M500.60 952.50v6.3M544.90 91.40v-9.8M544.90 952.50v9.8M589.20 91.40v-6.3M589.20 952.50v6.3M633.50 91.40v-9.8M633.50 952.50v9.8M677.80 91.40v-6.3M677.80 952.50v6.3M722.10 91.40v-9.8M722.10 952.50v9.8M766.40 91.40v-6.3M766.40 952.50v6.3M810.70 91.40v-9.8M810.70 952.50v9.8M855.00 91.40v-6.3M855.00 952.50v6.3M899.30 91.40v-9.8M899.30 952.50v9.8M943.60 91.40v-6.3M943.60 952.50v6.3M987.90 91.40v-9.8M987.90 952.50v9.8M1032.20 91.40v-6.3M1032.20 952.50v6.3M1076.50 91.40v-9.8M1076.50 952.50v9.8M140.50 944.88h-7.0M1082.60 944.88h7.0M140.50 900.59h-9.8M1082.60 900.59h9.8M140.50 856.30h-7.0M1082.60 856.30h7.0M140.50 812.01h-9.8M1082.60 812.01h9.8M140.50 767.72h-7.0M1082.60 767.72h7.0M140.50 723.43h-9.8M1082.60 723.43h9.8M140.50 679.14h-7.0M1082.60 679.14h7.0M140.50 634.85h-9.8M1082.60 634.85h9.8M140.50 590.56h-7.0M1082.60 590.56h7.0M140.50 546.27h-9.8M1082.60 546.27h9.8M140.50 501.98h-7.0M1082.60 501.98h7.0M140.50 457.69h-9.8M1082.60 457.69h9.8M140.50 413.40h-7.0M1082.60 413.40h7.0M140.50 369.11h-9.8M1082.60 369.11h9.8M140.50 324.82h-7.0M1082.60 324.82h7.0M140.50 280.53h-9.8M1082.60 280.53h9.8M140.50 236.24h-7.0M1082.60 236.24h7.0M140.50 191.95h-9.8M1082.60 191.95h9.8M140.50 147.66h-7.0M1082.60 147.66h7.0M140.50 103.37h-9.8M1082.60 103.37h9.8" fill="none" stroke="#000" stroke-width="1.15"/>
<rect x="1117.1" y="91.9" width="34.30000000000018" height="860.4" fill="url(#cb)"/>
<path d="M1151.4 91.3V952.6" fill="none" stroke="#000" stroke-width="1.7"/><path d="M1151.40 951.88h10.5M1151.40 921.17h7.5M1151.40 890.46h10.5M1151.40 859.74h7.5M1151.40 829.03h10.5M1151.40 798.32h7.5M1151.40 767.60h10.5M1151.40 736.89h7.5M1151.40 706.18h10.5M1151.40 675.46h7.5M1151.40 644.75h10.5M1151.40 614.03h7.5M1151.40 583.32h10.5M1151.40 552.61h7.5M1151.40 521.89h10.5M1151.40 491.18h7.5M1151.40 460.47h10.5M1151.40 429.75h7.5M1151.40 399.04h10.5M1151.40 368.32h7.5M1151.40 337.61h10.5M1151.40 306.90h7.5M1151.40 276.18h10.5M1151.40 245.47h7.5M1151.40 214.75h10.5M1151.40 184.04h7.5M1151.40 153.33h10.5M1151.40 122.61h7.5M1151.40 91.90h10.5" fill="none" stroke="#000" stroke-width="1.25"/>
<text x="191.4" y="991.8" text-anchor="middle">-10.00</text>
<text x="280.0" y="991.8" text-anchor="middle">-8.00</text>
<text x="368.6" y="991.8" text-anchor="middle">-6.00</text>
<text x="457.2" y="991.8" text-anchor="middle">-4.00</text>
<text x="545.8" y="991.8" text-anchor="middle">-2.00</text>
<text x="634.4" y="991.8" text-anchor="middle">0.00</text>
<text x="723.0" y="991.8" text-anchor="middle">2.00</text>
<text x="811.6" y="991.8" text-anchor="middle">4.00</text>
<text x="900.2" y="991.8" text-anchor="middle">6.00</text>
<text x="988.8" y="991.8" text-anchor="middle">8.00</text>
<text x="1077.4" y="991.8" text-anchor="middle">10.00</text>
<text x="123.6" y="911.4" text-anchor="end">-6.00</text>
<text x="123.6" y="822.8" text-anchor="end">-4.00</text>
<text x="123.6" y="734.2" text-anchor="end">-2.00</text>
<text x="123.6" y="645.6" text-anchor="end">0.00</text>
<text x="123.6" y="557.1" text-anchor="end">2.00</text>
<text x="123.6" y="468.5" text-anchor="end">4.00</text>
<text x="123.6" y="379.9" text-anchor="end">6.00</text>
<text x="123.6" y="291.3" text-anchor="end">8.00</text>
<text x="123.6" y="202.8" text-anchor="end">10.00</text>
<text x="123.6" y="114.2" text-anchor="end">12.00</text>
<text x="1263.4" y="961.9" text-anchor="end">-5.000</text>
<text x="1263.4" y="900.5" text-anchor="end">-2.500</text>
<text x="1263.4" y="839.0" text-anchor="end">0.000</text>
<text x="1263.4" y="777.6" text-anchor="end">2.500</text>
<text x="1263.4" y="716.2" text-anchor="end">5.000</text>
<text x="1263.4" y="654.7" text-anchor="end">7.500</text>
<text x="1263.4" y="593.3" text-anchor="end">10.000</text>
<text x="1263.4" y="531.9" text-anchor="end">12.500</text>
<text x="1263.4" y="470.5" text-anchor="end">15.000</text>
<text x="1263.4" y="409.0" text-anchor="end">17.500</text>
<text x="1263.4" y="347.6" text-anchor="end">20.000</text>
<text x="1263.4" y="286.2" text-anchor="end">22.500</text>
<text x="1263.4" y="224.8" text-anchor="end">25.000</text>
<text x="1263.4" y="163.3" text-anchor="end">27.500</text>
<text x="1263.4" y="101.9" text-anchor="end">30.000</text>
<text x="612.6" y="1022.3" text-anchor="middle" style="font-size:27.3px;letter-spacing:1.7px">Length unit: Bohr</text>
</svg>
</body></html>
